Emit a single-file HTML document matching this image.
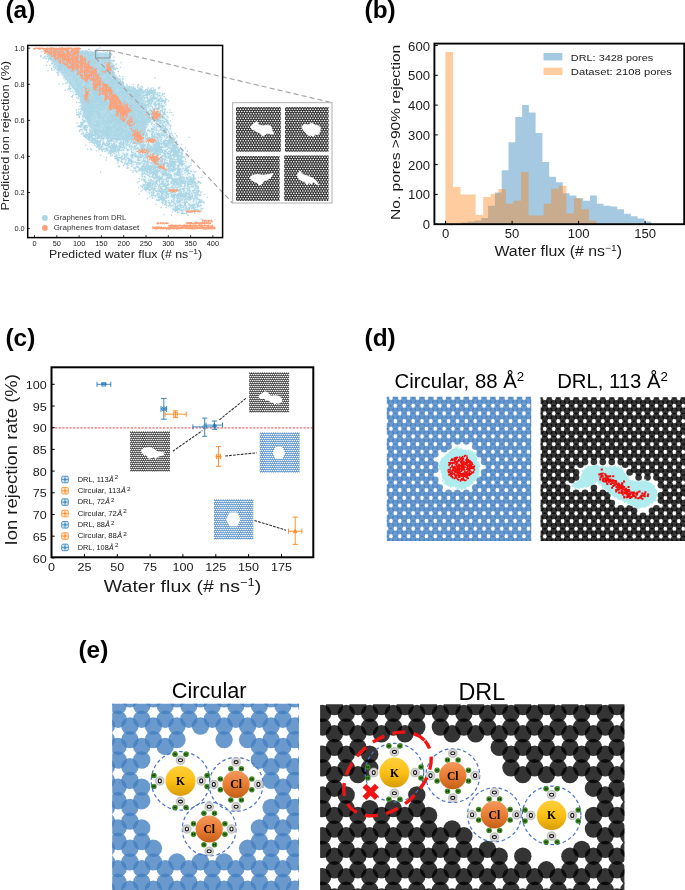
<!DOCTYPE html>
<html><head><meta charset="utf-8"><title>Figure</title>
<style>
html,body{margin:0;padding:0;background:#fff;}
body{width:685px;height:890px;overflow:hidden;}
svg{display:block;font-family:"Liberation Sans",sans-serif;}
</style></head><body>
<svg width="685" height="890" viewBox="0 0 685 890">
<defs>
<pattern id="hexS" width="13" height="9" patternUnits="userSpaceOnUse"><rect width="13" height="9" fill="#343434"/><circle cx="0.65" cy="0" r="0.8" fill="#fff"/><circle cx="3.25" cy="0" r="0.8" fill="#fff"/><circle cx="5.85" cy="0" r="0.8" fill="#fff"/><circle cx="8.45" cy="0" r="0.8" fill="#fff"/><circle cx="11.05" cy="0" r="0.8" fill="#fff"/><circle cx="13.65" cy="0" r="0.8" fill="#fff"/><circle cx="-0.65" cy="2.25" r="0.8" fill="#fff"/><circle cx="1.95" cy="2.25" r="0.8" fill="#fff"/><circle cx="4.55" cy="2.25" r="0.8" fill="#fff"/><circle cx="7.15" cy="2.25" r="0.8" fill="#fff"/><circle cx="9.75" cy="2.25" r="0.8" fill="#fff"/><circle cx="12.35" cy="2.25" r="0.8" fill="#fff"/><circle cx="0.65" cy="4.5" r="0.8" fill="#fff"/><circle cx="3.25" cy="4.5" r="0.8" fill="#fff"/><circle cx="5.85" cy="4.5" r="0.8" fill="#fff"/><circle cx="8.45" cy="4.5" r="0.8" fill="#fff"/><circle cx="11.05" cy="4.5" r="0.8" fill="#fff"/><circle cx="13.65" cy="4.5" r="0.8" fill="#fff"/><circle cx="-0.65" cy="6.75" r="0.8" fill="#fff"/><circle cx="1.95" cy="6.75" r="0.8" fill="#fff"/><circle cx="4.55" cy="6.75" r="0.8" fill="#fff"/><circle cx="7.15" cy="6.75" r="0.8" fill="#fff"/><circle cx="9.75" cy="6.75" r="0.8" fill="#fff"/><circle cx="12.35" cy="6.75" r="0.8" fill="#fff"/><circle cx="0.65" cy="9" r="0.8" fill="#fff"/><circle cx="3.25" cy="9" r="0.8" fill="#fff"/><circle cx="5.85" cy="9" r="0.8" fill="#fff"/><circle cx="8.45" cy="9" r="0.8" fill="#fff"/><circle cx="11.05" cy="9" r="0.8" fill="#fff"/><circle cx="13.65" cy="9" r="0.8" fill="#fff"/></pattern>
<pattern id="hexD" width="11" height="4" patternUnits="userSpaceOnUse"><rect width="11" height="4" fill="#424242"/><rect x="0.55" y="0" width="1.65" height="1.2" rx=".4" fill="#fff"/><rect x="2.75" y="0" width="1.65" height="1.2" rx=".4" fill="#fff"/><rect x="4.95" y="0" width="1.65" height="1.2" rx=".4" fill="#fff"/><rect x="7.15" y="0" width="1.65" height="1.2" rx=".4" fill="#fff"/><rect x="9.35" y="0" width="1.65" height="1.2" rx=".4" fill="#fff"/><rect x="-0.55" y="2" width="1.65" height="1.2" rx=".4" fill="#fff"/><rect x="1.65" y="2" width="1.65" height="1.2" rx=".4" fill="#fff"/><rect x="3.85" y="2" width="1.65" height="1.2" rx=".4" fill="#fff"/><rect x="6.05" y="2" width="1.65" height="1.2" rx=".4" fill="#fff"/><rect x="8.25" y="2" width="1.65" height="1.2" rx=".4" fill="#fff"/><rect x="10.45" y="2" width="1.65" height="1.2" rx=".4" fill="#fff"/></pattern>
<pattern id="hexB" width="11" height="4" patternUnits="userSpaceOnUse"><rect width="11" height="4" fill="#5a94d0"/><rect x="-1.65" y="0" width="1.7" height="1.25" rx=".4" fill="#fff"/><rect x="0.55" y="0" width="1.7" height="1.25" rx=".4" fill="#fff"/><rect x="2.75" y="0" width="1.7" height="1.25" rx=".4" fill="#fff"/><rect x="4.95" y="0" width="1.7" height="1.25" rx=".4" fill="#fff"/><rect x="7.15" y="0" width="1.7" height="1.25" rx=".4" fill="#fff"/><rect x="9.35" y="0" width="1.7" height="1.25" rx=".4" fill="#fff"/><rect x="-0.55" y="2" width="1.7" height="1.25" rx=".4" fill="#fff"/><rect x="1.65" y="2" width="1.7" height="1.25" rx=".4" fill="#fff"/><rect x="3.85" y="2" width="1.7" height="1.25" rx=".4" fill="#fff"/><rect x="6.05" y="2" width="1.7" height="1.25" rx=".4" fill="#fff"/><rect x="8.25" y="2" width="1.7" height="1.25" rx=".4" fill="#fff"/><rect x="10.45" y="2" width="1.7" height="1.25" rx=".4" fill="#fff"/></pattern>
<clipPath id="cl1"><rect x="386.8" y="396.8" width="144.4" height="144.2"/></clipPath>
<clipPath id="cl2"><rect x="540.6" y="397.2" width="144.4" height="143.8"/></clipPath>
<linearGradient id="gK" x1="0" y1="0" x2="0" y2="1"><stop offset="0" stop-color="#fdd03c"/><stop offset=".5" stop-color="#fcc015"/><stop offset="1" stop-color="#d89c06"/></linearGradient>
<linearGradient id="gCl" x1="0" y1="0" x2="0" y2="1"><stop offset="0" stop-color="#f3995c"/><stop offset=".5" stop-color="#ea7d33"/><stop offset="1" stop-color="#c35f18"/></linearGradient>
<radialGradient id="gO" cx=".5" cy=".5" r=".5"><stop offset="0" stop-color="#fafafa"/><stop offset=".55" stop-color="#dcdcdc"/><stop offset=".85" stop-color="#bdbdbd"/><stop offset="1" stop-color="#c8c8c8" stop-opacity=".55"/></radialGradient>
<radialGradient id="gH" cx=".5" cy=".45" r=".6"><stop offset="0" stop-color="#5cb030"/><stop offset="1" stop-color="#2f7a1a"/></radialGradient>
<clipPath id="cl3"><rect x="112.2" y="703.8" width="186.7" height="186.2"/></clipPath>
<clipPath id="cl4"><rect x="320.1" y="704.3" width="304.3" height="185.7"/></clipPath>
</defs>
<rect width="685" height="890" fill="#fff"/>
<g opacity="0.999">
<g id="pa">
<text x="5.5" y="18.2" font-size="24.4" font-weight="bold" >(a)</text>
<path d="M44 49.5L80 50.5L110.8 52.5L114.5 72L124 84L134.4 88.5L161.5 92.5L167.9 116.8L174.5 140.2L187.9 163.7L198.2 181.7L202.4 211.5L190 212.5L176.8 212L160 203L146.4 193.4L137 170L116 158L95 146.7L84 135L80.5 123.4L79 100L68 85L57 71L49 60 Z" fill="#abd6e6" fill-opacity=".2"/>
<path d="M46 50.5L80 51.5L109 53.5L112.5 73L124 86L140 92L150 118L140 140L110 140L92 130L84 115L82 100L70 84L59 70L51 60 Z" fill="#abd6e6" fill-opacity=".8" stroke="#abd6e6" stroke-opacity=".3" stroke-width="2.5" stroke-linejoin="round"/>
<path d="M174.2 176.1h0M164.3 189.4h0M180.2 179.1h0M87.7 62.8h0M140.4 164.1h0M73.4 76.7h0M132.6 129.3h0M198 183h0M115.2 111.9h0M119.4 76h0M98.8 83.1h0M88.7 119.1h0M112.8 105.9h0M148.7 143.7h0M97.1 51.7h0M164.6 145.8h0M107.9 79.9h0M165.7 151.5h0M109.2 62.8h0M128.4 123.6h0M108.4 98.9h0M160 120.5h0M126.7 116.8h0M158.7 196.5h0M115.9 77h0M89.3 58.4h0M113.3 127.4h0M167.7 130.2h0M121.2 150.6h0M90.6 76.6h0M107.7 77.5h0M110 79h0M177.4 208.4h0M127 112.2h0M115.5 146h0M172.2 146h0M193.8 178.6h0M153.8 132.2h0M164.5 172.7h0M151 110.3h0M95.9 76.9h0M180.1 202.1h0M140.7 125.8h0M109.9 146.5h0M117.5 114.8h0M142.9 173.9h0M151.5 154.7h0M135.8 106.5h0M126.1 116.7h0M177.5 189.5h0M61.7 64h0M111.4 89.1h0M151.8 189.1h0M133.2 120.3h0M97.9 98.8h0M109.2 78.5h0M56.9 62h0M139.5 121.7h0M77.1 59.1h0M142.5 170.3h0M154.6 127.8h0M106.6 76.4h0M130.1 159h0M182.6 189.2h0M98.9 123.7h0M81.3 114.1h0M121.9 121.1h0M103.6 114.1h0M151.7 122.8h0M168.8 190.2h0M168.9 205.8h0M142.1 132.8h0M82.7 79.2h0M164.1 96.4h0M152.5 189.1h0M182.3 195.6h0M148.4 112.7h0M141.2 90.9h0M116.5 135.5h0M157.1 135h0M181.4 164.5h0M183.2 168.2h0M135.5 154.3h0M83.3 88.2h0M132 147.8h0M116.7 155.6h0M91 79.1h0M139.7 163.3h0M93.7 70.7h0M164.5 190.7h0M89.3 83.2h0M147.4 167.5h0M57 69.3h0M198.9 205.8h0M174 198.4h0M124.4 104h0M95.2 136.2h0M163.1 186.2h0M48.3 54.1h0M170.3 135.5h0M115.9 131h0M102.9 88.2h0M131.8 118.3h0M161.8 110.3h0M123.4 111.4h0M151.7 167.8h0M174.6 187.8h0M118.5 98.3h0M88.6 113.6h0M181.9 164.9h0M121.8 101.1h0M151.2 99.2h0M168.5 169h0M132.6 89.8h0M175.2 153.3h0M77.1 85.3h0M96.3 122.1h0M113.7 110.9h0M80.9 122.4h0M148.3 155.6h0M147.1 150.9h0M81.6 66.1h0M93.7 119.8h0M161.2 122h0M121.9 158.1h0M160.4 110.4h0M161.8 150.5h0M81.1 80.3h0M110.7 146.8h0M121.4 92.7h0M99.6 66.4h0M193.9 204.6h0M96.8 53.6h0M136.2 122.9h0M179.8 206h0M153.1 171.4h0M79.5 62.5h0M88.1 90.8h0M97.4 95.2h0M96.7 125h0M98.1 86.1h0M138.4 157.8h0M186.1 188.5h0M49.3 55.4h0M105.3 61.1h0M104.6 55.6h0M76.4 78.2h0M68.8 73.9h0M157.9 139.9h0M127.1 141h0M128.3 162.1h0M97.4 101h0M98.8 146h0M73 62.7h0M178.3 159.9h0M156.3 164.2h0M194.8 212.1h0M78.8 109.3h0M142.3 173.7h0M121.3 109h0M145.7 149.2h0M121.9 118.7h0M118.6 111.1h0M100 137.9h0M117.2 122.3h0M89.9 79.1h0M138.3 101.2h0M98.4 101.8h0M89.4 49.7h0M117.3 121.7h0M126.7 121.8h0M99.7 76.4h0M190.9 205.4h0M162.8 108.2h0M194.3 193.1h0M101.8 65.3h0M80.1 64.3h0M109.5 133.7h0M124.9 156.3h0M121.6 126.4h0M82.9 109.1h0M103.4 106.4h0M58.8 53.3h0M161.3 164.2h0M167 116.1h0M189.1 184.3h0M145.1 103.8h0M191.3 171.5h0M160 167.5h0M164.8 192.6h0M126.3 141h0M97.5 111h0M159.2 137.4h0M131 107.7h0M148 122.6h0M155.5 181.6h0M59.4 63.8h0M158.4 179.3h0M165.9 200.8h0M107.2 56.3h0M102.2 70.2h0M92.7 134.6h0M146.2 173.7h0M113.3 125.9h0M188 193.9h0M193.8 175.2h0M135.5 108.7h0M50.6 50.4h0M92.2 93.7h0M107.2 135.2h0M168.4 154.3h0M87.9 63.6h0M93.1 69.8h0M100.4 69.7h0M146.5 154.7h0M198.6 210.4h0M72.8 75.2h0M132.1 157.2h0M174.7 162.1h0M166.1 130.4h0M157.6 154.7h0M101 98.7h0M85 64.9h0M87.5 84.3h0M54.5 53.2h0M89.8 58.5h0M163.9 156.2h0M130.4 138.5h0M90.7 91.2h0M129.9 94.8h0M106.3 72.4h0M89 84.6h0M70 58.1h0M141.7 139.8h0M176.2 185.3h0M160.4 136h0M194.5 190.6h0M89.9 100h0M171 155.2h0M147.4 93.2h0M137.4 160.3h0M102.7 119.1h0M95.9 61.2h0M136.6 118.4h0M162.5 135.5h0M120 95h0M73 65.6h0M165.4 145h0M159.6 134h0M113.3 138.1h0M145.2 122.5h0M153.4 180.7h0M165.2 146.9h0M112.9 151.1h0M136.5 134.4h0M157.7 113.8h0M141.8 91.1h0M172.3 161.2h0M146.8 106.9h0M100.6 71.8h0M92.1 124.7h0M116.2 141.3h0M99.6 116.9h0M192.9 181.2h0M185.5 161.4h0M101.6 82.7h0M149.1 185.2h0M170.8 171.1h0M73.4 77.3h0M179.1 212.1h0M116.4 124.9h0M129.9 99.6h0M86.7 67.7h0M84.2 105h0M131.3 162.2h0M169 193.4h0M64.2 73h0M110.8 140.1h0M102.4 60.8h0M142.4 122.1h0M126.3 93.9h0M88.6 119.3h0M146.9 185.4h0M116 100.1h0M79.7 76.6h0M154 182.5h0M76.8 75.5h0M132.9 127h0M141.1 148.4h0M155.3 137.2h0M177.3 170.1h0M110.5 71.2h0M138.8 134h0M69.5 82.9h0M112.6 74.9h0M83.5 135.7h0M125.4 87.3h0M83.2 113h0M106.1 73.7h0M110.2 92.1h0M66.6 69.2h0M160.5 172h0M166.3 138.3h0M66 56.6h0M187.3 174.6h0M157.2 94.4h0M98.2 138.2h0M177.6 201.2h0M70.3 80.7h0M167.2 121.8h0M121.5 88.6h0M83.4 105.8h0M81.7 87.2h0M93.7 59.1h0M101.6 81.9h0M85.9 53.2h0M125.1 111.3h0M124 102.5h0M142.7 131.2h0M46.7 54.4h0M145.9 155.7h0M171.5 150.1h0M168.9 153.5h0M129.1 135.1h0M57.8 51h0M84.6 122.1h0M146.4 135.8h0M157.8 153.7h0M170.7 178h0M123 124.5h0M70.7 72.3h0M169.5 175.8h0M58.7 70.2h0M123.2 103.4h0M112.2 155.3h0M136.7 121.7h0M151.6 193.1h0M170.1 161h0M112.3 86.3h0M86.8 137h0M107.4 56.7h0M89.1 136.1h0M132.9 142.4h0M138.8 162.6h0M152.3 123.2h0M173.9 153.6h0M93.5 129.9h0M150.7 120.7h0M168.4 154.3h0M140.7 110.9h0M92.5 137.7h0M182.7 207.4h0M133.3 130.5h0M83.1 79h0M101 68.6h0M91.6 140.6h0M158.5 200.2h0M77.6 90.4h0M170.2 172.8h0M172.4 180.4h0M84.8 53.2h0M132.4 154.2h0M72.1 65.9h0M156.9 195.7h0M164.2 126.6h0M197.3 209.8h0M103.7 124.6h0M108.8 82.2h0M104.2 130.9h0M105.9 120.5h0M178.1 207.9h0M123.8 86.4h0M157.7 103.7h0M180.7 177.1h0M188.5 169.8h0M139 89.1h0M150.3 112.7h0M79.5 62.9h0M154.1 103.6h0M159.7 163.7h0M158.3 133.4h0M155.3 196.2h0M156.6 101.5h0M171.7 192.6h0M121.3 103.7h0M81.9 97.2h0M91.1 87.7h0M140.1 106.3h0M171 196.1h0M152.8 174.5h0M153.6 140.7h0M172.9 179.8h0M120.8 119.1h0M125.5 155.7h0M159.2 190.3h0M111 93h0M200.1 182.5h0M142.3 169.4h0M84.5 105h0M146.7 133.7h0M139.1 104.7h0M128.9 128.7h0M91.1 127.9h0M182 171.5h0M69.7 82.6h0M65.9 52.1h0M129.6 159.5h0M189.2 181.9h0M144.5 118.2h0M166.1 196h0M149 110.9h0M111.2 145.6h0M131.4 120.5h0M103.8 69.3h0M136.7 144h0M150.9 168.3h0M90.1 133.9h0M196.3 203h0M64.1 58h0M134.5 112.9h0M158.6 178.1h0M156.3 186.2h0M128.3 100.1h0M142 135.1h0M77.4 79.1h0M173.4 166.4h0M105.1 59.8h0M133.2 128.2h0M86 86.8h0M117.6 128.8h0M143.9 164.1h0M76 49.9h0M80.5 95.7h0M103.2 61.7h0M95.8 99.8h0M159.1 107.4h0M109.1 66.5h0M113.5 97.9h0M170.6 126.5h0M188.5 172.4h0M128.1 115.4h0M104.5 115h0M159.4 134.7h0M88.1 73h0M98.6 115.7h0M106 82.9h0M93.2 70.3h0M84.7 55.8h0M110.7 83.3h0M133.5 143.2h0M144.1 173.4h0M64.7 55.9h0M141.5 166.9h0M139.9 131.9h0M111.2 117.5h0M124.3 96.9h0M153.6 149.9h0M109.4 67.9h0M152.6 115.4h0M190.4 205h0M173.3 194.9h0M151.1 104.3h0M96.3 95.3h0M146.5 171.7h0M88.5 81.9h0M144.7 149.3h0M156.4 128.1h0M118.7 157.8h0M185.3 166.1h0M149.3 167.6h0M156.6 200.1h0M159.5 181.9h0M168.3 180.9h0M182.4 182h0M106.6 70.4h0M99.8 95.4h0M85.5 58h0M107.3 97.5h0M94.6 59.3h0M190.2 198.2h0M181.6 156.2h0M155.4 130.1h0M77.6 87.9h0M123.3 102.7h0M96.9 113.4h0M143.8 119.8h0M108.7 121.3h0M140.1 128.6h0M128.5 142.6h0M152.8 129.8h0M143.4 161h0M152.8 156.3h0M193.9 209.1h0M179.3 156.4h0M134.8 141.3h0M95.5 69.6h0M160.6 187.3h0M146.7 101.8h0M123.9 103.9h0M89.4 100.3h0M173.5 189.3h0M50.5 54.1h0M160.3 198.1h0M111 101.8h0M86.6 135.1h0M176.5 172.9h0M88.1 122.6h0M185.5 195.1h0M181.4 196.7h0M160.6 123.7h0M142.4 154.9h0M73.9 58.2h0M162.3 169h0M96.1 132.7h0M157.8 126.4h0M114 108.2h0M94.2 67.2h0M114.8 124.8h0M140.4 93.9h0M157.1 161.6h0M145.6 154.2h0M159.3 200.4h0M184.4 202.1h0M83.5 110h0M114.3 69.3h0M82.7 124.7h0M82.9 116.5h0M153.1 115.5h0M181.9 193.6h0M198.5 195.1h0M94.9 110.4h0M137.1 137.1h0M144.3 132.7h0M170.7 165.1h0M124.5 144.1h0M90.3 131.3h0M165.8 192.5h0M131.9 162.8h0M100.6 118.1h0M157.2 172.9h0M87.5 53.9h0M155.2 133.9h0M140.7 138.6h0M90 64.3h0M131.7 96h0M87.5 92.9h0M140.4 168.5h0M84.1 109.2h0M107.3 51.7h0M106.3 138.1h0M144.4 172.4h0M168.1 125.7h0M91 84.8h0M83.1 81.9h0M88.7 99.2h0M155.8 148.6h0M119.1 157.6h0M106.8 109.8h0M167.7 190.7h0M162.3 189.2h0M106.5 103.8h0M124.7 88.4h0M154.7 145.6h0M159.8 93.3h0M196.2 201h0M137.3 111.4h0M105.8 148.9h0M52.2 59.3h0M112.1 139.6h0M111.7 94.6h0M95.2 117.2h0M169.8 156.2h0M158.9 105h0M143.6 179.3h0M114 103.2h0M94.1 55.3h0M161.5 152.6h0M197.3 198.2h0M99 74.5h0M135.2 93.2h0M152.7 133.9h0M150.9 189.6h0M123 142.9h0M116.8 142h0M161.1 110.7h0M123.6 96.6h0M96.8 99.7h0M88.7 55.7h0M124.9 106h0M89.4 107.6h0M165 195.5h0M118.4 104.1h0M187.1 167h0M82.4 97h0M161 106.2h0M189.2 196.9h0M127 154.1h0M136.7 130.5h0M73 57.5h0M136.2 133.8h0M148.8 185.3h0M162.6 193.6h0M143.6 100.6h0M133.8 130.9h0M144.5 161.1h0M144.8 92.4h0M46.7 58.3h0M82.5 95.2h0M114.7 148.3h0M163.8 164.2h0M190.1 212.5h0M134.7 136.4h0M81.2 77.1h0M124.5 113.6h0M102.1 73.7h0M119.6 98.3h0M178.1 153.4h0M102.7 60.8h0M75.1 53.8h0M172.3 141.5h0M154.1 93.3h0M114.5 93.3h0M194.1 205.1h0M178.1 202.4h0M197 210.1h0M117.2 102.2h0M152.9 160h0M72.6 86.5h0M99.7 57.7h0M160.5 183.9h0M133.7 132h0M122.1 103.2h0M88.3 73.9h0M86 81.5h0M93.5 91.8h0M90.7 95.2h0M90.6 111.9h0M74 84.6h0M97.1 54.4h0M88.1 122h0M82.8 53.5h0M186.2 201.7h0M135.2 128.2h0M179.1 197.9h0M113.8 103.1h0M157.9 193.7h0M101 138.8h0M187.8 211.1h0M88.3 108.2h0M150 121.6h0M163.8 142.1h0M155.6 97.7h0M178.1 171.3h0M153 143.8h0M185.3 169.7h0M116.1 154.4h0M95.5 67.2h0M160.5 188.3h0M174.4 197.3h0M158.7 186.9h0M105.5 100.8h0M86.2 79.2h0M124.3 119.3h0M130.3 135h0M190.9 181.6h0M50 51.6h0M77.4 55.7h0M108.7 137.6h0M89.8 123.7h0M103.6 74h0M156.8 124.9h0M81.8 72.6h0M126.1 129.9h0M153.9 189.3h0M139 136.4h0M88.2 116.7h0M168.7 184.3h0M173.1 155.8h0M136.7 130.2h0M78.8 113.7h0M101.1 88.2h0M165.4 172.7h0M145 106.9h0M115 95.6h0M164.5 136.4h0M162.1 99h0M116 80.8h0M124.5 148.5h0M135.7 135.2h0M146.7 139.8h0M156.2 123.5h0M92.3 133.2h0M151.4 192.8h0M102.4 86.9h0M92.5 100.4h0M91.4 110.8h0M148.5 183.3h0M158.3 197h0M109.1 102.3h0M124.2 88.7h0M83.3 87.5h0M115 98.2h0M61.4 69h0M141.9 179.4h0M78.7 95.9h0M57.4 57.8h0M164.6 198h0M186.5 206.8h0M117 82.1h0M129 90.5h0M93.7 98h0M121.8 136.1h0M109.2 121.7h0M171.7 200.4h0M124.3 147h0M125.6 140.4h0M94.6 135.1h0M101.3 103.9h0M117.4 94.7h0M170 159.1h0M144.3 128h0M97.9 137.6h0M173.8 201.2h0M100.5 144.5h0M164.4 141.8h0M59.1 68.7h0M115 111.3h0M97.5 142.3h0M158.6 126.3h0M117.2 80.7h0M133.4 162h0M75.2 89h0M178.5 156.3h0M83 79.5h0M162.4 124.2h0M82.2 61.1h0M151.5 142.5h0M153.5 131.7h0M144.4 112.1h0M146 140.1h0M107.4 122.8h0M165.9 124.3h0M189.7 187.8h0M166.3 192.4h0M79.5 117.3h0M121.9 118h0M108 143.6h0M177 187.3h0M127 111.2h0M150.1 97.2h0M111.2 123h0M105 74.2h0M64.9 62.8h0M146.5 152.9h0M143.3 124.2h0M181.2 180.4h0M84 108.1h0M107.1 141.5h0M164.8 151.3h0M124.2 121.5h0M165.8 179.3h0M103.2 90h0M87.2 51h0M191.9 186.3h0M86.2 77.5h0M158.9 133.7h0M103.9 106.6h0M80.3 62.8h0M127.4 109.6h0M93.2 104.2h0M191.7 197.1h0M194.6 204.8h0M187 211.1h0M135.2 146.4h0M149.7 100.2h0M56.2 54.3h0M49.1 51.7h0M90.9 106h0M107.1 105.3h0M105.8 69.9h0M142.6 144.6h0M163.5 172.7h0M165 114.3h0M122.5 138.8h0M175.2 150.6h0M178.7 173.5h0M188.2 184.9h0M90.3 119.4h0M82.2 107.1h0M170.4 192.1h0M91.7 140.3h0M91.7 55.4h0M142.3 113.4h0M152.3 197.6h0M86.1 86.3h0M58.5 55.7h0M169 153.9h0M164.3 106.4h0M182 200.3h0M104.3 131.9h0M158.4 101.3h0M131.8 135.2h0M105.6 52.9h0M189 199.7h0M132.9 158.2h0M174.5 200h0M78.6 87.4h0M198.6 188.1h0M141.1 92.7h0M146.6 152.4h0M162.3 101.4h0M122.1 92h0M73.9 88h0M118.3 107.1h0M89.7 77.6h0M80.8 93.5h0M89.6 126.1h0M142 138.2h0M52 53.1h0M114.4 77.6h0M194.6 213h0M164.5 117.3h0M147 100.6h0M102.4 83.8h0M105.8 132.6h0M96.6 62.2h0M155.3 148.2h0M166.6 163.5h0M126.2 120h0M91.1 130.4h0M134.9 119.4h0M107.6 88.2h0M102.6 70.6h0M180.9 176.9h0M163 143.1h0M128.4 116.9h0M169.6 140.7h0M87.8 62.4h0M97.8 114.7h0M174.4 139.5h0M83.2 61.4h0M126.1 136h0M145.3 120.5h0M124 101.9h0M178.6 165.2h0M86.9 100.2h0M150.5 151.3h0M164 200.2h0M120 114.6h0M86.7 69.1h0M197.8 209.9h0M97.6 129.8h0M148.5 156.4h0M182.9 161.6h0M169.9 134.6h0M159.3 197.2h0M132.4 98.1h0M170 133.6h0M118.1 105.2h0M123.5 105.7h0M136.1 95.8h0M164.9 132.9h0M103.1 120.6h0M182.4 189.3h0M83.7 70.8h0M151.8 152.1h0M179 176h0M114.8 151.5h0M196.9 199.1h0M171 182h0M164.2 179.6h0M143.5 143.3h0M175.4 207.8h0M142.5 119.4h0M122.7 92.1h0M133 140.1h0M162.1 95.2h0M100.4 64.1h0M118.6 103.6h0M59.1 54.4h0M93.3 114.6h0M126.6 115.5h0M94.3 98.1h0M131 136.3h0M79.8 85.1h0M153.6 144.5h0M162 177.5h0M121 101h0M109.3 152.3h0M113.7 60.3h0M117.1 116.1h0M88.9 53.6h0M196.9 188.2h0M132.4 156.5h0M95.3 52.6h0M187.6 178.2h0M91.9 140.6h0M177.5 189.2h0M89.7 130.1h0M85.8 84.2h0M71.4 54.6h0M173.1 201.6h0M73.2 78.7h0M100.5 91.3h0M190.3 211.9h0M66.7 67.3h0M91 104h0M83 90.9h0M125.5 133.5h0M163.2 94.4h0M62.5 64.4h0M120.4 128.7h0M122.3 145.4h0M61.2 66.4h0M113.5 82.2h0M112.2 109.5h0M180 152.4h0M189.1 188.1h0M145 162.3h0M139.5 122.1h0M158.7 165.1h0M117.1 94.9h0M91.7 106.7h0M103.2 95.4h0M197.7 206.9h0M147.8 93.7h0M169.4 161.2h0M140.3 152.8h0M157.5 184.3h0M127.9 109.4h0M113.8 94h0M161.1 191.8h0M166.2 175.5h0M143.3 93.4h0M142.5 161.7h0M164.1 154.1h0M186.5 206.4h0M146.3 134.7h0M97.2 85.6h0M75.8 79.9h0M133.2 120.3h0M50.6 59.3h0M90.5 108.1h0M165.7 157.1h0M150.2 167.2h0M121.3 135.3h0M151.6 128.7h0M94.5 75h0M88.6 81.6h0M95.6 97.7h0M105.6 99.6h0M139.2 117.2h0M157.8 144h0M102.5 103.7h0M91.2 63.5h0M92.5 104h0M115.8 140h0M115.5 129.2h0M170.5 204.5h0M116.2 118.1h0M173.3 183.6h0M56 56.8h0M104.9 151.6h0M76.3 69.3h0M116 130.5h0M170.6 170.7h0M85.8 85.1h0M195.8 189.8h0M198 206.7h0M101.5 99.2h0M131.7 152.3h0M157.3 167.2h0M92 113.2h0M93.9 100.3h0M182.2 154.6h0M171.3 192.4h0M131 163.7h0M160.9 105.4h0M95.3 98.8h0M75.3 67.6h0M92.5 132.6h0M115.6 147.3h0M147.2 154.3h0M111.3 86.5h0M174.1 197.5h0M142.5 103.9h0M101.7 92.9h0M92 54.3h0M189.8 178.7h0M150.8 189.8h0M85.3 55h0M142 146.1h0M157.7 93.2h0M158.1 120.1h0M87.6 62.8h0M187.1 211.2h0M142.6 161.6h0M153.3 140h0M106.1 150.4h0M163.4 140.7h0M120 99.9h0M101.5 79.1h0M87.7 69.4h0M169.7 160h0M171.9 151.4h0M67.3 58.2h0M156.1 172.8h0M186.3 202h0M155 126.8h0M90.8 90.2h0M137.4 99.3h0M132.6 143.9h0M106.4 79.9h0M100.8 71.7h0M126.8 153.4h0M85.6 115.8h0M108.4 146.3h0M94.2 101.5h0M102.3 59.8h0M53.7 58.2h0M167.7 121.7h0M64.2 65.2h0M75.1 63.6h0M88 112.2h0M118.6 115.4h0M130.9 142.2h0M114.7 145.9h0M169 205.7h0M164.6 122.7h0M171.3 161.7h0M90.8 106.8h0M85.6 111.9h0M93.3 111.7h0M125 157.7h0M197.7 204.3h0M160.3 166.5h0M136.1 110.2h0M163.7 202.1h0M135.4 141.2h0M89.1 117.2h0M92.9 107h0M101.4 59.6h0M165.9 188h0M179.9 173.8h0M163.1 135.2h0M124.2 157.6h0M157.1 172.2h0M144.2 118.5h0M155.9 183.6h0M145 101.3h0M166.6 181h0M169.9 175.2h0M176.8 174.5h0M194.9 207.7h0M153.1 162.4h0M103.4 87.4h0M80.4 69.7h0M124.4 102.4h0M151.7 134.1h0M158.9 194.4h0M120.1 111.9h0M194.1 179.1h0M170.4 165.3h0M153.9 187.7h0M160.7 115.2h0M152.1 92.4h0M126.6 144.8h0M114.1 125.2h0M186.3 211.8h0M104.2 69.3h0M53.1 55h0M161.5 156.8h0M94.7 86.7h0M163 185.9h0M127.2 135h0M151.8 195h0M157 107.9h0M174.2 173.6h0M118.4 93.1h0M174.3 149.7h0M131.7 108.7h0M149.8 139.3h0M108.6 112.7h0M159.4 165.7h0M92.9 135.4h0M168.6 146.9h0M127 132.3h0M174.5 145.6h0M100.7 81h0M156.4 119.6h0M122.5 123.5h0M165.2 189.1h0M112.8 81.4h0M105.6 135.4h0M170.5 151.9h0M108 135.9h0M165.3 185.5h0M170.4 153.3h0M169.7 177.8h0M119.1 143.6h0M65.8 77.1h0M139.4 102.5h0M144.2 149.2h0M87.8 117.4h0M138.1 162.2h0M165.1 186.4h0M136.5 91.8h0M149.4 193.1h0M108.9 107.5h0M105.2 104.7h0M140.9 149.5h0M72 63.7h0M77.2 89.4h0M197.5 188.3h0M65.9 53.5h0M116.4 145.3h0M128.6 97.4h0M155.8 188.2h0M170.2 165h0M135.9 141.1h0M150.1 185.9h0M107.2 66.3h0M96.5 101.3h0M145.4 136.9h0M158.6 106.2h0M96.6 92.3h0M110.1 74.6h0M153.5 128.4h0M86.4 56.5h0M177.4 190.4h0M164 116.8h0M69.2 86.3h0M98.4 122.1h0M96.9 131.9h0M151.8 150.9h0M86.8 132.5h0M177.6 168.4h0M193.4 179.4h0M106.8 103.3h0M148.1 155.8h0M150.3 179.3h0M75.7 74.1h0M172 154.8h0M153 116.5h0M113.9 152h0M127.9 133.6h0M166.1 198.3h0M166.9 129.1h0M132.7 136h0M174.1 156.5h0M125 158.2h0M169.5 140.9h0M162.3 173.1h0M135 102.1h0M75.4 71h0M108.4 142.9h0M73.3 80.1h0M90.5 124h0M145.7 111.7h0M110.3 94.2h0M89.3 59.4h0M165 172.4h0M168.3 141.8h0M101.3 74.1h0M189.6 198.6h0M109.7 101.9h0M150.5 98.9h0M176.7 175h0M172.7 139h0M83.2 82.8h0M105.7 148.7h0M85.8 121.3h0M106.2 57.5h0M110.6 133.3h0M122.8 119.4h0M139.1 90.4h0M112.1 82.2h0M188 196h0M104.2 60h0M175.7 164.5h0M133 121.9h0M188.2 179.7h0M153.7 109.7h0M151.8 110.8h0M77.6 94.2h0M187 177.5h0M120.2 87.4h0M95.7 141.7h0M131.2 154.7h0M199.2 190.4h0M119.6 92.7h0M141.5 91.6h0M80.6 58.9h0M135.2 135.4h0M110.1 108h0M78.4 74h0M94.1 91.8h0M130.8 117.5h0M159.5 114.6h0M128.6 97.8h0M115.2 76.1h0M96.3 74.7h0M173.9 164.8h0M119 108.8h0M88.9 78h0M137.1 166.2h0M78.9 102.4h0M65.6 53h0M162.1 158.8h0M72.4 58.8h0M90.5 110.5h0M121.9 106.6h0M72.3 57.8h0M167.5 191.5h0M170.4 168.1h0M162 202.5h0M80.1 60.8h0M119.7 111h0M85.7 71.1h0M103.4 88.2h0M157.4 92.9h0M101.6 71.4h0M97 53.9h0M129.1 163.8h0M85.5 112.8h0M142 175.1h0M169.4 166h0M94 108.3h0M166.3 189.7h0M130.8 170h0M180 155.3h0M90.4 60.7h0M108.5 127.5h0M60.7 50.1h0M137.1 98.1h0M124.9 95.6h0M62.7 58.6h0M123.6 147.3h0M159.5 95.3h0M136.8 128.1h0M129 124.2h0M140.7 160.1h0M140.7 142.1h0M116.7 139.1h0M164.7 111.9h0M74.1 53.2h0M107.8 144.2h0M112.3 131.6h0M151.1 154.2h0M105 96.7h0M86.6 73.2h0M176 152.3h0M151.3 134.3h0M84.9 95.8h0M124.1 110.4h0M87.2 127.5h0M75.7 67h0M193.6 201.2h0M171 159.4h0M106.7 77.1h0M112.2 60.9h0M190.8 171.1h0M119.5 100.2h0M193.3 171h0M178.7 170.1h0M138.2 159h0M177 191.6h0M187.8 189.8h0M157.8 171.8h0M159 122.1h0M94.7 131.5h0M149 99.3h0M108.7 94.1h0M101.4 76h0M146.8 119h0M170.1 165.7h0M154.5 187.9h0M113.9 74.3h0M86 128h0M181.7 158.2h0M149.2 151.4h0M67.8 67.4h0M106.9 148.8h0M189.5 210.3h0M137.7 148.5h0M131.9 104.7h0M98.2 134.5h0M192.8 174.8h0M123.9 146.5h0M134.6 112.2h0M153.4 144.7h0M143.8 139.2h0M95.5 91.9h0M87.7 83.1h0M121.4 127.6h0M157.2 133.8h0M110.3 86.7h0M178.4 201.3h0M86.7 62.4h0M95.6 138.1h0M115.4 147.1h0M164.1 109.4h0M97.4 56.3h0M121.6 115.5h0M94.7 111.3h0M108.2 153.4h0M108 117.2h0M147.7 120.2h0M176.7 155.3h0M126.9 144.3h0M165.2 190.4h0M166.1 158.1h0M124.4 117.4h0M93.9 138.4h0M57.9 61.7h0M152.6 185.4h0M154.5 108.9h0M132.5 98.5h0M107.4 138.4h0M148.5 175.6h0M180.2 186.9h0M105 131.1h0M155.1 158.6h0M162.2 192.2h0M55.6 64.3h0M111.7 146h0M87.1 82h0M112.4 92.4h0M143.1 169.3h0M164.6 122.4h0M68.5 68.9h0M94.7 126.5h0M94.2 107.2h0M101.4 89.6h0M134.2 146.1h0M178.9 174.4h0M181.8 157h0M127.5 133.1h0M154.8 159h0M162.7 180.6h0M119.5 130.3h0M158.1 172.4h0M170.1 175.6h0M166.2 207.4h0M141.2 116.8h0M152.9 189.5h0M105.9 113.9h0M165.6 187.9h0M132.1 154.3h0M162.3 174.9h0M96 112.1h0M156.1 147.5h0M134.5 146.6h0M132.4 118.7h0M86.3 125.4h0M83.7 114.1h0M95 86.6h0M94.2 84.9h0M175.4 163.9h0M114.7 143.3h0M121.9 112.5h0M89.4 134.5h0M154.8 152.9h0M167.6 191h0M98.3 115.5h0M156.9 123.4h0M98.4 115.9h0M130.2 160.3h0M99 55.7h0M98 116.3h0M170.4 120.9h0M102 150.4h0M147.3 185.2h0M121.6 150.6h0M88.9 139.7h0M157.8 139.1h0M108.8 136.7h0M74.5 64.3h0M176.9 168.6h0M135.9 157.1h0M140.7 111.4h0M146.8 162.3h0M127.3 123.2h0M81.9 75.8h0M176.3 146.1h0M108.3 59.1h0M127.8 124.3h0M173.3 196.6h0M135 93.8h0M121.9 147.1h0M70.2 79.5h0M102.4 68.5h0M123.3 129.4h0M125.3 105.3h0M197.9 183h0M103.5 89.6h0M154.2 124.8h0M177.6 157.9h0M148 116.6h0M77.3 68h0M114.7 115.3h0M164.8 129h0M154.8 96.3h0M185.5 159.1h0M109.9 147.2h0M150.1 109h0M80.7 64.7h0M181.3 179.5h0M116.1 92.7h0M94.5 126h0M163.7 125.7h0M84.7 97.5h0M90 126.2h0M107.5 67.3h0M153.2 159.4h0M159.8 100.3h0M184.3 200.3h0M95.2 121.3h0M93.8 130.6h0M172.3 139h0M82.7 97.2h0M85.5 104.1h0M82.9 77.9h0M104.6 56.6h0M134.5 125.4h0M153.9 117.5h0M101.3 77.9h0M132.1 121.9h0M160.3 150.6h0M140.1 145.4h0M127.3 107.7h0M153.8 190.2h0M81.2 96.1h0M114.3 111.4h0M163.4 186.2h0M131.9 156.1h0M82.3 50.8h0M176.5 183.6h0M128.7 131.9h0M156.9 135.1h0M151.4 163.6h0M140.9 89.8h0M139.4 126.6h0M81.2 73.1h0M174.8 168.4h0M99.5 145.6h0M103.8 94.4h0M169.1 173.9h0M98.9 114.6h0M145.6 131.9h0M103.9 143.1h0M100.9 109h0M91.4 91h0M108 91.2h0M170 136.9h0M119.1 133.4h0M105.4 121.9h0M95.5 136.1h0M162.9 184.2h0M143.4 184.5h0M117.7 82.1h0M153.9 192.4h0M117.5 150.8h0M177.6 196.8h0M104.1 81.2h0M135.2 148.9h0M100.8 131.5h0M85.6 70.4h0M154.5 95.9h0M98.7 109.7h0M121.4 108.5h0M89.1 63.5h0M157.9 119.2h0M130.5 161.3h0M150 97h0M73.8 77.3h0M186.1 178h0M131.9 155.9h0M172.8 183.6h0M134.9 102.8h0M90.1 54.6h0M66.9 83h0M116.5 96.4h0M148.5 130.3h0M93.4 58h0M58.1 55.5h0M158.8 191h0M64.4 65h0M97.7 140.4h0M64.1 77.9h0M108.2 70.6h0M152 145.7h0M182.5 165.7h0M159.6 175.9h0M168.3 189.1h0M167.4 178.6h0M94 96.4h0M175 138.8h0M97 144.1h0M96.2 120.8h0M148.2 113.8h0M188.7 211.5h0M107.8 60.9h0M99.3 130.5h0M140.1 99.8h0M155 164.1h0M129.2 140.7h0M97.6 92.7h0M118.6 123.6h0M171.8 183.3h0M170.2 146.2h0M123.4 99.2h0M82.9 53h0M83.6 86.8h0M102.9 121.8h0M194.5 172.2h0M196.5 192h0M151.4 180.7h0M145.3 129.7h0M167.4 129.7h0M161.5 173.3h0M126.4 108.5h0M142 122.1h0M166.5 205.4h0M158.5 167.2h0M84.7 91.8h0M168.9 142.5h0M109.4 70.9h0M97.3 113h0M100.4 89.4h0M151.7 171.5h0M186.9 167.9h0M131.6 120h0M194.4 183.9h0M168.1 181.3h0M162 161.1h0M142.5 134.4h0M86.2 109.7h0M171.6 202.2h0M142.5 176.6h0M179.3 208.4h0M190.8 206.5h0M76.2 63.9h0M102.5 123.3h0M130.3 96.7h0M115 120.2h0M128.7 149.8h0M63.8 52.1h0M154.1 129.8h0M181.5 157.5h0M125.9 97.7h0M81.2 129.7h0M131.3 124.2h0M75.7 84.3h0M134.4 146.8h0M163.7 150h0M94.2 142.2h0M119.7 146.9h0M117.9 95.3h0M161.2 148h0M108.8 142.7h0M144.9 128.7h0M197.3 185.9h0M190.9 184.6h0M193 204.2h0M180.5 176.7h0M133.6 136.6h0M153.9 94h0M154.2 173.6h0M127 109.8h0M167.6 134.3h0M173.7 165.4h0M145.4 90.6h0M127.9 141.9h0M87.9 57.9h0M117.1 119.8h0M147.5 99.3h0M153.5 183.6h0M181 179.3h0M74.3 60.3h0M175.5 204.9h0M80.9 106.1h0M179.2 166.7h0M88.7 115.8h0M148.1 145.2h0M163.6 132.1h0M91.7 61h0M99.3 69.2h0M125.2 122.3h0M138.5 164.5h0M189.1 197.8h0M87.2 52.8h0M170.9 164.8h0M153.6 98.9h0M88.6 49.3h0M111.3 148.7h0M195.7 185.3h0M147.8 100.6h0M137.4 137.1h0M86 82.9h0M104 95h0M152.1 131.3h0M81.5 70.2h0M191.3 199.3h0M97.4 95.6h0M93 63.6h0M82.5 75.8h0M166.5 145h0M165.3 109.2h0M182.7 196.3h0M110.9 62.9h0M173.1 199.4h0M136.1 157.3h0M138.8 121.2h0M157.4 109.1h0M76.5 79.9h0M195.3 181.9h0M98.8 81.5h0M149.5 122.2h0M102.3 56h0M150.3 155.3h0M88.5 104.5h0M108.3 74.1h0M74.8 66.5h0M142.9 131.2h0M163.7 144.9h0M134.3 103h0M134.7 112.4h0M111.3 116.8h0M176 203.5h0M146.6 148.6h0M117.2 135.6h0M172.3 151.5h0M91.8 108.1h0M145.1 137.5h0M96.6 74.2h0M157.5 170.4h0M132.8 100.8h0M132.7 155.1h0M130.5 132.9h0M176.4 201.5h0M143.5 158.5h0M153.2 116.6h0M143.4 130.3h0M180.7 189.1h0M72.2 62.5h0M87.6 75.9h0M161.3 141.3h0M100.5 99.5h0M121.6 136.4h0M114.3 153.4h0M75.4 65.4h0M187.9 194.2h0M138.7 90h0M147.8 118.4h0M86.1 78.6h0M145.8 135.5h0M167.6 178.6h0M163.5 127.9h0M91.1 63.7h0M89.4 55.4h0M81.9 54.4h0M177.7 175.3h0M160 199.4h0M97.9 105.5h0M121.1 87.8h0M153.6 192.1h0M153.6 161.7h0M85.6 107.1h0M123.7 142.3h0M119.6 113.4h0M144.4 98.9h0M164.8 204.6h0M101.1 148.1h0M80.5 96.2h0M125.7 95.7h0M152.1 191.6h0M135.7 162.5h0M181.3 209.8h0M155.5 119.5h0M155 140h0M111.9 93.9h0M167.1 145.8h0M82.7 51.8h0M160.2 153.7h0M117.1 86.2h0M162 100.2h0M118.7 123.5h0M160.5 162.2h0M110.3 60.9h0M100.6 114.6h0M145.5 174h0M151.5 151.4h0M96 98.8h0M147.6 94.8h0M95.6 60.3h0M135.1 105.6h0M85.3 127.7h0M138.6 151.4h0M168.4 143.5h0M109.3 116h0M88.2 77.3h0M125.3 134.5h0M70.4 52.1h0M150.4 140.3h0M153.7 174.8h0M155.8 186.1h0M97.4 58.5h0M175.8 161.9h0M128.1 122.3h0M97.4 108.3h0M167.6 193.5h0M147 163.4h0M158.5 117.8h0M180.2 173.7h0M86 69.6h0M169.6 141.7h0M138.4 111.8h0M181.3 213.2h0M93.8 83.4h0M127.6 150.4h0M113.9 130.8h0M162.6 127.8h0M69 70.8h0M147.6 174h0M88.7 63.8h0M161.5 190.9h0M189.3 190.7h0M72.7 70.5h0M129 110.3h0M149.2 167.1h0M139.3 141.1h0M112.9 119.7h0M159 199.3h0M176.8 200.7h0M105.2 97.6h0M124.5 109.8h0M116.1 141h0M124.2 117.8h0M147.6 175h0M165.3 175.8h0M123.4 82.6h0M124.1 108.2h0M123.6 165.6h0M154.4 168.9h0M68.9 64.5h0M150.4 97.3h0M140.6 88.9h0M83.9 98.3h0M131.6 137.7h0M93.4 109.2h0M100.6 97.8h0M180.5 160.8h0M163.8 194.1h0M179.1 193.9h0M143.8 155.9h0M186.2 192.4h0M158 165.4h0M160.5 126.3h0M199.9 206.1h0M105 100.8h0M126.6 154.6h0M131.9 135.2h0M110.1 109.1h0M88.3 75.5h0M80.1 112.5h0M147.8 130.4h0M94.7 94.9h0M152.8 177.3h0M134.9 90h0M92.7 100.9h0M168.6 131.7h0M134.5 127.4h0M134.4 148.1h0M110.1 129.8h0M136.6 148.5h0M117.2 130.3h0M177.6 182.3h0M105.1 88.3h0M79.5 82.8h0M168.1 156.3h0M98.2 63.3h0M132 86.9h0M128.8 108h0M152.1 188.4h0M145 177.2h0M107.7 135.1h0M165.2 150.5h0M81.1 75.2h0M182.3 213.6h0M142.1 95h0M115.3 116.3h0M198.6 202.7h0M159.2 135.9h0M163.8 112.8h0M142.7 129.6h0M94.4 84.5h0M141.7 120.4h0M149.7 166.2h0M103.5 68.5h0M177.4 199.8h0M158.8 186.1h0M137.3 130.2h0M148.3 144.9h0M71.2 71.9h0M177.3 206.6h0M138.4 152.9h0M110.7 141.6h0M87.8 80.5h0M121 87.9h0M56.9 49.7h0M141.6 130.5h0M110 141h0M124.9 137.4h0M131.2 114.9h0M140.2 135.6h0M88.3 99.2h0M135 117.7h0M168.7 158.3h0M130.8 132.9h0M126.9 107.1h0M80.8 113.9h0M114.8 81.5h0M136.4 151.6h0M116.8 86.7h0M134.5 147.1h0M128.6 124h0M131.9 90.7h0M123.5 145.2h0M132.8 132.7h0M96.7 138.2h0M161.7 130.3h0M167.1 140.9h0M125.8 127.6h0M99.1 142.1h0M196 210.9h0M175.8 156.6h0M119 138.2h0M131.9 114.6h0M159.2 114.1h0M135.4 118.9h0M131 140.9h0M172.2 183.5h0M139.7 160.2h0M99.3 131.3h0M169.3 169.4h0M144.7 161.7h0M113.9 150.4h0M132.3 147.1h0M113.8 69.5h0M170.9 144.7h0M176.7 195.2h0M71.7 84h0M100.4 115.8h0M82.6 94.3h0M85.3 128.2h0M98 111.8h0M101.8 90.3h0M98.5 67.6h0M64.7 67.9h0M156.2 191.4h0M105.7 132.9h0M84.8 116.3h0M142.7 137h0M92 141.6h0M105.3 79.6h0M79.6 56.2h0M79 59.3h0M67.7 53.6h0M158.4 99.3h0M174.4 155.8h0M174.9 190h0M138.3 143.8h0M76.4 63h0M149.1 189.9h0M145.5 146.3h0M168.5 168h0M111.1 100.8h0M123.8 121.3h0M180.2 171.1h0M114.4 127.6h0M96.8 58.6h0M172.2 180.4h0M100.5 102.4h0M133 134.9h0M198.1 186.8h0M110.7 154h0M184.8 201.7h0M169.9 177.9h0M140.8 91.3h0M129 159.2h0M80.4 51.9h0M98.1 109.2h0M177.4 202.5h0M106.1 160.1h0M111 139h0M138.2 104.8h0M106 116.8h0M123.4 120.1h0M138.5 156.8h0M140.4 131.2h0M153 126.4h0M143.3 164.1h0M150 169.5h0M169.7 202.5h0M169 137.3h0M117.4 119.4h0M169.9 129.1h0M186.4 196.6h0M173.6 196.5h0M151.8 133.2h0M107.9 107h0M178.1 154.4h0M62.3 67.7h0M146.9 95.2h0M169.5 124.2h0M86.5 67.3h0M159.2 152.9h0M99 140.8h0M116.1 156.6h0M158.4 104.6h0M122.7 114h0M163.1 125.3h0M88.8 63.7h0M112.1 114h0M162.3 199.9h0M81.7 100h0M103.3 131.7h0M155.4 103.5h0M69.3 86.7h0M156.9 148.9h0M146.5 114.8h0M71.2 62.8h0M79.6 56.9h0M105.4 96h0M134.6 110.2h0M92.8 55.1h0M169.6 191.3h0M90.2 70.4h0M84.6 97.2h0M123.4 117.8h0M187.3 202.3h0M94.4 80.2h0M156.1 204.5h0M164.8 156.9h0M157.7 146.6h0M159.7 100h0M143.6 160h0M163.7 175.1h0M142.1 103.6h0M100.9 140.4h0M78.2 98.4h0M175.9 159.4h0M167.4 194.2h0M112.9 105.8h0M114.6 134h0M81.1 62.3h0M100 121.6h0M164.2 199.8h0M161.4 115h0M158.6 96h0M82.3 75.4h0M74.9 76.4h0M83 89.1h0M189.6 208.4h0M90.2 121.1h0M130.5 123h0M90.3 119.2h0M171.2 156.7h0M169.4 178.1h0M179.1 158.8h0M93.9 116.7h0M82.4 106.7h0M86.3 130h0M148.8 111.1h0M55 58.3h0M178.5 186.8h0M128.7 93.9h0M165.6 183.3h0M65.1 52.3h0M91.2 121.7h0M150.3 110.2h0M156.1 105.4h0M156.6 163.9h0M139 122.4h0M125.3 94.1h0M83.1 53.3h0M77.1 60.5h0M94.7 100.1h0M171.3 177h0M127.8 158.6h0M152.6 195.2h0M146.2 148.3h0M151.1 173.1h0M84 67.1h0M189.9 173.6h0M110.5 101.1h0M174.2 157.4h0M173.2 183.8h0M69.8 70.2h0M158.3 140h0M129.3 131.6h0M142.7 123h0M128.2 86.8h0M107.3 123.1h0M136.4 139.5h0M85.3 112.6h0M135.5 98.8h0M197.8 194.9h0M130.9 149.3h0M94 62.6h0M162.7 93.5h0M150.3 186.4h0M113.1 65.6h0M160.7 115.8h0M136.1 93.4h0M182.9 182.3h0M113.2 72.7h0M113.8 131.3h0M84.2 135.1h0M164.8 155h0M83.9 126.4h0M192.1 184.2h0M168.7 196h0M140 147.3h0M153.1 154.5h0M123.7 124.5h0M131.3 148.6h0M151.5 93.6h0M52.8 52.1h0M73.1 64.9h0M110.2 148.2h0M94.3 98.8h0M108.6 141.5h0M185.3 203h0M132.9 172.3h0M187.8 171.2h0M148.7 118h0M152.8 98.3h0M154.9 108.1h0M78.2 62.2h0M157.4 180h0M156.5 153h0M181.9 186.3h0M95 56.8h0M116.2 64h0M81.1 81.2h0M142.2 145.3h0M193.4 185.5h0M133.2 138.4h0M114 82.9h0M94.5 95.6h0M201.3 205h0M101.4 75h0M167 136h0M155 137.5h0M127.1 96.8h0M95.2 60h0M144.4 109.8h0M184.3 187.7h0M110.6 156.3h0M127.4 157.8h0M103.1 139.7h0M111.6 140.4h0M54.4 56.7h0M170.8 206.7h0M124.7 101.1h0M138.7 132.4h0M72.1 81.9h0M146.6 152.1h0M177.4 167.1h0M127 167.1h0M80.2 85.8h0M119 93.8h0M122.7 76.8h0M93.2 110.7h0M113.3 91.3h0M157.3 171.6h0M100 112.5h0M85.3 51h0M108 140.7h0M139 157.7h0M114.6 91.3h0M130.9 123.7h0M141.6 169.4h0M107.9 87.2h0M172.5 161.2h0M106.2 120.9h0M103.8 139.2h0M81.6 89.4h0M149.8 92.6h0M142.9 125.8h0M157.7 146.1h0M185.1 183.3h0M101.8 103.7h0M140.2 89.7h0M124.3 158.2h0M153.9 95.6h0M137.6 147.8h0M158.9 112.4h0M120.3 83.4h0M120.3 95.8h0M113.7 104.4h0M159.1 144.1h0M140.7 157.2h0M62.3 60.9h0M188.9 193h0M142.9 149.8h0M173.6 155.4h0M178.8 172.3h0M100.1 131h0M67 79.5h0M196.7 192.1h0M69.9 67.2h0M81.7 60.4h0M160.4 127.7h0M129.2 112.4h0M84.4 128.8h0M130.2 143.5h0M191.7 193.7h0M51.7 57.8h0M59.1 54h0M118.8 125.3h0M168.3 171.7h0M124.4 112.4h0M143.3 105.7h0M92 138.8h0M65.4 61.2h0M167.9 158.1h0M57.1 69.8h0M146.4 134.2h0M101.2 94.5h0M75.5 63.8h0M91.8 99.1h0M182.6 212.9h0M149.2 190.7h0M77 71.7h0M72.9 69.2h0M108.1 119.7h0M143.4 185.6h0M120 143.6h0M167.4 183.9h0M85.2 109.4h0M152.2 187.5h0M111.8 100.9h0M119.2 116.4h0M136.8 130.5h0M92.6 142.7h0M47.4 56.7h0M85.1 69.8h0M151.7 124.3h0M101.6 137h0M103.4 86.5h0M92.1 84.8h0M105.9 76.7h0M160.7 120.2h0M145.9 190.7h0M88.7 137.3h0M131.3 129.7h0M171.9 168.4h0M109.4 63.9h0M104.3 82.6h0M158.1 200.3h0M136.9 163.1h0M88.8 73.1h0M167 160.6h0M177.5 212.2h0M134.4 108.7h0M175 169.5h0M82.7 80.7h0M106.5 113.5h0M101.3 103.7h0M118.6 122.7h0M100.8 55.2h0M87.3 139h0M79.7 96h0M133.4 107.9h0M109.6 151.7h0M74.2 74.5h0M152.2 99.2h0M137.3 134.2h0M118.3 161.6h0M156.8 98.2h0M183.4 191.8h0M173.3 151.9h0M154 89.3h0M182.1 195h0M172.6 146.3h0M174.7 174.8h0M116.3 83.6h0M199.6 202.2h0M163.4 171.5h0M99.2 130.4h0M122.7 86.3h0M101.9 80h0M148.8 103.5h0M150.8 152.2h0M156.6 134h0M87.8 78h0M183.3 190h0M93.3 140.6h0M185.6 147.8h0M93.2 74.9h0M150.1 131.5h0M104.2 54.6h0M72.3 97.1h0M73.7 51.5h0M79.8 92.8h0M180.7 182.4h0M93.5 62.1h0M179.1 150.7h0M119.2 93h0M154 104.7h0M91.2 115.4h0M145.4 157.6h0M77 53.2h0M82.7 75.8h0M162.3 131.7h0M157.1 129.9h0M170.3 153.6h0M89.4 57.4h0M167.7 185.2h0M113.7 101.2h0M125.8 143.8h0M147.3 97.1h0M100.3 96h0M128.5 160.5h0M99.7 126.4h0M142.5 172.9h0M95.8 107.4h0M159.7 168.2h0M146.3 122.1h0M59.1 52.7h0M152.6 172.2h0M123.4 85.2h0M148.9 119.4h0M76.3 110.1h0M90.6 89.8h0M106.2 122.7h0M80.7 111.5h0M146.9 115h0M133 115.3h0M65.5 61.7h0M162.9 155.7h0M152.7 133.2h0M77.2 82.7h0M94.4 89.1h0M84 65.8h0M105.8 62.2h0M186.3 179h0M154.4 138.4h0M134.6 121.9h0M178 180.5h0M186.7 171.5h0M45.5 49.3h0M137.7 108.2h0M144.9 148.7h0M179.5 180h0M116.5 122.2h0M58.2 70.8h0M87.7 64h0M156.5 157.9h0M198.5 204h0M61.9 57.2h0M126.6 120.5h0M157.6 151.4h0M125.4 115.5h0M121.9 108h0M150 197h0M170.5 152.2h0M101 97.4h0M184.1 189h0M55.6 56.5h0M98.2 121.1h0M99 75.2h0M168.2 144.1h0M115.7 112.4h0M135.1 95.9h0M180.2 150h0M119.7 88.8h0M98.1 121.9h0M109.3 140.7h0M181.4 184.1h0M130.9 132.8h0M153.7 188.7h0M159.6 181.4h0M158.4 186h0M154.7 139.3h0M65.4 83.4h0M168.6 183.8h0M154.9 115.8h0M68.6 76.6h0M104.2 67.1h0M115 143.1h0M170.8 125.6h0M78 63.1h0M101.1 115.2h0M105.9 83.4h0M163.6 143h0M97.8 117.6h0M169.2 203.6h0M71.7 61.3h0M186.4 171.8h0M120 109.8h0M135.6 89.3h0M136.8 109.9h0M81.8 104.9h0M160.4 177.8h0M96.6 71.2h0M196.4 186.5h0M159.5 134.9h0M158.4 87.9h0M161.4 126h0M124.6 155h0M83.5 103.5h0M93.5 91.6h0M61.5 68.8h0M168.7 202.8h0M168.4 206h0M168.9 173.9h0M117.8 150.2h0M151.9 150.4h0M196 186h0M180.6 207.4h0M62.8 72.8h0M103.6 68.1h0M70.2 71.5h0M149.1 151.8h0M113.9 120.8h0M121.1 139.5h0M119.8 112h0M152 185.9h0M194 190.1h0M152 185.5h0M184.1 203.3h0M130 145.2h0M156.6 122.3h0M79.4 113.8h0M89.4 107.3h0M112.4 127.6h0M179.2 182.5h0M85.4 76.8h0M110.7 80.1h0M192.7 205.6h0M161.7 182.2h0M159.1 88.8h0M82.9 115.9h0M76.5 83.8h0M75.6 69.8h0M138.4 103.6h0M135 146.1h0M142.4 95.9h0M162.8 203.7h0M191.7 179.4h0M162.5 150.9h0M99.5 114h0M164.6 129.4h0M67.7 55.7h0M100.2 109.7h0M113.2 84.6h0M101.2 147.7h0M109.9 136.3h0M150.5 105.4h0M158.5 133.2h0M125.5 100.1h0M109.2 119.4h0M78.7 77.9h0M153 184.3h0M120.6 143.6h0M166.2 181.1h0M127.6 136.7h0M120.6 131.7h0M87.3 96.3h0M161.8 198.6h0M185.4 210.1h0M177.4 151.4h0M88.2 75.1h0M141.9 127.3h0M81 78.6h0M87.1 98h0M89.7 76.6h0M62.3 52.6h0M160.3 154.6h0M157.5 148.8h0M171.9 170.4h0M127.3 91.6h0M132.1 108.2h0M147.8 102.8h0M93.8 91.1h0M188.9 177h0M158.5 155.6h0M88.9 139.8h0M153.7 147.8h0M63 84.1h0M58.7 61.3h0M147.7 124.7h0M88.8 113.1h0M185.7 204.1h0M170 189.2h0M83.7 115.6h0M167.3 182.1h0M74.5 54.7h0M144.8 130.5h0M178.2 195.9h0M100.4 115.5h0M106 133.7h0M187 181.6h0M144 98.3h0M54.6 56.7h0M103.8 51.3h0M65.5 73.2h0M73.6 75h0M127.8 145.3h0M165.2 185.2h0M156.2 132.3h0M109.7 60.8h0M195.9 209.8h0M68.4 88.5h0M122.6 138.2h0M150 181.5h0M107.7 64.9h0M100.2 78.1h0M109.1 65.9h0M96.8 144.5h0M73.6 93.9h0M131.2 111.5h0M162.9 112.5h0M86.9 74.9h0M106.5 157.5h0M165.7 99.5h0M116.4 116.4h0M107.8 118.8h0M92.9 99.1h0M76.9 93.1h0M77.8 115h0M157.9 147.2h0M159.1 167.2h0M177.5 207.2h0M87.8 78.1h0M163.5 134.5h0M118.5 95.2h0M87.7 104.9h0M113.9 81.3h0M182.5 183.6h0M166 102.4h0M194.8 193.3h0M83.9 75.8h0M168.2 197.6h0M177.1 137h0M158.4 104h0M157.3 156.9h0M151.2 195.4h0M89.8 134.1h0M144.6 121.8h0M110.6 114.3h0M141.9 150.7h0M70.8 85.1h0M134.3 156.4h0M61.4 48.7h0M166 178.9h0M74.3 65.5h0M96.4 113.5h0M60.8 62.3h0M89.1 140.1h0M92.7 103.1h0M121.5 131.2h0M146.1 138.5h0M90.7 69.7h0M118.5 131h0M194.9 188.7h0M114.3 106.6h0M142.9 136.8h0M109.1 146.9h0M70.4 74.4h0M112.9 96.5h0M150 182.4h0M162.8 158.7h0M89.2 87.6h0M107 110.3h0M129.8 116.7h0M102.7 64.9h0M131.1 142.4h0M162.4 155.3h0M72.6 54.6h0M171.7 194.3h0M151.2 179.7h0M81 71.7h0M160.2 140.8h0M146.7 139.8h0M180.4 200.6h0M110.7 146.5h0M69 70.1h0M104.4 108.6h0M93.3 91.7h0M110.3 135.3h0M112 132.8h0M65.7 79.5h0M110.9 93.3h0M76.2 57.2h0M140.1 131.8h0M128.2 118.9h0M151.3 185.4h0M123.2 110h0M105.4 55h0M179.2 175.3h0M164.6 93.6h0M88.3 97.8h0M98.3 127h0M107.8 110.6h0M107.7 150.8h0M80.6 84.3h0M133 128.1h0M169.9 112.5h0M159.4 170.9h0M85.1 96.1h0M178.9 159.2h0M146.5 157.7h0M174.9 175.8h0M93.2 73.8h0M152.9 147h0M147.5 136.1h0M80.1 60.9h0M201.2 191.8h0M87.9 108h0M156.9 161.8h0M89.4 140.6h0M171 141.2h0M111.5 73.9h0M86.4 58.3h0M181.4 180.1h0M172.2 149.9h0M113.3 61.1h0M166.6 179.6h0M148.1 147.8h0M161.8 191.4h0M48.4 61h0M123.3 83.7h0M82.3 77.6h0M195.3 184.5h0M143.4 121.8h0M129.9 101.9h0M144.4 133.3h0M85.7 133.8h0M104.9 86.4h0M62.8 61.5h0M171.1 162.9h0M122.5 104h0M174 202.7h0M118.3 71.4h0M160.7 191.9h0M131.4 96.4h0M85 65.3h0M100.7 107h0M119 128.9h0M195.8 198.1h0M169.9 110.1h0M123.1 117.9h0M160.6 197.2h0M179.2 202.2h0M151.8 103.1h0M60.1 65.8h0M79 67.5h0M116.2 83.5h0M90.7 71.4h0M160.4 160.9h0M151.7 141.2h0M177.8 201.1h0M180.9 158.9h0M97.8 125.5h0M95.5 107.7h0M86 67.6h0M77.2 60.2h0M134.9 167.9h0M88.2 120.9h0M159.2 117.5h0M82.7 75.8h0M166.3 156.5h0M102.8 143.5h0M59.1 60.9h0M165.7 135.1h0M207.4 197.2h0M168.6 191.2h0M81.8 108.1h0M122 94.5h0M47.2 62h0M60.1 61.6h0M147.4 98.8h0M95.4 128.7h0M153.1 87.8h0M148.9 113.8h0M162.2 164.9h0M108.1 77h0M73 55.7h0M168.7 131.9h0M159.5 133.9h0M126.4 160h0M182.1 150.2h0M68 65.3h0M89.8 93.3h0M75.3 80.6h0M180.3 164.4h0M171.4 206h0M155.6 183.8h0M87.8 115.4h0M137.8 114.8h0M80.6 88.7h0M61.6 64.3h0M144 132h0M115.6 108.3h0M65.2 90.6h0M145.6 183.3h0M66.9 60.3h0M173 144.8h0M199.4 181.6h0M109 72.4h0M165.6 146.8h0M123.2 113.9h0M190.9 163.2h0M146.7 133.1h0M115.4 150.3h0M133 170.7h0M90.5 130.7h0M133.4 150.1h0M84.3 104.9h0M146 182.5h0M197 199.2h0M181.4 191.9h0M126.9 84.2h0M90.9 58.6h0M158.6 98.9h0M92.8 82.7h0M165.3 140h0M170 204.2h0M76.8 97.6h0M146.3 127h0M126 146.1h0M155.6 105.6h0M99.5 98.8h0M86.1 87.1h0M94.5 131.6h0M153.6 146.8h0M117.4 112h0M81.4 91.2h0M122 121.6h0M140.8 150.7h0M139.4 122.2h0M160.9 167.4h0M125.7 99.7h0M154.5 189.5h0M185.6 180.8h0M166.7 140.4h0M185.5 186h0M199.8 199.4h0M84.4 56.3h0M52.8 51.5h0M167.4 137.3h0M135 133.6h0M114.6 98.5h0M85.4 73.8h0M107.3 105.5h0M111.3 127.4h0M108.9 96.3h0M195.9 171.5h0M161.1 133.1h0M116.8 110.5h0M98.9 119.1h0M178.9 174.9h0M62.7 62.6h0M147.8 149.4h0M166.5 171.8h0M58.5 75.3h0M68.1 74.5h0M111.2 127.7h0M114.7 138h0M71 71.1h0M151.7 130.1h0M173.1 115.3h0M101.3 71.2h0M170.6 136.4h0M194.2 204.2h0M68.9 69.1h0M89.7 93.4h0M99.9 95.7h0M130.7 126h0M169 147.5h0M155.6 103.5h0M109.9 113.5h0M141.9 112.1h0M173.6 191.7h0M138.3 91h0M75.4 51.4h0M135.1 121.1h0M153.9 148.8h0M193.4 208h0M160.1 163.4h0M188.9 190.5h0M161.4 116.7h0M80.9 82.3h0M134.2 108.6h0M138 119.8h0M135 105.5h0M111.5 143.7h0M148.5 164.5h0M177.1 142.4h0M102.2 132.5h0M130.3 116.4h0M182.8 174.6h0M157.5 162.5h0M178.8 170.9h0M121.1 135.3h0M177.7 201.9h0M147.5 163.8h0M155.3 196h0M51.5 57.4h0M173.5 158.5h0M93.6 73.8h0M158.7 155.2h0M143.3 91.5h0M142.6 187h0M129.7 125.5h0M162.8 107.3h0M107.4 112.4h0M147.5 98h0M158.1 191.5h0M105.6 148.5h0M79.6 86.3h0M136.7 138.1h0M57.4 59h0M158.1 167.8h0M127.4 149.4h0M129.7 163.6h0M67.7 81.6h0M156.4 114.8h0M175 182.2h0M116.7 118.7h0M190.6 196.7h0M106.9 126.5h0M83.3 127.4h0M192.6 194.6h0M144.5 107.9h0M122.2 89.3h0M98.3 57.7h0M143.8 134.9h0M86.1 53h0M182.5 212.3h0M144.7 107.6h0M87.5 117.1h0M180.2 192.1h0M73.6 71.1h0M92.9 75.9h0M111.7 130.7h0M147.4 186.5h0M131.6 156.7h0M114.3 83.7h0M158.2 155.5h0M148.1 140.2h0M124.9 133.1h0M100.2 68.7h0M103.7 114.5h0M146.1 109.6h0M109.5 121.6h0M174.5 170.7h0M172.7 151.5h0M156.9 123.8h0M91 77.6h0M166.6 186.1h0M146.5 187h0M65.3 52.3h0M183 188.6h0M188.5 173.5h0M156.5 137.1h0M78.2 112.1h0M106.7 147.5h0M154.4 167.5h0M139.3 116.7h0M168 120.9h0M86.8 106.5h0M122.6 91.7h0M159.9 170.2h0M88.7 133.8h0M152.6 165.2h0M133.8 116.6h0M94.1 138.8h0M153 128.5h0M109.2 97h0M122.5 131.8h0M166.1 204.1h0M109.6 71.9h0M99.1 115.9h0M123.9 93.4h0M109.7 117.1h0M149.8 174h0M107.6 144.9h0M142.9 153h0M81.6 75.3h0M181.3 152.8h0M101.9 70.4h0M118.8 99.8h0M156.9 156.6h0M124.1 117.9h0M109.4 111.2h0M150.4 172.9h0M99.2 75.9h0M146.2 152.7h0M89.4 72.3h0M91 81.4h0M162.4 168.3h0M129.4 107.6h0M152.8 112.5h0M68.4 66.5h0M149.9 144.9h0M136.6 166.8h0M103.2 109.6h0M85.7 60.9h0M109.3 120.8h0M166.3 143.5h0M92.8 59.7h0M132 124.7h0M67.6 75.2h0M170.5 190h0M107.7 139.8h0M161.9 186.9h0M76.6 114.6h0M140.7 152.3h0M170.9 193.5h0M139.2 91.9h0M147.5 198.5h0M118.1 128.4h0M136.7 133.2h0M171.7 112.4h0M95.6 102h0M95.9 121.3h0M182 200.2h0M175 166.2h0M165.8 104.9h0M191.3 160.9h0M155 159.4h0M90.3 79.5h0M72.9 72.5h0M111.9 141h0M92.4 102.3h0M177.7 167.3h0M160.4 157.1h0M154.4 120.5h0M107.3 137.7h0M85.2 53.3h0M87.8 114.7h0M85.6 129.4h0M109.3 73.8h0M90.6 148.7h0M121.5 132.5h0M94.6 131.1h0M176.8 141.1h0M165.5 174.9h0M165.6 191.3h0M174 151h0M183.2 178.7h0M91.3 79.2h0M174.1 195.4h0M189.4 198.5h0M204.1 194.8h0M73.5 64.5h0M93.4 92.4h0M171.5 187.2h0M122.5 155.9h0M118.3 166.3h0M120.3 141.9h0M116.2 155.5h0M166.7 120.3h0M102.7 98.2h0M120.8 132.5h0M162.6 152h0M165.5 156.2h0M179.5 200.5h0M185.6 183.1h0M196.7 198.7h0M77.8 60.3h0M139.3 194.2h0M163.9 194.3h0M90.9 119.7h0M84.2 78.1h0M169.6 150.7h0M153 162.2h0M154.6 184.5h0M161 207.4h0M119.7 145.2h0M191.7 193.1h0M103.8 74.3h0M189 137.4h0M162.1 197.1h0M159.7 87.2h0M150 176.8h0M98 60.8h0M160.1 157.2h0M107.7 127.5h0M130 108h0M41.7 51.8h0M149.3 137.9h0M140.7 157.2h0M152.7 129.8h0M136.9 172.3h0M144.6 105.2h0M153 132.2h0M142.2 169.1h0M109.3 122.6h0M116 64.6h0M154.9 168h0M120.1 123.3h0M108.3 126.3h0M70.8 62.1h0M143.6 119.1h0M161.2 122.8h0M181.7 166h0M194.1 204.8h0M142.6 111.2h0M142.7 130.7h0M170.8 165.3h0M128.9 116.6h0M141.1 143.5h0M188.5 180h0M58.1 60.8h0M144.5 172.5h0M200 195.5h0M159.2 126.4h0M153.6 97.8h0M77.8 52.8h0M138.5 187.5h0M85 66.8h0M145.7 139.8h0M157.1 142h0M132 156.4h0M91.3 109h0M168.2 180.8h0M140.8 112.4h0M82.5 62.7h0M92.1 131.6h0M158.4 185.8h0M59.9 61.3h0M152.5 108.5h0M117.9 104.6h0M70.2 75h0M81.1 78.3h0M145.1 107.6h0M91.9 114.5h0M145.4 161.4h0M92 127.5h0M135.9 132.7h0M48.1 70.7h0M135.7 106.4h0M90.9 60.8h0M158.9 193.8h0M98.1 48.9h0M127.5 158.2h0M183 156.2h0M97.5 73.9h0M135 161.8h0M86.9 110.9h0M89.5 107.3h0M150.7 119.1h0M135.4 131.4h0M111.9 89.7h0M141.2 103h0M187.3 151.3h0M168.7 185h0M115.3 109.5h0M200.9 208.8h0M72.1 91.8h0M173.7 201.7h0M180.2 199h0M113.5 150.4h0M136.2 134.5h0M105.8 115.1h0M89 113.7h0M160.5 168.4h0M64.5 69h0M117.8 68.7h0M167.4 136.6h0M67.4 68.5h0M120.4 67.2h0M89.3 124.7h0M131.6 150.9h0M135.9 110.5h0M170.9 170.5h0M196.3 221.8h0M83.5 122h0M84.3 126.1h0M160.1 152.5h0M69.6 59.8h0M85.9 111.8h0M82.6 119.3h0M95.7 50.3h0M193.7 190.7h0M116 132.4h0M151.6 177.1h0M137.7 131.5h0M121.9 110.6h0M176.1 147.9h0M116.2 129.2h0M73.9 78.5h0M74.7 49.4h0M201.3 219.1h0M100.7 172.2h0M153 164.8h0M138.3 121.3h0M139.6 128.3h0M171.2 163.1h0M159 167.3h0M173.3 190.2h0M65.2 90.1h0M156.8 118.8h0M87.4 62.3h0M159.2 180.5h0M141.8 146.3h0M75.8 71h0M181.8 171.3h0M167 143.8h0M96.7 65.4h0M100.5 96.9h0M155.2 165.6h0M150.5 99.2h0M147.8 112.9h0M112.5 147.6h0M186.4 194.7h0M109.5 101.9h0M111 123.2h0M131.1 159.6h0M163.5 185h0M197.5 198h0M84 100.9h0M147.6 147.5h0M129.4 91.8h0M179.5 199h0M201.8 177.6h0M138 126.7h0M145.3 94.1h0M184.7 197.1h0M104.4 124.2h0M137 171.1h0M148.7 166.2h0M97 54.6h0M87.8 126h0M46.5 65.3h0M105.3 108h0M102.6 93.1h0M90.2 104.5h0M148.5 91.1h0M98.9 106.6h0M172.7 138.8h0M171.2 176.2h0M98.9 87.8h0M85.8 97.3h0M148.6 101.6h0M161.9 117.6h0M125.6 135.3h0M161 127.4h0M199.1 191h0M73.2 58h0M157.6 138.9h0M90.4 68.9h0M138.1 162.9h0M131.9 136.5h0M123.8 114.8h0M162.3 115.7h0M162.5 178.6h0M137 101.5h0M83 110.6h0M98.2 80.6h0M108.2 54.8h0M120.7 145.1h0M127 130.9h0M144.7 110.5h0M103 104.4h0M171.8 202.1h0M134.9 133.7h0M135.6 168.1h0M87.6 149.2h0M201 195h0M148.8 142h0M76.7 112.5h0M163.7 125.3h0M110.9 117.4h0M94.4 58.5h0M106.1 66.6h0M114.8 116.7h0M99.9 48.1h0M114.7 126.4h0M163.9 214.8h0M184.6 197.5h0M153.2 121.1h0M201.6 210h0M137.6 162.7h0M157.6 181.4h0M71 81.9h0M152.9 163h0M148.1 151h0M142.1 137.6h0M172.9 205.5h0M99.7 125.1h0M102.7 138.5h0M133.3 154.4h0M94.4 63.7h0M164.5 164.4h0M192.7 206.5h0M77.2 66.8h0M164.7 162.7h0M114.3 144.8h0M96.3 150.8h0M161.9 149.6h0M168.9 137.4h0M159.7 184.3h0M175 203.7h0M194.9 196.2h0M55.8 61h0M179.3 209.7h0M58.8 84h0M173 185.6h0M122 84h0M129.7 131.5h0M139.3 107.9h0M141.7 121.7h0M165 140.9h0M92 79.8h0M106.5 143.1h0M64.4 77.6h0M178.8 151.4h0M106.6 102.7h0M180.4 181h0M174.7 161.4h0M173 145.9h0M66.6 72.2h0M127.1 88.6h0M143 171h0M172.9 166.8h0M157.9 141h0M110.7 148h0M186 156.1h0M89.4 125.2h0M144.4 157.9h0M125.1 131.6h0M144.7 95.2h0M123.2 159h0M41.4 55.4h0M126.3 101.3h0M133.5 124.5h0M71 61.6h0M143.2 115.1h0M164.6 128.8h0M72.3 62h0M114.7 126.2h0M155.2 161h0M96.6 86.1h0M182.9 156.8h0M120.9 84.3h0M82.3 123h0M160.8 97.6h0M88.7 76.9h0M176.6 135.5h0M189.2 167.1h0M170.3 161.7h0M148.9 185.6h0M155 78.1h0M145.8 95.6h0M70.3 84.2h0M157.7 111.5h0M171.2 143.7h0M141.6 131.4h0M168.2 143.3h0M153.8 93h0M96.5 147.1h0M111.1 130h0M175.3 169.4h0M89.9 117.5h0M157.6 151.1h0M154.5 150.2h0M155.2 151.7h0M153.7 150.2h0M155 149.6h0M153.9 153.1h0M151.6 151.4h0M155.2 152.4h0M156.1 151.1h0M155.8 151.2h0M152.5 151.7h0M151.7 151.3h0M154.7 151.4h0M103.9 68.1h0M107.2 71.5h0M104.7 71.2h0M108.6 70.3h0M104.2 68.8h0M105.3 72.7h0M105.4 69.8h0M105.5 70.4h0M103.1 70.7h0M104.2 73.4h0M83.7 135.9h0M83.8 136.3h0M85.9 135.1h0M85.2 136h0M85.3 136.6h0M86 136.7h0M85.3 137.6h0M86.9 136.8h0M86.1 134.2h0M87.3 136.3h0M91.8 75.3h0M91.3 71.6h0M89.7 75h0M87.8 72.1h0M86.1 74.5h0M85.3 75.1h0M93.8 73.7h0M90.2 72.5h0M89.7 74.5h0M91.7 79.5h0M92.2 75.8h0M84.4 77.8h0M91 75.3h0M90.1 73.6h0M121.1 91.5h0M125 91.6h0M126.3 91.9h0M120.6 90.6h0M125.1 91h0M124.7 89.9h0M122.8 86.5h0M124.4 91.6h0M126.9 89.9h0M120.5 92.4h0M124 88.6h0M122.8 92.9h0M125.5 92.5h0M94.9 141.9h0M93.7 143.1h0M102.4 143h0M90.1 142.2h0M92.1 138.9h0M97.4 142.2h0M85.6 144.9h0M100.4 141.9h0M94.9 142.5h0M95.8 140.8h0M90 140.2h0M97.2 143.9h0M148.5 149.1h0M148 144h0M145.1 144.5h0M143.7 144.4h0M144.5 148.6h0M143.9 144.8h0M143.1 145.3h0M144.5 145.9h0M146.4 142.7h0M147.2 144.7h0M143.3 145.5h0M147.2 146.4h0M122.7 142.6h0M123.3 140.7h0M123.5 144.5h0M125.4 141.7h0M121.4 142.4h0M125.9 142.6h0M48.8 59.2h0M49.4 56.5h0M52.5 54.4h0M50.7 58.6h0M50 58.5h0M51.7 56.2h0M48.7 58.1h0M50.1 58.4h0M50.3 58.1h0M50.1 57.3h0M51.5 59.2h0M48.6 55.4h0M49.2 56.2h0M146.2 189.7h0M142.4 189.9h0M147 187.3h0M149.3 186.9h0M141.8 185.9h0M141.1 191.4h0M147.7 186.7h0M143.1 185.7h0M145.1 189.4h0M144.8 185.4h0M146 187h0M150.5 183.5h0M144.8 187.3h0M58.4 51.8h0M59.6 51.6h0M58.3 52.6h0M58.6 49.8h0M59.5 48.6h0M61.7 50h0M56.8 50.7h0M56.6 49.5h0M60.4 52.1h0M59.2 50.1h0M57.7 51.3h0M57.5 51h0M57.4 51.9h0M59.5 49.4h0M99.1 146.6h0M98.3 145.1h0M99.2 143.3h0M98.2 146.3h0M97.5 145.5h0M97.5 146h0M97.3 143.7h0M99.1 145.6h0M98.7 141.9h0M99.4 143.6h0M163.8 162.9h0M156.3 166.7h0M160.5 162.3h0M160.9 159.1h0M161 164.2h0M159.1 164.3h0M166.1 157.7h0M154.5 162.7h0M164.3 159.1h0M165.5 162.5h0M158.8 159.5h0M158.2 161.6h0M157.7 160h0M161.9 162.3h0M161.2 159.9h0M157.2 162.5h0M164.5 160.4h0M181 181.9h0M180.6 184.8h0M184.9 182.6h0M184.8 181.9h0M179.2 179.5h0M183.9 183h0M177.4 184.6h0M183.8 180.6h0M184.8 185.1h0M184.7 182.6h0M181.7 182.3h0M180.9 186h0M185.1 182.2h0M179.2 186.1h0M182.8 182.9h0M185.1 184.6h0M159.9 143.2h0M155 145.7h0M157 144.8h0M155.1 146.8h0M156.4 141.4h0M157.8 142.9h0M155.9 146.1h0M156.7 142.7h0M158 143.2h0M157.7 146.8h0M153.4 142.6h0M158.5 142.3h0M157.4 147.2h0M157.7 147h0M98.7 91.4h0M95.8 91.4h0M98.3 93.8h0M100 91.6h0M89.6 95.9h0M94.5 92.7h0M93.1 91.3h0M99.1 87.9h0M93 92.1h0M92 90.3h0M93.7 89.3h0M101 91.9h0M93.4 94h0M93.3 91.6h0M98 91.1h0M104.4 69.8h0M100 70h0M102.4 70.4h0M101.9 68.9h0M98.6 73.7h0M102.7 68.1h0M103.8 70.1h0M100.6 72.5h0M102.1 67.2h0M97 69.2h0M92.6 67.2h0M100.2 72.6h0M99.8 73.3h0M100.6 71.8h0M97.7 65.4h0M98.7 69.3h0M99.2 69.5h0M100.9 70.2h0M108.4 93.1h0M109.6 93.9h0M106.3 94.6h0M108 92.8h0M108.8 93.8h0M108.4 93.3h0M109.3 94.9h0M106.6 94.9h0M107 93.6h0M109.5 94.4h0M107.6 93.3h0M109.5 94.3h0M178.4 153.1h0M178.8 152.3h0M178.7 152.2h0M176.8 150.7h0M178.9 152.5h0M176.5 152.7h0M179.3 152.8h0M182.7 153.4h0M177.3 152.1h0M177.7 151.5h0M118.5 127.8h0M120.2 127.4h0M118.9 127.7h0M125.3 125.9h0M121.1 126.1h0M120.6 128h0M118.7 127.2h0M122.1 130.3h0M121 127.7h0M120.4 128.1h0M119.1 129.8h0M118.4 129.1h0M121.5 127.2h0M145 166.6h0M144.8 167.7h0M146 166h0M144.3 166.6h0M144.7 166.5h0M144.2 167.6h0M144.6 167.2h0M146.3 166.5h0M90.4 74h0M91.2 73.8h0M91.2 74.1h0M88.7 75.7h0M89.1 77.5h0M92.3 75.7h0M89.8 75h0M88.3 76.6h0M90.8 75.2h0M90.2 75.2h0M92.2 77.2h0M89.4 74.4h0M91.4 75.1h0M88.6 75.4h0M172 181.8h0M174.1 180.3h0M174.6 184h0M177.1 183.9h0M177.9 184.5h0M174 182.6h0M175.2 186.8h0M173.6 183.5h0M174.9 185.2h0M174.3 183.3h0M171 183.1h0M172 186.5h0M178.8 185h0M172.3 179.5h0M156.9 147.9h0M158.5 147.3h0M157.8 144.1h0M155.1 147h0M156.2 149.4h0M155.3 145.3h0M157.2 149.1h0M155.5 145.1h0M156.4 146.5h0M154.9 143.6h0M154.2 146.7h0M157.7 143.8h0M158.5 145.8h0M164.1 131.3h0M165.2 128h0M163.8 131.3h0M166.2 128.5h0M165.4 130.6h0M165.1 132.3h0M164.6 131.5h0M167 129.7h0M165.9 131h0M164.1 128.4h0M163.8 130.8h0M164.2 129.1h0M165.8 129.7h0M165.3 130.1h0M167 130h0M164.7 121.6h0M168.5 122.9h0M164 122.8h0M168 123.8h0M167.5 123.2h0M164.1 122.8h0M162 122.9h0M165.7 127h0M167.2 122.1h0M167.2 120.4h0M166.4 121.7h0M89.2 74.9h0M86.9 72h0M87 74.8h0M86.2 72.7h0M89.5 73h0M86.8 72.6h0M86.6 71.5h0M87.4 72.4h0M88.3 76.9h0M90.6 74.3h0M89.7 72.7h0M89.2 75.6h0M90.8 73.6h0M89 75.8h0M89.5 75.8h0M76.7 67.4h0M81.5 67.9h0M75.3 64.4h0M75.6 65.5h0M80.1 68h0M79.3 67.8h0M72.5 69.1h0M73 67.3h0M77.1 68.1h0M79.5 65.5h0M73.6 66.4h0M79.7 65.9h0M83.4 60.5h0M87.5 60.5h0M91.9 62.5h0M91 61h0M89 60.6h0M89.6 61.8h0M84.9 66.4h0M84.2 61.3h0M88 61h0M85.1 63.9h0M89.1 62.6h0M151 147.4h0M151.8 149.5h0M152.8 148.6h0M149.2 150.2h0M151 147.5h0M151.4 149.7h0M149.8 146.8h0M152.2 150.6h0M146.9 149.1h0M150.4 149.6h0M148.8 148.5h0M150.8 150.1h0M148.3 148.4h0M150 148.2h0M150.3 150h0M152.7 149.8h0M151 146.4h0M152.6 148.9h0M151.2 148h0M152.1 150.4h0M150.6 148.9h0M138.8 170.7h0M135.9 171.2h0M138.8 167.8h0M142.8 166.1h0M138.9 171.1h0M139.7 169h0M138.3 167.1h0M137.3 167.1h0M142.1 167.2h0M95.6 86h0M96.5 86.3h0M98 83.7h0M99.5 85.3h0M96.3 87.9h0M100 86.8h0M102.4 83h0M101.7 85h0M97.5 86.3h0M96.8 84.1h0M99.7 81h0M102 85.3h0M116.4 147h0M115.2 148.6h0M116.2 147.3h0M114.4 146.3h0M115.8 145.3h0M116.9 147.3h0M111.4 148.7h0M114.1 150.4h0M114.7 149.4h0M115 148.5h0M115.9 149.9h0M104 103.4h0M103.3 101.9h0M104.2 104.8h0M101 100.6h0M107.3 103.4h0M106.8 104.9h0M104.7 103.8h0M105 103.5h0M104.9 101.7h0M104.1 103.4h0M102.6 103.1h0M104.8 102.6h0M102.4 102h0M103.9 101.6h0M102.7 102.8h0M103.4 102.4h0M104.4 102.5h0M174.3 193.7h0M178.3 193.4h0M175.2 195.2h0M174.2 194.2h0M175.7 194.4h0M176.8 196h0M174.5 196.7h0M177.3 198.5h0M96.4 54.5h0M95.8 54.7h0M98 54.7h0M95.9 51h0M95.9 57h0M97.6 53.5h0M96.6 49.6h0M96.3 57.1h0M96.5 52.7h0M93.8 53.2h0M94.7 51.2h0M94.8 55.8h0M94.1 57.7h0M95.9 93.3h0M93.3 93.4h0M97.1 92.6h0M94.6 92.2h0M94.5 95.1h0M95.2 95.6h0M93.7 96.3h0M95 96h0M95.3 94.3h0M96.9 88.8h0M89.6 92.8h0M140.1 156.2h0M136.6 157.1h0M138.8 160.2h0M136.3 156.3h0M137.8 158.7h0M141 155.1h0M140.2 157.5h0M141.1 157.7h0M137.4 156.3h0M139.4 157.4h0M140.3 154.4h0M139.2 157.4h0M139.5 156.5h0M143.1 155.9h0M162 160.3h0M154.4 159.8h0M158.1 162.7h0M155.1 160.4h0M158.1 159.6h0M159.7 161.7h0M156.4 161.4h0M158.3 163.1h0M157.4 160.3h0M87.6 109.6h0M90.6 104.8h0M90.4 108.9h0M90.5 105.3h0M87.3 107.6h0M88.3 108.5h0M86.9 106.4h0M87.3 105.7h0M87 110.1h0M88.7 107.2h0M89.7 106.5h0M87.4 107.5h0M88.3 109h0M89.7 108.6h0M93.1 105.7h0M88.6 105.5h0M90.9 107.5h0M66.6 70.1h0M64.3 69.7h0M67.3 68.4h0M67.2 69.4h0M64.2 67.9h0M66.8 72.2h0M67.6 69h0M66.2 68.9h0M65.1 69.7h0M68.4 69h0M149.5 114.2h0M151.7 114.2h0M151.8 117h0M151.5 115.8h0M149.7 114h0M148.5 113.6h0M153.1 116.2h0M151.1 119h0M150.8 114.3h0M148.8 113.4h0M149 116.5h0M122.8 91h0M128.3 89.1h0M124.1 93.2h0M127.8 94.7h0M127.6 91.9h0M125.7 90.9h0M124.9 89.6h0M130.2 94.7h0M130.8 92.9h0M126.2 92.8h0M129.3 94.1h0M125.7 93.1h0M130.9 92.4h0M126.6 93.7h0M128 93.8h0M131.6 90.9h0M129.3 96.1h0M134.9 97.1h0M133.2 96.5h0M134 98h0M134.5 95.2h0M132.9 95.5h0M130.6 94.9h0M131.1 99.5h0M129.2 99.4h0M132.9 90.3h0M133.3 96.6h0M135.3 97.5h0M131.2 98.4h0M131.6 98.5h0M134.6 99h0M139.5 117.8h0M138.3 120.7h0M131.3 118.5h0M139 117.2h0M135.3 119.4h0M135.9 114.9h0M147.5 116.8h0M133.1 114.5h0M140.1 116h0M136.3 120h0M140.6 116.9h0M143.9 118.1h0M164.4 192.3h0M160.4 190.5h0M158.4 188.7h0M164.5 191.9h0M163.3 191.7h0M162.8 190.8h0M161.5 192.9h0M161.5 192.3h0M162.8 190.5h0M162.8 192.4h0M161.7 189.2h0M161.8 189.6h0M161.3 188.6h0M163.1 191.1h0M180.1 161.5h0M179.8 160.3h0M178.4 159.7h0M179.9 159.6h0M179 165h0M180.5 158h0M178.2 161.3h0M178.9 161.3h0M178.1 162.2h0M195.3 187.3h0M193 187.1h0M193.2 181.8h0M193.7 185.7h0M190.4 182.7h0M191 183.2h0M190.8 182.4h0M194.1 181.9h0M193.5 182.6h0M194.4 182.3h0M194.8 183.8h0M195.9 183.3h0M193 187.1h0M197.8 187h0M179.6 149h0M175.1 145.7h0M178.7 149.8h0M176.6 146.5h0M175.8 150.1h0M163.4 147.5h0M169.5 147.9h0M163.7 143.8h0M166.7 146h0M164.3 142.4h0M162 146.5h0M164.4 141.3h0M162.3 146.8h0M159.4 144.9h0M157.3 147.1h0M158.8 144.7h0M158.9 145.4h0M164 145.1h0M161.3 147.5h0M162 143.7h0M161.8 146.2h0M159.8 146.9h0M166 146.4h0M112.8 73.4h0M113.4 74.4h0M111.5 72.7h0M117.1 77.6h0M114.5 75.2h0M106 75.1h0M113.4 67.7h0M110.1 79h0M111.2 68.2h0M96.9 104.4h0M95.4 102.9h0M96.1 103.6h0M99.7 98.2h0M93.8 102.1h0M95.1 99.8h0M95.6 96.9h0M99 98h0M92.4 96.6h0M98.7 101h0M100.4 101.6h0M95 99.3h0M97.7 104.8h0M203 202.1h0M191.7 205.3h0M201 201.5h0M193.4 201.4h0M201.7 199.9h0M197.4 205.1h0M202.9 202.1h0M200.9 201.5h0M200 202.4h0M198.7 199.6h0M198.2 206.3h0M193.8 200.2h0M197 205.9h0M200.5 205.4h0M202.8 208.4h0M204.2 202.8h0M200.8 202.4h0M196.2 203.9h0M168.6 173.7h0M166.9 166.3h0M162.8 170.9h0M167 170.2h0M169.7 164.3h0M164.4 170.1h0M164.3 170.5h0M169.2 171h0M163.7 169.3h0M163.2 174.5h0M167.3 164.6h0M163.7 168.2h0M162 171.2h0M166.1 174.5h0M198.7 190.4h0M195.3 192.6h0M198.2 193.3h0M200.7 192.9h0M197.7 190.7h0M196.7 191.3h0M197 191.7h0M199 194.7h0M196.9 192.5h0M197 194.4h0M198 191h0M198 190.2h0M197 191.6h0M197.1 195.2h0M197.3 191.3h0M197.6 193.3h0M198.6 191.2h0M173.6 164.1h0M171.1 162.2h0M172.4 163.1h0M174.1 166.3h0M169.2 167.9h0M174.4 166.5h0M171.9 165.4h0M174.6 163.7h0M174.1 164.6h0M67.9 89.8h0M69.7 87.9h0M69.6 89.6h0M76.3 89.6h0M69.6 89.3h0M75.9 84.4h0M70.4 91.2h0M159 191.8h0M153.2 192.2h0M161.2 199h0M155.4 190.2h0M157.2 190.7h0M160.4 191.3h0M161.5 184.6h0M157.9 193.3h0M163.7 191.6h0M155.3 190.6h0M148.6 189.8h0M160.5 191.5h0M159.6 190.1h0M160.3 188.1h0M153.5 195.6h0M162.5 194h0M129.2 127.9h0M128.6 125.6h0M128 128.3h0M130.4 124.8h0M130.8 125.6h0M131.7 125.4h0M130.6 126.6h0M128.9 125.8h0M129.6 128h0M130 125.2h0M129.5 125.7h0M126.5 109.8h0M129.9 108.6h0M130.9 110h0M127.1 110.6h0M129.3 111.9h0M130.5 110.3h0M128.9 110.6h0M126.4 111.1h0M126.2 110h0M129.1 110.3h0M130.3 109.9h0M127.6 111.7h0M129.6 110h0M170.3 204.7h0M168.6 200.8h0M165.6 202h0M165.8 203.6h0M165.2 198.6h0M166.6 201.7h0M161.5 198.6h0M165 203.1h0M162.9 200.9h0M133.3 84.6h0M131.9 87.8h0M135.3 88.6h0M135.8 90.8h0M137.3 90.2h0M133.2 88.6h0M133.6 93.2h0M130.7 90.5h0M135.3 88.9h0M195.3 194h0M191.7 193.5h0M192.8 190.8h0M195.2 184.4h0M184.9 192.2h0M197.5 192.3h0M190.7 196.7h0M193.1 191.9h0M174.8 163.9h0M164.5 170.4h0M167.3 169.2h0M164.5 172.8h0M168.6 169.3h0M165.9 171.3h0M165.3 174.1h0M163.6 172.9h0M165.2 171.2h0M180.9 161.2h0M181.7 161.9h0M181.8 160.6h0M180.3 160.7h0M179.1 166.6h0M179.5 161.1h0M180.7 161.3h0M183.7 164.2h0M180.2 162.1h0M181.3 163h0M183.4 161.2h0M179.3 162.4h0M184.2 163.4h0M182.1 162.6h0M182.7 164.3h0M182.1 163.3h0M58.2 49.2h0M54.8 54.9h0M55.5 50h0M55.7 50.5h0M57.3 50.9h0M57.3 50.2h0M47.5 49.9h0M56.4 55.1h0M51.9 50.4h0M57.7 49.4h0M90.8 63h0M90.4 63.2h0M88.7 63.1h0M91 63.7h0M86.7 63.9h0M91.5 63.7h0M89.7 62.3h0M91.5 64.5h0M90.2 64.3h0M87.5 64.7h0M90.4 62.5h0M87.9 62.1h0M88.7 60.2h0M93.3 65.2h0M87.5 60.4h0M85.7 58.5h0M84.7 61.7h0M82.2 59.8h0M80.2 58.1h0M83.4 58.5h0M86.5 58.9h0M85.5 58.4h0M83.7 57.7h0M85.3 60.3h0M83.3 59.6h0M171.9 166.7h0M173.5 170h0M172 169.6h0M175.5 169.5h0M175.3 169.9h0M174.6 168.3h0M172.6 170.9h0M168.8 170.1h0M173 171.6h0M171.9 171.1h0M171.9 169.9h0M173.3 169.6h0M174.3 168.8h0M78.9 61.7h0M78 61.4h0M76.8 62.7h0M77.3 62.3h0M79.8 59.6h0M75.8 61.6h0M77.3 63.3h0M76.5 61.4h0M75.9 62.3h0M76.1 59.5h0M77.4 61.8h0M79.4 60h0M77.2 61.6h0M78.7 61h0M76.1 63.9h0M78.6 62.2h0M82.4 62.4h0M79.6 61.7h0M75.2 58.2h0M80.2 62.6h0M87 60.2h0M78.6 63.7h0M83.6 58.2h0M80.5 63.9h0M83.5 60.7h0M83 61.1h0M76.5 63.6h0M78.5 62h0M82.6 61.4h0M82 60.7h0M177.6 187.6h0M173.8 188.2h0M176.6 189.8h0M172.8 187.8h0M179.1 190h0M176.5 189h0M178.9 184.8h0M180.1 193.1h0M173.7 187.9h0M174.1 184.7h0M180.3 190.2h0M180.6 189.7h0M167.2 140.6h0M168.3 142.7h0M168.7 140.4h0M168.8 141.5h0M165.7 141.1h0M167 141.5h0M169 139.4h0M100.5 148h0M98.2 146.4h0M101.8 149.2h0M100.9 147.1h0M102.4 146.3h0M102.7 144.8h0M99.6 145.2h0M98.9 149.7h0M99.9 143.5h0M102.6 144.4h0M101.9 146.9h0M99 147.4h0M102.9 146.2h0M103.9 148.5h0M99.3 149h0M164.3 189.4h0M165 185.9h0M168.4 187.3h0M160.9 187.3h0M164.4 185.4h0M165.8 185.8h0M162.4 183.8h0M167.7 187.8h0M167.9 182.3h0M166.4 187h0M165.1 183.2h0M166.9 189.1h0M168.8 189h0M168.5 184.3h0M163.5 185.2h0M160 186.1h0M166.3 184.9h0M163.3 183.3h0M144.5 122.6h0M143.9 123.6h0M140.5 124.4h0M142.4 125.5h0M143.3 125.4h0M144.5 124h0M142.2 125.8h0M144.8 123h0M142.8 126.2h0M143.8 122.9h0M139.6 121h0M141.8 122.8h0M148.7 92.4h0M151.4 88.2h0M148 91.6h0M147.7 89.7h0M148.1 91.8h0M147 89.3h0M150.9 91.5h0M142.5 90.1h0M147 92h0M146.3 92.3h0M149.5 90.6h0M78.9 51.2h0M75.1 49.6h0M74.9 51.8h0M76.3 49.6h0M77.3 52h0M79.6 49.9h0M76.7 51.7h0M80.5 48.8h0M81.4 52.1h0M124.8 163.9h0M129.9 160.8h0M127 168.3h0M126.4 164.5h0M128.5 158h0M126.5 156.2h0M119.1 167h0M127.9 165.5h0M127.1 166.8h0M126.7 163.8h0M131.8 161h0M106.4 83.8h0M110.6 82.7h0M108 80.9h0M110.3 82.1h0M107.3 86.8h0M109.1 85h0M112.8 82.3h0M109.8 87.9h0M110.3 85.8h0M108.4 87.7h0M109.8 85.2h0M107.9 83.5h0M107.8 84.6h0M110 87.8h0M110.1 86h0M112.8 86.1h0M109.2 87h0M142.5 172.1h0M144.6 169.7h0M145.4 168.6h0M143.8 169h0M141.5 168.8h0M145.4 168.1h0M145.6 170.3h0M102.6 100.9h0M101.2 102.8h0M101.9 104h0M100.1 102.7h0M102.5 104h0M105.4 102.2h0M104.5 104.3h0M100.7 101.9h0M102.7 104.1h0M101.4 102h0M106.8 129.7h0M108.6 130.2h0M108.6 127.1h0M110.7 129.6h0M109.1 128.2h0M110.4 128.1h0M107.7 128.9h0M110.3 128.2h0M108.7 130.1h0M109 128.5h0M109.9 129.5h0M109.5 130.5h0M151.8 100.4h0M152.2 99.6h0M150.7 100.3h0M150.1 99.3h0M149.9 101.4h0M152.2 101.1h0M151.2 102h0M153.5 101.7h0M152.4 100.2h0M149.4 101.3h0M149.1 100.2h0M185.8 168.9h0M191.1 165.6h0M187.2 170.7h0M185 169h0M186.9 171.5h0M186.7 171h0M185.3 170.4h0M187.6 171h0M186.7 170.3h0M188.1 171.4h0M185.1 173.1h0M184.9 170.2h0M188.5 170.7h0M85.3 69.7h0M83.2 66.9h0M84.8 67.5h0M81.9 66.5h0M83 65.9h0M83.7 66.4h0M85.7 65.9h0M80.3 70.1h0M79 68.7h0M85.8 67.7h0M142.6 150.7h0M138.3 148.8h0M143.1 152.5h0M145.1 146.6h0M145.9 149.1h0M141.3 149.7h0M141.3 150.8h0M142.1 147.9h0M186.1 193.4h0M189.6 190.9h0M190.4 191.6h0M182.4 188.7h0M187.3 191.2h0M189.7 189.6h0M184.5 190.4h0M78.9 80.1h0M76.6 81.3h0M70.7 88.4h0M72.8 86.4h0M76.4 81.9h0M189.7 166h0M187.5 170.4h0M185.5 170.3h0M184.8 170.5h0M185.7 167.9h0M182.3 169.4h0M188.5 167h0M185.3 170.3h0M188.2 167.4h0M184.4 170.4h0M187 168.6h0M120.4 119.7h0M119.9 122.8h0M118.1 122.5h0M119.1 122.2h0M119.2 121h0M120.9 122.5h0M119.7 120.2h0M118.5 121.2h0M118.7 123.3h0M124.9 154.7h0M125 159.6h0M122 159.4h0M124.1 154.3h0M125.5 161.2h0M131.4 160.1h0M121.6 156.4h0M127.8 154.9h0M119.1 155.1h0M121.5 160.3h0M93.7 89h0M97.3 92.8h0M98.6 91.2h0M98.4 89.4h0M101 94.6h0M96.6 87.2h0M103.3 87.9h0M97.3 90.6h0M99.1 89.4h0M99.6 91.5h0M96.5 91.2h0M98.4 88.1h0M99 91.9h0M96.4 89.5h0M108.9 119h0M112.3 127.3h0M107.3 124.3h0M105.8 121.4h0M118.4 120.1h0M114.1 124.4h0M115.9 126.4h0M115.7 126.2h0M106.3 121.1h0M109.6 125.4h0M135.3 141.1h0M136.2 143.3h0M136.4 140.4h0M134.1 142.3h0M134.9 142.2h0M137.6 140h0M138.7 142.1h0M136 142.7h0M193.9 179.5h0M189.1 179.2h0M193.4 177.4h0M189.9 182.1h0M191.1 177.9h0M193.8 181.6h0M195.3 178.7h0M194.1 181.8h0M190.7 176.9h0M190.2 177.9h0M194.2 181.3h0M192.1 180.4h0M193.4 178.2h0M193.4 176h0M191.9 180.6h0M194.2 177.5h0M193.3 180.8h0M193.7 174.8h0M190.3 180.4h0M159.6 122.9h0M161.3 128.7h0M162.8 130.8h0M162 126.1h0M164.4 129.7h0M162.3 127.4h0M156.3 128.2h0M163.3 126.6h0M156.7 125.7h0M163.5 125.9h0M81.9 67.8h0M87.9 71.4h0M86.3 70.3h0M86 72.7h0M86.6 67.1h0M86.1 68.2h0M85.2 72.2h0M87.6 71.7h0M87.4 68.4h0M87.6 72.9h0M86 71.4h0M159.3 103.2h0M166.6 99.7h0M158.6 99.9h0M159.6 101.1h0M163.2 100.2h0M160.7 97.8h0M159.5 99.1h0M161.9 100.8h0M159.2 100h0M159.9 98.8h0M160.6 101.4h0M157.7 95.2h0M157.2 97.2h0M151.5 102.7h0M152.2 97.3h0M153.1 95.5h0M152.6 97.4h0M153.8 95.4h0M155.9 94.6h0M187.7 194h0M190.6 195.7h0M187.2 193.6h0M187.3 194h0M189.1 194.1h0M188.8 192.8h0M188.2 193.6h0M187.9 193.9h0M187.6 193.6h0M190 194.5h0M189.6 193.1h0M186.3 193.4h0M93.3 76.1h0M92.4 67.2h0M90.7 70.9h0M95.4 70.1h0M94.1 72.4h0M92.3 71.2h0M94.4 70.2h0M94.3 65.9h0M90.6 70h0M93.4 68.8h0M87.7 70.6h0M52 58.7h0M55.6 59.1h0M52.1 54h0M51.4 58.2h0M53.2 56.2h0M52.8 55.3h0M54.2 55.8h0M54.8 61h0M54.4 60.2h0M54.8 59.2h0M57.8 58h0M183.1 198.9h0M176.1 197.4h0M180.7 196.7h0M180.6 201h0M181.3 198.4h0M182.5 196.1h0M183.3 197.2h0M185.8 197.1h0M180.3 200.7h0M80.7 96.5h0M87.4 101h0M89.3 97.9h0M82.9 100.5h0M88 99.4h0M89.2 98.3h0M82.1 101.2h0M84.3 97.4h0M88.5 100.7h0M86.8 100.7h0M82.3 95.9h0M85.8 99.4h0M180.1 163.5h0M180.3 162.6h0M182.5 162.3h0M178.7 161.1h0M178.2 160.5h0M182 161h0M182.1 161h0M182 163.3h0M178.5 161.4h0M55.9 52.3h0M54.6 50.8h0M51.8 50.7h0M52.9 51.6h0M52.3 51.9h0M55.3 50.7h0M54.5 50.9h0M52.4 51.4h0M53.7 52.1h0M51.3 51.3h0M139.2 88.8h0M141.7 93.2h0M140.5 91.2h0M141.3 89.8h0M139.4 95.5h0M138.5 93.2h0M140.1 93.8h0M138.9 90h0M134.4 92.5h0M138.9 94.3h0M103.3 141.7h0M104.5 144.8h0M108.2 144.2h0M104.4 143.7h0M105.3 145.3h0M109 144.7h0M143.3 148.5h0M141.5 151.1h0M141.5 146.5h0M139.5 150.5h0M142.8 147.5h0M142.5 146h0M142.2 149.1h0M144.1 150.2h0M142.3 149.7h0M141.7 148.8h0M141.7 148.9h0M143.6 147.4h0M143.2 146.8h0M138.8 149.5h0M140 147.6h0M134.4 120.4h0M133.8 120.6h0M133.7 121h0M133.3 121h0M135.3 121.8h0M132.4 121.2h0M134.5 119.3h0M133.5 119.8h0M134.5 121.3h0M134.6 121.8h0M163.7 181.4h0M156.6 182.2h0M159.4 184.6h0M162.3 182.9h0M152.1 183.2h0M160.1 186.5h0M156.2 175.5h0M162.3 181.8h0M156.4 180.8h0M156.8 178.5h0M150.1 182h0M161.9 183.4h0M155.2 177.3h0M155.6 186.1h0M159.6 178.3h0M155.3 178.5h0M153.9 178.9h0M111.3 98.4h0M112.9 96.4h0M114 98.5h0M113.7 97.4h0M89.4 138.6h0M91.5 135h0M92.2 137.4h0M91.8 136.5h0M94.4 135.6h0M86.6 137.9h0M98.5 132.3h0M90.6 136.4h0M118.1 87.2h0M107.6 85.6h0M106.7 88.6h0M119.1 86.3h0M115.1 87.6h0M110.4 84.2h0M102.3 86.9h0M112.6 86.2h0M114.5 89.1h0M113.6 86.6h0M114.3 67.6h0M111 68.4h0M113 63.8h0M114.3 72.5h0M108.3 66h0M111.5 67h0M112.9 69h0M108.8 70.9h0M113.6 68.9h0M111.4 71.6h0M115.4 69.4h0M110.5 73.9h0M106.4 129.2h0M103.4 133.7h0M103.1 130.3h0M107.1 133.5h0M106.6 128h0M105.4 130.8h0M110.2 128.7h0M106.4 127.6h0M104.5 132.9h0M107.1 130.7h0M106.7 127h0M106.5 132.4h0M103.8 131.3h0M108.5 127.9h0M106.6 133.5h0M106 129.2h0M108.3 129.4h0M102.2 132.6h0M107.4 130.2h0M108.2 130.9h0M104.6 131.6h0M111 151.5h0M106.7 150.4h0M112 149.2h0M106.3 149.7h0M107.9 149.3h0M112.2 146.1h0M107.7 145.3h0M113.8 143.5h0M113.9 151.1h0M111.9 149.9h0M108.6 147h0M109.9 153h0M110.7 150.6h0M112.6 144.6h0M109.4 150.3h0M111.8 148.3h0M82.3 122.2h0M85.9 115.5h0M83.5 120.6h0M83.5 117.4h0M83.6 113.2h0M79.7 116.8h0M84.4 120.4h0M85.6 118.6h0M89 116.4h0M78.8 114.5h0M79.3 115.7h0M85.4 117.6h0M79.3 117.4h0M88.7 123.4h0M82.8 115.7h0M133.3 134.8h0M132.8 132.2h0M136.9 131.6h0M136.6 129.9h0M133.6 132.2h0M133.2 131.7h0M132.5 129.9h0M136.9 133.3h0M131.9 132.4h0M128.8 134.5h0M135.3 131h0M131.9 134.3h0M136.2 129.1h0M135.9 135.1h0M133.1 131.5h0M132.8 130.7h0M182.1 195h0M179.7 193.5h0M178.1 198.5h0M176.5 196.2h0M178.9 197.6h0M179.3 193.2h0M179 195.4h0M180 196.3h0M180.9 197h0M173.8 190.6h0M181.1 196.4h0M177.5 194.6h0M175.3 194.9h0M179.4 195.6h0M178.7 191.1h0M179.7 194.7h0M81.2 61.9h0M73.8 59.3h0M78.9 62.4h0M77.6 60h0M74.2 58.2h0M74.7 57.3h0M75.3 63.7h0M78.6 62.1h0M78.4 59.7h0M82.4 58.8h0M77.3 56.7h0M79.4 60.2h0M78.1 60.4h0M77.9 58.3h0M76.6 64.8h0M78.9 62.8h0M76.2 58.7h0M77.4 57.5h0M180.4 174.7h0M178.8 179h0M183.2 177.3h0M182.1 176.6h0M180.9 175.5h0M181.6 172.9h0M179 175.9h0M180.9 179.5h0M184.3 177.7h0M180.9 180.7h0M102.5 107.5h0M105.4 104.9h0M97.4 107.9h0M99.8 104.1h0M101.9 105.1h0M99.7 105.2h0M101.4 103.4h0M102.2 106.2h0M102.1 106.9h0M91.9 115.3h0M89.8 115.5h0M89.5 114.5h0M88.4 117.6h0M93.3 115.6h0M88.9 114.8h0M92.3 112.3h0M92.5 115.2h0M89.9 115.8h0M87.6 116.1h0M91.3 117.7h0M89.2 117.6h0M128.1 109.6h0M127.4 109.1h0M131.3 109.2h0M131.6 110.5h0M132.3 109.4h0M134.2 112.3h0M132.7 108.7h0M128.5 109.9h0M129.5 109.1h0M132.7 113.8h0M131.9 113.4h0M129.9 111.6h0M130.8 108.7h0M132.2 111.9h0M127.8 113.8h0M127.7 163h0M131.6 161.5h0M131.1 163.8h0M129.9 161.5h0M131.7 162h0M131.3 164h0M130.4 161h0M132.1 162.5h0M128.8 163.3h0M127.3 164.1h0M128.8 160h0M127.2 163.3h0M128.8 163.3h0M137.6 141.5h0M142.7 141.5h0M139.2 144.1h0M141.8 147.2h0M140.7 142.5h0M141.6 142.4h0M142.7 146.4h0M144.2 142h0M141.4 144.7h0M142.2 145.3h0M141.2 144.8h0M140.7 142.3h0M142.2 142.3h0M121.3 150.7h0M121.6 147.3h0M123.7 150.2h0M118.9 146.1h0M118.8 148.9h0M118.8 149.3h0M118.8 148.7h0M119.8 147.2h0M115.5 151.6h0M117.3 148.4h0M123.7 146.1h0M119.6 150.2h0M122.3 147.9h0M116.1 152.1h0M118.6 151.4h0M165.3 196.2h0M166.6 197.7h0M167 194.9h0M162.1 194.9h0M168.5 195h0M165.3 195.2h0M166.5 191.7h0M166.9 196.9h0M164.5 200.1h0M166.8 193.5h0M90.3 139.9h0M90.7 131h0M89.7 137.2h0M93.4 134.5h0M90.9 138h0M85.4 136.8h0M89.1 133.1h0M89.8 135.6h0M91.3 135.4h0M89 137.6h0M91.8 136.4h0M91.6 134.3h0M88.4 137.5h0M119.1 147.5h0M117.4 146.9h0M120.3 146.4h0M119.5 147.3h0M165.4 142.8h0M172.1 145.9h0M165 145.9h0M164.7 153.6h0M172 140.1h0M167.8 146.9h0M167.4 149.2h0M168.6 145.1h0M160.1 96.1h0M168.7 101h0M165.4 101.2h0M162.9 101h0M161.4 103.7h0M165.4 98.6h0M164 101.2h0M161.5 99.1h0M165.2 100.5h0M163.1 100.4h0M162.3 102h0M164.6 103.5h0M164.2 102.3h0M162.2 101.8h0M165.6 101.3h0M140.2 136.1h0M145.2 135h0M139.7 138.3h0M142.2 134.9h0M139.5 134.8h0M139.8 136.5h0M143.5 137.2h0M140.2 132.1h0M142 134.5h0M140.6 134.2h0M140.5 137.3h0M142.9 135.7h0M142.3 131.3h0M143.8 140.6h0M146.3 134.6h0M155.3 140.7h0M155.7 140.8h0M153.2 137.6h0M156.4 137.9h0M157.6 137.6h0M155 137.2h0M154.8 136.3h0M154.7 136.6h0M159.9 136.4h0M156.2 140.3h0M173.3 157.9h0M177.3 159.1h0M173.3 153.9h0M169.7 155.6h0M170.1 155.2h0M173 159h0M177.4 154.7h0M167.6 153.1h0M177.1 157.2h0M176.8 154h0M174.4 154.8h0M169.7 156.7h0M110.9 66.1h0M108.6 61.4h0M109 61.2h0M114.2 61.1h0M109 62.9h0M109.4 62.8h0M110.9 63.8h0M112 65.2h0M114 57.3h0M113.6 60.3h0M108.9 60.1h0M110.8 60.5h0M109.7 57.6h0M109.4 60.3h0M108.7 60.5h0M108 62.3h0M121.1 62.8h0M109.5 61.7h0M135.1 119.3h0M135.7 119.3h0M132.6 118.4h0M136.7 119.9h0M140.6 119.8h0M138.1 116.8h0M138.9 116.4h0M138.9 116.5h0M136.9 119.9h0M136.1 120h0M137.1 117.4h0M131.4 119h0M134.1 119.9h0M141.2 119.3h0M135.3 117h0M74.6 59.8h0M72.7 57.8h0M74.2 58.1h0M75.9 59.2h0M73.8 59.5h0M76.6 59.5h0M73.7 57.5h0M76.4 57.8h0M76.3 58.4h0M75.2 57.6h0M69.7 56.7h0M77.5 56.2h0M76.2 56.3h0M73.4 59.8h0M156.9 155.8h0M155.2 154.2h0M157.7 157.5h0M158.6 155.4h0M157.1 153.4h0M156.8 156.9h0M155.9 157.2h0M194.6 196h0M187.5 198h0M193.9 198.3h0M192.7 196.2h0M186.6 198.8h0M192.6 198.1h0M189.4 196.2h0M189.6 197.9h0M190.8 198h0M195.6 195h0M194.8 193.7h0M190.6 196h0M192.3 195.4h0M190.4 198.4h0M188.7 196.3h0M190.1 194.7h0M126.8 93.7h0M122.1 88h0M123.6 90.9h0M120.1 89.6h0M126.7 94.6h0M122.7 96.6h0M126.6 93.7h0M124.5 91.6h0M120.7 90.9h0M121.1 91.5h0M125.9 89h0M125.4 97.1h0M120 93.3h0M121.1 96.3h0M123.7 109.4h0M121 105.4h0M121.9 108.4h0M115.7 111.5h0M119.7 111.8h0M120.8 110.6h0M124.8 110.2h0M120.5 108.4h0M123.4 106.3h0M85.9 57.7h0M87.6 58.4h0M84 58.8h0M84.7 58.8h0M86.6 58.8h0M83.6 57.4h0M85.8 59.6h0M86 59.4h0M153.1 132.9h0M159 139.2h0M158.6 135.7h0M159.3 133.9h0M162.6 135.4h0M158.1 135.3h0M149.6 137.6h0M153 139.7h0M160.4 137.6h0M165 131.7h0M157.7 137.3h0M98.5 89.2h0M95.9 89.4h0M95 89.4h0M96 90.5h0M96.7 87.4h0M94 89.2h0M95.1 90.5h0M94.9 89.3h0M93.2 89.2h0M97.3 89.9h0M97.3 89.7h0M97.6 89.8h0M95.8 88.4h0M88.3 90.1h0M86.5 89.9h0M85.9 86h0M90.1 87.7h0M85.5 87.7h0M87.3 87.3h0M90 89.2h0M87.6 87.7h0M89.5 89h0M89.6 90.5h0M88.6 86.2h0M86.8 88.5h0M90.5 88.2h0M86.6 88.1h0M89.5 91h0M91.8 91.1h0M173.6 153.5h0M177.8 158.1h0M177.1 155.3h0M172.7 155.5h0M176.1 154.5h0M178.6 148.6h0M178.2 151.4h0M175.7 149.4h0M178.2 151.7h0M175.8 152.9h0M176.5 152.8h0M174.5 153.8h0M178.6 155.2h0M175.3 152h0M178.2 153.2h0M167.9 164h0M168.5 164.2h0M160.6 169.4h0M161.9 164h0M163.3 164.7h0M169.5 161.4h0M158.1 161.5h0M90.2 109.4h0M91.5 109.5h0M89.3 106.6h0M92 106.4h0M91.3 108.3h0M92.3 108.1h0M88.5 105.3h0M91.4 106.8h0M89.2 106.8h0M90.1 104.2h0M114.9 91.2h0M114.4 90.7h0M117 91.9h0M115.4 92.4h0M113.8 91.6h0M114.5 90.3h0M116.3 92.2h0M112.6 90.6h0M113.9 92.2h0M114.9 91h0M114 93.4h0M114.2 88.8h0M113.1 92.9h0M102.6 138h0M101.5 138.3h0M104 138.7h0M148.3 150.5h0M148.8 151.2h0M149.4 151h0M148.1 146.9h0M148.3 153.2h0M147.4 147.4h0M151.3 146.9h0M150.4 150.6h0M146.5 152.7h0M146.9 146.8h0M148.8 145.6h0M150.5 151.5h0M72.7 65.9h0M69.3 65.4h0M69.1 66.2h0M71.6 63.3h0M69.7 67.9h0M69.7 63.5h0M77.8 65.5h0M69.6 62.9h0M70.3 67.5h0M71.7 71.8h0M75 67.6h0M122.4 139.3h0M112 135h0M120.5 142.1h0M115.7 138.6h0M113.8 141.6h0M117.2 142.3h0M117.4 138.5h0M111.8 145.7h0M111.9 138.5h0M112 141h0M110.9 139.2h0M122.4 143.3h0M109.9 142.9h0M109.7 143.9h0M121.6 142.3h0M83.8 64.2h0M83.7 63.6h0M83 61.6h0M83.9 62h0M83.3 60.6h0M83 61.8h0M83.4 63.7h0M84.9 59.6h0M82.9 62.9h0M128.1 108.2h0M127.6 105.7h0M128.5 104.7h0M129.9 105.9h0M133.2 107.4h0M127.3 108.5h0M127.2 106.3h0M129.9 108.4h0M127.8 104.4h0M125.8 107h0M126 107.2h0M128.5 108h0M128 108.1h0M126.4 91.3h0M131.5 86.8h0M131.6 91.2h0M129.5 87.1h0M128.3 90.2h0M132.5 91.5h0M133.8 88.4h0M127.3 86.1h0M129.7 86.3h0M130.2 91.1h0M130 87.5h0M132.4 89.4h0M130.7 91.5h0M130.5 90h0M92.3 55.8h0M91.9 54.7h0M96.3 55.2h0M95.4 54h0M96 51.9h0M91.7 54.1h0M93.6 55.1h0M90.5 54.7h0M91.9 53.2h0M91.2 56.7h0M91.3 54.3h0M92.6 53.6h0M96 52.4h0M94.7 57.8h0M77 85.4h0M79.4 85h0M82.5 86.9h0M78.7 87.7h0M80.3 84.7h0M81.3 86.8h0M80.2 86.5h0M78.3 87.5h0M80.3 83.1h0M77.9 86.5h0M77.5 87.1h0M79.4 85h0M203.4 202.7h0M200.3 201.4h0M200.9 202.3h0M199.7 201.1h0M201.2 201h0M201.2 202.3h0M200.7 201.7h0M201.4 200.5h0M201.2 202.3h0M200.9 202.5h0M198.7 203.3h0M199.8 201h0M199.7 202.4h0M201.6 200.3h0M199.4 200.1h0M203 201.3h0M86.5 81.1h0M91.9 75.2h0M91.3 79.3h0M88.8 77.4h0M92.2 80.2h0M90.5 76.5h0M86.5 79.2h0M89.5 77.1h0M91.3 76.6h0M91.1 78.6h0M87 77.4h0M89.5 74.6h0M91.2 77.5h0M95.8 106.8h0M91.9 107.5h0M96.7 103.5h0M92.6 100.8h0M88.9 106.5h0M90.7 107.7h0M91.8 102.9h0M94.1 104.6h0M92 106.3h0M89.3 104.3h0M91.9 104.5h0M93.7 104.5h0M90.8 108.8h0M104.2 68.8h0M103.8 71.8h0M102.2 69.4h0M103 70.5h0M103 74h0M103.4 69.9h0M103 72.2h0M104.6 69.6h0M105.1 68.8h0M102.8 72.2h0M99.6 70.6h0M103.6 71.6h0M102.2 71.8h0M101.1 71.5h0M102.4 72.3h0M103.3 71.4h0M100.2 104h0M100.2 101.4h0M98.2 101.3h0M99.4 104.3h0M97.9 104.7h0M102.9 104.3h0M96.8 105.9h0M95.9 106.3h0M99.2 105h0M95.5 104.8h0M159.9 134.7h0M161.7 137.6h0M166.1 134.5h0M161.6 134.5h0M161.5 135.4h0M164.2 133.3h0M164.6 135.4h0M163.1 133.4h0M164.9 136.9h0M165.5 132.2h0M159.7 114.4h0M159.6 116.4h0M162.4 109.9h0M168 117.4h0M164.4 112.2h0M163.7 113.9h0M164.8 111.6h0M165.5 114.4h0M162.6 111.2h0M164.5 117.5h0M167.6 112.2h0M160.4 117.1h0M160.9 114.6h0M162.9 114.3h0M164.9 114h0M159.2 118.4h0M160.1 111.8h0M164.7 113.2h0M138 141h0M134.3 141.4h0M137.4 143h0M137.3 142.3h0M137.7 142.3h0M135.6 141.8h0M137.8 140.8h0M133.5 142.1h0M136.7 139.4h0M104.4 118.1h0M103.3 120.4h0M100.9 117.8h0M103.4 117h0M102.7 118.9h0M103.6 120.8h0M103 118.2h0M103.7 120.4h0M104.6 120.4h0M103.3 118.6h0M102.3 117.2h0M178 178.3h0M174.9 178.5h0M176 178.3h0M175.9 179.6h0M173.4 179.8h0M176.9 179.4h0M172.5 180.9h0M174.8 179.9h0M173.5 180.5h0M131.8 155.1h0M134.9 153.3h0M136.5 156h0M131.7 156.3h0M134.6 155.2h0M133.3 155.2h0M132.5 154.5h0M133.2 152.6h0M135.2 155.7h0M135.4 155.7h0M131.2 156.1h0M131 156.8h0M136.1 156.7h0M135.6 153.8h0M101.5 146.4h0M98.3 147.8h0M91.7 149.7h0M100.3 141.3h0M94.1 143h0M94.9 143.3h0M94.9 145.4h0M97.5 144h0M98.7 144.5h0M97.9 143.1h0M96.3 142.1h0M128.8 116.2h0M129.4 112.6h0M129.4 116.3h0M128 116.1h0M131.5 116.9h0M130.8 114.8h0M129.6 118.8h0M133.1 116.3h0M130.3 113.6h0M132.3 115.2h0M130.8 118.1h0M129.8 116.3h0M135 118.1h0M155.7 152.8h0M154.3 152.5h0M156.8 151.6h0M155.9 153.7h0M154.3 151.8h0M152.9 154.3h0M153.9 152.2h0M153 153.4h0M158.8 152.1h0M154.1 151.5h0M154 152.5h0M155.8 152.4h0M152.7 153.7h0M153 154.3h0M160.4 151.1h0M156.8 152.8h0M76.9 122.8h0M80.3 125.1h0M79.7 126.7h0M79.6 130.2h0M80.9 125.4h0M80.4 125.5h0M84.5 127.3h0M77.8 126.5h0M84 128.6h0M158.9 119.3h0M158.9 120.8h0M156.2 121.1h0M157.2 119.9h0M156.9 116.8h0M160.3 118.3h0M160.2 121h0M156.2 120.3h0M158.6 120.3h0M157.5 118.1h0M107 66.7h0M106.3 68.4h0M107.2 67.6h0M105.4 69.3h0M106 67h0M105.8 68.7h0M107 69.2h0M107 68.4h0M105.2 69.7h0M108.1 68.2h0M106.9 68.1h0M106 68.8h0M148.9 169.2h0M145.3 167h0M145.9 166.9h0M145 166.9h0M147.2 167.4h0M149.8 167.4h0M147 168.9h0M148.1 165.5h0M144 167.8h0M146.3 170.6h0M143.9 169h0M144.2 167h0M148.5 167.7h0M141.8 169.5h0M144.3 169h0M146.8 170.9h0M151.3 170.3h0M149.4 169.4h0M160.7 112.9h0M160.6 116.5h0M157.9 115.1h0M156.6 116.4h0M155.2 119.3h0M159.3 114.5h0M151 117.3h0M156.9 114.4h0M158.8 115.7h0M157.1 114.8h0M156 116.7h0M155.4 171.2h0M154.1 171.7h0M157.4 170.4h0M152.3 169.6h0M151.5 171.3h0M153.4 169.4h0M154.6 173.1h0M154.9 170.4h0M152.9 172.6h0M151 170.3h0M153.3 172.1h0M156.1 170.1h0M156.3 171.5h0M155.1 171.9h0M157.7 169.3h0M155.4 172.7h0M153.5 172.2h0M148 137.9h0M149.9 139.3h0M147.3 138.8h0M150.8 138.6h0M148.7 138.6h0M148.1 137.8h0M147.4 137.8h0M149.6 139.3h0M150.1 137.8h0M146.6 139.3h0M151.6 138.3h0M149.4 138.8h0M149 138.4h0M110 65.4h0M114.2 65.3h0M112.4 65.4h0M113.3 66.3h0M116.8 68.1h0M112.3 67.4h0M111.1 67h0M115.5 68.6h0M111.2 62.9h0M141.5 162.5h0M144.1 163.6h0M146.6 165.8h0M147.7 160.6h0M149.3 162.2h0M143.8 165.2h0M147.7 160.9h0M146.1 161.4h0M145.5 159.9h0M148 161.9h0M143.3 160.3h0M145 162.4h0M143.7 164.2h0M146.3 164.5h0M142.1 167.5h0M148.3 161.3h0M147.8 162.4h0M140.7 163.8h0M148.4 164.5h0M147.7 159.5h0M144 164.2h0M132.7 115h0M133.5 118h0M134.5 115.2h0M134.6 114.2h0M132.8 112.2h0M131.5 112.9h0M135.9 115h0M134.7 115.6h0M130.6 113.4h0M139.5 109.1h0M134.4 117.2h0M96.7 124.4h0M96.3 125.6h0M98.5 125.2h0M97.8 126.2h0M96.6 125.4h0M98.3 124.6h0M95.7 126h0M99.2 126.1h0M98 124.5h0M97.5 125.7h0M95.5 125.1h0M150.3 184.6h0M149.2 185.6h0M149.9 184.6h0M149.3 184h0M150.5 184.3h0M148.5 185.1h0M147.3 183.9h0M148.9 184.8h0M147 186.2h0M147.4 184.7h0M147.9 185.2h0M147.3 184.6h0M148.5 185.9h0M148.7 168.5h0M149.5 172.1h0M148.7 166.8h0M149.5 170.3h0M147.8 169.4h0M149.3 170.2h0M149.9 167h0M151 170.8h0M150.4 169.2h0M150.5 168h0M149.4 168.9h0M148.1 171.6h0M146.9 170.9h0M149.2 169.8h0M110.5 93.3h0M112.9 88.8h0M105.7 95.1h0M108.5 93.8h0M113.3 94.4h0M111.4 91.4h0M115.8 93.7h0M112.1 95.7h0M172 195.8h0M174.1 196.2h0M172.9 197h0M171.8 196.3h0M172 197.1h0M174.7 194.7h0M172.9 196.2h0M172.8 197.3h0M172.5 196.7h0M171.7 195h0M138.8 115.4h0M142.5 115.1h0M141.3 111.1h0M141.8 117.5h0M143.2 116h0M138.6 112.6h0M140.4 114.2h0M142.3 116.6h0M141.2 114.6h0M138.8 113.5h0M140.9 114.3h0M139.7 112.3h0M138.6 116.6h0M138.2 113.3h0M141.4 114.3h0M131.2 127.8h0M129.9 121.8h0M125.1 125.7h0M132 122h0M127.4 123.1h0M129.2 126.2h0M129.7 124.9h0M132.4 125.3h0M132.8 125.7h0M130 123.4h0M131 122.6h0M134.4 123.5h0M86.2 74.1h0M85.3 77.1h0M81.6 76.3h0M84.8 71.8h0M87.3 77.6h0M86.6 73.5h0M83.9 77.4h0M84.1 76.3h0M85.3 77.4h0M88.2 75.5h0M84.5 75.1h0M89.9 74h0M87.1 76.3h0M86.4 75.3h0M133.4 127.1h0M138.5 126.1h0M141.5 123h0M139.4 123.3h0M142.4 127.2h0M137.8 129.3h0M140.7 124.4h0M141 119.7h0M136 127.3h0M137.1 126.1h0M134.3 124.5h0M153.8 90h0M149.8 92.8h0M154.5 90.7h0M147.4 90h0M153.2 91.1h0M152.8 91.7h0M152.3 91.2h0M154 93.6h0M155.4 89.9h0M153.1 91.7h0M154.6 91.4h0M155.5 92.2h0M152.3 92h0M151.3 95.7h0M155.1 92.9h0M154.4 92.6h0M154.9 92.9h0M195.8 197.3h0M199 202.3h0M196.9 196.5h0M198.3 202.3h0M197.2 199.4h0M195.1 198.8h0M196 197h0M197.3 199.2h0M193.7 199.6h0M190 195.5h0M102.4 127.4h0M104.4 124.2h0M100.5 119.1h0M105.5 123.4h0M105.6 125.9h0M99.6 123.5h0M101.8 120.7h0M135.4 143.7h0M130.1 146.6h0M126.2 148.1h0M132.9 139.6h0M131.1 142.1h0M128.9 144.7h0M129.3 147.2h0M132.9 143.2h0M134.6 145.8h0M148.2 166.9h0M150.6 163.3h0M143.4 169.4h0M144.7 166.8h0M144.7 171.2h0M143.6 170h0M142.6 168.8h0M138.8 170h0M140.4 168.9h0M140.7 170.2h0M146 170.3h0M142.6 167.1h0M142 170.8h0M143.3 166.1h0M145.2 169.9h0M144.5 164.3h0M137.6 142.7h0M140.2 140.9h0M140.7 139.3h0M138.5 140.9h0M140.2 141.7h0M139.8 138.8h0M141.9 141.8h0M137.8 141.7h0M111 67.5h0M108.5 68.2h0M107.3 66.1h0M106.9 68.4h0M107.6 66.9h0M108.1 68h0M110.5 65.2h0M108.3 70.2h0M105.3 67.2h0M106.4 67.9h0M107.3 70.5h0M104.2 66h0M110 69.4h0M108.6 69h0M120.3 122.2h0M116 122.5h0M119.6 125.1h0M122.2 122.2h0M121.5 121.4h0M120.7 120.7h0M120.9 123h0M120.5 124.6h0M118.3 126.8h0M120.8 123.8h0M120.7 122.2h0M119.1 123.3h0M122.3 121.8h0M119.7 121h0M113.7 119.8h0M113.7 123.2h0M118.6 120.2h0M118.5 119.3h0M115.1 122.5h0M120.5 121.8h0M118.8 121.5h0M74.2 66.9h0M77.3 71.3h0M73.2 67.1h0M78.3 70h0M73.4 72.5h0M78.8 70.5h0M74.6 68.8h0M76.4 70.6h0M75.4 67.6h0M75.6 69h0M72.5 70.8h0M77 68.6h0M79.8 72.7h0M69.8 68.5h0M69.8 71h0M102 132.2h0M102.9 131.2h0M97.9 127.8h0M105.3 129.2h0M96.6 131h0M108.8 134.1h0M103.6 129.7h0M103.2 129.2h0M101.4 136.2h0M100 129.9h0M103 131.9h0M96.6 131.9h0M120 128.8h0M119.9 133.9h0M121.3 132.3h0M118.6 130h0M115.9 130h0M118.6 130.2h0M121.9 132.7h0M118.6 130.2h0M117.2 129.2h0M120.2 133.1h0M121.8 134.5h0M121.9 133.8h0M115.5 132.6h0M121.9 132.4h0M125.3 135.1h0M120.1 127.8h0M82.3 130.9h0M86.7 136.1h0M82.1 129.2h0M83.2 133.7h0M80.7 129.8h0M83.3 132.7h0M81.2 134.1h0M84.1 129.1h0M86 127h0M86.6 132h0M85.1 130.1h0M147.8 188.5h0M148.5 187.3h0M147.8 189.2h0M149.1 187.6h0M150.8 187.8h0M149 186.7h0M149 189h0M149.2 188.1h0M147.4 189h0M147.5 188.5h0M149.1 186.9h0M148.5 187.7h0M148.6 188.8h0M146.3 187.9h0M148.3 187.8h0M99.5 102.4h0M102.3 100.2h0M101.4 99.6h0M102.2 101.3h0M98.7 101.2h0M100.4 101.4h0M100.2 102.4h0M103 98.5h0M100 99.1h0M99.3 101.5h0M101.1 100.9h0M98.9 100.8h0M93.9 94.1h0M94.8 98.1h0M92.2 96.8h0M97 95.6h0M93.2 97.8h0M95.7 96.2h0M97 99.5h0M146.9 154.6h0M145.7 157.4h0M144.6 154.1h0M147.1 152.9h0M142 156.4h0M146.3 154.5h0M147.4 158.2h0M145 155.4h0M145.3 154.5h0M142 157h0M145.4 154.5h0M147.6 156.9h0M144.9 153.9h0M153.8 195h0M159.8 195.5h0M157.3 194h0M161.7 195.2h0M162.6 196.7h0M161.3 194.2h0M152.8 198.3h0M151.8 195.6h0M157.4 195h0M161.7 200.1h0M159.6 191.6h0M158.5 197.4h0M153.1 193.6h0M135.3 88.3h0M139.2 89.2h0M137.8 85.3h0M141 88.7h0M141.7 86.5h0M139.2 88.4h0M138.5 84.7h0M137.9 90.6h0M138.7 92.4h0M139.1 91.8h0M139 89.6h0M142.5 87.6h0M137.8 86.3h0M140.6 88.5h0M183.8 196.1h0M188.3 196.7h0M184.8 195.3h0M185.6 195.8h0M186 196.3h0M185 194h0M184.8 194.8h0M184.9 197.7h0M97.3 80.3h0M97.8 80.3h0M95.7 83.2h0M97.1 84.1h0M101.1 81.3h0M100.7 83.7h0M100.4 82.3h0M101.1 81.8h0M98.9 84.3h0M103.8 80.8h0M104.3 84.9h0M95.7 81.6h0M81.7 52.8h0M77.2 55h0M78.5 55.7h0M71.2 55.4h0M76.2 55.8h0M76 54.2h0M71.5 52.8h0M77.3 50h0M78.4 53.8h0M75.7 54.7h0M70.8 53.8h0M79.4 52.4h0M86.6 130.6h0M89.7 135.3h0M91.3 132.7h0M88.2 136.6h0M88.4 134.2h0M91 133.1h0M82.3 133.7h0M92.1 132.8h0M90.1 134.4h0M85.3 136.3h0M89.6 129.5h0M90.3 133.3h0M79.5 131.6h0M87.6 134.4h0M92.5 141.6h0M97.4 139.2h0M94.4 139.2h0M92 140.1h0M95.5 139.4h0M94.2 138.6h0M92.3 139h0M93.8 139.4h0M93.2 139.6h0M95.3 140.4h0M94.9 138.4h0M94.3 139.9h0M95.1 140.8h0M93.9 139.1h0M94.5 138.5h0M125.9 103.5h0M124.6 105.5h0M125.4 101.5h0M130.4 101.9h0M124.8 101.2h0M123.7 104.6h0M127.2 103.2h0M124.1 104.5h0M123.6 98.2h0M127.5 105.7h0M123.6 105h0M121.4 103.3h0M125 104.9h0M125.3 107.8h0M123.9 103.5h0M126.7 102.6h0M122.1 102.7h0M123.4 104.8h0M198.2 181.4h0M199 182.2h0M193.2 179.4h0M199 182.3h0M192.6 183.4h0M200.8 183.2h0M195.8 183.7h0M191.2 186.8h0M192.5 187.1h0M194.5 181.5h0M198.5 177.4h0M198.5 182.5h0M94.2 130.9h0M91.6 136.4h0M93.2 135.6h0M88.5 138.4h0M90.5 135.5h0M89 135.7h0M91.7 136h0M91.6 142.3h0M94.3 133.9h0M90 137.3h0M89.5 138.4h0M89.3 139h0M90 136h0M89.6 137.4h0M152.3 134.9h0M151.8 136h0M154.5 136.8h0M152.9 136h0M152 136.9h0M154.5 134.9h0M153.5 136.1h0M152 135h0M105.1 127.1h0M107.4 129.7h0M109.4 126.5h0M105.7 131.2h0M111.1 132.3h0M107.7 131.8h0M111.9 129.7h0M112 131.7h0M115 135.2h0M108.4 126.2h0M107.1 127.6h0M107.1 128.8h0M102.1 132.5h0M111.5 130h0M106.7 130.9h0M103.1 130.5h0M108.9 131.8h0M106.9 89.6h0M109.3 97.8h0M112.2 94.7h0M109.7 93.9h0M115 93.9h0M111.9 94.8h0M110.2 90.1h0M107.2 94.5h0M111.4 91h0M112.2 89.9h0M111 89.5h0M111.1 94.4h0M109.9 94.2h0M184.3 179.6h0M181.3 177.9h0M182.2 182h0M184.5 183.6h0M179.4 179.7h0M181 181.5h0M180 181h0M183.7 181.3h0M181.8 179.1h0M182.3 180.5h0M180 182.5h0M178.5 183.2h0M180.3 182.5h0M179.6 180.1h0M179.2 180.6h0M179.7 177.7h0M135.4 108.1h0M131.6 103.4h0M133.4 104.8h0M135.1 105.5h0M130.8 106.2h0M134.7 105h0M138.5 109.8h0M137.8 107.5h0M132.8 105.5h0M134 104.2h0M136.4 104.7h0M130.9 106.1h0M131 102.7h0M137.9 107.5h0M132.8 107.4h0M138.7 104h0M56.8 72.2h0M58.4 70.6h0M57.1 68.8h0M54.3 70.1h0M58 72.9h0M55.4 68.4h0M57.9 66.8h0M61 70.5h0M62.7 72.4h0M61.2 69.7h0M57.9 73.8h0M65.7 72.6h0M51.8 70.2h0M59.2 71.9h0M60.5 65.3h0M59.7 69.6h0M168.1 157.6h0M166.2 156.9h0M170 158h0M171 158.1h0M169.3 157.3h0M165.8 154.9h0M168.4 157.1h0M169.1 156.6h0M152.2 181.5h0M146.4 186.7h0M155 182.3h0M148.1 189.2h0M147.3 187.6h0M144.8 184.8h0M142.3 187.6h0M144.6 187.2h0M150 190.3h0M146 186.8h0M161.9 164.5h0M158.8 166.3h0M157.5 167.2h0M157.8 164.4h0M161.6 167.8h0M160 168.4h0M159.9 166.7h0M155.9 167.6h0M133.1 133.5h0M134.9 136.2h0M130.7 137.2h0M136.6 138.5h0M132.8 137h0M135.4 137.3h0M129.3 136.3h0M127.3 138.2h0M129.6 134.6h0M138 143.7h0M130.6 134.3h0M130.9 137.7h0M131.5 137.9h0M134.9 139.3h0M133.4 136.6h0M133.1 139.4h0M146.3 104.5h0M147.9 105.3h0M148.7 105.7h0M146.9 104.4h0M147.2 105.2h0M148.7 104.6h0M149.9 103.6h0M148.5 107.6h0M150 103.2h0M150.7 106.2h0M148.9 106.3h0M150.9 105h0M146.3 105.6h0M150.9 105h0M149 106.7h0M148.8 107.1h0M150.8 106.3h0M111.7 149.6h0M114 151.6h0M114 151.1h0M112 151.4h0M113.5 151h0M111.6 148.2h0M115 148.7h0M111.2 151.7h0M113.2 149.1h0M113.9 152.1h0M111.9 151.1h0M113.9 151.4h0M112.5 147.9h0M110.9 149.9h0M114.5 150.7h0M114.8 151.4h0M117.6 136.2h0M123.7 136.4h0M118.5 139.2h0M114.2 134.4h0M125.8 138.8h0M121.9 138.1h0M124.3 138.7h0M123.8 139.3h0M119.5 146.3h0M121.9 137.7h0M120.4 135.4h0M127 139.8h0M177.8 180.5h0M172.4 178.1h0M175.5 180.2h0M176 181.2h0M176 181.3h0M176.2 183.7h0M175.1 180.9h0M175.7 182.3h0M174.4 182.2h0M176.3 181.9h0M176.6 181.2h0M177.6 182.4h0M117.2 84.2h0M118.7 83.6h0M121.4 82.4h0M118 85.2h0M120.5 80.8h0M118.7 84.6h0M115.6 83.5h0M113.6 84.3h0M119.8 83.4h0M118.9 84.6h0M116.1 81.3h0M116.5 82.5h0M97.3 137h0M95 134.1h0M99.4 136.9h0M94.6 135.8h0M96.8 134.9h0M97.9 135.2h0M97.8 134.1h0M97.2 138.5h0M99.9 136.4h0M96 134.8h0M97.1 136.8h0M96.5 134h0M88 110.5h0M90.2 112.9h0M88.3 112.4h0M89.6 113.7h0M88.6 112.4h0M93 109.1h0M86.8 115.3h0M89.6 111.3h0M91.6 111.3h0M90.1 114.1h0M85.6 109.1h0M90.5 114.9h0M88 113.4h0M94.2 108.4h0M93 114h0M92.5 111.7h0M50.2 57.2h0M47.2 56.7h0M45 56.4h0M48.9 58.6h0M48.5 52.8h0M47.7 55.1h0M48.9 59.2h0M44.5 57.9h0M45.3 56.2h0M52.8 53.9h0M46 58.7h0M52.5 54.2h0M40.7 56.8h0M43.3 58h0M45.3 56.6h0M40.9 55.5h0M53.6 53.9h0M51.4 57.1h0M175.7 207.3h0M173.3 208.3h0M175.1 206.4h0M175.2 209h0M178 209.7h0M175.8 208.6h0M174.3 209.4h0M175.1 208.1h0M175.9 210.9h0M175.2 209.7h0M176.9 209.5h0M177 209.3h0M175 210.8h0M175 207.8h0M177.1 208.5h0M175.1 206.5h0M175.6 211.2h0M177.4 208.6h0M175.7 207.7h0M178.6 209h0M175.8 205.9h0M177.2 209.3h0M150.4 92.9h0M148.6 93.7h0M151.1 92.6h0M151 89.9h0M154.5 93h0M149.2 92.1h0M149.1 93.7h0M151.7 92.7h0M149.3 93.9h0M151 89.4h0M147.5 91.7h0M152.1 90.6h0M147.6 92.6h0M152.4 92.7h0M145.6 94.5h0M148 92.7h0M152 93h0M148.2 92.6h0M112.1 145.9h0M114.6 147.6h0M113.1 146.8h0M116.4 146.8h0M115.5 146.7h0M115.6 149.1h0M114.4 146.7h0M114.3 147.7h0M114.8 147.6h0M113.8 147.4h0M115.4 146.6h0M114.7 147.5h0M113.7 148.4h0M114.1 146.3h0M116.4 144.8h0M112.9 147h0M113 148h0M113.4 145.2h0M114.9 146.1h0M137.9 122.5h0M134.8 122.2h0M129.7 120.8h0M135 122.3h0M133.2 121.1h0M137 122.1h0M137 123.5h0M136.8 121.6h0M134.1 124.8h0M136.3 121.1h0M154.7 178.2h0M155.9 175.4h0M157.2 175.3h0M157.8 174.8h0M158.4 177.5h0M161.3 177.6h0M157.6 176.5h0M155.8 175.3h0M155 177.4h0M159.1 176.9h0M156.6 176.5h0M155.7 177h0M156.7 174.8h0M156.2 174.2h0M157 177.6h0M157 176.1h0M155.6 175.3h0M159.8 176.6h0M88.2 102h0M83.5 103.7h0M76.7 102.3h0M81.4 102.3h0M81.3 103.2h0M82 100.3h0M80.9 100.9h0M80.7 100.3h0M86.4 101.6h0M83.1 103.1h0M80.3 98.4h0M86.6 105.7h0M82.6 98.8h0M80.4 100.5h0M87.4 63.5h0M85.7 65.1h0M84.9 64.1h0M87.2 60.8h0M86.7 64.3h0M89.4 62.4h0M89.9 61.3h0M84.9 59h0M90.6 61.3h0M86.3 60.3h0M88.8 60.1h0M89.9 64.5h0M117 157.4h0M116.6 155.5h0M121.1 161.5h0M116.7 159.1h0M118.3 159.7h0M119.7 157.6h0M116.5 159.2h0M117.5 157.5h0M120.9 157.7h0M115.9 158.3h0M117.1 157.5h0M117.9 159.1h0M156.4 171.8h0M151.7 171.9h0M157.1 163.1h0M157.6 171.8h0M152.8 172h0M150.3 166.1h0M155.4 170.9h0M155.1 172.1h0M150.1 168h0M153.6 168.3h0M150.1 174.8h0M155.7 171.7h0M156.8 170.1h0M149.6 172.7h0M153.2 171.4h0M144.7 176.5h0M155.3 168.6h0M147.1 168.4h0M157 172h0M150.2 170.5h0M145.8 168.3h0M147.9 168.1h0M90.3 131.6h0M91.8 133.2h0M98.3 136.3h0M95.4 130.3h0M95.1 131.4h0M87.3 132.5h0M94.1 132.1h0M94.5 132.9h0M92.6 131.7h0M92 133h0M173.7 153.8h0M176.9 154.1h0M175.7 153.9h0M177 152.5h0M182.2 152.1h0M175 155.4h0M176.2 151.2h0M178 147.6h0M177.1 152.9h0M181.2 154.2h0M171.5 152.5h0M77.3 80.5h0M72.6 87.3h0M81.3 79h0M75.6 80.8h0M77.8 81.6h0M76.9 82h0M78.7 82.2h0M73.5 86.2h0M78.4 88.8h0M78 85.1h0M75.9 82h0M77.9 87.8h0M159.8 170.5h0M152.3 166.1h0M149.7 169.2h0M152.7 166.9h0M150.7 165.7h0M156.2 166.5h0M154.5 166.7h0M158.2 167.2h0M155.4 167.5h0M152.1 167h0M156.8 166.4h0M159.2 167.6h0M154.8 168.3h0M154.7 166.2h0M154.1 166.9h0M47.4 49.7h0M47.2 48.6h0M48.9 53.4h0M48 52.8h0M47.7 54.9h0M49.1 55.9h0M51.8 49.8h0M50.5 50.4h0M159.6 104.8h0M161.7 101h0M151.6 98.3h0M154 94.6h0M152.1 98.5h0M154.6 104.7h0M153.1 101.5h0M145.2 105.7h0M153.5 96.2h0M154.3 97.9h0M155.5 98.6h0M158.3 103.2h0M156.8 100.3h0M151.8 99.3h0M154.2 98.8h0M152.9 111.8h0M158.3 115.8h0M155.3 113.1h0M154.1 113.5h0M153.9 115.1h0M153.8 110.9h0M154 109.9h0M155.7 112.7h0M152.5 113.2h0M151.1 111.6h0M154.1 109.8h0M152.6 116h0M152.4 112.4h0M156.1 112.7h0M158.8 171.1h0M154.3 174.2h0M154.5 174.3h0M156.5 172.7h0M155.7 174.2h0M154.4 174.3h0M153 172.1h0M152.7 175h0M152.1 172.5h0M156.8 173.1h0M153.6 171.3h0M152.4 173.1h0M153.1 175.8h0M152.2 173h0M88.7 59.1h0M85.3 57.9h0M84.1 63.7h0M82.5 57.8h0M80.5 63.4h0M85.3 61.9h0M84.3 65.1h0M85.3 65h0M82.5 57.3h0M89.1 63.7h0M90.1 61.1h0M122.2 162.8h0M117.3 160.7h0M119 160.2h0M119.1 166.1h0M117.8 163.6h0M122 161.7h0M125 162.7h0M121 158.2h0M117.7 159.1h0M115 158.6h0M140.2 143.7h0M135.7 146.7h0M135.8 149.5h0M146.3 142.6h0M136.6 145.4h0M131.4 146.1h0M133.9 147.7h0M177.2 151.2h0M177.7 154.2h0M182.2 151.4h0M177.9 149.6h0M174.7 153.5h0M179.1 151.6h0M176.9 155.9h0M179.2 149.5h0M99.1 135.1h0M100.7 139.5h0M101.1 136.4h0M102.4 136h0M101.5 135.7h0M100.3 136h0M98.8 136.7h0M99 138.1h0M98.2 136.7h0M99.7 136.3h0M177.8 213h0M186.5 213.2h0M186.7 211.8h0M185.9 207.3h0M182.2 210.5h0M188.3 207.9h0M189.1 205.5h0M185.1 205.2h0M182.4 211.2h0M184.9 204.9h0M186.8 208.6h0M184.5 203.4h0M180.5 207.7h0M155.9 118.4h0M154.5 115h0M155.4 116.5h0M154 117.9h0M149.7 121.3h0M151.2 119.2h0M155.3 117.6h0M153 117.5h0M152.6 117.6h0M158.1 124.3h0M155.5 118.2h0M154.5 121.3h0M149.4 120.1h0M150.2 112.7h0M154.2 116.5h0M158 116.6h0M160.4 121.3h0M154.4 117.6h0M150.7 119h0M69.3 50h0M70.1 52.1h0M67.7 52.5h0M66.6 52.6h0M70 53.2h0M71.2 51h0M71.1 51.1h0M69 51.1h0M68.9 49.5h0M70.2 50.7h0M73.1 51.5h0M73.2 49.2h0M162.3 197.3h0M163 198.2h0M162.2 195.7h0M161.2 198h0M157.3 199.9h0M181.4 209.6h0M180.3 205.9h0M181.2 206.9h0M177.1 210.2h0M179.9 205.8h0M180.6 204.8h0M176.5 207.1h0M173.6 209.8h0M183.2 207.3h0M176.1 209.6h0M173.5 204.9h0M177.9 208.3h0M180.3 208h0M99.9 144.2h0M103.4 149.6h0M102.5 151.4h0M100.8 148.4h0M100.6 155.2h0M104.2 149.2h0M99.7 149.2h0M101.6 150.1h0M99 144.9h0M58.8 67.7h0M61.5 68.2h0M60.7 65.1h0M60.2 64.5h0M61 64.4h0M59.3 66.1h0M59.8 65h0M59.3 63.4h0M60.7 68.2h0M59.1 65.8h0M61.8 63.9h0M61.2 68.2h0M58.9 66.7h0M60.7 65.9h0M58.9 66.6h0M58.9 65.3h0M59.8 67.7h0M65.7 67.1h0M63.3 65.7h0M65.7 62h0M62.4 68h0M61.4 67.7h0M65.5 64.4h0M68.6 62.1h0M59.5 65.3h0M66.7 62.2h0M62.2 65.3h0M65.7 64.1h0M66.5 64.9h0M61.8 64.9h0M66.3 61.8h0M62.1 65.9h0M66.2 63h0M61.9 63h0M133.6 133.6h0M132.8 131.7h0M132.4 135.6h0M134.4 133.6h0M132.7 133.4h0M135.4 131.6h0M134 134.9h0M134 130.9h0M134.7 130.4h0M134.6 130.5h0M133.2 131.9h0M131 130.7h0M136.5 131.7h0M132.2 130.1h0M133.8 135.1h0M130.6 132.9h0M113.5 90.2h0M112.6 87.1h0M113.9 88.5h0M112.2 87.6h0M111.4 90.1h0M110.7 86.1h0M109.7 90.1h0M112.3 88.7h0M114.6 88.1h0M111.8 87.6h0M111.4 86h0M112.4 88h0M113.7 89.1h0M113.1 89.5h0M112.2 88.3h0M116.1 88.6h0M111.7 87.9h0M112.4 88.3h0M112.6 88.3h0M78.6 61.7h0M82.7 60.3h0M81.4 60.1h0M78.1 59.9h0M85.9 60h0M84.6 61.8h0M78.7 55.6h0M84.5 66h0M84.7 64.8h0M83.3 57.2h0M74.7 61.2h0M86.6 58.7h0M90.2 55.4h0M83.1 62.1h0M165.7 153.6h0M163.6 152.9h0M160.2 151.7h0M162.1 150.3h0M168 154.8h0M161.9 151.2h0M157.5 147.1h0M168.5 151.7h0M166.5 151.9h0M166.4 149.7h0M161.9 152.5h0M169 148.5h0M164.5 152.1h0M167.4 153.4h0M121.6 134h0M116.8 135.3h0M122.5 136.8h0M118.1 140.2h0M114.3 135.9h0M118.3 136.1h0M122.2 136h0M111.1 132.9h0M116.5 133h0M118.6 134.6h0M118.5 137h0M120.5 135.9h0M113.3 131.2h0M116.4 136h0M163.5 196.9h0M163.1 198.9h0M163.6 199.5h0M161.7 199.6h0M164.6 200.2h0M164.4 198.7h0M162.9 198.1h0M164.5 198.1h0M164.4 199h0M164.3 198.5h0M166.8 196.9h0M119.2 111.6h0M116 112.3h0M115.3 113.2h0M115.8 115.9h0M116.9 112.3h0M118.5 111.2h0M115.8 113.4h0M114.6 113.4h0M116.1 113.1h0M109.4 90.7h0M110.7 91.7h0M106.3 91.1h0M111.3 89.1h0M112 89.6h0M106.8 89.5h0M108.6 89.5h0M110.2 90.6h0M111.6 89.6h0M109.9 91.1h0M108.3 90.8h0M108.5 88.9h0M108.1 87.5h0M105.1 87.7h0M108.9 88.6h0M110.1 93.1h0M106.4 92.4h0M107.8 90.8h0M179.1 172.8h0M178.5 173.7h0M176.2 174.2h0M178.2 174.2h0M177.1 171.9h0M175.6 173.3h0M177.7 172.9h0M179.4 171.8h0M179 173.5h0M178.4 172.6h0M180 172h0M178.4 172.9h0M177.9 172.9h0M76.8 70h0M77.6 72.1h0M76.3 70.9h0M74.6 71.2h0M76.6 71.7h0M77.8 71h0M76.9 70.6h0M78.1 71.4h0M78.2 72.4h0M123.2 119.4h0M121.5 118.4h0M121.1 121.5h0M119.8 119h0M122 120.9h0M123.3 119.2h0M123 119h0M121.9 119.7h0M122.2 119.5h0M120.1 118.2h0M123.5 118.7h0M122.7 119.6h0M175.8 210.5h0M173 209.4h0M171.5 215.2h0M175 211.3h0M179.4 205.9h0M181 210.4h0M172.5 212h0M45.1 49.4h0M46.1 49.9h0M46.7 48.4h0M49.2 49h0M47.7 50.9h0M46.2 52.3h0M44.2 49.8h0M52 49.3h0M110.4 70.9h0M110.6 72.2h0M112.1 70.4h0M111.3 71h0M112.5 72.5h0M113.7 71.9h0M110.9 70.4h0M107.8 69.6h0M112.9 71.1h0M113.1 68.9h0M112.8 68.8h0M111.7 71.1h0M110.1 69.6h0M110.7 71.8h0M110.1 72.6h0M188 209.5h0M182.4 205.4h0M184.9 213.5h0M183.4 209.8h0M186.5 209.1h0M185.1 208.1h0M184.9 204.8h0M185.8 202.6h0M183.6 213.5h0M181.1 205.7h0M181.5 209.2h0M192.1 211.7h0M188.2 215.2h0M183.9 206.5h0M189.6 208.6h0M187.4 215h0M189 207.9h0M187.1 212.4h0M183.9 209.3h0M179.9 189.2h0M180.1 194.7h0M180.2 190.7h0M173 192.3h0M178.6 194.1h0M175.4 192.4h0M179 189.9h0M180.8 190.2h0M177 190.3h0M177 195.7h0M180.2 184h0M181.2 192.7h0M171.6 190.3h0M184.3 186.5h0M111.7 121h0M113.5 119.2h0M108.9 118.8h0M111.7 121h0M112.4 121.6h0M111.6 118.9h0M114.3 119.5h0M112.8 118.7h0M112.5 121.6h0M110.8 121.8h0M109.3 120.6h0M113.6 121.1h0M110.2 122.3h0M188.4 199.9h0M188.4 197.7h0M190 200.1h0M186.1 193.5h0M184.8 204h0M187.4 198.2h0M188.8 203.7h0M186.5 201.1h0M185.2 199.4h0M184.4 200.1h0M90.6 61.5h0M96.9 61.5h0M97.2 62.1h0M86 63.2h0M85.4 63.9h0M93.2 61.5h0M90 64.1h0M91.5 63h0M88.3 61.7h0M90.5 61.1h0M91.8 64.9h0M90 62h0M93.1 60h0M86.8 60.5h0M89.3 60h0M147.2 189.3h0M146.5 188.3h0M143.9 188.6h0M144.4 189.1h0M144.6 189.4h0M146.2 188.9h0M147.4 188.5h0M145.5 188.6h0M164.9 118.6h0M162.9 118.4h0M163 120.3h0M162.9 117.7h0M165.9 125.1h0M166.7 119.3h0M164.2 122.7h0M159.6 120.2h0M162.1 120.8h0M166 121h0M157.7 121.2h0M161 115.8h0M163.6 121.9h0M165.1 119.5h0M129.4 133.2h0M128.4 140.3h0M128.5 138.3h0M131 138.5h0M133.5 134.5h0M127.5 140.9h0M130.5 133.2h0M130.1 137.3h0M130.9 136h0M127.5 136.3h0M132 140.7h0M127.2 135.1h0M126.3 138h0M129.8 136.3h0M118.3 106.9h0M118 104.2h0M119.1 105.7h0M119.1 106.1h0M120.1 106.2h0M116.6 107.5h0M117.9 106.4h0M119.7 107.6h0M117.3 105.7h0M117.4 104.7h0M97.9 96.8h0M97.7 97.9h0M97 95.6h0M95.8 97.3h0M98.4 95.9h0M95.2 96.9h0M97.5 95.4h0M94.7 97.4h0M96.7 96.9h0M96 97.5h0M95.1 96h0M96.3 97.7h0M60.9 66.7h0M63.6 64.2h0M59.9 62.6h0M62.3 65.4h0M62.1 65.2h0M62.5 64.5h0M61.7 62.7h0M62 66.3h0M64.9 64.9h0M97.1 123.6h0M95.9 125.5h0M96.2 125.4h0M98.4 123.9h0M97.9 127.1h0M93.3 124.8h0M94.2 125.3h0M99.8 124.8h0M99.1 125.8h0M96.2 125.7h0M94.8 126.9h0M85.3 51.6h0M84.6 51.1h0M88.7 52.9h0M88.1 51.8h0M88.7 52h0M88.1 52.7h0M86.2 52.1h0M85.1 54.1h0M89 55.4h0M83.3 53.8h0M85.8 51.3h0M111 90.5h0M103.4 86h0M111.6 86h0M113.8 88.6h0M111.2 88.7h0M106.4 85.6h0M108.9 84.4h0M113 88.8h0M112.5 86.5h0M110 87h0M108.5 85.4h0M108.5 88h0M110.7 82.5h0M111.4 85.8h0M107.2 90.1h0M113.8 118.1h0M113.2 118.3h0M115.7 120.8h0M115.7 119.6h0M117 123.6h0M118.4 122.8h0M115.5 120h0M116.9 120.4h0M114.9 119.8h0M154.9 144h0M158.7 144.6h0M155.1 141.7h0M156 142.6h0M160.1 143.4h0M155.2 142.7h0M159.1 142.8h0M156.4 146.4h0M159.5 145.4h0M155.8 144.4h0M156.8 143h0M157.7 142.6h0M159.2 144.5h0M159.7 142.5h0M161.7 144.7h0M150.1 118h0M146.1 121.2h0M145.3 121.9h0M143.3 122.1h0M142 119.6h0M146.4 119.3h0M145.5 123.8h0M143.2 122.3h0M143.1 121.4h0M142.5 122.8h0M146.4 120h0M143.8 123h0M106.7 143.4h0M101.2 146h0M107.2 148.6h0M105.5 144.7h0M106.5 145.4h0M107.9 140.4h0M105.9 144.6h0M107 148.1h0M103.4 143.7h0M166.9 185.2h0M162.6 188.9h0M165.6 189.1h0M170.5 187.8h0M167.6 188.4h0M185.9 198.9h0M182.1 198.9h0M178.9 202.6h0M182.7 202.2h0M178.6 205.8h0M179.6 203.9h0M180.9 205.7h0M181 204.1h0M177.9 204.8h0M184.8 204.3h0M179.3 201h0M178.4 201.9h0M184.2 205.2h0M187.4 199h0M111.9 93.2h0M106.7 98.9h0M108.6 95.9h0M110.8 100.2h0M103.2 101.6h0M107.4 97.7h0M100 97.2h0M102.3 97.5h0M105.4 100.3h0M100.7 98.9h0M106.6 102h0M107.3 93.7h0M108.1 98.8h0M110.9 99.7h0M106.3 96.1h0M110.4 80.7h0M110.6 78.9h0M112.7 81.9h0M110.6 81.6h0M113.7 82.2h0M112.2 80.3h0M113.1 80h0M110.7 81h0M112.1 84.2h0M114.9 82.1h0M112.2 80.7h0M111.6 81.4h0M111.9 81.9h0M120.3 101.8h0M123.2 103.9h0M121.5 98.8h0M123.2 96.5h0M119.2 99.8h0M123.9 101h0M119.7 97.9h0M128.4 103.4h0M119.7 102.1h0M123 98.7h0M122.5 101h0M121.7 95.7h0M141.6 134.1h0M149.3 130.5h0M141.2 131.1h0M141.5 130.6h0M139.3 134.7h0M140.7 129.4h0M140.3 132.8h0M137.7 126.8h0M137.8 129.9h0M145.1 126.9h0M140.5 132.3h0M146.9 134.8h0M140.1 135.7h0M144.5 130.7h0M92.7 67.4h0M93.1 66.2h0M100.8 64.6h0M95.7 69.1h0M103.7 68h0M95.6 68.2h0M100 66.4h0M92.6 66.9h0M158.9 106.1h0M163.1 105.5h0M156.5 104.8h0M159.4 106.5h0M155.4 102.5h0M161.9 106.2h0M162.7 105.2h0M161.4 107.2h0M159.7 103.9h0M159.1 102.9h0M97.9 106.6h0M95.3 110.9h0M98.4 110.5h0M97.9 110.6h0M98.8 112.2h0M99.2 114.2h0M95.7 111.6h0M92.6 107.1h0M97.2 111.5h0M99.8 108.6h0M96.2 108.2h0M97.1 108.2h0M93.9 107.4h0M98.2 113.6h0M99.2 109.5h0M101.8 78.9h0M100 75.5h0M107.9 73.8h0M101.4 68.8h0M109.3 75.7h0M95.4 73.1h0M101.9 74.9h0M104.1 70.5h0M100.4 74.4h0M102.2 74.8h0M104 73.7h0M104.3 73.2h0M99.3 77.6h0M107.5 74.7h0M106 66.4h0M186.7 181.6h0M191.2 181.5h0M190.7 180.6h0M190.7 179.2h0M189.1 180.9h0M187.5 182.9h0M186.8 178.8h0M188.7 181.9h0M188.6 183h0M190.1 182.1h0M190.5 180.4h0M190.4 181.7h0M188.5 181.7h0M187.5 179.3h0M190.6 181.9h0M191.8 181.7h0M187.3 184.1h0M188 181.9h0M179.6 169.8h0M177.9 170.5h0M180.3 169.5h0M178.6 169.4h0M179.5 169h0M178.5 166.9h0M179.3 169.7h0M178 170.9h0M179.8 169.7h0M178.9 169.4h0M94.7 100.7h0M91.8 100.6h0M91.7 101.2h0M91.4 101h0M89.9 100.2h0M90.8 101.4h0M91 100.7h0M93.3 101.4h0M92.3 99.7h0M90.7 99.7h0M92.8 100.7h0M90.3 100.2h0M93.9 100.7h0M94.2 99.8h0M91.9 99.1h0M154.5 103.3h0M157.2 100.3h0M156.2 101.4h0M154.8 99.2h0M154.9 104.2h0M148.8 99.5h0M156.8 98.1h0M88.1 69.7h0M89.5 69.6h0M88.2 68.2h0M87.8 69.9h0M89.2 67.7h0M89.9 67.7h0M89.2 69.2h0M108.7 87.2h0M105.1 86.3h0M107.3 87.3h0M108 90.9h0M104.1 89.3h0M104.8 88.2h0M103.6 87.5h0M172.1 148.3h0M174.7 149.3h0M171.4 151.4h0M173.5 149.2h0M170.6 148.2h0M178.2 150.1h0M169.9 150.6h0M173.4 150.3h0M177 147h0M146.4 97.4h0M152.8 94.2h0M149.9 91.1h0M147.4 92.9h0M149.7 94.6h0M149.9 89.2h0M150 93.4h0M149.2 92.6h0M153.3 94.5h0M150.7 92.8h0M125.7 125.4h0M123.4 125.9h0M128.8 124.5h0M124.9 124.2h0M125.5 126.7h0M126 124.2h0M126.4 125.7h0M125 126.7h0M126.4 125.5h0M124.8 126.2h0M126.6 125.1h0M126.3 124.7h0M171.3 133.3h0M173.4 137.4h0M173.5 137.2h0M174.9 138.1h0M171.9 139.7h0M171.8 138.8h0M169.4 138h0M169.4 138.9h0M170.4 139.2h0M172.4 135.5h0M165.1 139.7h0M171.9 140.6h0M170.8 138.9h0M175 133.4h0M170.5 140.4h0M189.7 184.2h0M187.5 186.1h0M191.1 184.5h0M188.8 186.3h0M187.4 185.6h0M187.9 182.9h0M187.7 188.1h0M188.6 186.2h0M191.3 182.2h0M188.2 184.7h0M187.5 189.1h0M191.2 186.4h0M111.3 81h0M113.1 79.9h0M112 81.3h0M112.1 78.1h0M109.9 78.8h0M114.3 80.5h0M110.9 78.5h0M113.2 84h0M113 98.2h0M115.5 102.9h0M115.2 102.8h0M113.8 104.3h0M119.1 101.2h0M116.6 103.5h0M116.4 99.4h0M117.5 101.4h0M116.5 102.2h0M117.8 102.4h0M115.3 103.7h0M115.5 98.8h0M119 117.4h0M122 120.1h0M120.4 113.4h0M121.2 114.6h0M123.8 116h0M125.5 115.5h0M122 118.3h0M127.4 112.1h0M127.1 118.2h0M125.1 122.1h0M124.2 118.8h0M142.2 89.4h0M144.8 97.4h0M140.9 91.1h0M137.8 94.3h0M141.3 91.9h0M143.6 91.6h0M140.9 93.2h0M143.7 95.5h0M139.4 90h0M141.5 98.7h0M142.7 91.7h0M140.4 95.6h0M122.1 129h0M120.7 129h0M124.1 130.6h0M122.3 130.7h0M125.1 132.4h0M121 128.2h0M125.7 130.9h0M120.3 125.5h0M92.6 66.5h0M96.4 67.9h0M98.1 67.4h0M97.4 67.7h0M94.8 67.1h0M90.5 68.2h0M92.9 68.4h0M96.5 68.1h0M92.8 66.4h0M90.5 69.6h0M108.5 122.5h0M108.6 122h0M106.8 123.3h0M109.8 122.1h0M110.7 120.5h0M108 121.5h0M108.5 122h0M110.7 122.3h0M108.2 122.4h0M109.2 123.1h0M109.7 122.2h0M86.6 102.1h0M91.4 104.7h0M89.2 103.5h0M89.9 102.8h0M90.5 102.4h0M89.7 103.1h0M90.1 104.8h0M88.9 104.4h0M86.7 103.3h0M89.6 101h0M89.3 104.1h0M87.7 101.8h0M89.1 101.7h0M86.6 103.6h0M176 142.1h0M168.8 139.9h0M172.5 137.9h0M174.4 145.5h0M178.1 144.5h0M181.2 144.3h0M170 144.8h0M176.4 145.2h0M175.7 142.9h0M152.5 107.6h0M157.3 111.3h0M155.8 108.2h0M158.4 109.2h0M152.7 108.8h0M152.3 106.9h0M154.8 108.5h0M159.5 108.7h0M155.5 106.3h0M156.8 109.1h0M157.9 108.8h0M155.6 108.8h0M160 114.3h0M163.7 114.8h0M162.9 117.6h0M157.4 113.8h0M154.9 116.7h0M161.7 116.3h0M162.5 116.5h0M156.8 116.4h0M158 120.5h0M157.7 113.2h0M158.1 112.8h0M156.4 116.4h0M152.8 116.2h0M116.1 150.3h0M111.1 153.2h0M112.1 148.2h0M123 149.6h0M112 151.9h0M114.9 156.5h0M115.5 147.9h0M115 149.2h0M114.7 149h0M69.7 65.3h0M74.8 67.9h0M68.7 63.5h0M72.5 66.3h0M71 66.1h0M72.5 69.9h0M69.5 66.7h0M68.2 67h0M68.8 63.2h0M70.4 67.4h0M69.9 69.5h0M71.6 65.5h0M71.5 67.4h0M66.1 69.4h0M67.2 70.7h0M71.5 74.9h0M65.7 70.8h0M73.9 71.4h0M69.1 70.1h0M72.3 66.3h0M135.3 102.7h0M131.7 97.5h0M139.9 99.6h0M138.2 91.6h0M137.7 99.3h0M137.1 98.9h0M132.2 99.7h0M137.3 91h0M136.5 97.3h0M134.1 96.9h0M137.7 96.7h0M135.8 98.8h0M137.6 98.5h0M149.4 149.3h0M155.3 148.8h0M151.2 151h0M159.1 150.4h0M150.1 148.9h0M152.2 151.4h0M154.4 153.9h0M154.8 151.3h0M92.8 67.1h0M91.8 65.9h0M95.8 63.5h0M89.1 64.1h0M89.5 65.7h0M95.6 63.2h0M92.7 63.1h0M94.6 62.7h0M94 62.5h0M96.2 62.6h0M102.2 106.2h0M104.9 105.3h0M98.2 104.4h0M106.8 102.2h0M106.9 108.8h0M104.9 102.4h0M104.3 107.2h0M102.1 109.9h0M104.6 108.2h0M108.4 109.5h0M107.5 102.1h0M99.2 109.5h0M111.7 106.5h0M104.4 107.6h0M101.7 106h0M157.8 166.6h0M157.2 169.4h0M159.7 167.9h0M156.1 167h0M162 166.3h0M160.2 167.7h0M158.4 167h0M158.2 167.5h0M159.6 170h0M181.7 195.7h0M180.6 195.7h0M180.6 194.4h0M181.7 193.8h0M180.7 194.7h0M183.3 196.2h0M182.6 194.6h0M182.4 195.7h0M181.6 195.6h0M182.6 195.8h0M182.7 195.2h0M183.5 193.5h0M180.9 194.8h0M178.7 195.1h0M183.1 195h0M90.7 55h0M91.2 54.3h0M88.7 55.6h0M88.8 56.1h0M90.7 55.3h0M92.6 52.2h0M91.5 55.9h0M88.9 54.4h0M90.7 54.9h0M90.6 54.9h0M90.8 55.2h0M87.5 55.9h0M90.7 51.2h0M136.7 95.8h0M139.6 94.2h0M139.1 94h0M137.1 97.3h0M134.9 94.2h0M136.4 96.5h0M136.8 99.9h0M137.9 94.7h0M134.7 97.3h0M142 97.5h0M132.8 92.9h0M138.6 94.4h0M132.4 95.2h0M136.7 94.4h0M136.9 95.7h0M138 94.9h0M135.5 95.2h0M136.5 96.5h0M136.6 95.9h0M134.3 94.7h0M143.4 135h0M139.8 135.5h0M145.3 132.2h0M142.5 128.3h0M142.1 133.1h0M143.6 135.2h0M143.6 133.8h0M140.6 131.1h0M142.7 136.5h0M143.9 134.8h0M140.5 131.9h0M144 133.8h0M141.8 133.3h0M140 136.6h0M152.8 176.6h0M153.2 176.5h0M155.4 174.1h0M152.3 173.7h0M154 177.3h0M159.1 152.4h0M156.8 150.2h0M155.2 154.4h0M159.3 148.5h0M157.7 149.9h0M157.9 151.4h0M160.9 149.5h0M156.9 153.9h0M160.2 150.3h0M164.3 143.6h0M155.2 150.3h0M96.3 130.9h0M95.5 132.3h0M96.1 133.2h0M96.1 131.3h0M96.2 132.1h0M97 132.8h0M96.6 131.2h0M95.1 131.3h0M96.7 130.3h0M94.6 133.3h0M97 132.2h0M94.3 131.8h0M94.4 132.3h0M95.3 132.3h0M94.8 131.8h0M95.1 131.7h0M76.9 57.5h0M74.3 58.6h0M81.3 57.3h0M76.9 57h0M71.5 54.5h0M74.9 56.4h0M77.3 56h0M74.2 61.9h0M74.7 53.1h0M71.5 55.8h0M75.7 58.5h0M70 58.6h0M79.2 55.4h0M72.2 58.2h0M75.7 57.4h0M72.9 53.3h0M73 55.9h0M78.3 51.8h0M72.5 58.1h0M99.3 109.7h0M95.9 112.7h0M96.9 112.1h0M94.2 113.9h0M98.3 114.5h0M97.7 112.9h0M98.5 112.7h0M98.7 112.4h0M99.3 114.4h0M84.4 96h0M84.9 98.6h0M82.1 96.4h0M81.6 97.2h0M83.4 97.1h0M86.8 95.8h0M84.4 95.8h0M83.3 96.2h0M82.6 98.5h0M85.2 99.1h0M84.3 97.5h0M80.6 99.9h0M86.7 94.6h0M84.6 96.4h0M167.9 163.3h0M172.1 167.2h0M174.7 162.5h0M174.2 161.9h0M175.5 161.5h0M180.3 168.6h0M176 165.3h0M174.2 163.3h0M172.1 165.4h0M180.7 168.4h0M173.7 165.6h0M172.9 165.2h0M172 166.1h0M171.9 163.9h0M137.8 135.7h0M138.9 133.6h0M140.3 134.9h0M137.7 132.6h0M137.1 131.4h0M137.5 127.5h0M139.6 131.8h0M136.2 133.7h0M138 134.8h0M135.8 135.3h0M135.8 132.2h0M138 132.2h0M114.7 93.6h0M113.9 94.6h0M109.4 92.4h0M112.8 89.4h0M113.5 91.4h0M109.6 93.2h0M113.7 96h0M111.9 92.8h0M107.4 94.1h0M109.5 92.5h0M115.1 89h0M112.3 93.4h0M109.7 92.5h0M115.2 93.3h0M110.8 91.6h0M115.4 92.5h0M106.9 92.1h0M108.9 89.5h0M110.8 92.1h0M106.8 93.8h0M111.9 92.6h0M142.3 106.5h0M133.8 111.1h0M141.1 107.1h0M138.5 110.2h0M139.7 106h0M138.4 104.1h0M142.1 108.6h0M141.3 112.2h0M141.7 104h0M145.4 107.2h0M138.2 111h0M138 106h0M145.6 108h0M161.6 146.5h0M166.9 146.7h0M158.4 145.6h0M161 139.4h0M158.2 147.5h0M159.4 142.3h0M160.2 148.2h0M161.3 143.7h0M165.8 144h0M161.8 141.9h0M161.9 143.8h0M160.5 143.7h0M156.9 152.9h0M154.5 147h0M160.7 147.8h0M159.3 146.1h0M156.2 145h0M161.8 139.2h0M156.2 144h0M159 145.7h0M161.2 149h0M156.8 144.6h0M156.7 143.2h0M162.7 168.1h0M165.6 170h0M168.5 164.8h0M162.3 163.6h0M158.2 164.1h0M168.5 167.3h0M162.9 163.4h0M157 167.6h0M159.5 165.5h0M155.5 165.7h0M153 173.4h0M156 171.5h0M153.3 173.1h0M150.1 171.1h0M156.2 173.5h0M157.6 172.2h0M153.8 174.9h0M154.7 167.2h0M153.6 174.2h0M151.6 166.6h0M151.6 171h0M150 173.6h0M153.8 171.4h0M154.7 171.8h0M158.2 146.8h0M161.6 147.8h0M160.3 146.7h0M160.2 147.3h0M158.7 147.2h0M158.6 149.1h0M161.4 148.2h0M158.8 148h0M156.5 149.9h0M160.2 149.5h0M89.2 122.1h0M89 121.3h0M92 117.6h0M86.8 117.1h0M89.5 120h0M90.5 119.2h0M88.7 120.8h0M89.9 112.5h0M89.7 119.6h0M90.6 121.5h0M81 123.5h0M87 119.4h0M90.6 119.1h0M84.5 122.2h0M87.3 118.6h0M90 111.9h0M90.4 119.4h0M88.4 121.1h0M102.3 89.8h0M99 91.4h0M97.2 87.5h0M96.9 90.1h0M96.6 93.7h0M98.7 88.8h0M99.9 88.2h0M98.4 92.3h0M100.4 91.4h0M95.2 90.5h0M99.3 95.8h0M95 90.6h0M97 88.3h0M174.9 167.1h0M175.1 168.6h0M167.7 165.7h0M169 165.5h0M173.6 167.5h0M173.4 165.9h0M173.3 165.2h0M170.9 169.2h0M173.6 168.1h0M169.4 165.2h0M178 165.7h0M178.1 168.4h0M170.5 166.5h0M115.2 150.2h0M120.6 147.3h0M112.8 151.9h0M114.1 150.2h0M114.3 147.5h0M118.6 153.1h0M117.4 150.8h0M123.2 153.6h0M115.1 150.4h0M119.9 148.2h0M119.9 149.2h0M114.3 146.7h0M112.1 151.1h0M117.5 150.1h0M117.6 147h0M110.9 150.1h0M148.7 94.8h0M144.5 92.3h0M146.1 91.4h0M143.4 92.4h0M147.8 90.9h0M147.9 92.7h0M141.8 91.9h0M146.8 93.1h0M147 94.7h0M143.7 92.1h0M145.6 89.8h0M148.3 94.8h0M146.7 92.2h0M157.4 162h0M157.5 159.3h0M155.6 157.1h0M165.4 159.4h0M160.8 160.9h0M161.2 157.7h0M161.9 159.5h0M158.6 154.6h0M157.4 153.3h0M161.9 156.5h0M158.6 159.3h0M158.7 158.7h0M159.1 158.6h0M162.8 158.3h0M163.5 159.1h0M159.3 159.5h0M157.9 161.6h0M162.1 160.2h0M81.8 126.1h0M78.9 125.7h0M86.8 129.4h0M82.7 123.3h0M81.5 126.5h0M85.4 126.7h0M80.5 127.3h0M78.8 126.4h0M85.2 125.4h0M81.4 124.3h0M81.4 125.9h0M82.7 125h0M112.5 116.2h0M113.9 115.2h0M112.6 118.3h0M113.8 115.3h0M112.1 117.5h0M112.3 117h0M111.9 117.1h0M113.7 117.3h0M114.4 114.6h0M113.1 119.7h0M114.3 115.8h0M112.2 116.8h0M113.3 116.3h0M111.7 117h0M115.2 117.4h0M114.5 117h0M180.7 163.3h0M177.7 159.9h0M182.8 163.7h0M180.2 161.2h0M172 158.7h0M179.1 164.6h0M176.1 160.1h0M181.4 164.5h0M179 163.9h0M178.5 158h0M184.2 157.2h0M179.4 155.7h0M181.3 159.8h0M171.7 162.3h0M174.4 159.7h0M172.2 159.9h0M178 162h0M156.6 183.5h0M149.2 182.8h0M150 183.8h0M154.2 186.2h0M146.3 184.8h0M148.2 183.4h0M149.8 182h0M149.3 182.6h0M150.8 183h0M152.3 184.3h0M148.2 182.6h0M148.8 184.5h0M149.5 182.5h0M148.8 180.4h0M148.7 189.4h0M89 92h0M91.4 96.4h0M89.7 96.5h0M89.7 93.4h0M93.3 94h0M92.3 93.8h0M94.3 94.7h0M160.4 179.5h0M162.2 181.6h0M159.6 178.6h0M164 179.5h0M158.7 178.3h0M159.7 181.1h0M161.2 179.6h0M159.5 179.4h0M162.1 178.6h0M162.2 178.5h0M159.5 178.4h0M159.9 179.6h0M159.8 176.3h0M162.3 176.4h0M161.3 178.2h0M171 149h0M172.8 147.7h0M176.7 148h0M174.7 144.5h0M173.8 144.4h0M174.6 145.9h0M175.2 145h0M174.1 150.5h0M173.2 146.5h0M172 145.8h0M173 149.3h0M172.6 147.7h0M168.1 144.9h0M165.4 143.4h0M168.4 143.7h0M168.5 144.8h0M168.2 143.2h0M167.7 144h0M167.9 142.5h0M166.1 143.5h0M170.6 145.1h0M168.9 142.8h0M164.1 143.6h0M164.1 144.9h0M169.2 143.2h0M165.1 144.4h0M169.5 142.7h0M109.2 77.2h0M102.8 75.3h0M106.2 77.8h0M104 79.6h0M108.4 78.7h0M103.6 79.6h0M106.3 77.3h0M104.5 78.9h0M103.6 78.8h0M101.9 75.1h0M106.3 77.5h0M103.9 78.9h0M106.7 76.9h0M101.5 77.4h0M121.3 142.1h0M126.3 141.1h0M123.2 137.9h0M129.3 139h0M120.6 139.8h0M121.9 144.5h0M124 140h0M127.6 142.9h0M117.5 146.5h0M119.9 139.5h0M123.6 141.1h0M123.9 132.1h0M123.5 143.1h0M125.2 138.3h0M120.3 144.1h0M120.5 133.2h0M157.4 150.6h0M157.8 151.4h0M160.4 150.7h0M160.9 150.6h0M158.4 149.5h0M156.2 148.5h0M156.2 149.4h0M155.4 148.8h0M155.4 151.2h0M155 147.1h0M154.9 154.1h0M157.4 148.1h0M159 149.7h0M159.2 147.4h0M158.2 148.7h0M158.8 150.2h0M173.5 161.6h0M171.7 162.3h0M173 162.7h0M172.8 160.9h0M176.4 162h0M171.4 163h0M172.3 161.6h0M146 181.7h0M137.9 182.8h0M147.8 182.9h0M141.8 179.7h0M144.9 179.2h0M140.9 186h0M139.2 178.8h0M145.5 181.2h0M144.8 181.5h0M144.5 180.6h0M139.1 181.5h0M144.1 181.1h0M144 180h0M181.7 156h0M175.7 159.7h0M178.4 157h0M182 152.1h0M177.4 154.5h0M178.3 150.2h0M177.9 157.8h0M180.6 156h0M174.2 152h0M175.9 150h0M148.9 102.2h0M147.2 95.5h0M150.1 97.3h0M143.7 96.7h0M149.3 94.5h0M149.3 98.9h0M144.9 90.6h0M148.4 88.1h0M146.4 94.2h0M145.9 102.1h0M149.8 94.8h0M153.3 96.2h0M148.5 168.6h0M153.4 167h0M159.3 171h0M150 165.6h0M149.8 167.5h0M147.3 169.4h0M151.9 168.8h0M148.4 166.3h0M151.5 167.5h0M154.3 164.7h0M97.7 141h0M94.6 143.2h0M97 140.8h0M94.3 142.1h0M95.8 141.5h0M94 142.7h0M94.5 143.9h0M96.1 141.7h0M96.3 143h0M95.6 140.6h0M96.2 142.7h0M96.7 144.3h0M97.4 141.7h0M97.2 141.2h0M152.7 113.7h0M154.7 112.6h0M157.2 114.8h0M153.8 112.7h0M154.2 112h0M156.1 113.7h0M152.1 115.4h0M153 114.5h0M155.7 117.5h0M154.8 115.9h0M153.9 111.8h0M153 115.6h0M153.2 115h0M86.4 108.5h0M84.1 111.7h0M85 109.7h0M89 110.9h0M89.2 111.5h0M86.9 111.6h0M85.6 110h0M86.2 110.1h0M88.1 111.1h0M79.2 57.4h0M85 60.7h0M85.6 60.8h0M83.7 60.3h0M83.8 57.9h0M85.9 57.3h0M83.6 59.6h0M84.9 57.5h0M86.7 62.3h0M82.5 53.8h0M90.8 61.7h0M81 54.7h0M80.5 55h0M83.3 58.5h0M85.4 57.3h0M82.9 63.2h0M85.1 106.1h0M82.9 108h0M80.8 109h0M85.4 109h0M82.4 108.9h0M85.5 108.1h0M85.6 108.5h0M83.7 108.3h0M81.6 110h0M84.7 109.6h0M84.8 108.2h0M81.7 108.1h0M84.4 111h0M80 106.3h0M86.4 109.8h0M85.4 108.8h0M82.5 108h0M85.7 111.2h0M84.3 107.9h0M191.2 182h0M193.4 181.9h0M192.1 178.3h0M192.5 182h0M191.6 182h0M192.3 181.2h0M81.4 101.8h0M82.7 101.2h0M81.7 103.4h0M83.9 99.4h0M81 100.8h0M81 102.1h0M80.9 102.6h0M111.1 55.1h0M110.9 54.7h0M110 56.8h0M109.2 55.1h0M111.2 53.6h0M109.1 52.8h0M110.4 56.3h0M111.9 54.2h0M110.5 53.6h0M135.1 169.1h0M133 164.9h0M128.2 168.1h0M133.7 167.9h0M131.8 166.5h0M136.8 164.5h0M132.3 160.9h0M132.8 172.1h0M142.3 167.5h0M134.9 170.5h0M156.2 163.9h0M155 163h0M155.4 161h0M155.9 159.2h0M155.6 161h0M157.4 158.2h0M151.5 163.1h0M154.9 165.1h0M156.8 158.9h0M150.7 158.6h0M153.5 164.8h0M157.1 159.7h0M157.8 161.3h0M157.9 161.4h0M51.5 68.7h0M51.6 63.7h0M54.4 64.9h0M51.8 63.2h0M57.2 66.4h0M49.9 65.2h0M55.2 67.3h0M53.2 66.2h0M53.9 67h0M52.5 63.7h0M140.6 156.1h0M139.4 150.5h0M137.9 151.4h0M139.7 153h0M142.6 153.4h0M139 154.6h0M137.7 155.7h0M132.4 154.1h0M105.2 132.3h0M108.3 135.9h0M108.4 134.9h0M106.2 134.5h0M103.8 137.5h0M108 133.3h0M106.1 135h0M107.9 135.2h0M106.1 134.6h0M107.2 135.5h0M105.2 135.1h0M110.2 133.4h0M107.4 89.1h0M106.8 88.8h0M105.2 92.5h0M107.6 89.6h0M105.9 90.6h0M108.9 89.9h0M108.7 90.7h0M106.7 90.4h0M107.1 91.3h0M107.9 91.6h0M104.9 90.1h0M106 89.3h0M137.9 87.3h0M134.1 90.9h0M135.6 91.3h0M134 87.8h0M141.7 89.3h0M138.6 88.9h0M137 90.5h0M133.3 87.1h0M140 89.2h0M140.1 86.9h0M135.1 89.1h0M160.2 129.9h0M162 128.7h0M156.7 130.3h0M160.1 127.6h0M158.9 126.7h0M159.6 134.4h0M160.9 129.5h0M158.7 131h0M161.8 127.3h0M147.7 172.5h0M149.9 171.3h0M152 166.6h0M149.6 176.7h0M147.8 169.1h0M172.7 142.3h0M171.9 142h0M171.2 142.2h0M172.7 143.3h0M170.4 141.7h0M172.7 141.3h0M171.8 140.2h0M171.7 141.2h0M173.6 139.5h0M170.8 141.8h0M170.6 141.5h0M173.7 142.4h0M173.7 140.8h0M170.3 142.9h0M172.3 142.5h0M167.3 164.3h0M169.4 164.5h0M174.5 163.3h0M170 162.6h0M169.8 166.6h0M174 162.2h0M170.1 164.2h0M170.8 164.6h0M173.2 163.7h0M112.6 116.3h0M112.6 117.5h0M116.3 115.9h0M116.5 114.7h0M110.5 115.7h0M113.3 117.9h0M111.8 115.6h0M116.6 115.2h0M116.8 115.2h0M115.7 116.7h0M117.1 115h0M113.6 117.8h0M117.7 113.4h0M111.3 115.5h0M113.4 114.8h0M115.7 113.1h0M120.6 112h0M117.1 114.9h0M138.4 125.1h0M137.4 128h0M137 127.1h0M135.4 131.3h0M140.6 128h0M143.1 133.4h0M137.4 129.8h0M132.9 129.9h0M141.6 124h0M62.4 70.3h0M59.6 69.5h0M58.7 67h0M58.4 65.8h0M58 69.6h0M51.9 68.7h0M59.4 67.5h0M57.3 66.7h0M57.9 70.1h0M61 68h0M64.3 66.4h0M64.6 71.1h0M68.8 67.9h0M65.9 63h0M65 66.8h0M68 66.4h0M70.1 64h0M69.1 63.6h0M64.4 64.3h0M68.1 64.6h0M64.7 64.9h0M69.3 70.7h0M69.2 67h0M64.3 64.6h0M71.3 65.1h0M194.4 210.5h0M195.6 207.4h0M191.3 211.8h0M193.7 210.8h0M195.1 209.5h0M191.8 208.1h0M191.6 208.6h0M192.3 206.1h0M192.9 207.7h0M194.4 208.2h0M189.6 209.1h0M193.1 207.7h0M191.9 208h0M193.4 206.6h0M189.6 205.1h0M189.8 207.4h0M194.7 205.6h0M195.1 207.2h0M192.3 208h0M137.3 93.4h0M135.9 96.2h0M134.4 95.6h0M134.7 93.2h0M131.6 94.9h0M132 94.7h0M132.2 97.2h0M132 94.9h0M131.9 94.9h0M139.7 94.8h0M133.7 95.6h0M146.1 150.6h0M151.1 148.2h0M149.1 151.3h0M149.2 148.3h0M146.5 150.5h0M150.6 151h0M149.4 151.5h0M149.4 149.4h0M149.8 149.3h0M148.3 149h0M148.8 150.4h0M150.2 149.2h0M145.8 150.4h0M150.1 149.5h0M145.9 148.8h0M149 151.4h0M149 148.7h0M103.3 101.4h0M104 96.7h0M96.6 100.7h0M98.4 98.9h0M100.4 95.9h0M98.8 93.5h0M97.9 91.6h0M98.7 99.8h0M97.1 92h0M90.2 102.4h0M84.9 101.4h0M88 100.6h0M88.9 103.2h0M88.3 101.9h0M90.2 104.3h0M87.9 103.1h0M86.4 102h0M84.2 103h0M88.1 101.4h0M86.7 101.1h0M85 104.1h0M87.2 101.6h0M89.1 103.9h0M86.5 102.4h0M85.9 103h0M88.1 100.4h0M86.7 100.7h0M87.8 100.6h0M90.1 103.7h0M173.9 146.5h0M176 147.1h0M174.6 145.5h0M177.1 147.1h0M175.2 146.5h0M172.9 148.7h0M171.5 147.9h0M174.3 147.7h0M175 147.6h0M174.9 146.2h0M175.1 147.9h0M173 143.5h0M175.3 148.4h0M75.4 91.7h0M72.5 96.6h0M81.3 93.1h0M79.3 93.6h0M83 96.1h0M76.6 94.3h0M77.4 91.5h0M79.2 90.7h0M78.1 92.3h0M79.1 96.6h0M76.3 94.8h0M78.2 92.3h0M71.7 96.4h0M72.7 95.6h0M80 96.1h0M75.8 94.5h0M72.7 95.9h0M79 96.8h0M79.5 93.6h0M80 70.2h0M76.4 74.4h0M77.6 73.6h0M78.5 73.1h0M77.7 73.3h0M78.2 73.1h0M78.2 72h0M78.4 73.9h0M177.9 182.3h0M175.8 179.8h0M173.3 179.3h0M175.2 179h0M177.2 182.9h0M176.9 182h0M172.4 178.9h0M175.9 182h0M174.1 181.4h0M174.5 180.3h0M175.8 180.7h0M172.8 180.2h0M173.6 179.3h0M114.5 104.5h0M116.5 104.1h0M115.6 105.9h0M114.9 104.1h0M116.5 105.6h0M115.7 104.3h0M115.4 105.1h0M116 106.8h0M115.4 104.4h0M114.3 106.2h0M116.9 104.5h0M115.7 103.9h0M169.8 177.9h0M167.9 178.5h0M168.6 174.9h0M168.3 177.6h0M169.1 178.5h0M169.9 176.8h0M166.4 179.6h0M167.8 177h0M168.7 178h0M169.4 176.7h0M170.9 176.1h0M168.3 177.3h0M167.7 176.1h0M168.1 178.4h0M171.3 178.6h0M168.4 178.1h0M169.2 177.4h0M172 178.6h0M168.2 178.8h0M168.9 177.2h0M168.7 177.4h0M166.9 177.6h0M168.1 175h0M166.7 173.2h0M169.2 175.2h0M162.1 173.7h0M162.6 176.6h0M169.5 174.7h0M164 173.6h0M164.3 174.5h0M170.6 174.5h0M165.4 175.7h0M167.1 178.1h0M164.5 174.2h0M171.3 175.2h0M166.7 173.9h0M166.6 175.5h0M167.6 174.4h0M167 173.3h0M165 175.1h0M165.6 174.6h0M168.8 173.8h0M167.3 174.4h0M117.4 81.6h0M120.1 82.5h0M113.5 79.8h0M118.8 78.7h0M122.4 79.6h0M120.6 80.8h0M120.3 78.9h0M117.5 78h0M119.5 79.5h0M122.5 81.3h0M120.1 82.6h0M120.7 81.9h0M119.9 82.6h0M119.7 76.2h0M122.7 82.8h0M123.3 78.7h0M161.3 188.6h0M162.3 192.1h0M159.5 191h0M164.6 184.3h0M160.8 196.4h0M159.8 189.3h0M161.1 192.7h0M158.1 194.3h0M166.7 192.8h0M166.6 192.5h0M162.7 191.3h0M166.1 193.8h0M162.7 189.8h0M166.8 166.7h0M165.2 162.7h0M165.3 163.5h0M170.7 161.9h0M166.8 162.4h0M170.8 162.5h0M173.6 162.2h0M168.4 164.4h0M168.3 166.6h0M167.1 162.7h0M169.6 164.8h0M168.7 163.5h0M164.5 161.2h0M170.7 164.4h0M164.7 165.8h0M94.4 100.5h0M96.5 103.4h0M96.7 98.4h0M94.8 101.6h0M95.6 102.8h0M101.9 104.5h0M100.7 99.1h0M102.1 99.1h0M97.9 101h0M100.4 96.8h0M96.7 99.6h0M98.4 96.1h0" stroke="#abd6e6" stroke-width="1.5" stroke-linecap="round" fill="none"/>
<path d="M66.5 48.8h0M61.7 48.9h0M47.7 48.8h0M40.8 48.4h0M68.1 48h0M44.8 48.8h0M49.7 48.5h0M47.7 48.3h0M60 48.9h0M63.6 48.7h0M71.8 48.6h0M47.6 48.7h0M59.9 48.3h0M44.7 48.9h0M51.4 48.9h0M69.3 48.3h0M41.8 48.2h0M60.4 48.3h0M71.6 48.9h0M39 49.1h0M59.1 48.7h0M53.7 48.5h0M48.1 48.7h0M60.6 48.7h0M79 48.4h0M71.6 48.5h0M58.9 48.5h0M39.8 49.2h0M40.8 48.5h0M74.6 48.7h0M39.8 48.2h0M34.9 49.3h0M43.5 48.7h0M75.1 48.2h0M75.7 48.9h0M60.7 48.8h0M78.8 48.7h0M64.9 49h0M39 48.5h0M53.8 48.6h0M71.8 48.6h0M64.7 49h0M39.5 48.2h0M71.8 48.4h0M49.9 49.2h0M65.4 48.3h0M74.6 48.2h0M79.8 48.6h0M52.9 48.3h0M73 49.1h0M79.2 48.4h0M54.9 49.1h0M64.2 48.7h0M50.3 48.1h0M51.8 48.8h0M77.5 48.6h0M76.9 48.6h0M77.9 47.9h0M70.8 48h0M56.6 48.8h0M65.5 48.6h0M39.3 48.8h0M51.1 48.5h0M62.1 47.7h0M65.7 48.7h0M74.9 48.6h0M34.8 48.4h0M69.2 48h0M76.4 48.5h0M70.1 48.7h0M59.7 48.2h0M78.8 48.8h0M36.1 48.1h0M43 48.6h0M48.3 49.3h0M64.6 48.4h0M71.7 48.7h0M53.9 48.5h0M38.5 48.4h0M51.8 48.1h0M35.1 48.6h0M65.5 48.2h0M60.8 49.1h0M59.1 48.4h0M51.3 48.6h0M43.9 48.8h0M46.8 48.3h0M60.7 48.2h0M40.8 48.4h0M63.3 48.8h0M62.6 47.8h0M67.6 48.3h0M53 48h0M46.8 48.9h0M56.6 49.1h0M44.3 48.6h0M52.5 48.2h0M70.2 48.4h0M38 48.4h0M37.3 48.2h0M62.8 48.6h0M78.9 48.6h0M55.7 48.7h0M67.2 48.4h0M68.6 48.7h0M53.9 48.2h0M43 49.1h0M37.6 48.5h0M71.3 48.7h0M57.6 48.7h0M65.7 48.1h0M42 48.4h0M38.1 48.3h0M42.2 48.2h0M40.2 48.2h0M34.7 49h0M33.6 48.8h0M58.4 48.9h0M66.6 48.4h0M49.7 48.7h0M45.2 52h0M45.8 50.5h0M45.3 49.2h0M45.1 51.6h0M45.5 48.9h0M45.1 51.7h0M45.7 51.6h0M45.6 49.4h0M44.6 53.3h0M45.1 53.2h0M45.5 50.2h0M44.3 51.1h0M44.3 50.7h0M45.8 48.8h0M48 51.9h0M48.9 52.6h0M49.3 52.4h0M48.8 51.6h0M47.8 49.9h0M47.3 50.7h0M48.5 49.1h0M48.1 52.6h0M46.6 52.1h0M47.7 50.4h0M48.9 49h0M47.4 49.4h0M47.3 48.4h0M47.1 52.5h0M47.2 51.2h0M47.3 49h0M51.3 56.1h0M51.6 54.9h0M50.9 52.5h0M51.1 49.1h0M51.5 51.7h0M51.6 49.6h0M51.3 54.1h0M49.4 53.3h0M51.4 52.9h0M51.7 55h0M50.7 51.1h0M50.4 50.2h0M51.7 54.4h0M51 50h0M50.8 50.7h0M51.7 51.2h0M51.5 56h0M50 54.2h0M51.8 52.4h0M50.4 52.8h0M54.7 54.1h0M53.9 51.9h0M54.4 53.7h0M54.2 51.4h0M53.8 51.9h0M53.7 52.5h0M54.5 57.6h0M54 55.4h0M54.4 51.9h0M53.5 50.1h0M53.8 53.5h0M53.8 54.3h0M53.8 53.9h0M53.4 52h0M53.2 49.1h0M54 48.4h0M54.6 49.2h0M53.5 49.4h0M54.4 50.3h0M52.9 56.6h0M54.4 56.2h0M53.4 55.4h0M53.6 49.1h0M53.7 51.5h0M53.9 49.7h0M53.4 52.8h0M56.1 58.3h0M55.4 51.4h0M55 52.6h0M55.7 51.2h0M55.9 53.3h0M55.3 49.3h0M55.3 52.5h0M55.1 58.4h0M55.7 48.9h0M55.6 56.8h0M55.4 51.4h0M54.5 53.8h0M54.4 55.6h0M55.8 53.8h0M55.3 55h0M55.2 53.1h0M55.7 59.4h0M55.3 48.9h0M55 54.2h0M54.9 49.6h0M55 54.6h0M56 48.3h0M56.4 49.6h0M56.1 51.8h0M55.2 50.8h0M57.4 57.5h0M55.3 56.4h0M55.6 49h0M55.8 56h0M55.8 53.2h0M55.2 58.2h0M54.3 52.8h0M56.1 49.1h0M56.2 54.7h0M58.1 58.8h0M58.4 57.4h0M58 55.4h0M57.6 51.7h0M57.8 53.5h0M57.5 50.1h0M57.7 53.7h0M57.8 50.1h0M58.2 49.6h0M57.2 49.6h0M57.6 50.3h0M58.8 53.3h0M58 52.3h0M58.5 59.7h0M58.5 56.1h0M58.4 53.7h0M57.8 59.3h0M57.7 58.1h0M58.6 56.3h0M58.1 52.1h0M58.3 53.4h0M57.9 56.1h0M58 57.7h0M58.7 54.4h0M57.9 52.5h0M59.5 57.5h0M58.3 51.8h0M58.2 51.8h0M57.8 57.5h0M58.8 52.1h0M60.7 51.4h0M59.9 57.5h0M60.4 50.1h0M60.9 55.4h0M60.2 51.4h0M60.8 54.7h0M60.1 56.1h0M59.9 61.1h0M61.4 52h0M60.4 48.9h0M59.1 62.5h0M60.3 62.3h0M60.9 52.7h0M60.7 57.5h0M60 56h0M59.7 62h0M60.8 54.3h0M59.6 57.3h0M60.5 48.7h0M59.7 48.8h0M60.7 59.6h0M60.2 60.9h0M59.8 55.8h0M60.6 57.6h0M60.2 60.3h0M60.2 63.3h0M59.7 49.6h0M60.6 57.2h0M60.8 61.6h0M61.2 58.6h0M60.9 54.4h0M60.3 53.2h0M59.6 49.2h0M60.2 53.6h0M61.1 50.8h0M59.9 60.7h0M60.6 56.9h0M59.7 54h0M60 55h0M59.8 53.6h0M60.7 49.8h0M61.2 55.3h0M62.5 56.3h0M63 61.6h0M62.5 56.4h0M63.3 63.2h0M62.9 53.8h0M63.2 55.1h0M63.2 63.1h0M63.5 54.2h0M63 52.4h0M61.8 56h0M62.8 63h0M62.4 54.3h0M63 52.2h0M63 49.3h0M62.5 48.5h0M63.5 57.9h0M63.8 57.3h0M63.6 55.9h0M62.6 50.6h0M62.5 58.3h0M62.7 50.9h0M62.8 57.5h0M62.9 52.3h0M63.2 48.5h0M62.6 61.7h0M63.1 48.6h0M62.7 52h0M62.7 55.3h0M63 60.3h0M63 50.9h0M63.3 52h0M63 55.8h0M63.2 57.4h0M62.5 48.9h0M62.6 59.9h0M63 49.8h0M64.1 58.9h0M62.5 60.6h0M62.9 60.5h0M63.4 48.4h0M63.3 55.6h0M63.3 49.2h0M61.8 49.3h0M63.6 59.5h0M64.6 56.2h0M65.3 58.9h0M64.3 54.7h0M64.4 49.1h0M65.7 55.8h0M65.1 56.1h0M65.5 59.8h0M65.2 59h0M65.1 64.4h0M65.7 56.5h0M65.3 58.7h0M64.4 63.9h0M65.3 58.9h0M65.5 55.1h0M65.2 50.6h0M65.5 57.4h0M64.8 63.5h0M64.7 60.2h0M65.2 50.6h0M64.1 53h0M65.6 49.3h0M64.6 57.9h0M66 59.2h0M64.3 59.6h0M64.9 54.5h0M65.7 64h0M64.6 49.4h0M64.8 62.5h0M65.4 55.6h0M64.4 56.4h0M65.6 56.6h0M64.3 55.5h0M65.1 63.2h0M65.5 58h0M65.4 64.6h0M65.9 50.5h0M64.8 64.8h0M64.6 53.6h0M64.8 63.7h0M65.5 58.9h0M64.2 49.5h0M65.4 54.8h0M64.7 59.4h0M64.3 53.2h0M67 52.9h0M67.2 53.7h0M66.8 54.2h0M67.1 54.1h0M67.3 56.9h0M67.5 56.3h0M66.8 51.3h0M67 50.8h0M66.7 55.5h0M67.9 51.4h0M67.4 56.4h0M67.6 48.8h0M67.4 64.6h0M67.8 61.3h0M67.4 65.9h0M68.1 58.7h0M67.5 55.2h0M67.6 50h0M67.3 66.6h0M66.9 58.4h0M68.3 51.1h0M66.7 64.9h0M67.2 48.8h0M67.1 52.4h0M67.9 50.2h0M67.9 53.2h0M67.4 53.3h0M67.5 63.2h0M67.4 61.8h0M66.9 51.4h0M68.1 57.4h0M66.9 62.1h0M66.4 60.5h0M67.7 56.4h0M66.7 48.7h0M67.7 53.3h0M68.3 49.1h0M67.6 67h0M67.4 66.4h0M68.1 49h0M68.8 52.4h0M66.7 48.8h0M67.6 54.5h0M67.8 60.6h0M67.2 57.2h0M67.1 61.2h0M68.5 48.7h0M67.7 58.9h0M68.6 67.5h0M68.7 54.4h0M67.1 49.4h0M67.9 53.7h0M67.3 52.6h0M68.2 61.3h0M67 59.9h0M69.9 62.2h0M69.4 58.8h0M69.1 62.7h0M69.1 57.3h0M69.5 62.2h0M69.6 65.8h0M69.5 66.5h0M68.7 52.8h0M68.8 57.1h0M70.1 63.5h0M69.8 68.5h0M69.4 55.1h0M68.8 57.5h0M69.9 60.2h0M69.5 55.3h0M70.1 68h0M70.3 61.8h0M70.1 58.8h0M69.5 66.8h0M70.2 53.5h0M69.8 63h0M69.4 54.2h0M68.8 60h0M70.3 61.7h0M68.4 57.6h0M70.3 66.6h0M69.2 57.5h0M70.2 62.1h0M69.6 52.4h0M69.9 62.7h0M69.8 55.7h0M69.2 59.7h0M69.8 55.2h0M69.1 63h0M69.1 66.7h0M70.3 54.8h0M69.5 56h0M69.8 61.1h0M70.2 59.6h0M71 63.2h0M69.5 68.6h0M69.4 61.1h0M70.2 61.5h0M70.2 61h0M72.7 51.4h0M72.3 55.7h0M72.4 67.2h0M72 57.6h0M73 56.5h0M72.6 70.6h0M71.6 58.1h0M72.8 63.2h0M72.2 58.3h0M71.8 48.6h0M72.4 66.1h0M72.6 48.7h0M72.1 68.6h0M72.5 64.6h0M73.1 48.9h0M72.6 58.9h0M71.3 50.4h0M72 67.6h0M72.2 69.3h0M72.1 67.1h0M72.3 56.7h0M71.8 64.4h0M72.1 68.9h0M72 56h0M72.6 66.6h0M72.2 64.8h0M72.6 60.2h0M72.8 65.3h0M72.9 60.5h0M72.9 60.9h0M72.3 49.7h0M72.5 54.7h0M72.3 54.7h0M72.8 56.8h0M71.7 52.7h0M71.8 56.9h0M71.7 65.2h0M71.3 54.9h0M72.4 62.3h0M72.7 56.9h0M72.4 50.2h0M71.9 70.8h0M71.5 51.3h0M71.2 65.1h0M72 61.7h0M72.5 51.3h0M71.9 66.1h0M72.1 50.8h0M73.5 57.9h0M71.5 57h0M71.9 50.1h0M72.3 58.8h0M71.6 67.9h0M71.4 64.9h0M71.5 68h0M72.4 61.3h0M71 59.4h0M72 62.1h0M72.1 59.6h0M71.7 67.4h0M72.2 57.8h0M75 54.8h0M74.5 63.3h0M73.7 59.7h0M74.1 54.3h0M73.2 67.6h0M73.7 63.2h0M73.4 59.8h0M74.2 53.7h0M73 49.6h0M73 53.9h0M73.9 69.2h0M74.6 64.4h0M72.4 67.3h0M74.6 60.6h0M75.1 57.4h0M73 65.6h0M74.3 68.2h0M73.9 69.6h0M74 64.7h0M74.5 50.1h0M73.9 56.9h0M74.3 57.9h0M74 51.2h0M74 51.9h0M73.4 62.1h0M72.9 62.5h0M73.8 58.6h0M73.7 53.1h0M73.6 52.1h0M73.8 62.6h0M74 68.3h0M74 58.5h0M74.2 49.4h0M73.5 49.3h0M74 64.3h0M73.5 60h0M73.6 58.3h0M74 58.5h0M73.6 56.5h0M73 58.2h0M73.6 49.4h0M72.9 55.3h0M73 66.7h0M74 50.7h0M73.4 70h0M73.5 66.2h0M73.9 58.9h0M73.8 61.2h0M73.6 49.2h0M73.9 52.4h0M72.4 64.2h0M73.5 56.5h0M73.8 54.4h0M73.7 58.4h0M72.6 68.6h0M73.5 62.3h0M74.2 48.7h0M73.5 67.4h0M75.5 61.1h0M76.2 52h0M77.3 66.4h0M76.7 60h0M76 51.1h0M75.4 49.5h0M76.2 51h0M76.1 60h0M74.8 66h0M75.9 63h0M75.8 56.6h0M75.6 57.6h0M76.8 67.9h0M76.9 59.1h0M76.8 61.7h0M75.8 57.9h0M76 68.8h0M76.6 64.5h0M76.8 67.7h0M76.3 68.2h0M76.3 68.3h0M76.5 68h0M77.4 57.2h0M75.8 61.4h0M77 59.6h0M76.8 59.5h0M76.7 52.7h0M76.6 66h0M75.7 67.1h0M75 52.7h0M76.5 58h0M75.4 53.9h0M76.6 52.3h0M77.3 58.4h0M76.3 67.8h0M76.2 51.8h0M76.5 53.5h0M76.7 49.6h0M75.9 59.4h0M75.7 51.8h0M76.6 53.6h0M75.7 61.3h0M75.9 63.5h0M77.4 52h0M76.5 65.2h0M76.3 49.7h0M76 62.3h0M76.2 59.7h0M76 48.7h0M77.2 56.6h0M75.7 66.8h0M76.8 48.4h0M75.7 61.5h0M76.9 62.2h0M75.5 58.3h0M75.9 62.5h0M78.2 48.9h0M77.9 65h0M77.9 68h0M78.3 57.3h0M76.9 60.7h0M78.3 67.2h0M77.9 50.5h0M77.9 74h0M76.9 58.5h0M77.8 60.5h0M77.7 59.7h0M78.1 50.3h0M77 56.3h0M77.5 66.6h0M78.1 63.6h0M77.1 68.8h0M77.9 73h0M78.4 53.6h0M78.4 71.9h0M78.6 62h0M78.8 51.9h0M77.9 50h0M77.5 51.9h0M77.6 53.3h0M77.9 60h0M78.3 65.1h0M78.4 55.3h0M77.2 55.4h0M77.7 49.7h0M77.2 56.9h0M77.2 55.4h0M78 64.3h0M77.9 58.1h0M77.8 60.7h0M78 68.9h0M78.5 49.7h0M76.5 48.8h0M77.5 66.3h0M77.8 68.1h0M78.6 50.6h0M77.6 57.7h0M78.7 51.7h0M77.3 74.7h0M77.6 57.6h0M76.9 58.5h0M77.8 68.9h0M78.1 51.1h0M77.8 62.8h0M77.6 52.9h0M77.6 53.8h0M78.2 71.6h0M78.4 69.9h0M77.7 66.1h0M77.9 54h0M78.4 55.3h0M78 53.1h0M77.9 72.8h0M77.7 51.9h0M78.2 70.5h0M77.6 59.2h0M77.6 73.2h0M78.3 63h0M77 56.3h0M77.6 61.7h0M77.5 59.8h0M77.8 48.7h0M78.6 66.8h0M77.4 57.1h0M77.5 67h0M77.5 53.2h0M77.5 60.3h0M77.8 67h0M80.6 59.6h0M79.9 67h0M80.1 66.1h0M81.3 60.6h0M80.1 71.9h0M80.9 74.7h0M80.6 71.8h0M81.6 69.9h0M81.8 66.9h0M80.3 71.1h0M79.9 67.2h0M80.3 74.2h0M80.1 71.4h0M80.7 56.5h0M80.3 64.1h0M81.1 61.1h0M80.6 74.2h0M81.6 57.6h0M80.9 55.7h0M80.1 56.4h0M80.6 58.3h0M80.7 59.5h0M81.2 66.6h0M80.8 74.8h0M81 69h0M81.3 62.6h0M80.9 64.7h0M81.2 71.8h0M81.3 68.1h0M79.7 62.1h0M80.3 62.5h0M80.7 66.1h0M80.4 71.8h0M80.6 71.3h0M80.4 75.7h0M81.1 65.6h0M80.1 63.1h0M80.6 61.9h0M80.8 63.3h0M80.8 68.4h0M80.6 57.9h0M80.6 58.5h0M80.8 59.3h0M80.6 57.7h0M80.2 73h0M80.8 69.8h0M80.3 75.5h0M79.6 73.6h0M80.6 65.1h0M79.8 73.5h0M81.2 59.9h0M80.5 60.4h0M80.5 57h0M79.7 62.2h0M81.3 68.5h0M80.7 69.7h0M80.7 57.7h0M80.6 71.4h0M82.2 72.8h0M82.3 69.2h0M82.2 66.1h0M82.8 64.9h0M82.8 59.9h0M83.1 63.5h0M81.8 57.7h0M81.6 77.7h0M82.9 71.3h0M82.2 56.6h0M82.4 59.7h0M82.2 70.2h0M82.3 68.3h0M81.6 67h0M82 69.2h0M81.7 77.4h0M82.1 64.9h0M82.7 68h0M82 63.6h0M82.2 77h0M82 61.7h0M82 75.3h0M82.2 77.2h0M82.9 61.9h0M83.4 63.5h0M82.7 75.5h0M82.3 74.9h0M80.8 69.4h0M82.1 75.3h0M81.9 58.9h0M82.3 70.3h0M81.5 63h0M82.7 66h0M82.5 58.7h0M82 75h0M81.3 75.5h0M82.1 76.1h0M81.9 75h0M82.5 61.1h0M82.8 70.6h0M81.9 69.5h0M81.9 66.4h0M82 67.1h0M82.6 70.7h0M82.4 75.2h0M82.1 60.5h0M82.6 65.8h0M82.3 78.2h0M82.5 66.2h0M83.2 59.9h0M82.5 66.3h0M82 55.6h0M81.5 77.3h0M82.2 64.3h0M82.6 71.7h0M82.4 76.3h0M81.9 55.7h0M82.8 75.7h0M82.2 75.4h0M82.4 57.2h0M81.8 63.4h0M84.3 65.7h0M85.9 75.5h0M84 73.7h0M84.6 65.6h0M85.1 66.2h0M85.1 62.4h0M84.8 74.8h0M84.5 58.2h0M84.8 58h0M85.4 77.4h0M85.1 70.3h0M85 78.8h0M85.3 75.5h0M84.5 66.6h0M84.3 58h0M84.3 79.5h0M84.1 66.8h0M85.8 69.9h0M85 76.4h0M84.8 74h0M84.4 65.4h0M85.6 80.6h0M85.2 77.7h0M84.8 76h0M84.1 62.9h0M84.8 66.4h0M85.6 77.1h0M84 59.6h0M85.6 70.6h0M85 71.2h0M85.1 58.8h0M84.6 58.5h0M84.6 74.1h0M85.5 63.4h0M84.9 71.3h0M84.7 64.8h0M84.5 60.2h0M84.9 72.5h0M84.6 79.8h0M84.6 72.4h0M84.3 71.1h0M84.7 75.3h0M85 61.1h0M85.5 60.1h0M84.7 66.2h0M85.3 75.4h0M84.8 68.3h0M84.4 69.6h0M85.1 75.9h0M85.2 62.6h0M85.1 77.2h0M83.3 78.4h0M84.8 67.6h0M85.7 77h0M84.5 80.1h0M84.5 73.2h0M85.8 71h0M85.7 78.5h0M85.5 61.1h0M84.1 72.2h0M84.2 72.1h0M86.6 80.6h0M86.3 66.2h0M86.3 79.7h0M86.5 79.1h0M86.1 78.7h0M86.2 81.8h0M86.2 75.6h0M86.9 66.5h0M86.6 81.1h0M86.7 70h0M87.3 69.6h0M85.8 78.8h0M86.7 64.8h0M86.3 64.8h0M86.3 66.6h0M86.6 74.6h0M87.5 77.2h0M86.7 68.4h0M86.9 67.5h0M86.8 70.9h0M85.9 64.1h0M86.7 66.8h0M86.4 78.9h0M86.8 79.5h0M86.9 72.6h0M85.9 75.1h0M87.1 68.8h0M85.4 78.4h0M86.9 76.5h0M86.1 77.3h0M86.8 68.7h0M86.9 77.7h0M87 73.9h0M86.9 72.5h0M86.3 67.7h0M87 75.6h0M86.5 78.9h0M86.9 70.6h0M85.7 75.2h0M87 81.2h0M86.4 68.3h0M87.5 79.5h0M85.8 63.9h0M86.6 70.5h0M85.5 80.7h0M86.4 73.7h0M86.4 64.5h0M86.6 75.6h0M86.6 63.8h0M86.6 66.9h0M88.6 62.3h0M88.9 74.7h0M87.8 75.7h0M88.7 63.3h0M88.7 65.5h0M88.5 62.9h0M88.4 75.1h0M88.3 72h0M88.5 75.8h0M87.5 66.8h0M88.1 71.6h0M89.2 65.2h0M88.6 76h0M88.5 78.1h0M89.6 74.2h0M89.4 75h0M89.5 61.3h0M89.3 66.7h0M88 70.4h0M88 68.9h0M88.3 69.1h0M89.3 68.3h0M88.4 70.7h0M88.3 70.3h0M88.4 65h0M89.4 71.9h0M88.2 70.5h0M88.1 68.6h0M87.9 68.1h0M87.8 72.2h0M88.8 69.5h0M88.2 66.8h0M88.6 64.7h0M88.2 77.2h0M87.9 79.3h0M89.5 76.1h0M88.6 61.9h0M87.7 69.1h0M88.6 76.8h0M87.6 69.3h0M88.6 62h0M88.5 61.7h0M88.8 64.4h0M88 64.3h0M88.5 69.5h0M88.4 75.3h0M88.7 72.2h0M88.7 76.7h0M89.3 71h0M88.6 78.7h0M89 71.5h0M88.1 67.1h0M92.2 69.1h0M90.2 66.8h0M91.4 75.6h0M91.3 68.3h0M91.3 75.5h0M91.3 67.6h0M92.1 68h0M91.2 68.2h0M91.3 73.5h0M90.8 80.2h0M91.3 74.2h0M90.4 68.2h0M90.9 75.4h0M90.5 74.3h0M91.3 76.2h0M92.1 66.9h0M90.7 67.3h0M90.9 69.9h0M92.3 79.7h0M91.2 75.6h0M91.3 72.3h0M90.7 74.7h0M91.3 68.5h0M90.7 72h0M91.3 78h0M89.7 77.7h0M90.7 67.2h0M91.3 78.4h0M91.3 76.1h0M91.5 71.4h0M90.6 79.7h0M92.6 78.6h0M92.3 71.1h0M91.3 79.6h0M91.4 75.2h0M91.3 68.4h0M90.4 75.7h0M93.8 87h0M93.8 81.3h0M94.1 81.6h0M93.3 86.5h0M93 84.1h0M93.8 86.6h0M93.6 82.6h0M94.3 80h0M93.7 71.4h0M93 79.5h0M93.9 69.6h0M94.3 69.3h0M94.3 76.9h0M93.4 74.4h0M94.9 79.3h0M93.7 83.7h0M93.9 72.6h0M94 69.3h0M93.3 86.8h0M94.8 86.7h0M93.5 89.1h0M93.3 73.6h0M94.4 84.7h0M93.5 75.7h0M93.9 73.6h0M94.3 86.3h0M93.4 84.3h0M94.2 73.9h0M94.5 81.2h0M94.3 87.2h0M94.4 69.1h0M94.5 73.5h0M93.8 87.4h0M93.6 78.2h0M94.1 87.5h0M93.8 87.7h0M92.5 71.5h0M93.5 81.9h0M93.5 79.5h0M93.4 75.9h0M93.3 75h0M93.9 80.3h0M93.4 70.4h0M94.5 88.2h0M94.5 73.5h0M94.3 77.2h0M94.1 84.8h0M92.5 72.8h0M93.6 70.7h0M93.6 77.3h0M93.4 73.4h0M94 84.7h0M93.4 80h0M94 89.1h0M94.4 87.1h0M92.9 74.1h0M95.4 81.5h0M95.8 71.7h0M96.5 71.7h0M95.6 83h0M95.6 76.6h0M95.6 85.7h0M95 72.2h0M95.7 69.8h0M94.8 85.5h0M95.5 75.8h0M95.6 80.3h0M96 68.9h0M95.7 90h0M95.3 84h0M95.9 83.3h0M95.6 90.1h0M95.3 71h0M96 71.7h0M95.4 89.4h0M95.5 74.2h0M95.3 86.8h0M95.5 88.3h0M96.1 71.5h0M95.6 87.8h0M96.4 84.5h0M96 82.3h0M95.2 73h0M96 89.5h0M95.3 70.1h0M95.2 83.6h0M94.5 79.6h0M95.6 72.1h0M95.6 75.8h0M95.4 75.2h0M95 84.4h0M96.1 72.5h0M94.7 87.5h0M95 72.3h0M95.6 80.9h0M94.4 80.4h0M96.5 84h0M95.9 90.3h0M94.7 84.7h0M95.5 89.8h0M95.2 72.1h0M96.3 76.6h0M96.4 78.9h0M96.4 76.6h0M94.8 72.5h0M95.2 88.4h0M94.6 73.1h0M95.5 80.2h0M95.6 70h0M96.2 78.7h0M96.5 72.8h0M95.8 79.1h0M95.6 69.9h0M96.1 70.5h0M97.2 80.9h0M97.9 83.4h0M97.2 77.4h0M97.9 80.2h0M98.1 82.9h0M98.2 74.3h0M98.1 76h0M96.8 77.8h0M98.6 76.4h0M98.2 78.4h0M97 74.7h0M96.9 79h0M96.5 86.5h0M98.3 77.2h0M97.5 84h0M97.1 77.2h0M97.3 85.7h0M97.7 84h0M98.3 80.9h0M97.8 79.6h0M97.5 79.4h0M97.8 83.9h0M98.4 74.5h0M97.7 77.9h0M97.1 87.4h0M97.5 81.4h0M97.3 77.6h0M97.6 77.1h0M98 81.2h0M97.3 80h0M98.4 81.7h0M96.7 75.9h0M98.6 82.4h0M98.2 85.2h0M98.1 83.9h0M97.4 81.9h0M99.8 93.7h0M99.9 93.6h0M99.6 94.4h0M99.8 94.4h0M100.4 91.1h0M100.4 79h0M100.4 82h0M100.1 94.2h0M100.1 83.7h0M99 94.7h0M99.6 94h0M99.2 84.6h0M99.3 78.2h0M99.3 82h0M100.1 86h0M100 78.9h0M100.7 84.3h0M99.1 90.7h0M100.1 78.7h0M99.2 89.5h0M100.1 81.7h0M99.9 92.1h0M99.7 89.6h0M100.6 78.2h0M100.5 87.8h0M99.8 88.4h0M100.6 94.4h0M99.7 82.6h0M100.1 82.7h0M100 79.3h0M99.6 81h0M99.7 86.1h0M99.5 81.7h0M100.5 88.6h0M99.8 90.7h0M99.9 81.3h0M99.8 94.4h0M100 85.6h0M100.3 84.8h0M99.8 85.1h0M99.2 84.1h0M101.1 80.6h0M100.1 79.4h0M100.2 88.1h0M99.3 85.5h0M99.7 88.1h0M102.2 93.3h0M101.6 88.8h0M102.3 89.6h0M103.5 91.5h0M102.6 84.5h0M102.7 89h0M103.1 89.7h0M102.3 92.9h0M103.1 88.6h0M102.9 88.8h0M103 86.2h0M102.2 89.8h0M103 86.6h0M102.1 88.6h0M102.9 91.7h0M102.8 87.1h0M103.1 94.5h0M103.2 86h0M103 87h0M102.2 90.7h0M102.9 82.2h0M102 93.3h0M103 92.3h0M103.6 85.9h0M103.2 87.6h0M103.6 88h0M102.8 83.6h0M103.1 83.4h0M102.5 91.5h0M102.8 82.5h0M102.9 85h0M102.3 91.8h0M102.8 84h0M104.3 85.8h0M103.3 94.1h0M103.8 87.9h0M103.1 83.9h0M105.8 100h0M105.3 88.3h0M105.7 85.7h0M105.7 87.8h0M105.1 90.7h0M105.2 98.8h0M105.1 87.2h0M105 90.6h0M104.5 93.1h0M106.7 97.1h0M104.2 90.5h0M105.7 96.4h0M105.7 96.9h0M105.2 94.3h0M105.1 95.7h0M106.4 99.3h0M105.5 96.2h0M104.7 100.8h0M105.8 86.7h0M105.8 86.4h0M104.9 94.9h0M106.2 84.7h0M106 96.2h0M105.6 99.9h0M105.4 91.8h0M106 99.2h0M105.4 98.6h0M105.3 92.5h0M104.7 93.3h0M105.6 99h0M104.1 84.5h0M105.8 88.8h0M105.2 95h0M104.8 89.7h0M105 84.1h0M105.2 87.8h0M105.6 86.3h0M105.5 92.3h0M105.5 95.1h0M106.4 88.6h0M104.7 85.1h0M104.7 93.6h0M105.5 98.8h0M104.6 98.4h0M105.1 100.2h0M106 97.6h0M106.7 85.4h0M105.5 84.7h0M106.3 89h0M107.8 86.1h0M106.9 91.4h0M107.2 89.5h0M106.2 91.6h0M107 86h0M106.1 93.8h0M107.5 96.9h0M107.4 84.8h0M106.7 94.8h0M106.9 86.8h0M106.8 90.8h0M106.2 87.1h0M106.4 97.2h0M107.3 96.6h0M106.8 85.8h0M107.2 95.1h0M107.6 97.4h0M107.8 90.7h0M107.6 85.7h0M107.7 90.1h0M106.9 97.2h0M107.6 85.4h0M107.9 91.2h0M107.5 98.1h0M107.2 86.8h0M106.8 96h0M107.7 92.9h0M107.2 93.6h0M107.2 87.6h0M107.3 97.3h0M107.2 98.6h0M106.3 91.3h0M106.5 90.1h0M106.8 94.9h0M106.2 90.3h0M107.6 96.4h0M109.3 106.9h0M110.7 109.8h0M109.7 91.3h0M109.5 109h0M109.1 107h0M109.8 87.9h0M110.5 92.2h0M110.2 95h0M110 98h0M109.9 108.2h0M109.8 88.9h0M110.2 90.6h0M110.4 90.2h0M110.1 109.4h0M109.6 87.8h0M109.8 94h0M110.1 92.1h0M108.6 89h0M110.2 107.4h0M110.2 92h0M109.5 95.4h0M109.9 89.7h0M109.8 99.7h0M109.8 106h0M109.7 100.2h0M109.1 98.4h0M108.6 88h0M109.7 90.6h0M110.7 109.3h0M109.6 90.6h0M110 98.4h0M109.8 91.1h0M109.6 96.8h0M110.5 102.5h0M109.4 95.7h0M110.4 103.2h0M110.5 87.8h0M108.8 96.4h0M109.5 100h0M110.2 104.6h0M108.6 91.2h0M109.3 91.7h0M110.8 98.8h0M109.3 90.1h0M109.8 96.5h0M109.1 88h0M109.5 98.7h0M110.6 94.6h0M109.6 90.8h0M110.7 89h0M110.2 102.7h0M109.2 88.2h0M110.1 99.4h0M109.5 106h0M110.4 104.8h0M110.3 92.1h0M109.5 92.8h0M109.6 104.5h0M109.3 90.7h0M109.1 90.4h0M111.3 105.3h0M110.3 103.9h0M111.6 106.7h0M112.4 100.6h0M110.5 91.2h0M112.5 95.7h0M111.5 100.9h0M111.4 91h0M111.3 104.4h0M111.8 103h0M111.4 97.6h0M112.2 97.8h0M111.6 90.5h0M111.3 92.7h0M111.6 108.2h0M111.7 102.8h0M113.3 101.9h0M111.2 92.4h0M111.2 103.9h0M111.2 108.9h0M111.9 93.4h0M111.6 91.4h0M111.3 99.7h0M112.1 96.5h0M112.2 102.2h0M112.4 103.5h0M111.6 99.5h0M111.2 90h0M111.7 92.5h0M111.9 95.4h0M111.4 102.1h0M112.4 106.5h0M111.6 96.3h0M111.3 107.8h0M111.9 95.3h0M112.3 91.7h0M111.3 107.7h0M111.1 107.9h0M111.4 107.4h0M111.9 103.9h0M112.7 106.1h0M111.2 109.4h0M111.4 108.5h0M110.4 105.4h0M111 93h0M111.9 97.3h0M111.6 105.6h0M111.1 99.2h0M110.8 106.5h0M111.8 105.6h0M110.8 89.2h0M111.2 109.5h0M111.2 101.6h0M112 95.9h0M111.6 91.9h0M112.1 101.4h0M111.7 93.6h0M111.4 91.6h0M113.4 98.7h0M113.3 96.7h0M113.9 99.6h0M114.1 108.7h0M114 100.9h0M113.3 102.6h0M113.8 96.7h0M112.7 103.3h0M113.8 107.9h0M113.9 99.7h0M112.9 105.8h0M114 104h0M113.4 107.4h0M113 99.3h0M113 94.7h0M113.7 106.2h0M113.8 104.7h0M112.9 99.6h0M113 97.7h0M113.4 98.6h0M112.8 103.4h0M113.6 96.5h0M113.5 108.2h0M114.2 102.3h0M113.9 104.4h0M113 98.7h0M113.7 97.1h0M113.5 96.2h0M113.4 97.5h0M113.3 108.3h0M113.5 101.3h0M113.9 97.9h0M114.1 95.8h0M113.7 107.2h0M114.3 98h0M113.4 102.9h0M113.6 101.7h0M113 105.5h0M114 100h0M114.4 97.1h0M114.8 96.3h0M114.9 102.2h0M114.9 104.3h0M115.5 95.8h0M115.3 101.8h0M116.4 108.7h0M114.4 101h0M116.1 105.6h0M116.4 98.3h0M115.6 98.2h0M114.1 100.5h0M115.4 102.2h0M115.6 95.9h0M115.9 98.4h0M115.3 107h0M115.3 96.5h0M115.3 107.5h0M115.6 94.8h0M114.5 106.5h0M115.7 104.2h0M115.2 96.5h0M115.3 102.7h0M114.6 94.5h0M115.5 98.3h0M115.8 102.6h0M115 100.1h0M114.4 102.3h0M114.9 103.8h0M115.4 103.5h0M115.8 101.3h0M116.6 108h0M115.8 99.6h0M115.2 106.6h0M115.8 104.4h0M115.7 96.4h0M115.3 103.1h0M116.2 105.8h0M116.1 97.4h0M115.9 104.2h0M116.1 96.9h0M117.3 100.6h0M117.4 114.6h0M117 107.1h0M116.9 113.1h0M118 98.7h0M117.8 103.5h0M117.3 110.2h0M116.9 99.7h0M117.6 103.6h0M117.9 103.2h0M117.1 113.7h0M117.9 102.9h0M117.8 97.7h0M117.6 110.9h0M118.3 97.1h0M116.2 102.2h0M117.9 107.6h0M117.6 104.1h0M115.8 115.1h0M116.8 103.8h0M117.2 98.2h0M117.2 98.7h0M118.4 113h0M116.3 102.1h0M117.5 105.2h0M117.6 113.5h0M117.8 114.8h0M117.8 108.5h0M117.3 111.5h0M117.7 97.2h0M116.8 112.8h0M116.7 106.8h0M116.2 103.9h0M117.5 105.7h0M116.1 106.6h0M117.4 105.5h0M117.5 105.9h0M116.5 104.7h0M116.4 109.2h0M117.8 106h0M117 114.9h0M116.5 103.5h0M117.3 106.2h0M116.9 100.7h0M117.3 115.9h0M116.4 96.5h0M116.8 112.9h0M118.5 106.9h0M117.6 111.2h0M117.2 115h0M116.3 106.5h0M116.7 111.6h0M119.5 101.6h0M118.4 101.4h0M119.6 107.5h0M118.6 111.9h0M119.1 108.8h0M118.1 109.7h0M118.8 111.6h0M119.6 100h0M118.4 110.8h0M117.6 110.2h0M119 105.7h0M117.9 111.6h0M118.3 108.1h0M119 110.3h0M118.5 100h0M119.5 102.6h0M118.9 100.7h0M118.2 100.7h0M119 106.4h0M118.9 102.8h0M118.5 100.1h0M119.6 101.1h0M118.5 109.1h0M118.6 109.9h0M118.9 102.1h0M119 101h0M118.2 100h0M119.7 103.3h0M118.2 100h0M119.6 103.9h0M118.4 106.9h0M118.7 106.8h0M119.8 111.1h0M120.3 111.4h0M120.5 108.5h0M120.1 102.3h0M120.1 114.5h0M121.2 119.4h0M121.4 115.9h0M120.7 111.9h0M120.8 107.1h0M121 105.9h0M120.9 102.3h0M120.4 109h0M120.8 117.7h0M119.9 109.2h0M120.2 113h0M121.2 105.7h0M121.4 113.7h0M120.1 117.2h0M120.3 106.6h0M120.4 114.5h0M120.3 105.2h0M120.9 108.3h0M120.2 116h0M120.6 112.6h0M119.9 104.4h0M121.6 109.2h0M120.9 118.7h0M121.1 107.2h0M120.7 107.5h0M121.1 107.6h0M120.8 103.6h0M120.7 106.7h0M121.2 103.5h0M121.1 111.4h0M120.9 109.1h0M119.4 105.6h0M120.3 108.2h0M120.8 110.7h0M121.2 118.8h0M121.8 113.4h0M120.5 112.2h0M120.7 109.3h0M120.8 112.1h0M121.3 110.2h0M121 111.6h0M121 108.5h0M121 111.3h0M121.7 107.5h0M120.7 108.4h0M123.7 119.2h0M123 114.9h0M124.1 119h0M123.1 119.3h0M123.2 111.8h0M122.4 114.6h0M123.7 112.3h0M124.4 120.4h0M122.7 119h0M122.7 107.1h0M123.6 117.3h0M122.5 114.6h0M125.1 119h0M123.6 108.8h0M122.6 117.2h0M123.5 110.2h0M124.2 108.3h0M123 109.2h0M123.5 113.7h0M123.7 107.6h0M122.5 108.4h0M124.2 112h0M123 108.4h0M123.8 110.8h0M123.9 121.7h0M123.9 107h0M123 112.4h0M123.4 120.8h0M122.8 109.3h0M122.8 113h0M123.7 110.4h0M123 115.5h0M123.1 120.8h0M123.2 110.2h0M123.7 112.8h0M122.9 110.5h0M122.8 116.2h0M123.8 119.3h0M123.5 112.2h0M123.4 120.2h0M87.7 96.6h0M87 96.2h0M86.4 92.7h0M88.1 91.9h0M86.7 95.6h0M85.5 88.7h0M87.8 91.8h0M84.8 96.3h0M87 93.5h0M88.2 89.6h0M87.8 92.3h0M84.6 87h0M85.7 98.6h0M86.6 91.8h0M85.6 97.1h0M85.8 91.6h0M87.1 92.6h0M85.5 90.3h0M86.8 93h0M87.3 94.6h0M86.9 93.5h0M87.8 96.5h0M86.5 99h0M86.8 98h0M88.3 91.5h0M86.4 89.1h0M87.1 95.1h0M86.2 94.4h0M84.7 99h0M88 102.5h0M86.1 97.2h0M86.9 98.8h0M86.6 99.4h0M86.4 92.5h0M87.1 94.3h0M85.7 100.9h0M85.6 92h0M85.3 96h0M85.4 94.9h0M85.9 94.1h0M85.8 98.5h0M84.9 95.6h0M88.3 94.2h0M85.8 97.1h0M85.9 96.8h0M88 100.2h0M86.5 92h0M87.9 92.5h0M85.8 94h0M88.8 94.5h0M106.7 69h0M108.3 69.1h0M105.1 72.6h0M107.8 69.8h0M110 69.8h0M108.3 63.9h0M109.5 68.1h0M106.9 65.5h0M110 67.7h0M109.1 66.3h0M107.8 67.8h0M109.9 66.9h0M108.6 69.7h0M108.1 67.4h0M108.9 69.6h0M111 69.9h0M107.2 69.9h0M110.5 68.5h0M108 69.8h0M110.9 70.6h0M107.8 66.1h0M108.9 69h0M105 71.8h0M109.7 72.7h0M108 64.1h0M108.7 69.9h0M109 67.3h0M107.8 69.9h0M108.2 71.1h0M108 68.4h0M108.3 64.5h0M106.7 70.2h0M112.4 66.3h0M109.1 62.7h0M103 71.7h0M104.9 62.9h0M109.8 67h0M107.3 67h0M106.7 65.1h0M108.5 63.1h0M107.6 67.2h0M110.2 73.7h0M105.9 71.4h0M108.9 64.7h0M108.8 64.2h0M123.1 115.6h0M124.5 110.2h0M129.1 111.5h0M123.8 107.3h0M125.2 110.4h0M125.4 113h0M126.8 116.4h0M124.7 110.5h0M125 113.2h0M123.2 104h0M121.8 113.9h0M123 110.1h0M126.6 114.5h0M122 110h0M122.1 109.6h0M127.8 115.5h0M123.5 111.9h0M128.9 108.4h0M126.6 111.5h0M129.9 110.3h0M124.1 106.2h0M127.2 111h0M121.6 112.5h0M125.9 104.7h0M128.8 110.9h0M125.7 114h0M126.4 115h0M128.8 112.1h0M126.3 112h0M126.2 117.6h0M127.2 106.5h0M123.9 109.2h0M122.8 108.6h0M124.4 114.3h0M124.5 111.9h0M125.7 106.6h0M126.2 107.5h0M122.2 108.9h0M129.8 109.7h0M129.7 109.5h0M123.2 112.8h0M123.1 111h0M124.2 110.3h0M130.9 106.1h0M122.7 110.8h0M127.1 104.1h0M127.3 113.6h0M122.2 110.9h0M127.2 112.3h0M123.9 108.4h0M124.1 115.6h0M126 117.8h0M125.2 104.9h0M124.7 102.3h0M124.6 115.2h0M127.3 107.9h0M123.1 109.8h0M127.6 111.2h0M125.9 109.2h0M126.1 111.4h0M122 109.4h0M127.3 105.3h0M126.1 111.5h0M124 114.7h0M124.4 114h0M122.3 111.5h0M123.2 108.7h0M128 108.2h0M121.6 105h0M124.7 108.9h0M127.9 108h0M126.9 110.2h0M126.1 111.9h0M127.7 109.9h0M128.2 108.8h0M131.5 111.1h0M123.5 106.7h0M124.3 109.8h0M125.6 110.7h0M123.5 112.4h0M127.7 109h0M126.1 111h0M127.3 106.1h0M131.3 110.5h0M127.3 107.3h0M123.3 105.4h0M125.1 108.9h0M128.1 111.9h0M128.6 110.5h0M125.4 111.1h0M129.4 123.4h0M132.2 119.1h0M129.5 124.4h0M130.4 126.6h0M129.2 120.6h0M131.1 121.8h0M130 120.9h0M131.3 119.4h0M130.7 121.7h0M134.3 123.9h0M127.2 121.2h0M129.3 120.3h0M129.1 120.8h0M129.6 121.7h0M129.7 123.9h0M131.6 120.7h0M132.4 124.9h0M129 120h0M127.3 123.2h0M131.1 125.3h0M128.8 120.1h0M129.2 123.6h0M128.6 124h0M129.2 120.4h0M131.7 116.5h0M128.7 120.5h0M127.5 122.8h0M129.1 120.9h0M129.2 123.4h0M130 117.5h0M131.9 121.4h0M134.2 123.3h0M130.3 126.5h0M132.7 121.9h0M129.1 125.1h0M131 121.6h0M130.5 118.9h0M128.8 121.5h0M131 122.6h0M129.4 121.5h0M143.7 137.8h0M140.3 137.2h0M138.2 132.7h0M133 139.7h0M138 139.1h0M140.6 138h0M143.2 134h0M140.3 136.9h0M136 132.3h0M139.8 135.9h0M139.8 139.1h0M138.1 141.6h0M135.6 139.1h0M137.3 141.3h0M142.8 138.7h0M135 138.2h0M136.3 139.9h0M136.9 132.9h0M137.2 140.9h0M135.5 134h0M140.3 135.6h0M136.1 139.1h0M135.3 133h0M139 139.5h0M141.9 139h0M138.7 135.1h0M136.8 135.8h0M134.5 138.4h0M135.1 137.2h0M138.2 138.7h0M138.7 140.1h0M137.9 136.7h0M138.2 138.4h0M138.1 139.2h0M142 141h0M137.5 133.7h0M141.2 136.3h0M134.8 133.2h0M131.2 129.9h0M137.8 138.7h0M141.2 136.9h0M136.3 134.1h0M137.1 140.5h0M131.1 128.5h0M134.5 138.5h0M136.8 136.7h0M134.5 137.1h0M135 135.1h0M138 137.7h0M138.8 139h0M137.6 135.6h0M141.2 139h0M133.4 131.4h0M134.5 143.2h0M138.9 138.3h0M137.4 131.3h0M135.6 134.6h0M141.4 141.6h0M137.5 129.7h0M140 139.3h0M142.1 138.2h0M136.3 132.7h0M135.7 135.6h0M140.2 142.4h0M134.1 134.4h0M135.8 139.6h0M136 136.8h0M138.8 138.6h0M138.3 133.9h0M143 137.7h0M137.3 138.6h0M139.9 136.2h0M140.6 138.3h0M134.3 132.5h0M136.8 136.5h0M137.1 134.7h0M134.6 135.2h0M135.9 134.6h0M138.5 133.5h0M135.4 130.3h0M141.3 137.7h0M139.2 132.3h0M140.9 135.9h0M137.1 133.4h0M134.3 135.5h0M141.3 136.3h0M139.6 138h0M140.4 139.5h0M138.4 136.7h0M139.8 134.5h0M138 139.3h0M142.6 141.5h0M139 134.5h0M140 139.6h0M135.4 132.2h0M140.4 131.4h0M135.3 133.2h0M133.6 130.2h0M135.4 135.9h0M140.2 137.7h0M136.4 135h0M137.1 136.7h0M140.1 138.5h0M135.6 134.9h0M139.3 134.4h0M138.6 137.7h0M142.1 138.4h0M138.3 138.4h0M136.9 134.5h0M133.3 135.2h0M139.2 136.5h0M138.5 141.2h0M139.3 141.7h0M141.3 139.8h0M137.4 137.3h0M132.5 134.5h0M140.3 136.8h0M139.4 140h0M138.9 136.2h0M138.5 137.8h0M145.8 115h0M155.9 112.3h0M157.2 113.4h0M156.4 116.1h0M157.3 115.3h0M157.2 114.2h0M153.4 113.3h0M156.3 118.5h0M152.6 116.7h0M154.1 115.8h0M154.4 109.2h0M154.8 113.4h0M155.5 114.8h0M158.3 111.6h0M153.7 116.7h0M157.5 117.6h0M157.9 111.7h0M157.2 111.1h0M156.3 115.8h0M152.3 118.9h0M157 113.4h0M156.5 116.9h0M154.6 114.2h0M149.4 117.3h0M154.2 113.8h0M158.4 116.6h0M152.9 112.8h0M152.7 113h0M154.2 114h0M156.3 117.9h0M156.8 117.1h0M156.8 115.2h0M159.8 115.5h0M156.8 114.6h0M154.8 115.4h0M159.2 114.9h0M157.8 111.5h0M158.1 108.6h0M151.9 111.2h0M157.6 115.2h0M152.7 113.4h0M156.7 112.3h0M154.7 116.9h0M162.3 116.4h0M154.5 117.9h0M153.1 113h0M158.1 114.2h0M156.8 111.8h0M156.4 116.1h0M155.4 112.1h0M155.7 113.3h0M156.8 112.5h0M152 113.4h0M154 110.6h0M154.5 111h0M155.5 117.9h0M153.3 115h0M152.8 117h0M159.9 113.8h0M155.3 116.8h0M156.4 117.6h0M157.9 115.8h0M159.3 113.8h0M154.6 116.6h0M153.2 117.8h0M157 114.5h0M154.9 113.2h0M157.1 119.3h0M158.9 116.5h0M159.7 114.9h0M154.2 139.8h0M151 141h0M154.9 139.6h0M153.3 140.3h0M152.5 141.8h0M148.1 139.8h0M153.7 139.9h0M152.5 138.8h0M154.5 139.8h0M147.7 140.3h0M154.3 139.2h0M153.6 141.7h0M152.7 142.2h0M153 139.6h0M149.2 140.6h0M153.7 140h0M152 138.9h0M151.9 140.6h0M152.9 139.4h0M151.1 140.5h0M146.1 141.4h0M155 141.1h0M154.1 139.7h0M151.3 139.9h0M149.8 140.4h0M153.7 140.1h0M147.9 141.3h0M148.7 142h0M150.3 139.4h0M152.1 140.8h0M151.2 139.7h0M154 140.3h0M151.6 141.9h0M152.7 140h0M152.6 141.6h0M150.5 139.4h0M149.8 139.5h0M150.4 141.8h0M152.5 139.8h0M148.7 139.2h0M144.3 152.5h0M140.6 151.5h0M142.3 151.7h0M142.1 151h0M140.8 151.3h0M143.5 151.1h0M141.6 150.8h0M144.1 150.8h0M147.9 152.2h0M141.4 151.8h0M140.7 150.7h0M141.7 150.1h0M144.7 150.2h0M143.9 152.3h0M139.4 150.2h0M143.2 151.7h0M142.3 151.7h0M142.4 149.4h0M147.5 149.9h0M139.9 152.5h0M142.8 152.8h0M137.8 151.2h0M146.8 150.6h0M141.3 151h0M145.5 152.2h0M146.2 151.4h0M148.7 151.7h0M144.5 149.2h0M140.5 152.4h0M143.8 151.6h0M154.2 157.9h0M153.8 160.1h0M155.2 163.6h0M150.4 157.9h0M155.1 160.8h0M153.5 154.8h0M152.8 158.6h0M153.7 161.1h0M154.5 157.8h0M150.2 158.1h0M152.7 157.5h0M155.3 161.8h0M157.7 157.5h0M153.5 161.8h0M152.3 160.3h0M153 155.7h0M147.2 156.7h0M153.4 160.2h0M150 154.1h0M154.9 159.7h0M152.3 156.3h0M156.3 160.6h0M157.3 155.4h0M153.1 156.3h0M160.9 157.6h0M151.4 159.3h0M152.8 154.1h0M154.4 157.9h0M154.6 159.3h0M155 156.5h0M155.1 163h0M154.3 159.9h0M154.3 158.4h0M149 158h0M149.4 159.8h0M151.4 157h0M152 161h0M152.5 156.1h0M155.7 160h0M153.2 159.1h0M159 158.4h0M152.6 156.8h0M153.3 156.3h0M155.2 161.4h0M147 156.4h0M154.4 159.2h0M152.8 156.6h0M156.5 156.6h0M151.2 159.8h0M158.7 160.1h0M154.5 161.4h0M162.4 161.3h0M147.8 154h0M158.2 159.5h0M151.9 160.3h0M154.1 159.9h0M163.5 164.7h0M158 163.7h0M149.8 156h0M156.5 159.9h0M155.3 157h0M157.1 159.1h0M160 166.6h0M152.6 158.1h0M155.3 159h0M156.7 161h0M151.3 158.9h0M155.9 158.8h0M155.2 160.3h0M157 161.6h0M153.6 159.5h0M151 157.7h0M152.4 155.8h0M156.5 164.1h0M148.9 155.9h0M158.1 164.5h0M154.4 156.6h0M159 168h0M154.9 158.2h0M154.4 162.4h0M153.9 157.5h0M154.2 158.3h0M150 157h0M150.4 156.7h0M156.8 157.2h0M152.3 156.2h0M155 159.3h0M152.1 157.9h0M156.3 159.6h0M155.8 162.9h0M162 167.8h0M162.6 168.1h0M161.3 166.3h0M165.1 169h0M162.5 168.6h0M162.3 168.1h0M162.9 166.7h0M160.4 167h0M161.2 166.6h0M160.5 166.1h0M161.2 167.4h0M162.9 168.6h0M164.1 167.5h0M162.5 168.6h0M161.4 167.4h0M163.5 168.8h0M162.1 167.5h0M163.5 166.3h0M162.7 168h0M166.3 169.2h0M161.8 167.4h0M161 165.6h0M161.4 166.7h0M159 166.4h0M164.2 168.4h0M173.1 189.7h0M171.3 189.7h0M177.1 190h0M171 190.5h0M175.1 190.9h0M176.2 191h0M176 190.6h0M169.8 189.8h0M172.8 190.8h0M169.1 190.4h0M170.5 191.2h0M171.5 190.5h0M175 189.8h0M173.6 191.4h0M174.4 191.4h0M171.8 190.5h0M172 189.7h0M172.6 191.8h0M173.4 190.5h0M171 191h0M176.6 190.6h0M175 190.9h0M173 191h0M176.6 190.9h0M170.3 191.1h0M170.5 191.3h0M172.2 190.8h0M171 190.2h0M174.2 191.4h0M172.7 190.8h0M173.3 191h0M178 190h0M173 191.4h0M173.4 190.4h0M174.4 191.6h0M190.7 211.9h0M200.3 211.7h0M190.6 211.7h0M199.7 211.5h0M190.9 211.4h0M198.2 211.4h0M194.2 211.4h0M195.6 211.3h0M195.4 211.3h0M199.1 211.3h0M194.5 211.8h0M187.1 211.4h0M192.6 212.1h0M196 211.3h0M191.7 210.8h0M199.3 211.4h0M191.5 211.3h0M199.3 211.7h0M200.4 211.5h0M188.8 211.6h0M188.4 211.4h0M197.9 211.6h0M193.2 210.8h0M197.6 211.5h0M187.7 211.2h0M189.9 211.4h0M187.8 210.9h0M190.7 211.4h0M200 211.6h0M190.1 211.7h0M187.2 210.9h0M189 211.7h0M192.4 211.3h0M197.6 211.3h0M188.4 211.2h0M191.9 211.7h0M198.5 211.4h0M198.7 210.9h0M191.1 211.4h0M191.8 211.4h0M195.2 210.9h0M188.6 212h0M191.7 211.6h0M187.9 211.5h0M186.6 211.6h0M188.7 227.9h0M170.5 228h0M163 228.2h0M200 227.7h0M156.3 228.6h0M165.8 228h0M197.1 228.5h0M178.5 228.6h0M212.7 228h0M182.6 227.4h0M153.9 228.6h0M207.9 227.9h0M165.1 227.3h0M160.4 227.7h0M214.5 228.2h0M209.9 227.7h0M193 227.4h0M173.9 228.5h0M186.2 228.3h0M161.3 227.5h0M209.6 227.7h0M177.2 228h0M173.1 228.5h0M186.9 227.2h0M211.6 228.6h0M157.1 228.4h0M194.2 228.3h0M210.8 227.6h0M153.5 228h0M177.7 228.2h0M198.9 228.5h0M175.9 228h0M170.7 227.1h0M177.1 228.6h0M165.1 227.9h0M156.3 227.2h0M168.8 228.7h0M192.4 227.8h0M209.5 228.3h0M178.2 228.8h0M209.6 228.3h0M166.8 228h0M154.8 227.8h0M195.2 227.8h0M160.4 228.6h0M154.1 228.2h0M191.8 227.9h0M202.2 228.6h0M170 227.2h0M168.8 228.1h0M161.8 228.5h0M197.6 228.6h0M177.9 227.9h0M163.6 227.6h0M197.2 227h0M188.3 228.1h0M174.1 227.6h0M189.2 227.3h0M174.5 227.6h0M177.4 227.6h0M200.6 227.9h0M215 228.4h0M210.5 227.7h0M175.3 227.9h0M192.3 228.3h0M158 228.3h0M178.4 227.6h0M194.1 228.8h0M155 227.4h0M188.7 228.1h0M205.8 228.4h0M169.8 228.4h0M181.8 228.6h0M185.9 227.8h0M159.6 228.2h0M187 228.6h0M160.9 228.7h0M183.6 227.7h0M157.8 228.5h0M171.2 228.1h0M204 228.6h0M211 227.5h0M190.7 228.4h0M179.9 228h0M155 228.1h0M208 228h0M204.7 227.9h0M169.7 228.1h0M163.6 228.4h0M169.2 227.7h0M154.2 228.6h0M156.6 227.5h0M214.1 228.7h0M187.1 228.8h0M187.4 228.1h0M193.7 228.5h0M184.8 228.1h0M190.2 228.3h0M192.7 228h0M189.7 227.5h0M189.3 228.1h0M210.2 228.3h0M196.3 228.4h0M211.8 228.8h0M185.9 228.2h0M206.2 227.7h0M207.3 227.7h0M166.8 229.3h0M172.3 228.1h0M152.7 227.1h0M210.9 228.7h0M157.6 228.3h0M182.5 228.2h0M205.3 227.9h0M187.6 227.3h0M159.4 228.3h0M214.6 227.9h0M164.3 227.9h0M167.3 228.3h0M177.1 227.4h0M213 227.6h0M195.1 227.9h0M202.8 227.2h0M194.3 229h0M173.8 228.9h0M165.6 228.5h0M211.7 227.9h0M198.7 227.7h0M185.2 227.8h0M195.2 227.4h0M204.3 228.2h0M171.9 228.2h0M204 227.6h0M195.3 228.5h0M206.9 228.9h0M189 228.1h0M197.9 228.2h0M211.1 227.8h0M159.9 227.6h0M161.8 228.4h0M194.6 227.4h0M153.4 227.8h0M173.5 228.4h0M213.7 227.4h0M156.9 228.4h0M175.5 227.6h0M214.1 228h0M210.9 228.5h0M173.6 228.1h0M190.7 227.1h0M155.1 227.2h0M182.6 228.1h0M193.3 227.9h0M198.4 227.7h0M182.2 227.4h0M211.1 228.1h0M180.5 227.4h0M166.6 228.5h0M177.8 228.5h0M186.6 227.9h0M161.4 227.8h0M205 228.2h0M199.4 227.6h0M185.6 228.1h0M181.4 228.3h0M196.4 228.6h0M169.8 228.7h0M213.5 228.5h0M153.5 227.7h0M197.1 228.3h0M181.8 227.6h0M189.5 227.9h0M187.6 228.1h0M173.2 228h0M212.4 228.6h0M174.2 228.2h0M177.4 227.7h0M190.7 227.5h0M188.9 228.4h0M176.6 228.2h0M188.2 228.2h0M171 227.8h0M160 227.3h0M174.6 228.1h0M190.4 227.6h0M156.4 228.4h0M159.1 227.1h0M170.2 228.2h0M185.4 228h0M161.5 228.4h0M169.3 228.5h0M179.7 228h0M157.4 228.2h0M193 228.2h0M200.1 227.7h0M195.3 228.2h0M172 227.6h0M155.7 228.7h0M189.6 228h0M214.1 228.4h0M172.7 227.5h0M212.7 228.5h0M203.4 228.4h0M177 227.8h0M198.3 228h0M203.9 227.5h0M194.8 228.4h0M203.6 228.1h0M156 227.4h0M156.8 228.1h0M185.2 228.2h0M155.4 227.6h0M205 228.3h0M158.4 228h0M204.1 228.7h0M211.8 228.5h0M181.4 228.7h0M158.3 227.5h0M165.2 228.1h0M170.9 227.9h0M200.1 228.5h0M190 228h0M176 228.3h0M161.6 227.7h0M164.9 227.6h0M177 229h0M194.6 228h0M161.9 228.1h0M192 228.5h0M165.5 228.4h0M162.4 227.8h0M207.3 227.3h0M188.2 227.4h0M203.8 228.5h0M214.1 228.5h0M202.5 227.5h0M153.3 227.7h0M173.7 227.9h0M166.4 228.2h0M176 228.4h0M191 228.1h0M213.2 227.9h0M197.2 227.5h0M208.5 228.8h0M173.9 227.4h0M153.1 227.6h0M168.7 227.5h0M171 228.3h0M211.1 227.8h0M161.1 228h0M167.8 227.9h0M183.4 228.1h0M202.8 226.7h0M201.9 228.2h0M203.2 227.4h0M157.5 227h0M163.9 228h0M206.2 227.4h0M206.5 228.1h0M179.8 228.5h0M201.6 228.6h0M200.8 228.1h0M212.9 228h0M192.1 226.8h0M168.2 228.6h0M184.1 228.1h0M178.5 228h0M179.4 228.3h0M155.7 227.8h0M211.6 228.1h0M173 228.2h0M208.8 227.8h0M173.8 228h0M211.8 227.9h0M202.7 228.8h0M190.7 228.3h0M188.4 227.7h0M175.7 226.8h0M186.1 227.6h0M156.8 228.3h0M158.3 227.3h0M167 228.2h0M189.9 228.5h0M166 228h0M193.3 227.7h0M177.2 227.6h0M194.5 228.8h0M174.9 227.7h0M159.1 228h0M177 229.1h0M210.5 227.8h0M174.6 227.6h0M194.1 228.4h0M153 227.9h0M171.2 228.3h0M157.3 228h0M214.5 227.2h0M201.1 227.8h0M172.5 228.4h0M157.7 228.1h0M196.1 227.5h0M193.7 227.9h0M181.7 227.8h0M180.3 228.5h0M181.9 227.5h0M192 228.6h0M156.6 228.9h0M212.3 227.9h0M158.7 228.2h0M174 227.8h0M160.9 227.8h0M190.5 228.2h0M206.2 227.9h0M157.1 228.6h0M180.3 227.8h0M209.9 228.1h0M153.3 227.5h0M202.7 228.4h0M152.9 228h0M192.1 228.3h0M200.4 228.1h0M168.6 228.9h0M169.3 228.9h0M178.3 228.2h0M191.5 228.8h0M156.5 228.2h0M208.5 227.2h0M179.5 227.8h0M173 227.9h0M161.3 227.5h0M200.4 228h0M187.8 228.2h0M155.6 228.8h0M160.5 228.2h0M185.5 228.1h0M176.5 228h0M196.7 227.5h0M209.4 228.3h0M209.7 228.5h0M192.7 228.7h0M173.2 228.2h0M208.9 227.5h0M168.7 228.2h0M199.1 228.1h0M160.5 227.5h0M188.4 227.1h0M192.3 227.6h0M178.9 228.4h0M208.3 227.9h0M198 227.9h0M153.4 227.6h0M167.1 228h0M179.6 228.2h0M186.1 227h0M186.3 228.5h0M169.5 228h0M191.5 228h0M181.1 227.8h0M195.3 227.8h0M173.4 227.8h0M155 227.2h0M187.9 228h0M203.8 228.7h0M199.4 228.1h0M205.7 228.1h0M170.8 227.5h0M154 228h0M176.1 228.2h0M164.1 228.2h0M174.8 228.4h0M204.8 227.9h0M210.3 228.6h0M168.2 228.2h0M196.7 228.6h0M162.4 228.3h0M167.7 227.8h0M158.7 227.8h0M172.5 227.6h0M170.1 229.1h0M196.7 228.4h0M200.5 227.9h0M202.5 228.3h0M161.9 227.8h0M213.6 227.9h0M187.1 228h0M175.7 228h0M206.2 228.5h0M162.1 228.2h0M172.3 228.3h0M168.1 227.8h0M165.1 227.3h0M177 227.4h0M183.1 227.4h0M158.9 228.1h0M161.4 227.1h0M172.2 227.7h0M153.7 227.8h0M177.6 227.8h0M210.5 227.9h0M178.5 228.1h0M205.1 228.2h0M157.1 228h0M153 228.4h0M171.6 228.2h0M201.7 227.9h0M208.9 228.7h0M203 228h0M156.2 228.4h0M172.1 227.5h0M163.2 228.9h0M171.3 228.3h0M186.4 227.5h0M158.3 228.2h0M205.4 229.2h0M172.5 228.4h0M168.7 228h0M180.2 227.9h0M205.5 227.5h0M215 228.3h0M204.6 228.5h0M160.7 223.3h0M167.6 223.3h0M162.9 222.8h0M161.2 223.1h0M163.9 223.3h0M161.4 223h0M160.2 223.3h0M157.7 223.7h0M162.9 222.9h0M163.5 222.9h0M162.9 223.4h0M166.9 223.5h0M157.3 222.7h0M160.8 223.4h0M157.9 223.3h0M158.6 223.1h0M160.9 223h0M160.2 223.3h0M167.1 223.1h0M157.1 223.4h0M160.7 223.1h0M166.2 223.1h0M164.4 223.6h0M158.5 223.6h0M166.7 223.1h0M165.6 223.3h0M164.4 223.7h0M168 223.3h0M158.5 223.5h0M160.5 223.2h0M190.4 223.1h0M189 223.6h0M208.6 223.4h0M199.8 223.4h0M209.6 223.5h0M208.2 223.4h0M199.2 223.4h0M202.5 223.2h0M198.2 223.1h0M197.5 223.1h0M191.3 223h0M208.9 223.1h0M198.3 223.2h0M195.7 223.3h0M207.5 223.3h0M188.3 223.1h0M204.6 222.7h0M196.7 223.5h0M188.3 223.4h0M202.6 223.7h0M191.5 222.7h0M204.6 222.6h0M201.1 223.1h0M196.6 222.6h0M190.3 222.9h0M191.3 223.1h0M206.9 223.6h0M195.7 223.6h0M207.6 223.2h0M191.6 223.1h0M197.9 223.3h0M189.7 223.3h0M189.2 223h0M191.3 222.5h0M200.8 223.4h0M202.9 223.6h0M192.1 223.7h0M201.7 223.6h0M188.7 223.6h0M204.4 223.4h0M196 223.4h0M210 222.9h0M203.1 223.3h0M191.4 223.5h0M186.9 223.1h0M201.6 223h0M207.5 223.2h0M187.5 222.8h0M203 222.9h0M206.7 223.1h0M193.5 223.4h0M201.6 223.4h0M187 223.4h0M192.7 223.8h0M202.1 223.3h0M188.4 222.9h0M198 223.2h0M203.2 222.7h0M201.6 223.4h0M207.8 223.2h0M194.3 223.6h0M199.5 223h0M206.5 222.6h0M197.6 223h0M200.1 223.4h0M194 223h0M209.9 223.3h0M196.8 223.2h0M204.3 223.2h0M200.1 222.9h0M202.2 223h0M187.5 223.4h0M186.9 223.1h0M196.3 223.2h0M199.1 223h0M190.4 223.8h0M190.1 223.8h0M199.4 223.4h0M195.8 222.8h0M203.6 223h0M202.3 222.5h0M190.3 223.4h0M187.7 222.9h0M187.9 223h0M200.1 223.2h0M194.9 223.3h0M198.1 223.6h0M191.2 223.1h0M190.4 223.6h0M196.5 223.4h0M205.9 223.2h0M208.3 223.5h0M196.7 223.2h0M189.6 223.2h0M210.6 223.2h0M186.3 222.9h0M194.9 222.9h0M196.2 223.3h0M196.5 223.1h0M190.8 223.3h0M209.9 223.3h0M203.4 223.1h0M203.2 222.9h0M190.3 223.4h0M189.1 223.1h0M203 223.4h0M191.7 223.3h0M188.5 223.1h0M192 223.4h0M196.9 223.3h0M205.6 220.5h0M205.7 220.9h0M202.6 220.8h0M211.1 221.1h0M208.9 221.1h0M211.6 220.5h0M211.2 220.6h0M203.9 220.4h0M204.5 221.3h0M204.3 221.2h0M208.2 220.7h0M211.3 221h0M206 220.9h0M206.5 220.7h0M204.3 221.1h0M211.4 221h0M209.7 220.6h0M208.9 221.3h0M204.5 220.9h0M208.6 221.5h0M212.2 221.7h0M211.1 220.6h0M205 220.8h0M211.4 220.6h0M211.1 221.1h0M202.9 220.7h0M207.9 221h0M205 221.1h0M202.6 220.1h0M208.9 220.9h0M205.4 221.1h0M203.8 220.4h0M208.7 220.4h0M205.8 221h0M204.4 220.6h0M207.2 225.9h0M173.7 225.9h0M195.3 225.5h0M187.8 226h0M205.3 225.2h0M169.7 226h0M178.4 225.8h0M183.9 226.4h0M193.8 225.9h0M179.1 224.9h0M212.5 225.6h0M200.3 225.6h0M187.9 226h0M191.4 225.8h0M187.9 225.2h0M190.4 225.4h0M196.4 226h0M208.7 225.7h0M186.4 225.4h0M173.2 225.8h0M194.9 225.7h0M189.4 226.1h0M178.4 225.9h0M174.3 225.6h0M201 225.8h0M208.1 225.7h0M187.1 225.7h0M181.9 226.4h0M193.2 225.4h0M195.6 225.5h0M169.7 225.9h0M212.5 226h0M183.2 225.3h0M189.8 226.1h0M202.4 226.5h0M196.3 226h0M185 225.7h0M199.5 225h0M171.4 225.7h0M182.8 226h0M190.4 225.2h0M169.1 226.3h0M190.5 226.5h0M190.6 225.8h0M201 225.2h0M212.2 225.8h0M212.4 226h0M198.2 226h0M186 225.8h0M201.4 225.9h0M175.6 225.8h0M198.9 225.2h0M190.8 225.6h0M204.2 225.2h0M174.8 225.9h0M198 225.8h0M184.1 225.6h0M176.2 225.8h0M207.2 225.9h0M179.7 226h0M207.2 225.9h0M172.3 225.7h0M172.7 225.3h0M209.4 225.9h0M178.7 225.6h0M208.4 225.5h0M177.4 225.8h0M171.2 226h0M207.4 225.8h0M205.2 225.6h0M212.1 225.8h0M188.1 225.8h0M185.6 225.9h0M176.9 225.9h0M208.2 225.3h0M175.2 225.6h0M171.7 225.9h0M180.8 225.4h0M206.9 225.7h0M182.8 226.1h0M208.1 226h0M202.8 225.7h0M185.6 225.3h0M176.5 225.6h0M212.1 225.5h0M210.4 225.7h0M198.2 225.6h0M189.6 225.4h0M204.3 225.2h0M192.9 225.9h0M211.5 226.6h0M212.7 225.6h0M175.1 225.9h0M180.2 225.6h0M193.4 225.6h0M180.2 225.8h0M175.4 225.5h0M194 225.9h0M173.2 225.2h0M190.9 225.6h0M195.5 225.5h0M201.8 225.6h0M204.8 225.6h0M190.4 225.5h0M201.4 225.2h0M170.2 225.6h0M199.5 225.9h0M185.6 225.7h0M183.5 225.5h0M169 225.5h0M186.8 225.8h0M181.2 225.5h0M184.8 226.4h0M176.2 226.1h0M212.6 226.2h0M200.8 225.4h0M168.6 225.8h0M195 226.1h0M177.2 226h0M194.1 225.4h0M175.8 225.8h0M175.3 226h0M200.9 226.5h0M172.6 225.6h0M174.5 225.9h0M171.6 225.4h0M176.8 225.7h0M207.3 225.4h0M184.6 224.9h0M206.1 225.8h0M196.5 225.5h0M187.8 225.6h0M176.5 225.2h0M171.3 225.1h0M186.7 225.5h0M184.4 225.5h0M185.8 225.7h0M178.7 225.4h0M194.5 225.2h0M186.8 225.7h0M190.3 225.4h0M195.2 225.5h0M195.5 225.7h0M175.5 225.5h0M175.8 225.3h0M204.5 225.7h0M172.9 226.1h0M179.3 225.5h0M205 225.4h0M194.4 226.6h0M200.5 225.6h0M170.6 226.1h0M178.2 226.2h0M201.7 226.1h0M192 226.1h0M209.3 226.2h0M182 225.9h0M175.7 225.7h0M178.8 225.3h0M182.8 226.2h0" stroke="#fea078" stroke-width="1.5" stroke-linecap="round" fill="none"/>
<rect x="95.6" y="50.4" width="14.4" height="7.6" fill="none" stroke="#8a8a8a" stroke-width="0.9"/>
<path d="M110 50.4L332 102.6M95.6 58L232.6 203" stroke="#a2a2a2" stroke-width="1.15" stroke-dasharray="5 3.2" fill="none"/>
<rect x="27.7" y="45.4" width="194.9" height="192.2" fill="none" stroke="#000" stroke-width="1.5"/>
<path d="M34.5 237.6v-2.4M56.8 237.6v-2.4M79.1 237.6v-2.4M101.4 237.6v-2.4M123.7 237.6v-2.4M146 237.6v-2.4M168.3 237.6v-2.4M190.6 237.6v-2.4M212.9 237.6v-2.4M27.7 228.6h2.4M27.7 192.5h2.4M27.7 156.4h2.4M27.7 120.4h2.4M27.7 84.3h2.4M27.7 48.2h2.4" stroke="#000" stroke-width="0.8" fill="none"/>
<text x="34.5" y="246.2" font-size="6.9" text-anchor="middle" textLength="4.1" lengthAdjust="spacingAndGlyphs" fill="#222" >0</text>
<text x="56.8" y="246.2" font-size="6.9" text-anchor="middle" textLength="8.2" lengthAdjust="spacingAndGlyphs" fill="#222" >50</text>
<text x="79.1" y="246.2" font-size="6.9" text-anchor="middle" textLength="12.3" lengthAdjust="spacingAndGlyphs" fill="#222" >100</text>
<text x="101.4" y="246.2" font-size="6.9" text-anchor="middle" textLength="12.3" lengthAdjust="spacingAndGlyphs" fill="#222" >150</text>
<text x="123.7" y="246.2" font-size="6.9" text-anchor="middle" textLength="12.3" lengthAdjust="spacingAndGlyphs" fill="#222" >200</text>
<text x="146" y="246.2" font-size="6.9" text-anchor="middle" textLength="12.3" lengthAdjust="spacingAndGlyphs" fill="#222" >250</text>
<text x="168.3" y="246.2" font-size="6.9" text-anchor="middle" textLength="12.3" lengthAdjust="spacingAndGlyphs" fill="#222" >300</text>
<text x="190.6" y="246.2" font-size="6.9" text-anchor="middle" textLength="12.3" lengthAdjust="spacingAndGlyphs" fill="#222" >350</text>
<text x="212.9" y="246.2" font-size="6.9" text-anchor="middle" textLength="12.3" lengthAdjust="spacingAndGlyphs" fill="#222" >400</text>
<text x="24.6" y="231.1" font-size="6.9" text-anchor="end" textLength="10.2" lengthAdjust="spacingAndGlyphs" fill="#222" >0.0</text>
<text x="24.6" y="195" font-size="6.9" text-anchor="end" textLength="10.2" lengthAdjust="spacingAndGlyphs" fill="#222" >0.2</text>
<text x="24.6" y="158.9" font-size="6.9" text-anchor="end" textLength="10.2" lengthAdjust="spacingAndGlyphs" fill="#222" >0.4</text>
<text x="24.6" y="122.9" font-size="6.9" text-anchor="end" textLength="10.2" lengthAdjust="spacingAndGlyphs" fill="#222" >0.6</text>
<text x="24.6" y="86.8" font-size="6.9" text-anchor="end" textLength="10.2" lengthAdjust="spacingAndGlyphs" fill="#222" >0.8</text>
<text x="24.6" y="50.7" font-size="6.9" text-anchor="end" textLength="10.2" lengthAdjust="spacingAndGlyphs" fill="#222" >1.0</text>
<text x="125.6" y="257.6" font-size="10.2" text-anchor="middle" textLength="153" lengthAdjust="spacingAndGlyphs" fill="#222" >Predicted water flux (# ns<tspan dy="-3.6" font-size="7">−1</tspan><tspan dy="3.6">)</tspan></text>
<text transform="translate(9 135.8) rotate(-90)" font-size="10.2" text-anchor="middle" textLength="149.6" lengthAdjust="spacingAndGlyphs" fill="#222">Predicted ion rejection (%)</text>
<circle cx="44.9" cy="217.9" r="2.9" fill="#abd6e6"/><circle cx="44.9" cy="227.9" r="2.9" fill="#fea078"/>
<text x="53.7" y="220.4" font-size="7.3" textLength="72.6" lengthAdjust="spacingAndGlyphs" fill="#333" >Graphenes from DRL</text>
<text x="53.7" y="230.4" font-size="7.3" textLength="85.6" lengthAdjust="spacingAndGlyphs" fill="#333" >Graphenes from dataset</text>
<rect x="232.6" y="102.6" width="99.4" height="100.4" fill="#fff" stroke="#bdbdbd" stroke-width="1.2"/>
<g transform="translate(236 107)"><rect x="0" y="0" width="44.8" height="44.8" fill="url(#hexS)"/>
<path transform="translate(0 0)" d="M14.5 19.8L17.2 17.1 20.8 14.4 22.6 18 27.1 18.9 32.5 18 35.2 19.8 36.1 23.4 37.9 27 34.3 27 31.6 26.1 28.9 27.9 26.2 28.8 24.4 26.1 21.7 25.2 19 23.4 16.3 22.5z" fill="#fff" stroke="#fff" stroke-width=".8" stroke-linejoin="round"/></g>
<g transform="translate(285 107)"><rect x="0" y="0" width="43.6" height="44.8" fill="url(#hexS)"/>
<path transform="translate(0 0)" d="M16.7 19.8L19.4 17.1 23 18 26.6 16.2 30.2 18 33.8 18.9 35.5 21.6 34.6 25.2 32.9 27.9 30.2 27 28.4 29.7 25.7 27.9 23.9 28.8 21.2 26.1 18.5 23.4z" fill="#fff" stroke="#fff" stroke-width=".8" stroke-linejoin="round"/></g>
<g transform="translate(236 156)"><rect x="0" y="0" width="43.6" height="45" fill="url(#hexS)"/>
<path transform="translate(0 0)" d="M13.6 22L16.3 19.3 21.7 18.4 27.1 19.3 32.5 18.4 37 17.5 35.2 21.1 31.6 23.8 28 24.7 26.2 27.4 23.5 29.2 20.8 26.5 18.1 25.6 15.4 23.8z" fill="#fff" stroke="#fff" stroke-width=".8" stroke-linejoin="round"/></g>
<g transform="translate(284 155)"><rect x="0.2" y="0.4" width="44.4" height="45.6" fill="url(#hexS)"/>
<path transform="translate(0.2 0.4)" d="M13 19.9L15.7 15.4 18.4 19 23.8 20.8 28.3 22.6 31.9 25.3 34.5 29.7 31.9 28.9 29.2 26.2 27.4 28.9 24.7 27.1 22.9 29.7 20.2 26.2 17.5 25.3 14.8 23.5z" fill="#fff" stroke="#fff" stroke-width=".8" stroke-linejoin="round"/></g>
</g>
<g id="pb">
<text x="364.6" y="18.2" font-size="24.4" font-weight="bold" >(b)</text>
<path d="M460.9 224.2V222.4H467.7V221.5H474.5V220.6H481.3V217.9H488.1V205.7H494.9V192.6H501.7V170.3H508.5V142.3H515.3V117H522.1V105.1H528.9V112.5H535.6V133.1H542.4V162H549.2V176.8H556V182.2H562.8V193.2H569.6V195.6H576.4V198.3H583.2V200.7H590V195.6H596.8V203.7H603.6V205.7H610.4V206.6H617.2V209.3H624V213.8H630.8V216.2H637.6V218.5H644.4V221.5H651.2V224.2Z" fill="#1f77b4" fill-opacity="0.4"/>
<path d="M445.4 224.2V52.1H453V187H460.5V194.4H468.1V194.4H475.6V215H483.2V197.1H490.8V193.8H498.3V189.1H505.9V203.7H513.4V200.7H521V172.1H528.6V215.6H536.1V215.6H543.7V203.7H551.2V188.8H558.8V185.8H566.4V213.2H573.9V198.3H581.5V209.3H589V220.6H596.6V224.2Z" fill="#ff7f0e" fill-opacity="0.4"/>
<rect x="434.4" y="43.6" width="249.8" height="180.6" fill="none" stroke="#000" stroke-width="1.9"/>
<path d="M445.6 224.2v-3.4M512.1 224.2v-3.4M578.6 224.2v-3.4M645.1 224.2v-3.4M434.4 224.2h3.4M434.4 194.4h3.4M434.4 164.6h3.4M434.4 134.9h3.4M434.4 105.1h3.4M434.4 75.3h3.4M434.4 45.5h3.4" stroke="#000" stroke-width="1" fill="none"/>
<text x="445.6" y="237.7" font-size="12" text-anchor="middle" textLength="7.3" lengthAdjust="spacingAndGlyphs" fill="#1a1a1a" >0</text>
<text x="512.1" y="237.7" font-size="12" text-anchor="middle" textLength="14.6" lengthAdjust="spacingAndGlyphs" fill="#1a1a1a" >50</text>
<text x="578.6" y="237.7" font-size="12" text-anchor="middle" textLength="21.9" lengthAdjust="spacingAndGlyphs" fill="#1a1a1a" >100</text>
<text x="645.1" y="237.7" font-size="12" text-anchor="middle" textLength="21.9" lengthAdjust="spacingAndGlyphs" fill="#1a1a1a" >150</text>
<text x="430" y="229.2" font-size="12" text-anchor="end" textLength="7.3" lengthAdjust="spacingAndGlyphs" fill="#1a1a1a" >0</text>
<text x="430" y="199.4" font-size="12" text-anchor="end" textLength="21.9" lengthAdjust="spacingAndGlyphs" fill="#1a1a1a" >100</text>
<text x="430" y="169.6" font-size="12" text-anchor="end" textLength="21.9" lengthAdjust="spacingAndGlyphs" fill="#1a1a1a" >200</text>
<text x="430" y="139.9" font-size="12" text-anchor="end" textLength="21.9" lengthAdjust="spacingAndGlyphs" fill="#1a1a1a" >300</text>
<text x="430" y="110.1" font-size="12" text-anchor="end" textLength="21.9" lengthAdjust="spacingAndGlyphs" fill="#1a1a1a" >400</text>
<text x="430" y="80.3" font-size="12" text-anchor="end" textLength="21.9" lengthAdjust="spacingAndGlyphs" fill="#1a1a1a" >500</text>
<text x="430" y="50.5" font-size="12" text-anchor="end" textLength="21.9" lengthAdjust="spacingAndGlyphs" fill="#1a1a1a" >600</text>
<text x="558.2" y="255.8" font-size="14.0" text-anchor="middle" textLength="127.6" lengthAdjust="spacingAndGlyphs" fill="#1a1a1a" >Water flux (# ns<tspan dy="-4.6" font-size="9">−1</tspan><tspan dy="4.6">)</tspan></text>
<text transform="translate(399.6 132.4) rotate(-90)" font-size="13.6" text-anchor="middle" textLength="175.2" lengthAdjust="spacingAndGlyphs" fill="#1a1a1a">No. pores &gt;90% rejection</text>
<rect x="543.5" y="53" width="18.8" height="7.4" fill="#1f77b4" fill-opacity="0.4"/>
<rect x="543.5" y="67.6" width="18.8" height="7.4" fill="#ff7f0e" fill-opacity="0.4"/>
<text x="570.8" y="60.6" font-size="9.4" textLength="82.4" lengthAdjust="spacingAndGlyphs" fill="#1a1a1a" >DRL: 3428 pores</text>
<text x="570.8" y="75" font-size="9.4" textLength="101.2" lengthAdjust="spacingAndGlyphs" fill="#1a1a1a" >Dataset: 2108 pores</text>
</g>
<g id="pc">
<text x="5.5" y="346.2" font-size="24.4" font-weight="bold" >(c)</text>
<path d="M51.5 427.8H313.3" stroke="#f66a6a" stroke-width="1.35" stroke-dasharray="2.2 1.4" fill="none"/>
<g transform="translate(249 372)"><rect x=".1" y=".2" width="40" height="40.3" fill="url(#hexD)"/><path transform="translate(0 .1)" d="M9 24.5L12.3 21.6 16.1 19.2 18.7 20.5 22 23.7 25.8 23.1 29.7 23.7 32.9 26.3 33.3 29.7 29.7 31.7 27.6 31.2 25.8 32.5 24 30.8 22 30.4 18.7 27.8 17 28.6 15.5 26.7 11.6 26.9z" fill="#fff"/></g>
<g transform="translate(130 431)"><rect x=".1" y=".2" width="39.9" height="40.4" fill="url(#hexD)"/><path transform="translate(.1 .1)" d="M10.8 20L13.3 16.8 19.4 15.9 24.5 18 27.6 20.4 34.7 21.3 33.7 24.1 28.6 25.5 25.5 27.8 23.4 26.2 21.5 26.8 19 27.8 16.4 24.5 12.9 23.5z" fill="#fff"/></g>
<g transform="translate(260 432)"><rect x="-.3" y=".3" width="40" height="40.5" fill="url(#hexB)"/><path transform="translate(18.8 20.9)" d="M-6.2 0l2.8-5.8h6.8l2.8 5.8-2.8 5.8h-6.8z" fill="#fff"/></g>
<g transform="translate(214 499)"><rect x="-.1" y=".1" width="39.5" height="40.4" fill="url(#hexB)"/><path transform="translate(19.3 20.4)" d="M-7.2 0l3.3-6.8h7.8l3.3 6.8-3.3 6.8h-7.8z" fill="#fff"/></g>
<path d="M172.8 451.2L202.4 430.6M219.4 419.8L246.4 398M225.2 456L256.8 452.8M254.4 520.4L286 530.2" stroke="#2e2e2e" stroke-width="1.05" stroke-dasharray="2.8 1.1" fill="none"/>
<path d="M97 384.3H110.8M97 381.7v5.2M110.8 381.7v5.2M103.8 383.6V384.9M101.2 383.6h5.2M101.2 384.9h5.2" stroke="#1f77b4" stroke-width="1" stroke-opacity=".85" fill="none"/>
<rect x="101.9" y="382.4" width="3.8" height="3.8" fill="none" stroke="#1f77b4" stroke-width=".8" stroke-opacity=".85"/>
<path d="M161 408.9H166.6M161 405.9v6M166.6 405.9v6M163.8 398.4V419.2M160.8 398.4h6M160.8 419.2h6" stroke="#1f77b4" stroke-width="1" stroke-opacity=".85" fill="none"/>
<path d="M161.9 407l3.8 3.8M161.9 410.8l3.8 -3.8" fill="none" stroke="#1f77b4" stroke-width=".8" stroke-opacity=".85"/>
<circle cx="163.8" cy="408.9" r="2.1" fill="none" stroke="#1f77b4" stroke-width=".8" stroke-opacity=".85"/>
<path d="M165.1 414.2H186.3M165.1 411.6v5.2M186.3 411.6v5.2M175.4 410.8V417.6M172.8 410.8h5.2M172.8 417.6h5.2" stroke="#ff7f0e" stroke-width="1" stroke-opacity=".85" fill="none"/>
<rect x="173.5" y="412.3" width="3.8" height="3.8" fill="none" stroke="#ff7f0e" stroke-width=".8" stroke-opacity=".85"/>
<path d="M192.9 426.9H215.9M192.9 424.3v5.2M215.9 424.3v5.2M204.7 418.1V436.3M202.1 418.1h5.2M202.1 436.3h5.2" stroke="#1f77b4" stroke-width="1" stroke-opacity=".85" fill="none"/>
<circle cx="204.7" cy="426.9" r="2.1" fill="none" stroke="#1f77b4" stroke-width=".8" stroke-opacity=".85"/>
<path d="M206 425.1H222.5M206 422.5v5.2M222.5 422.5v5.2M214.4 421V429.3M211.8 421h5.2M211.8 429.3h5.2" stroke="#1f77b4" stroke-width="1" stroke-opacity=".85" fill="none"/>
<path d="M212.5 426.6l1.9 -3.4l1.9 3.4z" fill="#1f77b4" fill-opacity=".5" stroke="#1f77b4" stroke-width=".8" stroke-opacity=".85"/>
<path d="M216.4 456.5H220.6M216.4 453.9v5.2M220.6 453.9v5.2M218.5 446.6V466.3M215.9 446.6h5.2M215.9 466.3h5.2" stroke="#ff7f0e" stroke-width="1" stroke-opacity=".85" fill="none"/>
<path d="M216 456.5l2.5 -2.5l2.5 2.5l-2.5 2.5z" fill="none" stroke="#ff7f0e" stroke-width=".8" stroke-opacity=".85"/>
<path d="M288.5 531.2H301.9M288.5 528.6v5.2M301.9 528.6v5.2M295.2 517.1V544.4M292.6 517.1h5.2M292.6 544.4h5.2" stroke="#ff7f0e" stroke-width="1" stroke-opacity=".85" fill="none"/>
<path d="M293.3 532.7l1.9 -3.4l1.9 3.4z" fill="#ff7f0e" fill-opacity=".5" stroke="#ff7f0e" stroke-width=".8" stroke-opacity=".85"/>
<rect x="51.5" y="367.3" width="261.8" height="190" fill="none" stroke="#000" stroke-width="2"/>
<path d="M51.6 557.3v-3.2M84.4 557.3v-3.2M117.3 557.3v-3.2M150.1 557.3v-3.2M182.9 557.3v-3.2M215.8 557.3v-3.2M248.6 557.3v-3.2M281.5 557.3v-3.2M51.5 557.9h3.2M51.5 536.2h3.2M51.5 514.5h3.2M51.5 492.8h3.2M51.5 471.1h3.2M51.5 449.4h3.2M51.5 427.7h3.2M51.5 406h3.2M51.5 384.3h3.2" stroke="#000" stroke-width="1" fill="none"/>
<text x="51.6" y="571" font-size="11.2" text-anchor="middle" textLength="7" lengthAdjust="spacingAndGlyphs" fill="#1a1a1a" >0</text>
<text x="84.4" y="571" font-size="11.2" text-anchor="middle" textLength="14" lengthAdjust="spacingAndGlyphs" fill="#1a1a1a" >25</text>
<text x="117.3" y="571" font-size="11.2" text-anchor="middle" textLength="14" lengthAdjust="spacingAndGlyphs" fill="#1a1a1a" >50</text>
<text x="150.1" y="571" font-size="11.2" text-anchor="middle" textLength="14" lengthAdjust="spacingAndGlyphs" fill="#1a1a1a" >75</text>
<text x="182.9" y="571" font-size="11.2" text-anchor="middle" textLength="21" lengthAdjust="spacingAndGlyphs" fill="#1a1a1a" >100</text>
<text x="215.8" y="571" font-size="11.2" text-anchor="middle" textLength="21" lengthAdjust="spacingAndGlyphs" fill="#1a1a1a" >125</text>
<text x="248.6" y="571" font-size="11.2" text-anchor="middle" textLength="21" lengthAdjust="spacingAndGlyphs" fill="#1a1a1a" >150</text>
<text x="281.5" y="571" font-size="11.2" text-anchor="middle" textLength="21" lengthAdjust="spacingAndGlyphs" fill="#1a1a1a" >175</text>
<text x="46.8" y="562.5" font-size="11.2" text-anchor="end" textLength="14" lengthAdjust="spacingAndGlyphs" fill="#1a1a1a" >60</text>
<text x="46.8" y="540.8" font-size="11.2" text-anchor="end" textLength="14" lengthAdjust="spacingAndGlyphs" fill="#1a1a1a" >65</text>
<text x="46.8" y="519.1" font-size="11.2" text-anchor="end" textLength="14" lengthAdjust="spacingAndGlyphs" fill="#1a1a1a" >70</text>
<text x="46.8" y="497.4" font-size="11.2" text-anchor="end" textLength="14" lengthAdjust="spacingAndGlyphs" fill="#1a1a1a" >75</text>
<text x="46.8" y="475.7" font-size="11.2" text-anchor="end" textLength="14" lengthAdjust="spacingAndGlyphs" fill="#1a1a1a" >80</text>
<text x="46.8" y="454" font-size="11.2" text-anchor="end" textLength="14" lengthAdjust="spacingAndGlyphs" fill="#1a1a1a" >85</text>
<text x="46.8" y="432.3" font-size="11.2" text-anchor="end" textLength="14" lengthAdjust="spacingAndGlyphs" fill="#1a1a1a" >90</text>
<text x="46.8" y="410.6" font-size="11.2" text-anchor="end" textLength="14" lengthAdjust="spacingAndGlyphs" fill="#1a1a1a" >95</text>
<text x="46.8" y="388.9" font-size="11.2" text-anchor="end" textLength="21" lengthAdjust="spacingAndGlyphs" fill="#1a1a1a" >100</text>
<text x="182.6" y="592.2" font-size="16.4" text-anchor="middle" textLength="157.6" lengthAdjust="spacingAndGlyphs" fill="#1a1a1a" >Water flux (# ns<tspan dy="-5.8" font-size="11">−1</tspan><tspan dy="5.8">)</tspan></text>
<text transform="translate(17.1 459.8) rotate(-90)" font-size="16.4" text-anchor="middle" textLength="171.4" lengthAdjust="spacingAndGlyphs" fill="#1a1a1a">Ion rejection rate (%)</text>
<rect x="61.7" y="476.2" width="6.6" height="6.6" rx="1.3" fill="#1f77b4" fill-opacity=".18" stroke="#1f77b4" stroke-width=".9" stroke-opacity=".8"/>
<path d="M61.7 479.5h6.6M65 476.2v6.6" stroke="#1f77b4" stroke-width=".8" stroke-opacity=".8" fill="none"/>
<circle cx="65" cy="479.5" r="1.5" fill="#1f77b4" fill-opacity=".45"/>
<text x="77.7" y="481.8" font-size="6.3" textLength="40.6" lengthAdjust="spacingAndGlyphs" fill="#1a1a1a" >DRL, 113<tspan font-style="italic">Å</tspan><tspan dy="-2.4" font-size="5"> </tspan><tspan font-size="5.2">2</tspan></text>
<rect x="61.7" y="487.5" width="6.6" height="6.6" rx="1.3" fill="#ff7f0e" fill-opacity=".18" stroke="#ff7f0e" stroke-width=".9" stroke-opacity=".8"/>
<path d="M61.7 490.8h6.6M65 487.5v6.6" stroke="#ff7f0e" stroke-width=".8" stroke-opacity=".8" fill="none"/>
<circle cx="65" cy="490.8" r="1.5" fill="#ff7f0e" fill-opacity=".45"/>
<text x="77.7" y="493.1" font-size="6.3" textLength="53" lengthAdjust="spacingAndGlyphs" fill="#1a1a1a" >Circular, 113<tspan font-style="italic">Å</tspan><tspan dy="-2.4" font-size="5"> </tspan><tspan font-size="5.2">2</tspan></text>
<rect x="61.7" y="498.8" width="6.6" height="6.6" rx="1.3" fill="#1f77b4" fill-opacity=".18" stroke="#1f77b4" stroke-width=".9" stroke-opacity=".8"/>
<path d="M61.7 502.1h6.6M65 498.8v6.6" stroke="#1f77b4" stroke-width=".8" stroke-opacity=".8" fill="none"/>
<circle cx="65" cy="502.1" r="1.5" fill="#1f77b4" fill-opacity=".45"/>
<text x="77.7" y="504.4" font-size="6.3" textLength="36.8" lengthAdjust="spacingAndGlyphs" fill="#1a1a1a" >DRL, 72<tspan font-style="italic">Å</tspan><tspan dy="-2.4" font-size="5"> </tspan><tspan font-size="5.2">2</tspan></text>
<rect x="61.7" y="510.2" width="6.6" height="6.6" rx="1.3" fill="#ff7f0e" fill-opacity=".18" stroke="#ff7f0e" stroke-width=".9" stroke-opacity=".8"/>
<path d="M61.7 513.5h6.6M65 510.2v6.6" stroke="#ff7f0e" stroke-width=".8" stroke-opacity=".8" fill="none"/>
<circle cx="65" cy="513.5" r="1.5" fill="#ff7f0e" fill-opacity=".45"/>
<text x="77.7" y="515.8" font-size="6.3" textLength="49.2" lengthAdjust="spacingAndGlyphs" fill="#1a1a1a" >Circular, 72<tspan font-style="italic">Å</tspan><tspan dy="-2.4" font-size="5"> </tspan><tspan font-size="5.2">2</tspan></text>
<rect x="61.7" y="521.5" width="6.6" height="6.6" rx="1.3" fill="#1f77b4" fill-opacity=".18" stroke="#1f77b4" stroke-width=".9" stroke-opacity=".8"/>
<path d="M61.7 524.8h6.6M65 521.5v6.6" stroke="#1f77b4" stroke-width=".8" stroke-opacity=".8" fill="none"/>
<circle cx="65" cy="524.8" r="1.5" fill="#1f77b4" fill-opacity=".45"/>
<text x="77.7" y="527.1" font-size="6.3" textLength="36.8" lengthAdjust="spacingAndGlyphs" fill="#1a1a1a" >DRL, 88<tspan font-style="italic">Å</tspan><tspan dy="-2.4" font-size="5"> </tspan><tspan font-size="5.2">2</tspan></text>
<rect x="61.7" y="532.8" width="6.6" height="6.6" rx="1.3" fill="#ff7f0e" fill-opacity=".18" stroke="#ff7f0e" stroke-width=".9" stroke-opacity=".8"/>
<path d="M61.7 536.1h6.6M65 532.8v6.6" stroke="#ff7f0e" stroke-width=".8" stroke-opacity=".8" fill="none"/>
<circle cx="65" cy="536.1" r="1.5" fill="#ff7f0e" fill-opacity=".45"/>
<text x="77.7" y="538.4" font-size="6.3" textLength="49.2" lengthAdjust="spacingAndGlyphs" fill="#1a1a1a" >Circular, 88<tspan font-style="italic">Å</tspan><tspan dy="-2.4" font-size="5"> </tspan><tspan font-size="5.2">2</tspan></text>
<rect x="61.7" y="544.1" width="6.6" height="6.6" rx="1.3" fill="#1f77b4" fill-opacity=".18" stroke="#1f77b4" stroke-width=".9" stroke-opacity=".8"/>
<path d="M61.7 547.4h6.6M65 544.1v6.6" stroke="#1f77b4" stroke-width=".8" stroke-opacity=".8" fill="none"/>
<circle cx="65" cy="547.4" r="1.5" fill="#1f77b4" fill-opacity=".45"/>
<text x="77.7" y="549.7" font-size="6.3" textLength="40.6" lengthAdjust="spacingAndGlyphs" fill="#1a1a1a" >DRL, 108<tspan font-style="italic">Å</tspan><tspan dy="-2.4" font-size="5"> </tspan><tspan font-size="5.2">2</tspan></text>
</g>
<g id="pd">
<text x="364.6" y="346.2" font-size="24.4" font-weight="bold" >(d)</text>
<text x="394.6" y="387.6" font-size="20.4" textLength="129.6" lengthAdjust="spacingAndGlyphs" >Circular, 88 Å<tspan dy="-6.4" font-size="13.4">2</tspan></text>
<text x="557.2" y="387.6" font-size="20.4" textLength="110.8" lengthAdjust="spacingAndGlyphs" >DRL, 113 Å<tspan dy="-6.4" font-size="13.4">2</tspan></text>
<g clip-path="url(#cl1)" fill="#4480c0" fill-opacity="0.8"><circle cx="386.5" cy="395.4" r="3.3"/><circle cx="395.4" cy="395.4" r="3.3"/><circle cx="404.2" cy="395.4" r="3.3"/><circle cx="413.1" cy="395.4" r="3.3"/><circle cx="422" cy="395.4" r="3.3"/><circle cx="430.8" cy="395.4" r="3.3"/><circle cx="439.7" cy="395.4" r="3.3"/><circle cx="448.6" cy="395.4" r="3.3"/><circle cx="457.4" cy="395.4" r="3.3"/><circle cx="466.3" cy="395.4" r="3.3"/><circle cx="475.2" cy="395.4" r="3.3"/><circle cx="484.1" cy="395.4" r="3.3"/><circle cx="492.9" cy="395.4" r="3.3"/><circle cx="501.8" cy="395.4" r="3.3"/><circle cx="510.7" cy="395.4" r="3.3"/><circle cx="519.5" cy="395.4" r="3.3"/><circle cx="528.4" cy="395.4" r="3.3"/><circle cx="390.9" cy="403.1" r="3.3"/><circle cx="399.8" cy="403.1" r="3.3"/><circle cx="408.7" cy="403.1" r="3.3"/><circle cx="417.6" cy="403.1" r="3.3"/><circle cx="426.4" cy="403.1" r="3.3"/><circle cx="435.3" cy="403.1" r="3.3"/><circle cx="444.2" cy="403.1" r="3.3"/><circle cx="453" cy="403.1" r="3.3"/><circle cx="461.9" cy="403.1" r="3.3"/><circle cx="470.8" cy="403.1" r="3.3"/><circle cx="479.6" cy="403.1" r="3.3"/><circle cx="488.5" cy="403.1" r="3.3"/><circle cx="497.4" cy="403.1" r="3.3"/><circle cx="506.2" cy="403.1" r="3.3"/><circle cx="515.1" cy="403.1" r="3.3"/><circle cx="524" cy="403.1" r="3.3"/><circle cx="532.8" cy="403.1" r="3.3"/><circle cx="386.5" cy="400.6" r="3.3"/><circle cx="386.5" cy="410.8" r="3.3"/><circle cx="395.4" cy="400.6" r="3.3"/><circle cx="395.4" cy="410.8" r="3.3"/><circle cx="404.2" cy="400.6" r="3.3"/><circle cx="404.2" cy="410.8" r="3.3"/><circle cx="413.1" cy="400.6" r="3.3"/><circle cx="413.1" cy="410.8" r="3.3"/><circle cx="422" cy="400.6" r="3.3"/><circle cx="422" cy="410.8" r="3.3"/><circle cx="430.8" cy="400.6" r="3.3"/><circle cx="430.8" cy="410.8" r="3.3"/><circle cx="439.7" cy="400.6" r="3.3"/><circle cx="439.7" cy="410.8" r="3.3"/><circle cx="448.6" cy="400.6" r="3.3"/><circle cx="448.6" cy="410.8" r="3.3"/><circle cx="457.4" cy="400.6" r="3.3"/><circle cx="457.4" cy="410.8" r="3.3"/><circle cx="466.3" cy="400.6" r="3.3"/><circle cx="466.3" cy="410.8" r="3.3"/><circle cx="475.2" cy="400.6" r="3.3"/><circle cx="475.2" cy="410.8" r="3.3"/><circle cx="484.1" cy="400.6" r="3.3"/><circle cx="484.1" cy="410.8" r="3.3"/><circle cx="492.9" cy="400.6" r="3.3"/><circle cx="492.9" cy="410.8" r="3.3"/><circle cx="501.8" cy="400.6" r="3.3"/><circle cx="501.8" cy="410.8" r="3.3"/><circle cx="510.7" cy="400.6" r="3.3"/><circle cx="510.7" cy="410.8" r="3.3"/><circle cx="519.5" cy="400.6" r="3.3"/><circle cx="519.5" cy="410.8" r="3.3"/><circle cx="528.4" cy="400.6" r="3.3"/><circle cx="528.4" cy="410.8" r="3.3"/><circle cx="390.9" cy="408.2" r="3.3"/><circle cx="390.9" cy="418.5" r="3.3"/><circle cx="399.8" cy="408.2" r="3.3"/><circle cx="399.8" cy="418.5" r="3.3"/><circle cx="408.7" cy="408.2" r="3.3"/><circle cx="408.7" cy="418.5" r="3.3"/><circle cx="417.6" cy="408.2" r="3.3"/><circle cx="417.6" cy="418.5" r="3.3"/><circle cx="426.4" cy="408.2" r="3.3"/><circle cx="426.4" cy="418.5" r="3.3"/><circle cx="435.3" cy="408.2" r="3.3"/><circle cx="435.3" cy="418.5" r="3.3"/><circle cx="444.2" cy="408.2" r="3.3"/><circle cx="444.2" cy="418.5" r="3.3"/><circle cx="453" cy="408.2" r="3.3"/><circle cx="453" cy="418.5" r="3.3"/><circle cx="461.9" cy="408.2" r="3.3"/><circle cx="461.9" cy="418.5" r="3.3"/><circle cx="470.8" cy="408.2" r="3.3"/><circle cx="470.8" cy="418.5" r="3.3"/><circle cx="479.6" cy="408.2" r="3.3"/><circle cx="479.6" cy="418.5" r="3.3"/><circle cx="488.5" cy="408.2" r="3.3"/><circle cx="488.5" cy="418.5" r="3.3"/><circle cx="497.4" cy="408.2" r="3.3"/><circle cx="497.4" cy="418.5" r="3.3"/><circle cx="506.2" cy="408.2" r="3.3"/><circle cx="506.2" cy="418.5" r="3.3"/><circle cx="515.1" cy="408.2" r="3.3"/><circle cx="515.1" cy="418.5" r="3.3"/><circle cx="524" cy="408.2" r="3.3"/><circle cx="524" cy="418.5" r="3.3"/><circle cx="532.8" cy="408.2" r="3.3"/><circle cx="532.8" cy="418.5" r="3.3"/><circle cx="386.5" cy="415.9" r="3.3"/><circle cx="386.5" cy="426.2" r="3.3"/><circle cx="395.4" cy="415.9" r="3.3"/><circle cx="395.4" cy="426.2" r="3.3"/><circle cx="404.2" cy="415.9" r="3.3"/><circle cx="404.2" cy="426.2" r="3.3"/><circle cx="413.1" cy="415.9" r="3.3"/><circle cx="413.1" cy="426.2" r="3.3"/><circle cx="422" cy="415.9" r="3.3"/><circle cx="422" cy="426.2" r="3.3"/><circle cx="430.8" cy="415.9" r="3.3"/><circle cx="430.8" cy="426.2" r="3.3"/><circle cx="439.7" cy="415.9" r="3.3"/><circle cx="439.7" cy="426.2" r="3.3"/><circle cx="448.6" cy="415.9" r="3.3"/><circle cx="448.6" cy="426.2" r="3.3"/><circle cx="457.4" cy="415.9" r="3.3"/><circle cx="457.4" cy="426.2" r="3.3"/><circle cx="466.3" cy="415.9" r="3.3"/><circle cx="466.3" cy="426.2" r="3.3"/><circle cx="475.2" cy="415.9" r="3.3"/><circle cx="475.2" cy="426.2" r="3.3"/><circle cx="484.1" cy="415.9" r="3.3"/><circle cx="484.1" cy="426.2" r="3.3"/><circle cx="492.9" cy="415.9" r="3.3"/><circle cx="492.9" cy="426.2" r="3.3"/><circle cx="501.8" cy="415.9" r="3.3"/><circle cx="501.8" cy="426.2" r="3.3"/><circle cx="510.7" cy="415.9" r="3.3"/><circle cx="510.7" cy="426.2" r="3.3"/><circle cx="519.5" cy="415.9" r="3.3"/><circle cx="519.5" cy="426.2" r="3.3"/><circle cx="528.4" cy="415.9" r="3.3"/><circle cx="528.4" cy="426.2" r="3.3"/><circle cx="390.9" cy="423.6" r="3.3"/><circle cx="390.9" cy="433.8" r="3.3"/><circle cx="399.8" cy="423.6" r="3.3"/><circle cx="399.8" cy="433.8" r="3.3"/><circle cx="408.7" cy="423.6" r="3.3"/><circle cx="408.7" cy="433.8" r="3.3"/><circle cx="417.6" cy="423.6" r="3.3"/><circle cx="417.6" cy="433.8" r="3.3"/><circle cx="426.4" cy="423.6" r="3.3"/><circle cx="426.4" cy="433.8" r="3.3"/><circle cx="435.3" cy="423.6" r="3.3"/><circle cx="435.3" cy="433.8" r="3.3"/><circle cx="444.2" cy="423.6" r="3.3"/><circle cx="444.2" cy="433.8" r="3.3"/><circle cx="453" cy="423.6" r="3.3"/><circle cx="453" cy="433.8" r="3.3"/><circle cx="461.9" cy="423.6" r="3.3"/><circle cx="461.9" cy="433.8" r="3.3"/><circle cx="470.8" cy="423.6" r="3.3"/><circle cx="470.8" cy="433.8" r="3.3"/><circle cx="479.6" cy="423.6" r="3.3"/><circle cx="479.6" cy="433.8" r="3.3"/><circle cx="488.5" cy="423.6" r="3.3"/><circle cx="488.5" cy="433.8" r="3.3"/><circle cx="497.4" cy="423.6" r="3.3"/><circle cx="497.4" cy="433.8" r="3.3"/><circle cx="506.2" cy="423.6" r="3.3"/><circle cx="506.2" cy="433.8" r="3.3"/><circle cx="515.1" cy="423.6" r="3.3"/><circle cx="515.1" cy="433.8" r="3.3"/><circle cx="524" cy="423.6" r="3.3"/><circle cx="524" cy="433.8" r="3.3"/><circle cx="532.8" cy="423.6" r="3.3"/><circle cx="532.8" cy="433.8" r="3.3"/><circle cx="386.5" cy="431.3" r="3.3"/><circle cx="386.5" cy="441.5" r="3.3"/><circle cx="395.4" cy="431.3" r="3.3"/><circle cx="395.4" cy="441.5" r="3.3"/><circle cx="404.2" cy="431.3" r="3.3"/><circle cx="404.2" cy="441.5" r="3.3"/><circle cx="413.1" cy="431.3" r="3.3"/><circle cx="413.1" cy="441.5" r="3.3"/><circle cx="422" cy="431.3" r="3.3"/><circle cx="422" cy="441.5" r="3.3"/><circle cx="430.8" cy="431.3" r="3.3"/><circle cx="430.8" cy="441.5" r="3.3"/><circle cx="439.7" cy="431.3" r="3.3"/><circle cx="439.7" cy="441.5" r="3.3"/><circle cx="448.6" cy="431.3" r="3.3"/><circle cx="448.6" cy="441.5" r="3.3"/><circle cx="457.4" cy="431.3" r="3.3"/><circle cx="457.4" cy="441.5" r="3.3"/><circle cx="466.3" cy="431.3" r="3.3"/><circle cx="466.3" cy="441.5" r="3.3"/><circle cx="475.2" cy="431.3" r="3.3"/><circle cx="475.2" cy="441.5" r="3.3"/><circle cx="484.1" cy="431.3" r="3.3"/><circle cx="484.1" cy="441.5" r="3.3"/><circle cx="492.9" cy="431.3" r="3.3"/><circle cx="492.9" cy="441.5" r="3.3"/><circle cx="501.8" cy="431.3" r="3.3"/><circle cx="501.8" cy="441.5" r="3.3"/><circle cx="510.7" cy="431.3" r="3.3"/><circle cx="510.7" cy="441.5" r="3.3"/><circle cx="519.5" cy="431.3" r="3.3"/><circle cx="519.5" cy="441.5" r="3.3"/><circle cx="528.4" cy="431.3" r="3.3"/><circle cx="528.4" cy="441.5" r="3.3"/><circle cx="390.9" cy="439" r="3.3"/><circle cx="390.9" cy="449.2" r="3.3"/><circle cx="399.8" cy="439" r="3.3"/><circle cx="399.8" cy="449.2" r="3.3"/><circle cx="408.7" cy="439" r="3.3"/><circle cx="408.7" cy="449.2" r="3.3"/><circle cx="417.6" cy="439" r="3.3"/><circle cx="417.6" cy="449.2" r="3.3"/><circle cx="426.4" cy="439" r="3.3"/><circle cx="426.4" cy="449.2" r="3.3"/><circle cx="435.3" cy="439" r="3.3"/><circle cx="435.3" cy="449.2" r="3.3"/><circle cx="444.2" cy="439" r="3.3"/><circle cx="444.2" cy="449.2" r="3.3"/><circle cx="453" cy="439" r="3.3"/><circle cx="461.9" cy="439" r="3.3"/><circle cx="470.8" cy="439" r="3.3"/><circle cx="479.6" cy="439" r="3.3"/><circle cx="479.6" cy="449.2" r="3.3"/><circle cx="488.5" cy="439" r="3.3"/><circle cx="488.5" cy="449.2" r="3.3"/><circle cx="497.4" cy="439" r="3.3"/><circle cx="497.4" cy="449.2" r="3.3"/><circle cx="506.2" cy="439" r="3.3"/><circle cx="506.2" cy="449.2" r="3.3"/><circle cx="515.1" cy="439" r="3.3"/><circle cx="515.1" cy="449.2" r="3.3"/><circle cx="524" cy="439" r="3.3"/><circle cx="524" cy="449.2" r="3.3"/><circle cx="532.8" cy="439" r="3.3"/><circle cx="532.8" cy="449.2" r="3.3"/><circle cx="386.5" cy="446.6" r="3.3"/><circle cx="386.5" cy="456.9" r="3.3"/><circle cx="395.4" cy="446.6" r="3.3"/><circle cx="395.4" cy="456.9" r="3.3"/><circle cx="404.2" cy="446.6" r="3.3"/><circle cx="404.2" cy="456.9" r="3.3"/><circle cx="413.1" cy="446.6" r="3.3"/><circle cx="413.1" cy="456.9" r="3.3"/><circle cx="422" cy="446.6" r="3.3"/><circle cx="422" cy="456.9" r="3.3"/><circle cx="430.8" cy="446.6" r="3.3"/><circle cx="430.8" cy="456.9" r="3.3"/><circle cx="439.7" cy="446.6" r="3.3"/><circle cx="448.6" cy="446.6" r="3.3"/><circle cx="475.2" cy="446.6" r="3.3"/><circle cx="484.1" cy="446.6" r="3.3"/><circle cx="484.1" cy="456.9" r="3.3"/><circle cx="492.9" cy="446.6" r="3.3"/><circle cx="492.9" cy="456.9" r="3.3"/><circle cx="501.8" cy="446.6" r="3.3"/><circle cx="501.8" cy="456.9" r="3.3"/><circle cx="510.7" cy="446.6" r="3.3"/><circle cx="510.7" cy="456.9" r="3.3"/><circle cx="519.5" cy="446.6" r="3.3"/><circle cx="519.5" cy="456.9" r="3.3"/><circle cx="528.4" cy="446.6" r="3.3"/><circle cx="528.4" cy="456.9" r="3.3"/><circle cx="390.9" cy="454.3" r="3.3"/><circle cx="390.9" cy="464.6" r="3.3"/><circle cx="399.8" cy="454.3" r="3.3"/><circle cx="399.8" cy="464.6" r="3.3"/><circle cx="408.7" cy="454.3" r="3.3"/><circle cx="408.7" cy="464.6" r="3.3"/><circle cx="417.6" cy="454.3" r="3.3"/><circle cx="417.6" cy="464.6" r="3.3"/><circle cx="426.4" cy="454.3" r="3.3"/><circle cx="426.4" cy="464.6" r="3.3"/><circle cx="435.3" cy="454.3" r="3.3"/><circle cx="435.3" cy="464.6" r="3.3"/><circle cx="479.6" cy="454.3" r="3.3"/><circle cx="488.5" cy="454.3" r="3.3"/><circle cx="488.5" cy="464.6" r="3.3"/><circle cx="497.4" cy="454.3" r="3.3"/><circle cx="497.4" cy="464.6" r="3.3"/><circle cx="506.2" cy="454.3" r="3.3"/><circle cx="506.2" cy="464.6" r="3.3"/><circle cx="515.1" cy="454.3" r="3.3"/><circle cx="515.1" cy="464.6" r="3.3"/><circle cx="524" cy="454.3" r="3.3"/><circle cx="524" cy="464.6" r="3.3"/><circle cx="532.8" cy="454.3" r="3.3"/><circle cx="532.8" cy="464.6" r="3.3"/><circle cx="386.5" cy="462" r="3.3"/><circle cx="386.5" cy="472.2" r="3.3"/><circle cx="395.4" cy="462" r="3.3"/><circle cx="395.4" cy="472.2" r="3.3"/><circle cx="404.2" cy="462" r="3.3"/><circle cx="404.2" cy="472.2" r="3.3"/><circle cx="413.1" cy="462" r="3.3"/><circle cx="413.1" cy="472.2" r="3.3"/><circle cx="422" cy="462" r="3.3"/><circle cx="422" cy="472.2" r="3.3"/><circle cx="430.8" cy="462" r="3.3"/><circle cx="430.8" cy="472.2" r="3.3"/><circle cx="484.1" cy="462" r="3.3"/><circle cx="484.1" cy="472.2" r="3.3"/><circle cx="492.9" cy="462" r="3.3"/><circle cx="492.9" cy="472.2" r="3.3"/><circle cx="501.8" cy="462" r="3.3"/><circle cx="501.8" cy="472.2" r="3.3"/><circle cx="510.7" cy="462" r="3.3"/><circle cx="510.7" cy="472.2" r="3.3"/><circle cx="519.5" cy="462" r="3.3"/><circle cx="519.5" cy="472.2" r="3.3"/><circle cx="528.4" cy="462" r="3.3"/><circle cx="528.4" cy="472.2" r="3.3"/><circle cx="390.9" cy="469.7" r="3.3"/><circle cx="390.9" cy="479.9" r="3.3"/><circle cx="399.8" cy="469.7" r="3.3"/><circle cx="399.8" cy="479.9" r="3.3"/><circle cx="408.7" cy="469.7" r="3.3"/><circle cx="408.7" cy="479.9" r="3.3"/><circle cx="417.6" cy="469.7" r="3.3"/><circle cx="417.6" cy="479.9" r="3.3"/><circle cx="426.4" cy="469.7" r="3.3"/><circle cx="426.4" cy="479.9" r="3.3"/><circle cx="435.3" cy="469.7" r="3.3"/><circle cx="435.3" cy="479.9" r="3.3"/><circle cx="479.6" cy="479.9" r="3.3"/><circle cx="488.5" cy="469.7" r="3.3"/><circle cx="488.5" cy="479.9" r="3.3"/><circle cx="497.4" cy="469.7" r="3.3"/><circle cx="497.4" cy="479.9" r="3.3"/><circle cx="506.2" cy="469.7" r="3.3"/><circle cx="506.2" cy="479.9" r="3.3"/><circle cx="515.1" cy="469.7" r="3.3"/><circle cx="515.1" cy="479.9" r="3.3"/><circle cx="524" cy="469.7" r="3.3"/><circle cx="524" cy="479.9" r="3.3"/><circle cx="532.8" cy="469.7" r="3.3"/><circle cx="532.8" cy="479.9" r="3.3"/><circle cx="386.5" cy="477.4" r="3.3"/><circle cx="386.5" cy="487.6" r="3.3"/><circle cx="395.4" cy="477.4" r="3.3"/><circle cx="395.4" cy="487.6" r="3.3"/><circle cx="404.2" cy="477.4" r="3.3"/><circle cx="404.2" cy="487.6" r="3.3"/><circle cx="413.1" cy="477.4" r="3.3"/><circle cx="413.1" cy="487.6" r="3.3"/><circle cx="422" cy="477.4" r="3.3"/><circle cx="422" cy="487.6" r="3.3"/><circle cx="430.8" cy="477.4" r="3.3"/><circle cx="430.8" cy="487.6" r="3.3"/><circle cx="439.7" cy="487.6" r="3.3"/><circle cx="475.2" cy="487.6" r="3.3"/><circle cx="484.1" cy="477.4" r="3.3"/><circle cx="484.1" cy="487.6" r="3.3"/><circle cx="492.9" cy="477.4" r="3.3"/><circle cx="492.9" cy="487.6" r="3.3"/><circle cx="501.8" cy="477.4" r="3.3"/><circle cx="501.8" cy="487.6" r="3.3"/><circle cx="510.7" cy="477.4" r="3.3"/><circle cx="510.7" cy="487.6" r="3.3"/><circle cx="519.5" cy="477.4" r="3.3"/><circle cx="519.5" cy="487.6" r="3.3"/><circle cx="528.4" cy="477.4" r="3.3"/><circle cx="528.4" cy="487.6" r="3.3"/><circle cx="390.9" cy="485" r="3.3"/><circle cx="390.9" cy="495.3" r="3.3"/><circle cx="399.8" cy="485" r="3.3"/><circle cx="399.8" cy="495.3" r="3.3"/><circle cx="408.7" cy="485" r="3.3"/><circle cx="408.7" cy="495.3" r="3.3"/><circle cx="417.6" cy="485" r="3.3"/><circle cx="417.6" cy="495.3" r="3.3"/><circle cx="426.4" cy="485" r="3.3"/><circle cx="426.4" cy="495.3" r="3.3"/><circle cx="435.3" cy="485" r="3.3"/><circle cx="435.3" cy="495.3" r="3.3"/><circle cx="444.2" cy="495.3" r="3.3"/><circle cx="453" cy="495.3" r="3.3"/><circle cx="461.9" cy="495.3" r="3.3"/><circle cx="470.8" cy="495.3" r="3.3"/><circle cx="479.6" cy="485" r="3.3"/><circle cx="479.6" cy="495.3" r="3.3"/><circle cx="488.5" cy="485" r="3.3"/><circle cx="488.5" cy="495.3" r="3.3"/><circle cx="497.4" cy="485" r="3.3"/><circle cx="497.4" cy="495.3" r="3.3"/><circle cx="506.2" cy="485" r="3.3"/><circle cx="506.2" cy="495.3" r="3.3"/><circle cx="515.1" cy="485" r="3.3"/><circle cx="515.1" cy="495.3" r="3.3"/><circle cx="524" cy="485" r="3.3"/><circle cx="524" cy="495.3" r="3.3"/><circle cx="532.8" cy="485" r="3.3"/><circle cx="532.8" cy="495.3" r="3.3"/><circle cx="386.5" cy="492.7" r="3.3"/><circle cx="386.5" cy="503" r="3.3"/><circle cx="395.4" cy="492.7" r="3.3"/><circle cx="395.4" cy="503" r="3.3"/><circle cx="404.2" cy="492.7" r="3.3"/><circle cx="404.2" cy="503" r="3.3"/><circle cx="413.1" cy="492.7" r="3.3"/><circle cx="413.1" cy="503" r="3.3"/><circle cx="422" cy="492.7" r="3.3"/><circle cx="422" cy="503" r="3.3"/><circle cx="430.8" cy="492.7" r="3.3"/><circle cx="430.8" cy="503" r="3.3"/><circle cx="439.7" cy="492.7" r="3.3"/><circle cx="439.7" cy="503" r="3.3"/><circle cx="448.6" cy="492.7" r="3.3"/><circle cx="448.6" cy="503" r="3.3"/><circle cx="457.4" cy="492.7" r="3.3"/><circle cx="457.4" cy="503" r="3.3"/><circle cx="466.3" cy="492.7" r="3.3"/><circle cx="466.3" cy="503" r="3.3"/><circle cx="475.2" cy="492.7" r="3.3"/><circle cx="475.2" cy="503" r="3.3"/><circle cx="484.1" cy="492.7" r="3.3"/><circle cx="484.1" cy="503" r="3.3"/><circle cx="492.9" cy="492.7" r="3.3"/><circle cx="492.9" cy="503" r="3.3"/><circle cx="501.8" cy="492.7" r="3.3"/><circle cx="501.8" cy="503" r="3.3"/><circle cx="510.7" cy="492.7" r="3.3"/><circle cx="510.7" cy="503" r="3.3"/><circle cx="519.5" cy="492.7" r="3.3"/><circle cx="519.5" cy="503" r="3.3"/><circle cx="528.4" cy="492.7" r="3.3"/><circle cx="528.4" cy="503" r="3.3"/><circle cx="390.9" cy="500.4" r="3.3"/><circle cx="390.9" cy="510.6" r="3.3"/><circle cx="399.8" cy="500.4" r="3.3"/><circle cx="399.8" cy="510.6" r="3.3"/><circle cx="408.7" cy="500.4" r="3.3"/><circle cx="408.7" cy="510.6" r="3.3"/><circle cx="417.6" cy="500.4" r="3.3"/><circle cx="417.6" cy="510.6" r="3.3"/><circle cx="426.4" cy="500.4" r="3.3"/><circle cx="426.4" cy="510.6" r="3.3"/><circle cx="435.3" cy="500.4" r="3.3"/><circle cx="435.3" cy="510.6" r="3.3"/><circle cx="444.2" cy="500.4" r="3.3"/><circle cx="444.2" cy="510.6" r="3.3"/><circle cx="453" cy="500.4" r="3.3"/><circle cx="453" cy="510.6" r="3.3"/><circle cx="461.9" cy="500.4" r="3.3"/><circle cx="461.9" cy="510.6" r="3.3"/><circle cx="470.8" cy="500.4" r="3.3"/><circle cx="470.8" cy="510.6" r="3.3"/><circle cx="479.6" cy="500.4" r="3.3"/><circle cx="479.6" cy="510.6" r="3.3"/><circle cx="488.5" cy="500.4" r="3.3"/><circle cx="488.5" cy="510.6" r="3.3"/><circle cx="497.4" cy="500.4" r="3.3"/><circle cx="497.4" cy="510.6" r="3.3"/><circle cx="506.2" cy="500.4" r="3.3"/><circle cx="506.2" cy="510.6" r="3.3"/><circle cx="515.1" cy="500.4" r="3.3"/><circle cx="515.1" cy="510.6" r="3.3"/><circle cx="524" cy="500.4" r="3.3"/><circle cx="524" cy="510.6" r="3.3"/><circle cx="532.8" cy="500.4" r="3.3"/><circle cx="532.8" cy="510.6" r="3.3"/><circle cx="386.5" cy="508.1" r="3.3"/><circle cx="386.5" cy="518.3" r="3.3"/><circle cx="395.4" cy="508.1" r="3.3"/><circle cx="395.4" cy="518.3" r="3.3"/><circle cx="404.2" cy="508.1" r="3.3"/><circle cx="404.2" cy="518.3" r="3.3"/><circle cx="413.1" cy="508.1" r="3.3"/><circle cx="413.1" cy="518.3" r="3.3"/><circle cx="422" cy="508.1" r="3.3"/><circle cx="422" cy="518.3" r="3.3"/><circle cx="430.8" cy="508.1" r="3.3"/><circle cx="430.8" cy="518.3" r="3.3"/><circle cx="439.7" cy="508.1" r="3.3"/><circle cx="439.7" cy="518.3" r="3.3"/><circle cx="448.6" cy="508.1" r="3.3"/><circle cx="448.6" cy="518.3" r="3.3"/><circle cx="457.4" cy="508.1" r="3.3"/><circle cx="457.4" cy="518.3" r="3.3"/><circle cx="466.3" cy="508.1" r="3.3"/><circle cx="466.3" cy="518.3" r="3.3"/><circle cx="475.2" cy="508.1" r="3.3"/><circle cx="475.2" cy="518.3" r="3.3"/><circle cx="484.1" cy="508.1" r="3.3"/><circle cx="484.1" cy="518.3" r="3.3"/><circle cx="492.9" cy="508.1" r="3.3"/><circle cx="492.9" cy="518.3" r="3.3"/><circle cx="501.8" cy="508.1" r="3.3"/><circle cx="501.8" cy="518.3" r="3.3"/><circle cx="510.7" cy="508.1" r="3.3"/><circle cx="510.7" cy="518.3" r="3.3"/><circle cx="519.5" cy="508.1" r="3.3"/><circle cx="519.5" cy="518.3" r="3.3"/><circle cx="528.4" cy="508.1" r="3.3"/><circle cx="528.4" cy="518.3" r="3.3"/><circle cx="390.9" cy="515.8" r="3.3"/><circle cx="390.9" cy="526" r="3.3"/><circle cx="399.8" cy="515.8" r="3.3"/><circle cx="399.8" cy="526" r="3.3"/><circle cx="408.7" cy="515.8" r="3.3"/><circle cx="408.7" cy="526" r="3.3"/><circle cx="417.6" cy="515.8" r="3.3"/><circle cx="417.6" cy="526" r="3.3"/><circle cx="426.4" cy="515.8" r="3.3"/><circle cx="426.4" cy="526" r="3.3"/><circle cx="435.3" cy="515.8" r="3.3"/><circle cx="435.3" cy="526" r="3.3"/><circle cx="444.2" cy="515.8" r="3.3"/><circle cx="444.2" cy="526" r="3.3"/><circle cx="453" cy="515.8" r="3.3"/><circle cx="453" cy="526" r="3.3"/><circle cx="461.9" cy="515.8" r="3.3"/><circle cx="461.9" cy="526" r="3.3"/><circle cx="470.8" cy="515.8" r="3.3"/><circle cx="470.8" cy="526" r="3.3"/><circle cx="479.6" cy="515.8" r="3.3"/><circle cx="479.6" cy="526" r="3.3"/><circle cx="488.5" cy="515.8" r="3.3"/><circle cx="488.5" cy="526" r="3.3"/><circle cx="497.4" cy="515.8" r="3.3"/><circle cx="497.4" cy="526" r="3.3"/><circle cx="506.2" cy="515.8" r="3.3"/><circle cx="506.2" cy="526" r="3.3"/><circle cx="515.1" cy="515.8" r="3.3"/><circle cx="515.1" cy="526" r="3.3"/><circle cx="524" cy="515.8" r="3.3"/><circle cx="524" cy="526" r="3.3"/><circle cx="532.8" cy="515.8" r="3.3"/><circle cx="532.8" cy="526" r="3.3"/><circle cx="386.5" cy="523.4" r="3.3"/><circle cx="386.5" cy="533.7" r="3.3"/><circle cx="395.4" cy="523.4" r="3.3"/><circle cx="395.4" cy="533.7" r="3.3"/><circle cx="404.2" cy="523.4" r="3.3"/><circle cx="404.2" cy="533.7" r="3.3"/><circle cx="413.1" cy="523.4" r="3.3"/><circle cx="413.1" cy="533.7" r="3.3"/><circle cx="422" cy="523.4" r="3.3"/><circle cx="422" cy="533.7" r="3.3"/><circle cx="430.8" cy="523.4" r="3.3"/><circle cx="430.8" cy="533.7" r="3.3"/><circle cx="439.7" cy="523.4" r="3.3"/><circle cx="439.7" cy="533.7" r="3.3"/><circle cx="448.6" cy="523.4" r="3.3"/><circle cx="448.6" cy="533.7" r="3.3"/><circle cx="457.4" cy="523.4" r="3.3"/><circle cx="457.4" cy="533.7" r="3.3"/><circle cx="466.3" cy="523.4" r="3.3"/><circle cx="466.3" cy="533.7" r="3.3"/><circle cx="475.2" cy="523.4" r="3.3"/><circle cx="475.2" cy="533.7" r="3.3"/><circle cx="484.1" cy="523.4" r="3.3"/><circle cx="484.1" cy="533.7" r="3.3"/><circle cx="492.9" cy="523.4" r="3.3"/><circle cx="492.9" cy="533.7" r="3.3"/><circle cx="501.8" cy="523.4" r="3.3"/><circle cx="501.8" cy="533.7" r="3.3"/><circle cx="510.7" cy="523.4" r="3.3"/><circle cx="510.7" cy="533.7" r="3.3"/><circle cx="519.5" cy="523.4" r="3.3"/><circle cx="519.5" cy="533.7" r="3.3"/><circle cx="528.4" cy="523.4" r="3.3"/><circle cx="528.4" cy="533.7" r="3.3"/><circle cx="390.9" cy="531.1" r="3.3"/><circle cx="390.9" cy="541.4" r="3.3"/><circle cx="399.8" cy="531.1" r="3.3"/><circle cx="399.8" cy="541.4" r="3.3"/><circle cx="408.7" cy="531.1" r="3.3"/><circle cx="408.7" cy="541.4" r="3.3"/><circle cx="417.6" cy="531.1" r="3.3"/><circle cx="417.6" cy="541.4" r="3.3"/><circle cx="426.4" cy="531.1" r="3.3"/><circle cx="426.4" cy="541.4" r="3.3"/><circle cx="435.3" cy="531.1" r="3.3"/><circle cx="435.3" cy="541.4" r="3.3"/><circle cx="444.2" cy="531.1" r="3.3"/><circle cx="444.2" cy="541.4" r="3.3"/><circle cx="453" cy="531.1" r="3.3"/><circle cx="453" cy="541.4" r="3.3"/><circle cx="461.9" cy="531.1" r="3.3"/><circle cx="461.9" cy="541.4" r="3.3"/><circle cx="470.8" cy="531.1" r="3.3"/><circle cx="470.8" cy="541.4" r="3.3"/><circle cx="479.6" cy="531.1" r="3.3"/><circle cx="479.6" cy="541.4" r="3.3"/><circle cx="488.5" cy="531.1" r="3.3"/><circle cx="488.5" cy="541.4" r="3.3"/><circle cx="497.4" cy="531.1" r="3.3"/><circle cx="497.4" cy="541.4" r="3.3"/><circle cx="506.2" cy="531.1" r="3.3"/><circle cx="506.2" cy="541.4" r="3.3"/><circle cx="515.1" cy="531.1" r="3.3"/><circle cx="515.1" cy="541.4" r="3.3"/><circle cx="524" cy="531.1" r="3.3"/><circle cx="524" cy="541.4" r="3.3"/><circle cx="532.8" cy="531.1" r="3.3"/><circle cx="532.8" cy="541.4" r="3.3"/><circle cx="386.5" cy="538.8" r="3.3"/><circle cx="395.4" cy="538.8" r="3.3"/><circle cx="404.2" cy="538.8" r="3.3"/><circle cx="413.1" cy="538.8" r="3.3"/><circle cx="422" cy="538.8" r="3.3"/><circle cx="430.8" cy="538.8" r="3.3"/><circle cx="439.7" cy="538.8" r="3.3"/><circle cx="448.6" cy="538.8" r="3.3"/><circle cx="457.4" cy="538.8" r="3.3"/><circle cx="466.3" cy="538.8" r="3.3"/><circle cx="475.2" cy="538.8" r="3.3"/><circle cx="484.1" cy="538.8" r="3.3"/><circle cx="492.9" cy="538.8" r="3.3"/><circle cx="501.8" cy="538.8" r="3.3"/><circle cx="510.7" cy="538.8" r="3.3"/><circle cx="519.5" cy="538.8" r="3.3"/><circle cx="528.4" cy="538.8" r="3.3"/></g>
<path d="M479.2 468.4C479.2 469.5 479.2 470.7 479.1 471.8C479 473 478.9 474.2 478.5 475.3C478.1 476.4 477.4 477.4 476.7 478.3C475.9 479.1 474.8 479.7 474 480.5C473.2 481.3 472.7 482.3 471.9 483.1C471.2 483.9 470.2 484.4 469.3 485.1C468.4 485.9 467.6 487 466.6 487.6C465.6 488.3 464.4 488.8 463.2 488.9C462 489 460.8 488.5 459.6 488.3C458.4 488 457.3 487.7 456.3 487.3C455.2 486.9 454.4 486.1 453.2 485.9C452.1 485.8 450.5 486.5 449.3 486.2C448.1 486 446.9 485.3 446.1 484.5C445.3 483.6 445.1 482.1 444.5 481.1C443.9 480 443 479.3 442.6 478.2C442.3 477.1 442.7 475.7 442.5 474.6C442.2 473.5 441.6 472.7 441.2 471.6C440.8 470.6 440.1 469.5 439.8 468.4C439.6 467.3 439.8 466.1 439.9 464.9C440 463.8 439.9 462.4 440.3 461.4C440.7 460.3 441.6 459.3 442.4 458.5C443.3 457.7 444.5 457.2 445.3 456.4C446.1 455.6 446.6 454.7 447.4 453.9C448.2 453.1 449 452.2 449.9 451.5C450.8 450.8 451.8 450.2 452.8 449.7C453.8 449.1 454.9 448.4 456 448.2C457.2 448.1 458.5 448.5 459.6 448.9C460.7 449.2 461.7 450.1 462.8 450.4C463.9 450.6 465 450.2 466.2 450.4C467.3 450.5 468.4 450.9 469.5 451.2C470.7 451.5 472.1 451.7 473.1 452.3C474 453 474.7 454.2 475.3 455.2C475.9 456.3 476.2 457.5 476.5 458.6C476.9 459.7 477 460.9 477.4 461.9C477.9 463 478.9 463.9 479.1 465C479.4 466 479.2 467.3 479.2 468.4Z" fill="#b0ebee"/>
<path d="M478.6 469.8h0M479 471.2h0M478.9 471.9h0M478.8 474.1h0M478.7 476.9h0M477.1 476.8h0M475.3 479.5h0M474.5 480.2h0M474.1 480.8h0M472.7 483h0M471 483.9h0M469.6 485h0M468.2 484.9h0M468.8 486.1h0M464.5 487.6h0M464.9 488.6h0M462 489.1h0M460.4 488.1h0M458.2 487.8h0M457.4 488.4h0M456 486.9h0M453.9 486.4h0M452.7 485.7h0M451 486.2h0M450.8 486.8h0M448.4 485.5h0M447.1 484.2h0M445.3 483.7h0M444.6 482.8h0M443.1 480.7h0M442.9 478.2h0M442.9 477.7h0M442.5 475.7h0M442.4 475.1h0M441.5 472.5h0M441.9 471.7h0M440 469h0M439.7 467.6h0M439.8 466.1h0M439.2 465.3h0M440.2 462.2h0M440.8 461.1h0M442 458.5h0M444.2 457.2h0M444.6 456.7h0M445.8 456.2h0M446.4 454.7h0M448.4 454h0M449.8 452.1h0M450.5 451.5h0M451.8 450.2h0M453.3 449.6h0M455.5 448.1h0M456.7 448.4h0M457.7 447.1h0M460.6 448.5h0M461.9 449.7h0M463.3 450.4h0M465.2 450.3h0M467.4 451.3h0M468.2 450.4h0M470.3 451h0M472.4 451.7h0M474.4 453.1h0M475.1 454.3h0M475.3 454.7h0M476.3 458h0M476.4 459.6h0M477.7 462.8h0M478.1 462.3h0M478.9 464.7h0M479.4 466.3h0M479.6 466.3h0" stroke="#b0ebee" stroke-width="1.9" stroke-linecap="round" fill="none"/>
<path d="M462.2 467h0M469.4 473.2h0M459.2 465h0M462.2 469h0M457.1 463.2h0M461.6 478.7h0M467.2 473.8h0M463.1 469.5h0M455.3 458.6h0M453.4 469.9h0M460.2 465.8h0M458.8 479.7h0M462.7 467.7h0M473.1 468.4h0M449.8 471.5h0M455.6 461.7h0M458.7 459.7h0M470 469h0M469.3 461h0M455.2 460.1h0M463.8 462.3h0M452.6 474.5h0M464.1 462h0M464 473.3h0M457.7 469.5h0M451.7 459h0M454.2 478h0M452.4 472.7h0M472 466.7h0M450.4 467.9h0M450.3 469.9h0M461.5 471.1h0M453.2 462.9h0M457.3 469.1h0M464.1 466.9h0M467.6 466.9h0M458.5 479.9h0M471.3 465.7h0M465.4 467h0M467.4 460.5h0M458.4 476.7h0M469.4 474.7h0M458.7 465.5h0M462.3 474.6h0M455.6 469.1h0M458.4 476.2h0M467.5 476.4h0M453.3 470.6h0M457 466.3h0M463.7 466.1h0M449 464.7h0M467.5 475.6h0M474.4 466.2h0M455.4 475.7h0M470 465h0M468.5 460.9h0M468.3 469.8h0M467.3 463.5h0M454.6 470.9h0M466.6 476.5h0M450.6 475.8h0M473.5 471.5h0M470.5 474.1h0M450 471h0M456.6 469.5h0M470.3 465.2h0M463.3 477.9h0M463.1 475.8h0M452.3 462.6h0M464.6 471h0M452.1 470.5h0M467.2 460.9h0M464 461.3h0M463.5 473.9h0M468.7 469.4h0M452.6 459h0M462.1 479.1h0M461.2 458.3h0M470.3 466.1h0M451.9 471.4h0M461.7 468.2h0M453.9 468.5h0M465.5 473h0M455 461.2h0M451.4 475.2h0M473.1 472.2h0M457.7 461.5h0M456.6 457.3h0M454.9 459.7h0M457.5 457.4h0M465.6 464.6h0M467.6 469.1h0M457.2 472.3h0M448.3 471.5h0M463.9 475.1h0M463.1 464.7h0M455.6 475.1h0M462.5 456.6h0M460.5 480.9h0M457.1 469.8h0M465.3 474.6h0M462.1 465.7h0M463.5 479.9h0M463.4 463.6h0M471 471.7h0M461.6 466.1h0M457.2 467.7h0M457.9 466h0M466.9 474.3h0M462.4 467.7h0M464.9 470.9h0M463.4 462.9h0M459.9 475.7h0M465 463.4h0M452.6 469.6h0M453.2 468.2h0M462.8 463.3h0M457.3 468.1h0M466.5 462.7h0M472.1 468.1h0M464.9 480.6h0M458.4 477.1h0M461.3 465h0M464.3 475.4h0M456.9 473h0M460.1 475h0M469.6 467.3h0M455.2 469.7h0M463.3 473.7h0M470 460.7h0M464.7 474.7h0M452.6 463.8h0M461.8 470.6h0M462.2 464.4h0M451.4 475.1h0M458 461.6h0M465.3 455.4h0M449 469.6h0M454 467.3h0M472.9 467.5h0M466.7 474.4h0M454.5 474.1h0M461.2 461.7h0M456.2 464.8h0M448.7 472.6h0M460.4 461.7h0M459.3 477.2h0M448.1 470.1h0M457.6 479.2h0M462.2 480h0M464.3 464.7h0M450.3 472h0M457.8 470.1h0M462 460h0M461.9 470.2h0M455.1 467.5h0M462.8 464.1h0M474.5 469.5h0M449.7 474.3h0M449.7 463.1h0M463.7 467.2h0M460.1 472.6h0M471.1 465.5h0M472.1 462.9h0M464.4 456.3h0M469.8 464.9h0M467 456.1h0M455.8 469.1h0M459.8 466.3h0M458.5 474.4h0M461.5 466.8h0M458.3 473.4h0M454.5 458.1h0M449.3 469.6h0M452.6 472.4h0M459 472.2h0M468.3 462.5h0M459.9 476.9h0M459.4 469.3h0M457.2 457.8h0M457.5 465.5h0M456.2 470.7h0M464.1 473.6h0M470.1 461.6h0M464.6 455.9h0M464.9 471.2h0M461.5 468.3h0M455.8 462.1h0M449.8 463.5h0M459.7 473.3h0M461.7 466.9h0M466.9 465.4h0M466.6 469.3h0M471.3 473.6h0M463.2 469h0M456.8 464.7h0M455.5 477.1h0M450.4 473.3h0M460.2 471.8h0M472 472.9h0M463 470h0M465.9 475.2h0M457.8 460.8h0M454.2 462h0M460.7 459.3h0M464.2 474.2h0M469.7 467.9h0M459 464.3h0M456.2 459.2h0M467.8 478.4h0M455.1 472.6h0M455.5 457.5h0M466.3 460.1h0M469.4 471h0M451.7 459.8h0M463.7 476.4h0M453.9 459.9h0M473.4 471.7h0M469.6 475.3h0M467.6 461h0M454.5 466.6h0M450.8 476.3h0M456.3 461.3h0M452.7 477.8h0M472.1 463.7h0M467 465.3h0M466.7 458.9h0M469.9 463.1h0M467.2 457.9h0M451.3 463.2h0M467.6 471.4h0M462.2 465.1h0M456.4 476.1h0M458.3 469h0M466 477h0M452.1 465.6h0M471 461.9h0M457.8 479h0M451.5 466.9h0M466.9 472.3h0M472.8 464.5h0M455.7 471.2h0M469.4 466.1h0M462.6 467.7h0M455.5 464.7h0M470.3 468.4h0M468.6 465.8h0M463.6 478.9h0M468.9 460.7h0M461 479.6h0M462.5 460.2h0M461.1 466.5h0M463.2 475.6h0M470 464h0M455.2 458.3h0M460.6 466h0M469.4 461.7h0M463.3 477.9h0M459.4 468.7h0M463.4 461.5h0M452.2 459.5h0M468.7 464.8h0M460.2 468.5h0M468.8 474.6h0M464.8 476.4h0M466.8 477.7h0M464 479.5h0M449.9 472h0M452.9 477.7h0M453.7 468.1h0M455 471.6h0M458.8 464.3h0M468.2 478.2h0M464.1 479.8h0M469.2 472.7h0M466.4 472.2h0M456.3 475.9h0M467.6 468.4h0M461.8 457.6h0M463.5 458.9h0M461.2 460.7h0M456.6 477.8h0M457.6 470.6h0M464.7 467.2h0M461.6 463.3h0M467.5 460.6h0M469.8 465.1h0M466.1 460.8h0M466.8 463.7h0M469.7 464.2h0M462.7 467.3h0M452.7 477.1h0M460 477h0M460.2 468.6h0M469.9 470.4h0M451.8 476.6h0M459.1 471.7h0M466.3 472.9h0M473.9 467h0M452.7 466.4h0M452.3 460.3h0M473.4 472.5h0M466.9 462.6h0M456.5 475.2h0M454.7 468.1h0M468.3 475.1h0M468.6 462.2h0M459 475.4h0M466.1 480h0M461 475.3h0M454 459.4h0M457 469.4h0M450.3 474.7h0M459.6 475.3h0M459.9 475h0M456.9 474.8h0M467 457.6h0M463.7 473h0M455.4 476.2h0M460.1 458.3h0M462.2 473.6h0M471.1 467.4h0M461.4 463.4h0M456 463.8h0M453.1 468.9h0M465.7 462.8h0M460.6 462.3h0M450.8 460.6h0M461.9 476.2h0M473.1 466.5h0M468.1 462.1h0M458 471h0M463.4 465.6h0M472 463.6h0M471.5 464.9h0M456.9 462h0M466.1 459.7h0M457.3 467.9h0M468.2 474.6h0M467.6 475.6h0M457.2 469.8h0M450.4 464.1h0M467 467.8h0M453.9 473.6h0M455.6 468.6h0M459.6 470.6h0M448.9 462.6h0M468.3 475.1h0M454.7 467.2h0M454.8 478.5h0M468.1 473.6h0M449.1 465.5h0M461.5 469.8h0M466 464.1h0M457.6 470.3h0M461.9 473.7h0M459.4 464.8h0M463.9 475.4h0M459.1 469.5h0M473.8 468.1h0M463 457.8h0M452.2 474.6h0M467.2 458.9h0M469.3 461.1h0M459.7 457h0M463 461.6h0M458 468.1h0M451.4 473.3h0M463.1 477.8h0M458.4 472.5h0M454.9 475.3h0M452.9 470h0M462.6 458.4h0M457.7 466.4h0M468.9 469.1h0M468 474.5h0M468.1 459.6h0M449.2 472.3h0M459.2 460.4h0M457 465.2h0M474.5 469.8h0M469.7 466.4h0M450.5 462.8h0M469.4 474h0M462.7 462.8h0M450.3 463.9h0M468.1 465.9h0M467.2 476.5h0M453.9 462.3h0M459.7 469.2h0M467.1 465h0M464.5 469.2h0M459.4 467.2h0M462 457.7h0M471.9 468.5h0M458.9 473.5h0M462.7 466.1h0M448.9 474.8h0M469.2 472.9h0M460.7 473.6h0M455.6 476.6h0M450.8 473.6h0M471.3 462.7h0M455.6 467h0M458.7 465.8h0M457.6 473.1h0M469.8 465.7h0M455.9 472.1h0M452.6 466.7h0M466.7 461.6h0M463.3 467.9h0M454.3 463.1h0M458.3 475.5h0M469.1 468.1h0M469.1 465.2h0M458.7 469.9h0M471 474.1h0M465 472.4h0M459.1 470.1h0M462.6 473.5h0" stroke="#f20d0d" stroke-width="1.7" stroke-linecap="round" fill="none"/>
<g clip-path="url(#cl2)" fill="#000" fill-opacity="0.8"><circle cx="540.3" cy="395.5" r="3.3"/><circle cx="549.3" cy="395.5" r="3.3"/><circle cx="558.2" cy="395.5" r="3.3"/><circle cx="567.1" cy="395.5" r="3.3"/><circle cx="576.1" cy="395.5" r="3.3"/><circle cx="585" cy="395.5" r="3.3"/><circle cx="593.9" cy="395.5" r="3.3"/><circle cx="602.8" cy="395.5" r="3.3"/><circle cx="611.8" cy="395.5" r="3.3"/><circle cx="620.7" cy="395.5" r="3.3"/><circle cx="629.6" cy="395.5" r="3.3"/><circle cx="638.6" cy="395.5" r="3.3"/><circle cx="647.5" cy="395.5" r="3.3"/><circle cx="656.4" cy="395.5" r="3.3"/><circle cx="665.4" cy="395.5" r="3.3"/><circle cx="674.3" cy="395.5" r="3.3"/><circle cx="683.2" cy="395.5" r="3.3"/><circle cx="544.8" cy="403.2" r="3.3"/><circle cx="553.7" cy="403.2" r="3.3"/><circle cx="562.7" cy="403.2" r="3.3"/><circle cx="571.6" cy="403.2" r="3.3"/><circle cx="580.5" cy="403.2" r="3.3"/><circle cx="589.4" cy="403.2" r="3.3"/><circle cx="598.4" cy="403.2" r="3.3"/><circle cx="607.3" cy="403.2" r="3.3"/><circle cx="616.2" cy="403.2" r="3.3"/><circle cx="625.2" cy="403.2" r="3.3"/><circle cx="634.1" cy="403.2" r="3.3"/><circle cx="643" cy="403.2" r="3.3"/><circle cx="652" cy="403.2" r="3.3"/><circle cx="660.9" cy="403.2" r="3.3"/><circle cx="669.8" cy="403.2" r="3.3"/><circle cx="678.8" cy="403.2" r="3.3"/><circle cx="687.7" cy="403.2" r="3.3"/><circle cx="540.3" cy="400.7" r="3.3"/><circle cx="540.3" cy="410.9" r="3.3"/><circle cx="549.3" cy="400.7" r="3.3"/><circle cx="549.3" cy="410.9" r="3.3"/><circle cx="558.2" cy="400.7" r="3.3"/><circle cx="558.2" cy="410.9" r="3.3"/><circle cx="567.1" cy="400.7" r="3.3"/><circle cx="567.1" cy="410.9" r="3.3"/><circle cx="576.1" cy="400.7" r="3.3"/><circle cx="576.1" cy="410.9" r="3.3"/><circle cx="585" cy="400.7" r="3.3"/><circle cx="585" cy="410.9" r="3.3"/><circle cx="593.9" cy="400.7" r="3.3"/><circle cx="593.9" cy="410.9" r="3.3"/><circle cx="602.8" cy="400.7" r="3.3"/><circle cx="602.8" cy="410.9" r="3.3"/><circle cx="611.8" cy="400.7" r="3.3"/><circle cx="611.8" cy="410.9" r="3.3"/><circle cx="620.7" cy="400.7" r="3.3"/><circle cx="620.7" cy="410.9" r="3.3"/><circle cx="629.6" cy="400.7" r="3.3"/><circle cx="629.6" cy="410.9" r="3.3"/><circle cx="638.6" cy="400.7" r="3.3"/><circle cx="638.6" cy="410.9" r="3.3"/><circle cx="647.5" cy="400.7" r="3.3"/><circle cx="647.5" cy="410.9" r="3.3"/><circle cx="656.4" cy="400.7" r="3.3"/><circle cx="656.4" cy="410.9" r="3.3"/><circle cx="665.4" cy="400.7" r="3.3"/><circle cx="665.4" cy="410.9" r="3.3"/><circle cx="674.3" cy="400.7" r="3.3"/><circle cx="674.3" cy="410.9" r="3.3"/><circle cx="683.2" cy="400.7" r="3.3"/><circle cx="683.2" cy="410.9" r="3.3"/><circle cx="544.8" cy="408.3" r="3.3"/><circle cx="544.8" cy="418.6" r="3.3"/><circle cx="553.7" cy="408.3" r="3.3"/><circle cx="553.7" cy="418.6" r="3.3"/><circle cx="562.7" cy="408.3" r="3.3"/><circle cx="562.7" cy="418.6" r="3.3"/><circle cx="571.6" cy="408.3" r="3.3"/><circle cx="571.6" cy="418.6" r="3.3"/><circle cx="580.5" cy="408.3" r="3.3"/><circle cx="580.5" cy="418.6" r="3.3"/><circle cx="589.4" cy="408.3" r="3.3"/><circle cx="589.4" cy="418.6" r="3.3"/><circle cx="598.4" cy="408.3" r="3.3"/><circle cx="598.4" cy="418.6" r="3.3"/><circle cx="607.3" cy="408.3" r="3.3"/><circle cx="607.3" cy="418.6" r="3.3"/><circle cx="616.2" cy="408.3" r="3.3"/><circle cx="616.2" cy="418.6" r="3.3"/><circle cx="625.2" cy="408.3" r="3.3"/><circle cx="625.2" cy="418.6" r="3.3"/><circle cx="634.1" cy="408.3" r="3.3"/><circle cx="634.1" cy="418.6" r="3.3"/><circle cx="643" cy="408.3" r="3.3"/><circle cx="643" cy="418.6" r="3.3"/><circle cx="652" cy="408.3" r="3.3"/><circle cx="652" cy="418.6" r="3.3"/><circle cx="660.9" cy="408.3" r="3.3"/><circle cx="660.9" cy="418.6" r="3.3"/><circle cx="669.8" cy="408.3" r="3.3"/><circle cx="669.8" cy="418.6" r="3.3"/><circle cx="678.8" cy="408.3" r="3.3"/><circle cx="678.8" cy="418.6" r="3.3"/><circle cx="687.7" cy="408.3" r="3.3"/><circle cx="687.7" cy="418.6" r="3.3"/><circle cx="540.3" cy="416" r="3.3"/><circle cx="540.3" cy="426.3" r="3.3"/><circle cx="549.3" cy="416" r="3.3"/><circle cx="549.3" cy="426.3" r="3.3"/><circle cx="558.2" cy="416" r="3.3"/><circle cx="558.2" cy="426.3" r="3.3"/><circle cx="567.1" cy="416" r="3.3"/><circle cx="567.1" cy="426.3" r="3.3"/><circle cx="576.1" cy="416" r="3.3"/><circle cx="576.1" cy="426.3" r="3.3"/><circle cx="585" cy="416" r="3.3"/><circle cx="585" cy="426.3" r="3.3"/><circle cx="593.9" cy="416" r="3.3"/><circle cx="593.9" cy="426.3" r="3.3"/><circle cx="602.8" cy="416" r="3.3"/><circle cx="602.8" cy="426.3" r="3.3"/><circle cx="611.8" cy="416" r="3.3"/><circle cx="611.8" cy="426.3" r="3.3"/><circle cx="620.7" cy="416" r="3.3"/><circle cx="620.7" cy="426.3" r="3.3"/><circle cx="629.6" cy="416" r="3.3"/><circle cx="629.6" cy="426.3" r="3.3"/><circle cx="638.6" cy="416" r="3.3"/><circle cx="638.6" cy="426.3" r="3.3"/><circle cx="647.5" cy="416" r="3.3"/><circle cx="647.5" cy="426.3" r="3.3"/><circle cx="656.4" cy="416" r="3.3"/><circle cx="656.4" cy="426.3" r="3.3"/><circle cx="665.4" cy="416" r="3.3"/><circle cx="665.4" cy="426.3" r="3.3"/><circle cx="674.3" cy="416" r="3.3"/><circle cx="674.3" cy="426.3" r="3.3"/><circle cx="683.2" cy="416" r="3.3"/><circle cx="683.2" cy="426.3" r="3.3"/><circle cx="544.8" cy="423.7" r="3.3"/><circle cx="544.8" cy="434" r="3.3"/><circle cx="553.7" cy="423.7" r="3.3"/><circle cx="553.7" cy="434" r="3.3"/><circle cx="562.7" cy="423.7" r="3.3"/><circle cx="562.7" cy="434" r="3.3"/><circle cx="571.6" cy="423.7" r="3.3"/><circle cx="571.6" cy="434" r="3.3"/><circle cx="580.5" cy="423.7" r="3.3"/><circle cx="580.5" cy="434" r="3.3"/><circle cx="589.4" cy="423.7" r="3.3"/><circle cx="589.4" cy="434" r="3.3"/><circle cx="598.4" cy="423.7" r="3.3"/><circle cx="598.4" cy="434" r="3.3"/><circle cx="607.3" cy="423.7" r="3.3"/><circle cx="607.3" cy="434" r="3.3"/><circle cx="616.2" cy="423.7" r="3.3"/><circle cx="616.2" cy="434" r="3.3"/><circle cx="625.2" cy="423.7" r="3.3"/><circle cx="625.2" cy="434" r="3.3"/><circle cx="634.1" cy="423.7" r="3.3"/><circle cx="634.1" cy="434" r="3.3"/><circle cx="643" cy="423.7" r="3.3"/><circle cx="643" cy="434" r="3.3"/><circle cx="652" cy="423.7" r="3.3"/><circle cx="652" cy="434" r="3.3"/><circle cx="660.9" cy="423.7" r="3.3"/><circle cx="660.9" cy="434" r="3.3"/><circle cx="669.8" cy="423.7" r="3.3"/><circle cx="669.8" cy="434" r="3.3"/><circle cx="678.8" cy="423.7" r="3.3"/><circle cx="678.8" cy="434" r="3.3"/><circle cx="687.7" cy="423.7" r="3.3"/><circle cx="687.7" cy="434" r="3.3"/><circle cx="540.3" cy="431.4" r="3.3"/><circle cx="540.3" cy="441.6" r="3.3"/><circle cx="549.3" cy="431.4" r="3.3"/><circle cx="549.3" cy="441.6" r="3.3"/><circle cx="558.2" cy="431.4" r="3.3"/><circle cx="558.2" cy="441.6" r="3.3"/><circle cx="567.1" cy="431.4" r="3.3"/><circle cx="567.1" cy="441.6" r="3.3"/><circle cx="576.1" cy="431.4" r="3.3"/><circle cx="576.1" cy="441.6" r="3.3"/><circle cx="585" cy="431.4" r="3.3"/><circle cx="585" cy="441.6" r="3.3"/><circle cx="593.9" cy="431.4" r="3.3"/><circle cx="593.9" cy="441.6" r="3.3"/><circle cx="602.8" cy="431.4" r="3.3"/><circle cx="602.8" cy="441.6" r="3.3"/><circle cx="611.8" cy="431.4" r="3.3"/><circle cx="611.8" cy="441.6" r="3.3"/><circle cx="620.7" cy="431.4" r="3.3"/><circle cx="620.7" cy="441.6" r="3.3"/><circle cx="629.6" cy="431.4" r="3.3"/><circle cx="629.6" cy="441.6" r="3.3"/><circle cx="638.6" cy="431.4" r="3.3"/><circle cx="638.6" cy="441.6" r="3.3"/><circle cx="647.5" cy="431.4" r="3.3"/><circle cx="647.5" cy="441.6" r="3.3"/><circle cx="656.4" cy="431.4" r="3.3"/><circle cx="656.4" cy="441.6" r="3.3"/><circle cx="665.4" cy="431.4" r="3.3"/><circle cx="665.4" cy="441.6" r="3.3"/><circle cx="674.3" cy="431.4" r="3.3"/><circle cx="674.3" cy="441.6" r="3.3"/><circle cx="683.2" cy="431.4" r="3.3"/><circle cx="683.2" cy="441.6" r="3.3"/><circle cx="544.8" cy="439.1" r="3.3"/><circle cx="544.8" cy="449.3" r="3.3"/><circle cx="553.7" cy="439.1" r="3.3"/><circle cx="553.7" cy="449.3" r="3.3"/><circle cx="562.7" cy="439.1" r="3.3"/><circle cx="562.7" cy="449.3" r="3.3"/><circle cx="571.6" cy="439.1" r="3.3"/><circle cx="571.6" cy="449.3" r="3.3"/><circle cx="580.5" cy="439.1" r="3.3"/><circle cx="580.5" cy="449.3" r="3.3"/><circle cx="589.4" cy="439.1" r="3.3"/><circle cx="589.4" cy="449.3" r="3.3"/><circle cx="598.4" cy="439.1" r="3.3"/><circle cx="598.4" cy="449.3" r="3.3"/><circle cx="607.3" cy="439.1" r="3.3"/><circle cx="607.3" cy="449.3" r="3.3"/><circle cx="616.2" cy="439.1" r="3.3"/><circle cx="616.2" cy="449.3" r="3.3"/><circle cx="625.2" cy="439.1" r="3.3"/><circle cx="625.2" cy="449.3" r="3.3"/><circle cx="634.1" cy="439.1" r="3.3"/><circle cx="634.1" cy="449.3" r="3.3"/><circle cx="643" cy="439.1" r="3.3"/><circle cx="643" cy="449.3" r="3.3"/><circle cx="652" cy="439.1" r="3.3"/><circle cx="652" cy="449.3" r="3.3"/><circle cx="660.9" cy="439.1" r="3.3"/><circle cx="660.9" cy="449.3" r="3.3"/><circle cx="669.8" cy="439.1" r="3.3"/><circle cx="669.8" cy="449.3" r="3.3"/><circle cx="678.8" cy="439.1" r="3.3"/><circle cx="678.8" cy="449.3" r="3.3"/><circle cx="687.7" cy="439.1" r="3.3"/><circle cx="687.7" cy="449.3" r="3.3"/><circle cx="540.3" cy="446.8" r="3.3"/><circle cx="540.3" cy="457" r="3.3"/><circle cx="549.3" cy="446.8" r="3.3"/><circle cx="549.3" cy="457" r="3.3"/><circle cx="558.2" cy="446.8" r="3.3"/><circle cx="558.2" cy="457" r="3.3"/><circle cx="567.1" cy="446.8" r="3.3"/><circle cx="567.1" cy="457" r="3.3"/><circle cx="576.1" cy="446.8" r="3.3"/><circle cx="576.1" cy="457" r="3.3"/><circle cx="585" cy="446.8" r="3.3"/><circle cx="585" cy="457" r="3.3"/><circle cx="593.9" cy="446.8" r="3.3"/><circle cx="593.9" cy="457" r="3.3"/><circle cx="602.8" cy="446.8" r="3.3"/><circle cx="602.8" cy="457" r="3.3"/><circle cx="611.8" cy="446.8" r="3.3"/><circle cx="611.8" cy="457" r="3.3"/><circle cx="620.7" cy="446.8" r="3.3"/><circle cx="620.7" cy="457" r="3.3"/><circle cx="629.6" cy="446.8" r="3.3"/><circle cx="629.6" cy="457" r="3.3"/><circle cx="638.6" cy="446.8" r="3.3"/><circle cx="638.6" cy="457" r="3.3"/><circle cx="647.5" cy="446.8" r="3.3"/><circle cx="647.5" cy="457" r="3.3"/><circle cx="656.4" cy="446.8" r="3.3"/><circle cx="656.4" cy="457" r="3.3"/><circle cx="665.4" cy="446.8" r="3.3"/><circle cx="665.4" cy="457" r="3.3"/><circle cx="674.3" cy="446.8" r="3.3"/><circle cx="674.3" cy="457" r="3.3"/><circle cx="683.2" cy="446.8" r="3.3"/><circle cx="683.2" cy="457" r="3.3"/><circle cx="544.8" cy="454.4" r="3.3"/><circle cx="544.8" cy="464.7" r="3.3"/><circle cx="553.7" cy="454.4" r="3.3"/><circle cx="553.7" cy="464.7" r="3.3"/><circle cx="562.7" cy="454.4" r="3.3"/><circle cx="562.7" cy="464.7" r="3.3"/><circle cx="571.6" cy="454.4" r="3.3"/><circle cx="571.6" cy="464.7" r="3.3"/><circle cx="580.5" cy="454.4" r="3.3"/><circle cx="580.5" cy="464.7" r="3.3"/><circle cx="589.4" cy="454.4" r="3.3"/><circle cx="598.4" cy="454.4" r="3.3"/><circle cx="607.3" cy="454.4" r="3.3"/><circle cx="616.2" cy="454.4" r="3.3"/><circle cx="625.2" cy="454.4" r="3.3"/><circle cx="625.2" cy="464.7" r="3.3"/><circle cx="634.1" cy="454.4" r="3.3"/><circle cx="634.1" cy="464.7" r="3.3"/><circle cx="643" cy="454.4" r="3.3"/><circle cx="643" cy="464.7" r="3.3"/><circle cx="652" cy="454.4" r="3.3"/><circle cx="652" cy="464.7" r="3.3"/><circle cx="660.9" cy="454.4" r="3.3"/><circle cx="660.9" cy="464.7" r="3.3"/><circle cx="669.8" cy="454.4" r="3.3"/><circle cx="669.8" cy="464.7" r="3.3"/><circle cx="678.8" cy="454.4" r="3.3"/><circle cx="678.8" cy="464.7" r="3.3"/><circle cx="687.7" cy="454.4" r="3.3"/><circle cx="687.7" cy="464.7" r="3.3"/><circle cx="540.3" cy="462.1" r="3.3"/><circle cx="540.3" cy="472.4" r="3.3"/><circle cx="549.3" cy="462.1" r="3.3"/><circle cx="549.3" cy="472.4" r="3.3"/><circle cx="558.2" cy="462.1" r="3.3"/><circle cx="558.2" cy="472.4" r="3.3"/><circle cx="567.1" cy="462.1" r="3.3"/><circle cx="567.1" cy="472.4" r="3.3"/><circle cx="576.1" cy="462.1" r="3.3"/><circle cx="576.1" cy="472.4" r="3.3"/><circle cx="585" cy="462.1" r="3.3"/><circle cx="593.9" cy="462.1" r="3.3"/><circle cx="602.8" cy="462.1" r="3.3"/><circle cx="611.8" cy="462.1" r="3.3"/><circle cx="620.7" cy="462.1" r="3.3"/><circle cx="629.6" cy="462.1" r="3.3"/><circle cx="629.6" cy="472.4" r="3.3"/><circle cx="638.6" cy="462.1" r="3.3"/><circle cx="638.6" cy="472.4" r="3.3"/><circle cx="647.5" cy="462.1" r="3.3"/><circle cx="647.5" cy="472.4" r="3.3"/><circle cx="656.4" cy="462.1" r="3.3"/><circle cx="656.4" cy="472.4" r="3.3"/><circle cx="665.4" cy="462.1" r="3.3"/><circle cx="665.4" cy="472.4" r="3.3"/><circle cx="674.3" cy="462.1" r="3.3"/><circle cx="674.3" cy="472.4" r="3.3"/><circle cx="683.2" cy="462.1" r="3.3"/><circle cx="683.2" cy="472.4" r="3.3"/><circle cx="544.8" cy="469.8" r="3.3"/><circle cx="544.8" cy="480.1" r="3.3"/><circle cx="553.7" cy="469.8" r="3.3"/><circle cx="553.7" cy="480.1" r="3.3"/><circle cx="562.7" cy="469.8" r="3.3"/><circle cx="562.7" cy="480.1" r="3.3"/><circle cx="571.6" cy="469.8" r="3.3"/><circle cx="571.6" cy="480.1" r="3.3"/><circle cx="634.1" cy="469.8" r="3.3"/><circle cx="643" cy="469.8" r="3.3"/><circle cx="652" cy="469.8" r="3.3"/><circle cx="660.9" cy="469.8" r="3.3"/><circle cx="660.9" cy="480.1" r="3.3"/><circle cx="669.8" cy="469.8" r="3.3"/><circle cx="669.8" cy="480.1" r="3.3"/><circle cx="678.8" cy="469.8" r="3.3"/><circle cx="678.8" cy="480.1" r="3.3"/><circle cx="687.7" cy="469.8" r="3.3"/><circle cx="687.7" cy="480.1" r="3.3"/><circle cx="540.3" cy="477.5" r="3.3"/><circle cx="540.3" cy="487.7" r="3.3"/><circle cx="549.3" cy="477.5" r="3.3"/><circle cx="549.3" cy="487.7" r="3.3"/><circle cx="558.2" cy="477.5" r="3.3"/><circle cx="558.2" cy="487.7" r="3.3"/><circle cx="567.1" cy="477.5" r="3.3"/><circle cx="567.1" cy="487.7" r="3.3"/><circle cx="576.1" cy="477.5" r="3.3"/><circle cx="593.9" cy="487.7" r="3.3"/><circle cx="638.6" cy="477.5" r="3.3"/><circle cx="647.5" cy="477.5" r="3.3"/><circle cx="656.4" cy="477.5" r="3.3"/><circle cx="665.4" cy="477.5" r="3.3"/><circle cx="665.4" cy="487.7" r="3.3"/><circle cx="674.3" cy="477.5" r="3.3"/><circle cx="674.3" cy="487.7" r="3.3"/><circle cx="683.2" cy="477.5" r="3.3"/><circle cx="683.2" cy="487.7" r="3.3"/><circle cx="544.8" cy="485.2" r="3.3"/><circle cx="544.8" cy="495.4" r="3.3"/><circle cx="553.7" cy="485.2" r="3.3"/><circle cx="553.7" cy="495.4" r="3.3"/><circle cx="562.7" cy="485.2" r="3.3"/><circle cx="562.7" cy="495.4" r="3.3"/><circle cx="571.6" cy="495.4" r="3.3"/><circle cx="580.5" cy="495.4" r="3.3"/><circle cx="589.4" cy="495.4" r="3.3"/><circle cx="598.4" cy="495.4" r="3.3"/><circle cx="607.3" cy="495.4" r="3.3"/><circle cx="660.9" cy="485.2" r="3.3"/><circle cx="660.9" cy="495.4" r="3.3"/><circle cx="669.8" cy="485.2" r="3.3"/><circle cx="669.8" cy="495.4" r="3.3"/><circle cx="678.8" cy="485.2" r="3.3"/><circle cx="678.8" cy="495.4" r="3.3"/><circle cx="687.7" cy="485.2" r="3.3"/><circle cx="687.7" cy="495.4" r="3.3"/><circle cx="540.3" cy="492.9" r="3.3"/><circle cx="540.3" cy="503.1" r="3.3"/><circle cx="549.3" cy="492.9" r="3.3"/><circle cx="549.3" cy="503.1" r="3.3"/><circle cx="558.2" cy="492.9" r="3.3"/><circle cx="558.2" cy="503.1" r="3.3"/><circle cx="567.1" cy="492.9" r="3.3"/><circle cx="567.1" cy="503.1" r="3.3"/><circle cx="576.1" cy="492.9" r="3.3"/><circle cx="576.1" cy="503.1" r="3.3"/><circle cx="585" cy="492.9" r="3.3"/><circle cx="585" cy="503.1" r="3.3"/><circle cx="593.9" cy="492.9" r="3.3"/><circle cx="593.9" cy="503.1" r="3.3"/><circle cx="602.8" cy="492.9" r="3.3"/><circle cx="602.8" cy="503.1" r="3.3"/><circle cx="611.8" cy="503.1" r="3.3"/><circle cx="665.4" cy="492.9" r="3.3"/><circle cx="665.4" cy="503.1" r="3.3"/><circle cx="674.3" cy="492.9" r="3.3"/><circle cx="674.3" cy="503.1" r="3.3"/><circle cx="683.2" cy="492.9" r="3.3"/><circle cx="683.2" cy="503.1" r="3.3"/><circle cx="544.8" cy="500.6" r="3.3"/><circle cx="544.8" cy="510.8" r="3.3"/><circle cx="553.7" cy="500.6" r="3.3"/><circle cx="553.7" cy="510.8" r="3.3"/><circle cx="562.7" cy="500.6" r="3.3"/><circle cx="562.7" cy="510.8" r="3.3"/><circle cx="571.6" cy="500.6" r="3.3"/><circle cx="571.6" cy="510.8" r="3.3"/><circle cx="580.5" cy="500.6" r="3.3"/><circle cx="580.5" cy="510.8" r="3.3"/><circle cx="589.4" cy="500.6" r="3.3"/><circle cx="589.4" cy="510.8" r="3.3"/><circle cx="598.4" cy="500.6" r="3.3"/><circle cx="598.4" cy="510.8" r="3.3"/><circle cx="607.3" cy="500.6" r="3.3"/><circle cx="607.3" cy="510.8" r="3.3"/><circle cx="616.2" cy="510.8" r="3.3"/><circle cx="625.2" cy="510.8" r="3.3"/><circle cx="634.1" cy="510.8" r="3.3"/><circle cx="652" cy="510.8" r="3.3"/><circle cx="660.9" cy="500.6" r="3.3"/><circle cx="660.9" cy="510.8" r="3.3"/><circle cx="669.8" cy="500.6" r="3.3"/><circle cx="669.8" cy="510.8" r="3.3"/><circle cx="678.8" cy="500.6" r="3.3"/><circle cx="678.8" cy="510.8" r="3.3"/><circle cx="687.7" cy="500.6" r="3.3"/><circle cx="687.7" cy="510.8" r="3.3"/><circle cx="540.3" cy="508.2" r="3.3"/><circle cx="540.3" cy="518.5" r="3.3"/><circle cx="549.3" cy="508.2" r="3.3"/><circle cx="549.3" cy="518.5" r="3.3"/><circle cx="558.2" cy="508.2" r="3.3"/><circle cx="558.2" cy="518.5" r="3.3"/><circle cx="567.1" cy="508.2" r="3.3"/><circle cx="567.1" cy="518.5" r="3.3"/><circle cx="576.1" cy="508.2" r="3.3"/><circle cx="576.1" cy="518.5" r="3.3"/><circle cx="585" cy="508.2" r="3.3"/><circle cx="585" cy="518.5" r="3.3"/><circle cx="593.9" cy="508.2" r="3.3"/><circle cx="593.9" cy="518.5" r="3.3"/><circle cx="602.8" cy="508.2" r="3.3"/><circle cx="602.8" cy="518.5" r="3.3"/><circle cx="611.8" cy="508.2" r="3.3"/><circle cx="611.8" cy="518.5" r="3.3"/><circle cx="620.7" cy="508.2" r="3.3"/><circle cx="620.7" cy="518.5" r="3.3"/><circle cx="629.6" cy="508.2" r="3.3"/><circle cx="629.6" cy="518.5" r="3.3"/><circle cx="638.6" cy="518.5" r="3.3"/><circle cx="647.5" cy="518.5" r="3.3"/><circle cx="656.4" cy="508.2" r="3.3"/><circle cx="656.4" cy="518.5" r="3.3"/><circle cx="665.4" cy="508.2" r="3.3"/><circle cx="665.4" cy="518.5" r="3.3"/><circle cx="674.3" cy="508.2" r="3.3"/><circle cx="674.3" cy="518.5" r="3.3"/><circle cx="683.2" cy="508.2" r="3.3"/><circle cx="683.2" cy="518.5" r="3.3"/><circle cx="544.8" cy="515.9" r="3.3"/><circle cx="544.8" cy="526.2" r="3.3"/><circle cx="553.7" cy="515.9" r="3.3"/><circle cx="553.7" cy="526.2" r="3.3"/><circle cx="562.7" cy="515.9" r="3.3"/><circle cx="562.7" cy="526.2" r="3.3"/><circle cx="571.6" cy="515.9" r="3.3"/><circle cx="571.6" cy="526.2" r="3.3"/><circle cx="580.5" cy="515.9" r="3.3"/><circle cx="580.5" cy="526.2" r="3.3"/><circle cx="589.4" cy="515.9" r="3.3"/><circle cx="589.4" cy="526.2" r="3.3"/><circle cx="598.4" cy="515.9" r="3.3"/><circle cx="598.4" cy="526.2" r="3.3"/><circle cx="607.3" cy="515.9" r="3.3"/><circle cx="607.3" cy="526.2" r="3.3"/><circle cx="616.2" cy="515.9" r="3.3"/><circle cx="616.2" cy="526.2" r="3.3"/><circle cx="625.2" cy="515.9" r="3.3"/><circle cx="625.2" cy="526.2" r="3.3"/><circle cx="634.1" cy="515.9" r="3.3"/><circle cx="634.1" cy="526.2" r="3.3"/><circle cx="643" cy="515.9" r="3.3"/><circle cx="643" cy="526.2" r="3.3"/><circle cx="652" cy="515.9" r="3.3"/><circle cx="652" cy="526.2" r="3.3"/><circle cx="660.9" cy="515.9" r="3.3"/><circle cx="660.9" cy="526.2" r="3.3"/><circle cx="669.8" cy="515.9" r="3.3"/><circle cx="669.8" cy="526.2" r="3.3"/><circle cx="678.8" cy="515.9" r="3.3"/><circle cx="678.8" cy="526.2" r="3.3"/><circle cx="687.7" cy="515.9" r="3.3"/><circle cx="687.7" cy="526.2" r="3.3"/><circle cx="540.3" cy="523.6" r="3.3"/><circle cx="540.3" cy="533.9" r="3.3"/><circle cx="549.3" cy="523.6" r="3.3"/><circle cx="549.3" cy="533.9" r="3.3"/><circle cx="558.2" cy="523.6" r="3.3"/><circle cx="558.2" cy="533.9" r="3.3"/><circle cx="567.1" cy="523.6" r="3.3"/><circle cx="567.1" cy="533.9" r="3.3"/><circle cx="576.1" cy="523.6" r="3.3"/><circle cx="576.1" cy="533.9" r="3.3"/><circle cx="585" cy="523.6" r="3.3"/><circle cx="585" cy="533.9" r="3.3"/><circle cx="593.9" cy="523.6" r="3.3"/><circle cx="593.9" cy="533.9" r="3.3"/><circle cx="602.8" cy="523.6" r="3.3"/><circle cx="602.8" cy="533.9" r="3.3"/><circle cx="611.8" cy="523.6" r="3.3"/><circle cx="611.8" cy="533.9" r="3.3"/><circle cx="620.7" cy="523.6" r="3.3"/><circle cx="620.7" cy="533.9" r="3.3"/><circle cx="629.6" cy="523.6" r="3.3"/><circle cx="629.6" cy="533.9" r="3.3"/><circle cx="638.6" cy="523.6" r="3.3"/><circle cx="638.6" cy="533.9" r="3.3"/><circle cx="647.5" cy="523.6" r="3.3"/><circle cx="647.5" cy="533.9" r="3.3"/><circle cx="656.4" cy="523.6" r="3.3"/><circle cx="656.4" cy="533.9" r="3.3"/><circle cx="665.4" cy="523.6" r="3.3"/><circle cx="665.4" cy="533.9" r="3.3"/><circle cx="674.3" cy="523.6" r="3.3"/><circle cx="674.3" cy="533.9" r="3.3"/><circle cx="683.2" cy="523.6" r="3.3"/><circle cx="683.2" cy="533.9" r="3.3"/><circle cx="544.8" cy="531.3" r="3.3"/><circle cx="544.8" cy="541.5" r="3.3"/><circle cx="553.7" cy="531.3" r="3.3"/><circle cx="553.7" cy="541.5" r="3.3"/><circle cx="562.7" cy="531.3" r="3.3"/><circle cx="562.7" cy="541.5" r="3.3"/><circle cx="571.6" cy="531.3" r="3.3"/><circle cx="571.6" cy="541.5" r="3.3"/><circle cx="580.5" cy="531.3" r="3.3"/><circle cx="580.5" cy="541.5" r="3.3"/><circle cx="589.4" cy="531.3" r="3.3"/><circle cx="589.4" cy="541.5" r="3.3"/><circle cx="598.4" cy="531.3" r="3.3"/><circle cx="598.4" cy="541.5" r="3.3"/><circle cx="607.3" cy="531.3" r="3.3"/><circle cx="607.3" cy="541.5" r="3.3"/><circle cx="616.2" cy="531.3" r="3.3"/><circle cx="616.2" cy="541.5" r="3.3"/><circle cx="625.2" cy="531.3" r="3.3"/><circle cx="625.2" cy="541.5" r="3.3"/><circle cx="634.1" cy="531.3" r="3.3"/><circle cx="634.1" cy="541.5" r="3.3"/><circle cx="643" cy="531.3" r="3.3"/><circle cx="643" cy="541.5" r="3.3"/><circle cx="652" cy="531.3" r="3.3"/><circle cx="652" cy="541.5" r="3.3"/><circle cx="660.9" cy="531.3" r="3.3"/><circle cx="660.9" cy="541.5" r="3.3"/><circle cx="669.8" cy="531.3" r="3.3"/><circle cx="669.8" cy="541.5" r="3.3"/><circle cx="678.8" cy="531.3" r="3.3"/><circle cx="678.8" cy="541.5" r="3.3"/><circle cx="687.7" cy="531.3" r="3.3"/><circle cx="687.7" cy="541.5" r="3.3"/><circle cx="540.3" cy="539" r="3.3"/><circle cx="549.3" cy="539" r="3.3"/><circle cx="558.2" cy="539" r="3.3"/><circle cx="567.1" cy="539" r="3.3"/><circle cx="576.1" cy="539" r="3.3"/><circle cx="585" cy="539" r="3.3"/><circle cx="593.9" cy="539" r="3.3"/><circle cx="602.8" cy="539" r="3.3"/><circle cx="611.8" cy="539" r="3.3"/><circle cx="620.7" cy="539" r="3.3"/><circle cx="629.6" cy="539" r="3.3"/><circle cx="638.6" cy="539" r="3.3"/><circle cx="647.5" cy="539" r="3.3"/><circle cx="656.4" cy="539" r="3.3"/><circle cx="665.4" cy="539" r="3.3"/><circle cx="674.3" cy="539" r="3.3"/><circle cx="683.2" cy="539" r="3.3"/></g>
<path d="M571.6 485.9C571.6 485.5 573.2 484.8 573.9 484.2C574.6 483.7 575.2 483 576 482.4C576.9 481.8 578.1 481.3 579 480.6C579.9 479.9 580.8 479.1 581.3 478C581.8 477 581.7 475.7 582 474.5C582.3 473.3 582.6 471.9 583 471C583.5 470.2 584.2 469.9 584.8 469.3C585.4 468.7 585.5 468 586.5 467.5C587.6 467 589.7 466.7 591.3 466.4C592.9 466.1 594.6 465.7 596.2 465.8C597.8 465.9 599.3 466.8 600.9 467.1C602.5 467.3 604.2 467.5 605.8 467.5C607.4 467.6 609.1 467.6 610.7 467.4C612.3 467.3 614.1 466.5 615.4 466.6C616.8 466.7 617.8 467.6 618.9 468C620.1 468.5 621.7 468.6 622.4 469.3C623.2 469.9 623.2 471.1 623.6 472C624.1 472.8 624.6 473.7 625.1 474.5C625.6 475.3 626.1 476.1 626.6 476.9C627.2 477.6 627.8 478.3 628.6 478.9C629.4 479.5 630.4 480.2 631.4 480.7C632.5 481.1 633.2 481.4 634.7 481.5C636.2 481.7 638.5 481.5 640.4 481.5C642.3 481.5 644.7 481.3 646.1 481.5C647.5 481.8 648.1 482.6 649.1 483C650.1 483.5 651.4 483.5 652.2 484.2C653 484.8 653.3 486 653.8 486.9C654.4 487.8 655.3 488.5 655.7 489.4C656.2 490.3 656.4 491.4 656.6 492.4C656.7 493.4 656.9 494.6 656.6 495.6C656.4 496.5 655.4 497.1 655.1 498C654.8 498.9 655.4 500.1 654.9 500.8C654.3 501.5 652.9 501.6 652 502.2C651.1 502.8 650.4 503.6 649.6 504.3C648.8 505 648.1 505.8 647.3 506.2C646.4 506.6 645.4 506.8 644.3 506.9C643.3 507.1 642 507 640.8 507.2C639.6 507.3 638.5 508.1 637.3 507.8C636.2 507.5 635.3 506.1 634.1 505.5C632.9 504.9 631.5 504.9 630.3 504.3C629.1 503.8 628.2 502.8 627 502.2C625.8 501.6 624.5 501.4 623.3 500.8C622.2 500.2 621.3 499.1 620.1 498.5C618.9 497.9 617.6 497.9 616.3 497.3C615 496.7 613.6 496.1 612.4 495.2C611.2 494.3 610.2 493 609.3 492C608.4 491.1 607.7 490.4 606.9 489.6C606 488.9 604.8 488.4 604.1 487.7C603.3 486.9 602.9 485.9 602.2 485.1C601.5 484.4 600.4 483.8 599.7 483.3C598.9 482.7 598.4 482.2 597.7 481.9C597 481.6 596.1 481.2 595.3 481.5C594.5 481.9 593.8 483.3 593 484.1C592.1 484.8 591.1 485.5 590 485.9C589 486.3 587.7 486.3 586.5 486.4C585.4 486.6 584.2 486.6 583 486.8C581.9 487 580.8 487.6 579.6 487.8C578.4 487.9 577 487.9 576 487.7C575.1 487.5 574.6 486.9 573.9 486.6C573.2 486.4 571.6 486.3 571.6 485.9Z" fill="#b0ebee"/>
<path d="M573.1 485.7h0M573.5 483.9h0M574 484.2h0M574.9 483.5h0M577.2 482h0M578.8 480.9h0M580.2 480.4h0M581.2 478.7h0M581.2 477.1h0M581.8 475.4h0M582.6 473.8h0M583.9 471.6h0M583.1 470.8h0M585.7 469h0M588.2 466.8h0M589.2 467.3h0M591.2 466.7h0M593.5 465.9h0M594.1 466.3h0M595.9 465.4h0M597.1 465.9h0M598.8 466.3h0M600 466.9h0M601.7 467h0M603.4 466.8h0M604.7 467.3h0M605.2 467.4h0M607.9 467.7h0M609.8 467.4h0M610.5 466.6h0M613.5 466.9h0M614.9 466.6h0M616.7 467.8h0M618.1 467.3h0M621.1 468.9h0M621.3 467.8h0M622.8 470.4h0M622.9 471.8h0M624.7 474h0M625.3 473.7h0M625.4 474.4h0M625.8 475.8h0M627.5 476.5h0M628.2 478.6h0M628.8 478.7h0M630.3 480.5h0M632.4 480.9h0M633 481.8h0M635.3 481.4h0M635.3 482.1h0M638.2 481.6h0M640.9 481.1h0M642.3 481.3h0M642.9 481.9h0M644.3 481.7h0M645.5 480.2h0M646.3 481.9h0M648.1 482.5h0M650.2 483.4h0M651.1 483.8h0M653.2 485.1h0M653.1 486.2h0M654.2 486.7h0M655.1 489.7h0M656.6 490.8h0M656 492h0M656.1 492.7h0M656 495.4h0M656.6 495.3h0M655.8 497.5h0M655.6 498.4h0M655.8 500.4h0M654.1 500.4h0M652.4 501.5h0M652.1 502.9h0M649.3 503.6h0M648.9 505h0M647.7 505.3h0M646.1 506.4h0M645.1 506.5h0M643.7 506.8h0M641.2 507h0M638.9 507.8h0M637.2 506.7h0M637.4 508h0M636.5 506.8h0M634.4 505.3h0M633.3 504.7h0M632.3 505.2h0M630.4 504.9h0M631 505.1h0M628.2 503.3h0M627.7 503.1h0M626.4 501.4h0M624.5 501.7h0M624.9 502h0M622.6 500h0M621 498.7h0M620.5 499.1h0M619.7 499.3h0M618.1 498.5h0M617.3 497.3h0M615.2 495.4h0M614.9 496.6h0M613.1 495.6h0M611.3 493.6h0M611.2 493.8h0M609.6 492.9h0M608.2 491.2h0M607 489.3h0M605.9 489.7h0M604.4 488.1h0M602.5 487.2h0M603.1 486h0M601.5 485h0M599.7 483.1h0M598.6 482.8h0M595.1 481.5h0M595.3 482.4h0M593.2 483.9h0M590.4 484.4h0M591.7 484.3h0M589.1 485.5h0M587.7 485.9h0M586.3 486.9h0M583 487h0M582 487.2h0M579.3 488h0M579 487.6h0M577.4 487.3h0M575.3 488h0M572.1 486.4h0" stroke="#b0ebee" stroke-width="1.9" stroke-linecap="round" fill="none"/>
<path d="M612.1 480.7h.1M607.9 480.5h.1M645.3 492.2h.1M640.6 496.9h.1M605.7 479.5h.1M642.3 493.6h.1M622.3 487.3h.1M647.7 496h.1M600.6 477.3h.1M633.2 495.9h.1M613.3 486h.1M621.6 488h.1M612.6 481.2h.1M607.3 484h.1M620.7 486.6h.1M635.7 497.8h.1M628.5 486.9h.1M633.9 492.6h.1M626.8 497.2h.1M602.9 480.8h.1M627.5 495.1h.1M643.1 495.7h.1M610.6 483.8h.1M608 478.8h.1M627.4 491.1h.1M601.6 475.7h.1M612.9 480.2h.1M644.7 496.2h.1M616.1 482.3h.1M616.2 491.5h.1M625.9 491.1h.1M629 495.1h.1M627.7 491h.1M610.3 479.4h.1M619.1 492.4h.1M624.2 492.2h.1M629.4 491.4h.1M617.8 489.8h.1M603.2 478.8h.1M600.2 479.4h.1M625 493.3h.1M635.9 493.5h.1M604.2 481.4h.1M617.2 487.6h.1M615.7 481h.1M631.3 492.8h.1M629.4 495.9h.1M629.3 496.4h.1M640.7 497.2h.1M621.8 485h.1M624.5 489.9h.1M633.8 496.1h.1M630 494.2h.1M614.7 484.9h.1M620.5 486.4h.1M601.8 475.9h.1M630.2 497.9h.1M609.2 480.5h.1M619.5 485.9h.1M606.5 477.5h.1M629.8 494.1h.1M637 494.6h.1M622.8 494.4h.1M622.2 483.2h.1M633.2 494.2h.1M610.1 476.2h.1M627.6 493.9h.1M628.2 490.1h.1M607.2 483.4h.1M627.7 497.1h.1M632.5 493.6h.1M625.6 492.3h.1M640 497.8h.1M607.5 476.3h.1M599.3 474.5h.1M614 483.4h.1M605.6 479.7h.1M632.7 495.1h.1M624 487h.1M608.7 481.8h.1M613.2 476.3h.1M619.3 489.6h.1M626.2 489.4h.1M623.8 489.3h.1M612.3 483h.1M624.2 496.7h.1M605.9 481.6h.1M620.7 485.8h.1M626.7 494h.1M621.6 487.7h.1M605.2 474.3h.1M648.1 494.4h.1M609.3 479.8h.1M605.9 475.5h.1M631.6 497h.1M605.6 480.1h.1M602.6 476.2h.1M613.8 480.8h.1M626.9 491.9h.1M610.8 481.3h.1M625 493h.1M622.3 489.2h.1M608.6 476.6h.1M638.2 498.3h.1M602.6 473.5h.1M622 492h.1M626.8 491.1h.1M605.4 478.4h.1M619.2 484.5h.1M603.3 478.4h.1M616.5 487.1h.1M619.2 487.1h.1M601.7 469.4h.1M611 484.1h.1M619.6 492.8h.1M632 492.5h.1M610.2 481.2h.1M629.1 493.8h.1M606.6 480.6h.1M637.4 492.6h.1M601.6 475.9h.1M612 487.7h.1M629.8 494.4h.1M626.6 491.2h.1M621.7 491.1h.1M629.3 495.1h.1M635.6 496.4h.1M641.2 495.8h.1M639.5 491.4h.1M622.5 485.8h.1M616.2 489.9h.1M628.8 490.1h.1M624.3 497.6h.1M640.8 497.4h.1M621.9 492.9h.1M633.5 494.6h.1M633.5 495.4h.1M619.1 485.8h.1M616.9 484.4h.1M619.6 487.1h.1M615.5 482.8h.1M624 481.4h.1M619.7 488h.1M625.8 488.8h.1M600.7 474h.1M628.3 491.3h.1M636.7 494.6h.1M618.4 489.2h.1M642.4 498.7h.1M624.9 492.2h.1M618.4 483.4h.1M628.3 494.6h.1M644.6 494h.1M618 484.9h.1" stroke="#f20d0d" stroke-width="2" stroke-linecap="square" fill="none"/>
</g>
<g id="pe">
<text x="78.5" y="658.1" font-size="24.4" font-weight="bold" >(e)</text>
<text x="209.2" y="697.6" font-size="21.7" text-anchor="middle" >Circular</text>
<text x="481.8" y="699.8" font-size="23.3" text-anchor="middle" >DRL</text>
<g clip-path="url(#cl3)" fill="#4480c0" fill-opacity="0.8"><circle cx="118.1" cy="705.6" r="8.7"/><circle cx="141.7" cy="705.6" r="8.7"/><circle cx="165.2" cy="705.6" r="8.7"/><circle cx="188.8" cy="705.6" r="8.7"/><circle cx="212.3" cy="705.6" r="8.7"/><circle cx="235.8" cy="705.6" r="8.7"/><circle cx="259.4" cy="705.6" r="8.7"/><circle cx="282.9" cy="705.6" r="8.7"/><circle cx="306.4" cy="705.6" r="8.7"/><circle cx="106.4" cy="698.8" r="8.7"/><circle cx="106.4" cy="726" r="8.7"/><circle cx="129.9" cy="698.8" r="8.7"/><circle cx="129.9" cy="726" r="8.7"/><circle cx="153.4" cy="698.8" r="8.7"/><circle cx="153.4" cy="726" r="8.7"/><circle cx="177" cy="698.8" r="8.7"/><circle cx="177" cy="726" r="8.7"/><circle cx="200.5" cy="698.8" r="8.7"/><circle cx="200.5" cy="726" r="8.7"/><circle cx="224.1" cy="698.8" r="8.7"/><circle cx="224.1" cy="726" r="8.7"/><circle cx="247.6" cy="698.8" r="8.7"/><circle cx="247.6" cy="726" r="8.7"/><circle cx="271.1" cy="698.8" r="8.7"/><circle cx="271.1" cy="726" r="8.7"/><circle cx="294.7" cy="698.8" r="8.7"/><circle cx="294.7" cy="726" r="8.7"/><circle cx="118.1" cy="719.2" r="8.7"/><circle cx="118.1" cy="746.4" r="8.7"/><circle cx="141.7" cy="719.2" r="8.7"/><circle cx="141.7" cy="746.4" r="8.7"/><circle cx="165.2" cy="719.2" r="8.7"/><circle cx="165.2" cy="746.4" r="8.7"/><circle cx="188.8" cy="719.2" r="8.7"/><circle cx="212.3" cy="719.2" r="8.7"/><circle cx="235.8" cy="719.2" r="8.7"/><circle cx="259.4" cy="719.2" r="8.7"/><circle cx="259.4" cy="746.4" r="8.7"/><circle cx="282.9" cy="719.2" r="8.7"/><circle cx="282.9" cy="746.4" r="8.7"/><circle cx="306.4" cy="719.2" r="8.7"/><circle cx="306.4" cy="746.4" r="8.7"/><circle cx="106.4" cy="739.6" r="8.7"/><circle cx="106.4" cy="766.8" r="8.7"/><circle cx="129.9" cy="739.6" r="8.7"/><circle cx="129.9" cy="766.8" r="8.7"/><circle cx="153.4" cy="739.6" r="8.7"/><circle cx="177" cy="739.6" r="8.7"/><circle cx="224.1" cy="739.6" r="8.7"/><circle cx="247.6" cy="739.6" r="8.7"/><circle cx="271.1" cy="739.6" r="8.7"/><circle cx="271.1" cy="766.8" r="8.7"/><circle cx="294.7" cy="739.6" r="8.7"/><circle cx="294.7" cy="766.8" r="8.7"/><circle cx="118.1" cy="760" r="8.7"/><circle cx="118.1" cy="787.1" r="8.7"/><circle cx="141.7" cy="760" r="8.7"/><circle cx="141.7" cy="787.1" r="8.7"/><circle cx="259.4" cy="760" r="8.7"/><circle cx="282.9" cy="760" r="8.7"/><circle cx="282.9" cy="787.1" r="8.7"/><circle cx="306.4" cy="760" r="8.7"/><circle cx="306.4" cy="787.1" r="8.7"/><circle cx="106.4" cy="780.4" r="8.7"/><circle cx="106.4" cy="807.5" r="8.7"/><circle cx="129.9" cy="780.4" r="8.7"/><circle cx="129.9" cy="807.5" r="8.7"/><circle cx="271.1" cy="780.4" r="8.7"/><circle cx="271.1" cy="807.5" r="8.7"/><circle cx="294.7" cy="780.4" r="8.7"/><circle cx="294.7" cy="807.5" r="8.7"/><circle cx="118.1" cy="800.7" r="8.7"/><circle cx="118.1" cy="827.9" r="8.7"/><circle cx="141.7" cy="800.7" r="8.7"/><circle cx="141.7" cy="827.9" r="8.7"/><circle cx="259.4" cy="827.9" r="8.7"/><circle cx="282.9" cy="800.7" r="8.7"/><circle cx="282.9" cy="827.9" r="8.7"/><circle cx="306.4" cy="800.7" r="8.7"/><circle cx="306.4" cy="827.9" r="8.7"/><circle cx="106.4" cy="821.1" r="8.7"/><circle cx="106.4" cy="848.3" r="8.7"/><circle cx="129.9" cy="821.1" r="8.7"/><circle cx="129.9" cy="848.3" r="8.7"/><circle cx="153.4" cy="848.3" r="8.7"/><circle cx="247.6" cy="848.3" r="8.7"/><circle cx="271.1" cy="821.1" r="8.7"/><circle cx="271.1" cy="848.3" r="8.7"/><circle cx="294.7" cy="821.1" r="8.7"/><circle cx="294.7" cy="848.3" r="8.7"/><circle cx="118.1" cy="841.5" r="8.7"/><circle cx="118.1" cy="868.7" r="8.7"/><circle cx="141.7" cy="841.5" r="8.7"/><circle cx="141.7" cy="868.7" r="8.7"/><circle cx="165.2" cy="868.7" r="8.7"/><circle cx="188.8" cy="868.7" r="8.7"/><circle cx="212.3" cy="868.7" r="8.7"/><circle cx="235.8" cy="868.7" r="8.7"/><circle cx="259.4" cy="841.5" r="8.7"/><circle cx="259.4" cy="868.7" r="8.7"/><circle cx="282.9" cy="841.5" r="8.7"/><circle cx="282.9" cy="868.7" r="8.7"/><circle cx="306.4" cy="841.5" r="8.7"/><circle cx="306.4" cy="868.7" r="8.7"/><circle cx="106.4" cy="861.9" r="8.7"/><circle cx="106.4" cy="889.1" r="8.7"/><circle cx="129.9" cy="861.9" r="8.7"/><circle cx="129.9" cy="889.1" r="8.7"/><circle cx="153.4" cy="861.9" r="8.7"/><circle cx="153.4" cy="889.1" r="8.7"/><circle cx="177" cy="861.9" r="8.7"/><circle cx="177" cy="889.1" r="8.7"/><circle cx="200.5" cy="861.9" r="8.7"/><circle cx="200.5" cy="889.1" r="8.7"/><circle cx="224.1" cy="861.9" r="8.7"/><circle cx="224.1" cy="889.1" r="8.7"/><circle cx="247.6" cy="861.9" r="8.7"/><circle cx="247.6" cy="889.1" r="8.7"/><circle cx="271.1" cy="861.9" r="8.7"/><circle cx="271.1" cy="889.1" r="8.7"/><circle cx="294.7" cy="861.9" r="8.7"/><circle cx="294.7" cy="889.1" r="8.7"/><circle cx="118.1" cy="882.3" r="8.7"/><circle cx="141.7" cy="882.3" r="8.7"/><circle cx="165.2" cy="882.3" r="8.7"/><circle cx="188.8" cy="882.3" r="8.7"/><circle cx="212.3" cy="882.3" r="8.7"/><circle cx="235.8" cy="882.3" r="8.7"/><circle cx="259.4" cy="882.3" r="8.7"/><circle cx="282.9" cy="882.3" r="8.7"/><circle cx="306.4" cy="882.3" r="8.7"/></g>
<circle cx="180.5" cy="780.9" r="29.3" fill="none" stroke="#4a74c9" stroke-width="1.2" stroke-dasharray="3.6 2.6"/><circle cx="201.2" cy="780.9" r="5" fill="url(#gO)"/><ellipse cx="201.2" cy="780.9" rx="1.6" ry="2" fill="none" stroke="#111" stroke-width="1.1"/><circle cx="207.1" cy="786.4" r="2.75" fill="url(#gH)"/><path d="M206.2 785.2v2.4m1.9 0v-2.4m0 1.2h-1.9" stroke="#0a2406" stroke-width=".8" fill="none"/><circle cx="207.1" cy="775.4" r="2.75" fill="url(#gH)"/><path d="M206.2 774.2v2.4m1.9 0v-2.4m0 1.2h-1.9" stroke="#0a2406" stroke-width=".8" fill="none"/><circle cx="180.5" cy="801.6" r="5" fill="url(#gO)"/><ellipse cx="180.5" cy="801.6" rx="2.1" ry="1.5" fill="none" stroke="#111" stroke-width="1.1"/><circle cx="175" cy="807.5" r="2.75" fill="url(#gH)"/><path d="M174.1 806.3v2.4m1.9 0v-2.4m0 1.2h-1.9" stroke="#0a2406" stroke-width=".8" fill="none"/><circle cx="186" cy="807.5" r="2.75" fill="url(#gH)"/><path d="M185 806.3v2.4m1.9 0v-2.4m0 1.2h-1.9" stroke="#0a2406" stroke-width=".8" fill="none"/><circle cx="159.8" cy="780.9" r="5" fill="url(#gO)"/><ellipse cx="159.8" cy="780.9" rx="1.6" ry="2" fill="none" stroke="#111" stroke-width="1.1"/><circle cx="153.9" cy="775.4" r="2.75" fill="url(#gH)"/><path d="M152.9 774.2v2.4m1.9 0v-2.4m0 1.2h-1.9" stroke="#0a2406" stroke-width=".8" fill="none"/><circle cx="153.9" cy="786.4" r="2.75" fill="url(#gH)"/><path d="M152.9 785.2v2.4m1.9 0v-2.4m0 1.2h-1.9" stroke="#0a2406" stroke-width=".8" fill="none"/><circle cx="180.5" cy="760.2" r="5" fill="url(#gO)"/><ellipse cx="180.5" cy="760.2" rx="2.1" ry="1.5" fill="none" stroke="#111" stroke-width="1.1"/><circle cx="186" cy="754.3" r="2.75" fill="url(#gH)"/><path d="M185 753.1v2.4m1.9 0v-2.4m0 1.2h-1.9" stroke="#0a2406" stroke-width=".8" fill="none"/><circle cx="175" cy="754.3" r="2.75" fill="url(#gH)"/><path d="M174.1 753.1v2.4m1.9 0v-2.4m0 1.2h-1.9" stroke="#0a2406" stroke-width=".8" fill="none"/><circle cx="180.5" cy="780.9" r="15" fill="url(#gK)"/><text x="180.5" y="784.9" font-family="Liberation Serif, serif" font-weight="bold" font-size="11.6" text-anchor="middle">K</text>
<circle cx="236.1" cy="784.4" r="26.9" fill="none" stroke="#4a74c9" stroke-width="1.2" stroke-dasharray="3.6 2.6"/><circle cx="258.4" cy="784.4" r="5" fill="url(#gO)"/><ellipse cx="258.4" cy="784.4" rx="1.6" ry="2" fill="none" stroke="#111" stroke-width="1.1"/><circle cx="251.8" cy="789.7" r="2.75" fill="url(#gH)"/><path d="M250.9 788.5v2.4m1.9 0v-2.4m0 1.2h-1.9" stroke="#0a2406" stroke-width=".8" fill="none"/><circle cx="251.8" cy="779.1" r="2.75" fill="url(#gH)"/><path d="M250.9 777.9v2.4m1.9 0v-2.4m0 1.2h-1.9" stroke="#0a2406" stroke-width=".8" fill="none"/><circle cx="236.1" cy="806.7" r="5" fill="url(#gO)"/><ellipse cx="236.1" cy="806.7" rx="2.1" ry="1.5" fill="none" stroke="#111" stroke-width="1.1"/><circle cx="230.8" cy="800.1" r="2.75" fill="url(#gH)"/><path d="M229.9 798.9v2.4m1.9 0v-2.4m0 1.2h-1.9" stroke="#0a2406" stroke-width=".8" fill="none"/><circle cx="241.4" cy="800.1" r="2.75" fill="url(#gH)"/><path d="M240.4 798.9v2.4m1.9 0v-2.4m0 1.2h-1.9" stroke="#0a2406" stroke-width=".8" fill="none"/><circle cx="213.8" cy="784.4" r="5" fill="url(#gO)"/><ellipse cx="213.8" cy="784.4" rx="1.6" ry="2" fill="none" stroke="#111" stroke-width="1.1"/><circle cx="220.4" cy="779.1" r="2.75" fill="url(#gH)"/><path d="M219.4 777.9v2.4m1.9 0v-2.4m0 1.2h-1.9" stroke="#0a2406" stroke-width=".8" fill="none"/><circle cx="220.4" cy="789.7" r="2.75" fill="url(#gH)"/><path d="M219.4 788.5v2.4m1.9 0v-2.4m0 1.2h-1.9" stroke="#0a2406" stroke-width=".8" fill="none"/><circle cx="236.1" cy="762.1" r="5" fill="url(#gO)"/><ellipse cx="236.1" cy="762.1" rx="2.1" ry="1.5" fill="none" stroke="#111" stroke-width="1.1"/><circle cx="241.4" cy="768.7" r="2.75" fill="url(#gH)"/><path d="M240.4 767.5v2.4m1.9 0v-2.4m0 1.2h-1.9" stroke="#0a2406" stroke-width=".8" fill="none"/><circle cx="230.8" cy="768.7" r="2.75" fill="url(#gH)"/><path d="M229.9 767.5v2.4m1.9 0v-2.4m0 1.2h-1.9" stroke="#0a2406" stroke-width=".8" fill="none"/><circle cx="236.1" cy="784.4" r="13.6" fill="url(#gCl)"/><text x="236.1" y="788.4" font-family="Liberation Serif, serif" font-weight="bold" font-size="11.6" text-anchor="middle">Cl</text>
<circle cx="209.2" cy="829" r="26.9" fill="none" stroke="#4a74c9" stroke-width="1.2" stroke-dasharray="3.6 2.6"/><circle cx="231.5" cy="829" r="5" fill="url(#gO)"/><ellipse cx="231.5" cy="829" rx="1.6" ry="2" fill="none" stroke="#111" stroke-width="1.1"/><circle cx="224.9" cy="834.3" r="2.75" fill="url(#gH)"/><path d="M224 833.1v2.4m1.9 0v-2.4m0 1.2h-1.9" stroke="#0a2406" stroke-width=".8" fill="none"/><circle cx="224.9" cy="823.7" r="2.75" fill="url(#gH)"/><path d="M224 822.5v2.4m1.9 0v-2.4m0 1.2h-1.9" stroke="#0a2406" stroke-width=".8" fill="none"/><circle cx="209.2" cy="851.3" r="5" fill="url(#gO)"/><ellipse cx="209.2" cy="851.3" rx="2.1" ry="1.5" fill="none" stroke="#111" stroke-width="1.1"/><circle cx="203.9" cy="844.7" r="2.75" fill="url(#gH)"/><path d="M203 843.5v2.4m1.9 0v-2.4m0 1.2h-1.9" stroke="#0a2406" stroke-width=".8" fill="none"/><circle cx="214.5" cy="844.7" r="2.75" fill="url(#gH)"/><path d="M213.5 843.5v2.4m1.9 0v-2.4m0 1.2h-1.9" stroke="#0a2406" stroke-width=".8" fill="none"/><circle cx="186.9" cy="829" r="5" fill="url(#gO)"/><ellipse cx="186.9" cy="829" rx="1.6" ry="2" fill="none" stroke="#111" stroke-width="1.1"/><circle cx="193.5" cy="823.7" r="2.75" fill="url(#gH)"/><path d="M192.5 822.5v2.4m1.9 0v-2.4m0 1.2h-1.9" stroke="#0a2406" stroke-width=".8" fill="none"/><circle cx="193.5" cy="834.3" r="2.75" fill="url(#gH)"/><path d="M192.5 833.1v2.4m1.9 0v-2.4m0 1.2h-1.9" stroke="#0a2406" stroke-width=".8" fill="none"/><circle cx="209.2" cy="806.7" r="5" fill="url(#gO)"/><ellipse cx="209.2" cy="806.7" rx="2.1" ry="1.5" fill="none" stroke="#111" stroke-width="1.1"/><circle cx="214.5" cy="813.3" r="2.75" fill="url(#gH)"/><path d="M213.5 812.1v2.4m1.9 0v-2.4m0 1.2h-1.9" stroke="#0a2406" stroke-width=".8" fill="none"/><circle cx="203.9" cy="813.3" r="2.75" fill="url(#gH)"/><path d="M203 812.1v2.4m1.9 0v-2.4m0 1.2h-1.9" stroke="#0a2406" stroke-width=".8" fill="none"/><circle cx="209.2" cy="829" r="13.6" fill="url(#gCl)"/><text x="209.2" y="833" font-family="Liberation Serif, serif" font-weight="bold" font-size="11.6" text-anchor="middle">Cl</text>
<g clip-path="url(#cl4)" fill="#000" fill-opacity="0.8"><circle cx="322.6" cy="713.4" r="8.7"/><circle cx="346.2" cy="713.4" r="8.7"/><circle cx="369.7" cy="713.4" r="8.7"/><circle cx="393.3" cy="713.4" r="8.7"/><circle cx="416.8" cy="713.4" r="8.7"/><circle cx="440.4" cy="713.4" r="8.7"/><circle cx="463.9" cy="713.4" r="8.7"/><circle cx="487.5" cy="713.4" r="8.7"/><circle cx="511" cy="713.4" r="8.7"/><circle cx="534.6" cy="713.4" r="8.7"/><circle cx="558.1" cy="713.4" r="8.7"/><circle cx="581.7" cy="713.4" r="8.7"/><circle cx="605.2" cy="713.4" r="8.7"/><circle cx="628.8" cy="713.4" r="8.7"/><circle cx="334.4" cy="706.6" r="8.7"/><circle cx="334.4" cy="733.8" r="8.7"/><circle cx="357.9" cy="706.6" r="8.7"/><circle cx="357.9" cy="733.8" r="8.7"/><circle cx="381.5" cy="706.6" r="8.7"/><circle cx="381.5" cy="733.8" r="8.7"/><circle cx="405" cy="706.6" r="8.7"/><circle cx="405" cy="733.8" r="8.7"/><circle cx="428.6" cy="706.6" r="8.7"/><circle cx="452.1" cy="706.6" r="8.7"/><circle cx="452.1" cy="733.8" r="8.7"/><circle cx="475.7" cy="706.6" r="8.7"/><circle cx="475.7" cy="733.8" r="8.7"/><circle cx="499.2" cy="706.6" r="8.7"/><circle cx="499.2" cy="733.8" r="8.7"/><circle cx="522.8" cy="706.6" r="8.7"/><circle cx="522.8" cy="733.8" r="8.7"/><circle cx="546.4" cy="706.6" r="8.7"/><circle cx="546.4" cy="733.8" r="8.7"/><circle cx="569.9" cy="706.6" r="8.7"/><circle cx="569.9" cy="733.8" r="8.7"/><circle cx="593.5" cy="706.6" r="8.7"/><circle cx="593.5" cy="733.8" r="8.7"/><circle cx="617" cy="706.6" r="8.7"/><circle cx="617" cy="733.8" r="8.7"/><circle cx="322.6" cy="727" r="8.7"/><circle cx="322.6" cy="754.2" r="8.7"/><circle cx="346.2" cy="727" r="8.7"/><circle cx="346.2" cy="754.2" r="8.7"/><circle cx="369.7" cy="727" r="8.7"/><circle cx="369.7" cy="754.2" r="8.7"/><circle cx="393.3" cy="727" r="8.7"/><circle cx="416.8" cy="727" r="8.7"/><circle cx="440.4" cy="727" r="8.7"/><circle cx="463.9" cy="727" r="8.7"/><circle cx="487.5" cy="727" r="8.7"/><circle cx="511" cy="727" r="8.7"/><circle cx="511" cy="754.2" r="8.7"/><circle cx="534.6" cy="727" r="8.7"/><circle cx="534.6" cy="754.2" r="8.7"/><circle cx="558.1" cy="727" r="8.7"/><circle cx="558.1" cy="754.2" r="8.7"/><circle cx="581.7" cy="727" r="8.7"/><circle cx="581.7" cy="754.2" r="8.7"/><circle cx="605.2" cy="727" r="8.7"/><circle cx="605.2" cy="754.2" r="8.7"/><circle cx="628.8" cy="727" r="8.7"/><circle cx="628.8" cy="754.2" r="8.7"/><circle cx="334.4" cy="747.4" r="8.7"/><circle cx="334.4" cy="774.6" r="8.7"/><circle cx="357.9" cy="747.4" r="8.7"/><circle cx="357.9" cy="774.6" r="8.7"/><circle cx="499.2" cy="747.4" r="8.7"/><circle cx="522.8" cy="747.4" r="8.7"/><circle cx="522.8" cy="774.6" r="8.7"/><circle cx="546.4" cy="747.4" r="8.7"/><circle cx="546.4" cy="774.6" r="8.7"/><circle cx="569.9" cy="747.4" r="8.7"/><circle cx="569.9" cy="774.6" r="8.7"/><circle cx="593.5" cy="747.4" r="8.7"/><circle cx="593.5" cy="774.6" r="8.7"/><circle cx="617" cy="747.4" r="8.7"/><circle cx="617" cy="774.6" r="8.7"/><circle cx="322.6" cy="767.8" r="8.7"/><circle cx="322.6" cy="795" r="8.7"/><circle cx="346.2" cy="767.8" r="8.7"/><circle cx="346.2" cy="795" r="8.7"/><circle cx="369.7" cy="767.8" r="8.7"/><circle cx="416.8" cy="795" r="8.7"/><circle cx="511" cy="767.8" r="8.7"/><circle cx="534.6" cy="767.8" r="8.7"/><circle cx="558.1" cy="767.8" r="8.7"/><circle cx="581.7" cy="767.8" r="8.7"/><circle cx="605.2" cy="767.8" r="8.7"/><circle cx="605.2" cy="795" r="8.7"/><circle cx="628.8" cy="767.8" r="8.7"/><circle cx="628.8" cy="795" r="8.7"/><circle cx="334.4" cy="788.2" r="8.7"/><circle cx="334.4" cy="815.4" r="8.7"/><circle cx="357.9" cy="815.4" r="8.7"/><circle cx="381.5" cy="815.4" r="8.7"/><circle cx="405" cy="815.4" r="8.7"/><circle cx="428.6" cy="815.4" r="8.7"/><circle cx="593.5" cy="788.2" r="8.7"/><circle cx="593.5" cy="815.4" r="8.7"/><circle cx="617" cy="788.2" r="8.7"/><circle cx="617" cy="815.4" r="8.7"/><circle cx="322.6" cy="808.6" r="8.7"/><circle cx="322.6" cy="835.8" r="8.7"/><circle cx="346.2" cy="808.6" r="8.7"/><circle cx="346.2" cy="835.8" r="8.7"/><circle cx="369.7" cy="808.6" r="8.7"/><circle cx="369.7" cy="835.8" r="8.7"/><circle cx="393.3" cy="808.6" r="8.7"/><circle cx="393.3" cy="835.8" r="8.7"/><circle cx="416.8" cy="808.6" r="8.7"/><circle cx="416.8" cy="835.8" r="8.7"/><circle cx="440.4" cy="835.8" r="8.7"/><circle cx="463.9" cy="835.8" r="8.7"/><circle cx="605.2" cy="808.6" r="8.7"/><circle cx="605.2" cy="835.8" r="8.7"/><circle cx="628.8" cy="808.6" r="8.7"/><circle cx="628.8" cy="835.8" r="8.7"/><circle cx="334.4" cy="829" r="8.7"/><circle cx="334.4" cy="856.2" r="8.7"/><circle cx="357.9" cy="829" r="8.7"/><circle cx="357.9" cy="856.2" r="8.7"/><circle cx="381.5" cy="829" r="8.7"/><circle cx="381.5" cy="856.2" r="8.7"/><circle cx="405" cy="829" r="8.7"/><circle cx="405" cy="856.2" r="8.7"/><circle cx="428.6" cy="829" r="8.7"/><circle cx="428.6" cy="856.2" r="8.7"/><circle cx="452.1" cy="829" r="8.7"/><circle cx="452.1" cy="856.2" r="8.7"/><circle cx="475.7" cy="856.2" r="8.7"/><circle cx="499.2" cy="856.2" r="8.7"/><circle cx="522.8" cy="856.2" r="8.7"/><circle cx="569.9" cy="856.2" r="8.7"/><circle cx="593.5" cy="829" r="8.7"/><circle cx="593.5" cy="856.2" r="8.7"/><circle cx="617" cy="829" r="8.7"/><circle cx="617" cy="856.2" r="8.7"/><circle cx="322.6" cy="849.4" r="8.7"/><circle cx="322.6" cy="876.6" r="8.7"/><circle cx="346.2" cy="849.4" r="8.7"/><circle cx="346.2" cy="876.6" r="8.7"/><circle cx="369.7" cy="849.4" r="8.7"/><circle cx="369.7" cy="876.6" r="8.7"/><circle cx="393.3" cy="849.4" r="8.7"/><circle cx="393.3" cy="876.6" r="8.7"/><circle cx="416.8" cy="849.4" r="8.7"/><circle cx="416.8" cy="876.6" r="8.7"/><circle cx="440.4" cy="849.4" r="8.7"/><circle cx="440.4" cy="876.6" r="8.7"/><circle cx="463.9" cy="849.4" r="8.7"/><circle cx="463.9" cy="876.6" r="8.7"/><circle cx="487.5" cy="849.4" r="8.7"/><circle cx="487.5" cy="876.6" r="8.7"/><circle cx="511" cy="876.6" r="8.7"/><circle cx="534.6" cy="876.6" r="8.7"/><circle cx="558.1" cy="876.6" r="8.7"/><circle cx="581.7" cy="849.4" r="8.7"/><circle cx="581.7" cy="876.6" r="8.7"/><circle cx="605.2" cy="849.4" r="8.7"/><circle cx="605.2" cy="876.6" r="8.7"/><circle cx="628.8" cy="849.4" r="8.7"/><circle cx="628.8" cy="876.6" r="8.7"/><circle cx="334.4" cy="869.8" r="8.7"/><circle cx="334.4" cy="897" r="8.7"/><circle cx="357.9" cy="869.8" r="8.7"/><circle cx="357.9" cy="897" r="8.7"/><circle cx="381.5" cy="869.8" r="8.7"/><circle cx="381.5" cy="897" r="8.7"/><circle cx="405" cy="869.8" r="8.7"/><circle cx="405" cy="897" r="8.7"/><circle cx="428.6" cy="869.8" r="8.7"/><circle cx="428.6" cy="897" r="8.7"/><circle cx="452.1" cy="869.8" r="8.7"/><circle cx="452.1" cy="897" r="8.7"/><circle cx="475.7" cy="869.8" r="8.7"/><circle cx="475.7" cy="897" r="8.7"/><circle cx="499.2" cy="869.8" r="8.7"/><circle cx="499.2" cy="897" r="8.7"/><circle cx="522.8" cy="869.8" r="8.7"/><circle cx="522.8" cy="897" r="8.7"/><circle cx="546.4" cy="869.8" r="8.7"/><circle cx="546.4" cy="897" r="8.7"/><circle cx="569.9" cy="869.8" r="8.7"/><circle cx="569.9" cy="897" r="8.7"/><circle cx="593.5" cy="869.8" r="8.7"/><circle cx="593.5" cy="897" r="8.7"/><circle cx="617" cy="869.8" r="8.7"/><circle cx="617" cy="897" r="8.7"/><circle cx="322.6" cy="890.2" r="8.7"/><circle cx="346.2" cy="890.2" r="8.7"/><circle cx="369.7" cy="890.2" r="8.7"/><circle cx="393.3" cy="890.2" r="8.7"/><circle cx="416.8" cy="890.2" r="8.7"/><circle cx="440.4" cy="890.2" r="8.7"/><circle cx="463.9" cy="890.2" r="8.7"/><circle cx="487.5" cy="890.2" r="8.7"/><circle cx="511" cy="890.2" r="8.7"/><circle cx="534.6" cy="890.2" r="8.7"/><circle cx="558.1" cy="890.2" r="8.7"/><circle cx="581.7" cy="890.2" r="8.7"/><circle cx="605.2" cy="890.2" r="8.7"/><circle cx="628.8" cy="890.2" r="8.7"/></g>
<circle cx="394.4" cy="772.6" r="29.3" fill="none" stroke="#4a74c9" stroke-width="1.2" stroke-dasharray="3.6 2.6"/><circle cx="415.1" cy="772.6" r="5" fill="url(#gO)"/><ellipse cx="415.1" cy="772.6" rx="1.6" ry="2" fill="none" stroke="#111" stroke-width="1.1"/><circle cx="421" cy="778.1" r="2.75" fill="url(#gH)"/><path d="M420.1 776.9v2.4m1.9 0v-2.4m0 1.2h-1.9" stroke="#0a2406" stroke-width=".8" fill="none"/><circle cx="421" cy="767.1" r="2.75" fill="url(#gH)"/><path d="M420.1 765.9v2.4m1.9 0v-2.4m0 1.2h-1.9" stroke="#0a2406" stroke-width=".8" fill="none"/><circle cx="394.4" cy="793.3" r="5" fill="url(#gO)"/><ellipse cx="394.4" cy="793.3" rx="2.1" ry="1.5" fill="none" stroke="#111" stroke-width="1.1"/><circle cx="388.9" cy="799.2" r="2.75" fill="url(#gH)"/><path d="M388 798v2.4m1.9 0v-2.4m0 1.2h-1.9" stroke="#0a2406" stroke-width=".8" fill="none"/><circle cx="399.9" cy="799.2" r="2.75" fill="url(#gH)"/><path d="M398.9 798v2.4m1.9 0v-2.4m0 1.2h-1.9" stroke="#0a2406" stroke-width=".8" fill="none"/><circle cx="373.7" cy="772.6" r="5" fill="url(#gO)"/><ellipse cx="373.7" cy="772.6" rx="1.6" ry="2" fill="none" stroke="#111" stroke-width="1.1"/><circle cx="367.8" cy="767.1" r="2.75" fill="url(#gH)"/><path d="M366.8 765.9v2.4m1.9 0v-2.4m0 1.2h-1.9" stroke="#0a2406" stroke-width=".8" fill="none"/><circle cx="367.8" cy="778.1" r="2.75" fill="url(#gH)"/><path d="M366.8 776.9v2.4m1.9 0v-2.4m0 1.2h-1.9" stroke="#0a2406" stroke-width=".8" fill="none"/><circle cx="394.4" cy="751.9" r="5" fill="url(#gO)"/><ellipse cx="394.4" cy="751.9" rx="2.1" ry="1.5" fill="none" stroke="#111" stroke-width="1.1"/><circle cx="399.9" cy="746" r="2.75" fill="url(#gH)"/><path d="M398.9 744.8v2.4m1.9 0v-2.4m0 1.2h-1.9" stroke="#0a2406" stroke-width=".8" fill="none"/><circle cx="388.9" cy="746" r="2.75" fill="url(#gH)"/><path d="M388 744.8v2.4m1.9 0v-2.4m0 1.2h-1.9" stroke="#0a2406" stroke-width=".8" fill="none"/><circle cx="394.4" cy="772.6" r="15" fill="url(#gK)"/><text x="394.4" y="776.6" font-family="Liberation Serif, serif" font-weight="bold" font-size="11.6" text-anchor="middle">K</text>
<circle cx="452.8" cy="775.6" r="26.9" fill="none" stroke="#4a74c9" stroke-width="1.2" stroke-dasharray="3.6 2.6"/><circle cx="475.1" cy="775.6" r="5" fill="url(#gO)"/><ellipse cx="475.1" cy="775.6" rx="1.6" ry="2" fill="none" stroke="#111" stroke-width="1.1"/><circle cx="468.5" cy="780.9" r="2.75" fill="url(#gH)"/><path d="M467.6 779.7v2.4m1.9 0v-2.4m0 1.2h-1.9" stroke="#0a2406" stroke-width=".8" fill="none"/><circle cx="468.5" cy="770.3" r="2.75" fill="url(#gH)"/><path d="M467.6 769.1v2.4m1.9 0v-2.4m0 1.2h-1.9" stroke="#0a2406" stroke-width=".8" fill="none"/><circle cx="452.8" cy="797.9" r="5" fill="url(#gO)"/><ellipse cx="452.8" cy="797.9" rx="2.1" ry="1.5" fill="none" stroke="#111" stroke-width="1.1"/><circle cx="447.5" cy="791.3" r="2.75" fill="url(#gH)"/><path d="M446.6 790.1v2.4m1.9 0v-2.4m0 1.2h-1.9" stroke="#0a2406" stroke-width=".8" fill="none"/><circle cx="458.1" cy="791.3" r="2.75" fill="url(#gH)"/><path d="M457.1 790.1v2.4m1.9 0v-2.4m0 1.2h-1.9" stroke="#0a2406" stroke-width=".8" fill="none"/><circle cx="430.5" cy="775.6" r="5" fill="url(#gO)"/><ellipse cx="430.5" cy="775.6" rx="1.6" ry="2" fill="none" stroke="#111" stroke-width="1.1"/><circle cx="437.1" cy="770.3" r="2.75" fill="url(#gH)"/><path d="M436.1 769.1v2.4m1.9 0v-2.4m0 1.2h-1.9" stroke="#0a2406" stroke-width=".8" fill="none"/><circle cx="437.1" cy="780.9" r="2.75" fill="url(#gH)"/><path d="M436.1 779.7v2.4m1.9 0v-2.4m0 1.2h-1.9" stroke="#0a2406" stroke-width=".8" fill="none"/><circle cx="452.8" cy="753.3" r="5" fill="url(#gO)"/><ellipse cx="452.8" cy="753.3" rx="2.1" ry="1.5" fill="none" stroke="#111" stroke-width="1.1"/><circle cx="458.1" cy="759.9" r="2.75" fill="url(#gH)"/><path d="M457.1 758.7v2.4m1.9 0v-2.4m0 1.2h-1.9" stroke="#0a2406" stroke-width=".8" fill="none"/><circle cx="447.5" cy="759.9" r="2.75" fill="url(#gH)"/><path d="M446.6 758.7v2.4m1.9 0v-2.4m0 1.2h-1.9" stroke="#0a2406" stroke-width=".8" fill="none"/><circle cx="452.8" cy="775.6" r="13.7" fill="url(#gCl)"/><text x="452.8" y="779.6" font-family="Liberation Serif, serif" font-weight="bold" font-size="11.6" text-anchor="middle">Cl</text>
<circle cx="494.4" cy="814.8" r="26.9" fill="none" stroke="#4a74c9" stroke-width="1.2" stroke-dasharray="3.6 2.6"/><circle cx="516.7" cy="814.8" r="5" fill="url(#gO)"/><ellipse cx="516.7" cy="814.8" rx="1.6" ry="2" fill="none" stroke="#111" stroke-width="1.1"/><circle cx="510.1" cy="820.1" r="2.75" fill="url(#gH)"/><path d="M509.2 818.9v2.4m1.9 0v-2.4m0 1.2h-1.9" stroke="#0a2406" stroke-width=".8" fill="none"/><circle cx="510.1" cy="809.5" r="2.75" fill="url(#gH)"/><path d="M509.2 808.3v2.4m1.9 0v-2.4m0 1.2h-1.9" stroke="#0a2406" stroke-width=".8" fill="none"/><circle cx="494.4" cy="837.1" r="5" fill="url(#gO)"/><ellipse cx="494.4" cy="837.1" rx="2.1" ry="1.5" fill="none" stroke="#111" stroke-width="1.1"/><circle cx="489.1" cy="830.5" r="2.75" fill="url(#gH)"/><path d="M488.2 829.3v2.4m1.9 0v-2.4m0 1.2h-1.9" stroke="#0a2406" stroke-width=".8" fill="none"/><circle cx="499.7" cy="830.5" r="2.75" fill="url(#gH)"/><path d="M498.7 829.3v2.4m1.9 0v-2.4m0 1.2h-1.9" stroke="#0a2406" stroke-width=".8" fill="none"/><circle cx="472.1" cy="814.8" r="5" fill="url(#gO)"/><ellipse cx="472.1" cy="814.8" rx="1.6" ry="2" fill="none" stroke="#111" stroke-width="1.1"/><circle cx="478.7" cy="809.5" r="2.75" fill="url(#gH)"/><path d="M477.7 808.3v2.4m1.9 0v-2.4m0 1.2h-1.9" stroke="#0a2406" stroke-width=".8" fill="none"/><circle cx="478.7" cy="820.1" r="2.75" fill="url(#gH)"/><path d="M477.7 818.9v2.4m1.9 0v-2.4m0 1.2h-1.9" stroke="#0a2406" stroke-width=".8" fill="none"/><circle cx="494.4" cy="792.5" r="5" fill="url(#gO)"/><ellipse cx="494.4" cy="792.5" rx="2.1" ry="1.5" fill="none" stroke="#111" stroke-width="1.1"/><circle cx="499.7" cy="799.1" r="2.75" fill="url(#gH)"/><path d="M498.7 797.9v2.4m1.9 0v-2.4m0 1.2h-1.9" stroke="#0a2406" stroke-width=".8" fill="none"/><circle cx="489.1" cy="799.1" r="2.75" fill="url(#gH)"/><path d="M488.2 797.9v2.4m1.9 0v-2.4m0 1.2h-1.9" stroke="#0a2406" stroke-width=".8" fill="none"/><circle cx="494.4" cy="814.8" r="13.7" fill="url(#gCl)"/><text x="494.4" y="818.8" font-family="Liberation Serif, serif" font-weight="bold" font-size="11.6" text-anchor="middle">Cl</text>
<circle cx="551.6" cy="815.4" r="29.3" fill="none" stroke="#4a74c9" stroke-width="1.2" stroke-dasharray="3.6 2.6"/><circle cx="572.3" cy="815.4" r="5" fill="url(#gO)"/><ellipse cx="572.3" cy="815.4" rx="1.6" ry="2" fill="none" stroke="#111" stroke-width="1.1"/><circle cx="578.2" cy="820.9" r="2.75" fill="url(#gH)"/><path d="M577.3 819.7v2.4m1.9 0v-2.4m0 1.2h-1.9" stroke="#0a2406" stroke-width=".8" fill="none"/><circle cx="578.2" cy="809.9" r="2.75" fill="url(#gH)"/><path d="M577.3 808.7v2.4m1.9 0v-2.4m0 1.2h-1.9" stroke="#0a2406" stroke-width=".8" fill="none"/><circle cx="551.6" cy="836.1" r="5" fill="url(#gO)"/><ellipse cx="551.6" cy="836.1" rx="2.1" ry="1.5" fill="none" stroke="#111" stroke-width="1.1"/><circle cx="546.1" cy="842" r="2.75" fill="url(#gH)"/><path d="M545.2 840.8v2.4m1.9 0v-2.4m0 1.2h-1.9" stroke="#0a2406" stroke-width=".8" fill="none"/><circle cx="557.1" cy="842" r="2.75" fill="url(#gH)"/><path d="M556.1 840.8v2.4m1.9 0v-2.4m0 1.2h-1.9" stroke="#0a2406" stroke-width=".8" fill="none"/><circle cx="530.9" cy="815.4" r="5" fill="url(#gO)"/><ellipse cx="530.9" cy="815.4" rx="1.6" ry="2" fill="none" stroke="#111" stroke-width="1.1"/><circle cx="525" cy="809.9" r="2.75" fill="url(#gH)"/><path d="M524 808.7v2.4m1.9 0v-2.4m0 1.2h-1.9" stroke="#0a2406" stroke-width=".8" fill="none"/><circle cx="525" cy="820.9" r="2.75" fill="url(#gH)"/><path d="M524 819.7v2.4m1.9 0v-2.4m0 1.2h-1.9" stroke="#0a2406" stroke-width=".8" fill="none"/><circle cx="551.6" cy="794.7" r="5" fill="url(#gO)"/><ellipse cx="551.6" cy="794.7" rx="2.1" ry="1.5" fill="none" stroke="#111" stroke-width="1.1"/><circle cx="557.1" cy="788.8" r="2.75" fill="url(#gH)"/><path d="M556.1 787.6v2.4m1.9 0v-2.4m0 1.2h-1.9" stroke="#0a2406" stroke-width=".8" fill="none"/><circle cx="546.1" cy="788.8" r="2.75" fill="url(#gH)"/><path d="M545.2 787.6v2.4m1.9 0v-2.4m0 1.2h-1.9" stroke="#0a2406" stroke-width=".8" fill="none"/><circle cx="551.6" cy="815.4" r="14.8" fill="url(#gK)"/><text x="551.6" y="819.4" font-family="Liberation Serif, serif" font-weight="bold" font-size="11.6" text-anchor="middle">K</text>
<ellipse transform="rotate(-41.5 387.5 774)" cx="387.5" cy="774" rx="50" ry="34.2" fill="none" stroke="#f01414" stroke-width="3.4" stroke-dasharray="13 8.4" stroke-dashoffset="4" stroke-linecap="butt"/>
<path d="M364.4 785.6l12.4 12.6m0-12.6l-12.4 12.6" stroke="#f01414" stroke-width="5.4" fill="none"/>
</g>
</g>
</svg>
</body></html>
